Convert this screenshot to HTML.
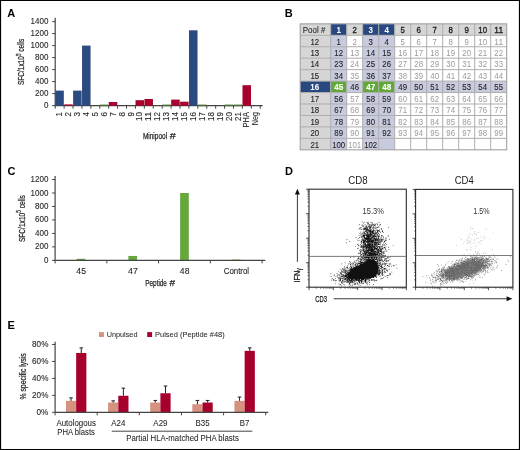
<!DOCTYPE html>
<html><head><meta charset="utf-8"><style>
html,body{margin:0;padding:0;background:#fff;}
svg{display:block;font-family:"Liberation Sans", sans-serif;will-change:transform;}
</style></head><body>
<svg width="520" height="450" viewBox="0 0 520 450">
<rect x="0" y="0" width="520" height="450" fill="#fff"/>
<text x="7.30" y="16.60" font-size="11" text-anchor="start" fill="#000" font-weight="bold" >A</text>
<line x1="55.20" y1="17.80" x2="55.20" y2="106.20" stroke="#444" stroke-width="1.2"/>
<line x1="52.20" y1="105.60" x2="55.20" y2="105.60" stroke="#444" stroke-width="1"/>
<text x="48.40" y="108.10" font-size="8.8" text-anchor="end" fill="#231f20" textLength="4.45" lengthAdjust="spacingAndGlyphs" stroke="#231f20" stroke-width="0.1" >0</text>
<line x1="52.20" y1="93.60" x2="55.20" y2="93.60" stroke="#444" stroke-width="1"/>
<text x="48.40" y="96.10" font-size="8.8" text-anchor="end" fill="#231f20" textLength="13.35" lengthAdjust="spacingAndGlyphs" stroke="#231f20" stroke-width="0.1" >200</text>
<line x1="52.20" y1="81.60" x2="55.20" y2="81.60" stroke="#444" stroke-width="1"/>
<text x="48.40" y="84.10" font-size="8.8" text-anchor="end" fill="#231f20" textLength="13.35" lengthAdjust="spacingAndGlyphs" stroke="#231f20" stroke-width="0.1" >400</text>
<line x1="52.20" y1="69.60" x2="55.20" y2="69.60" stroke="#444" stroke-width="1"/>
<text x="48.40" y="72.10" font-size="8.8" text-anchor="end" fill="#231f20" textLength="13.35" lengthAdjust="spacingAndGlyphs" stroke="#231f20" stroke-width="0.1" >600</text>
<line x1="52.20" y1="57.60" x2="55.20" y2="57.60" stroke="#444" stroke-width="1"/>
<text x="48.40" y="60.10" font-size="8.8" text-anchor="end" fill="#231f20" textLength="13.35" lengthAdjust="spacingAndGlyphs" stroke="#231f20" stroke-width="0.1" >800</text>
<line x1="52.20" y1="45.60" x2="55.20" y2="45.60" stroke="#444" stroke-width="1"/>
<text x="48.40" y="48.10" font-size="8.8" text-anchor="end" fill="#231f20" textLength="17.80" lengthAdjust="spacingAndGlyphs" stroke="#231f20" stroke-width="0.1" >1000</text>
<line x1="52.20" y1="33.60" x2="55.20" y2="33.60" stroke="#444" stroke-width="1"/>
<text x="48.40" y="36.10" font-size="8.8" text-anchor="end" fill="#231f20" textLength="17.80" lengthAdjust="spacingAndGlyphs" stroke="#231f20" stroke-width="0.1" >1200</text>
<line x1="52.20" y1="21.60" x2="55.20" y2="21.60" stroke="#444" stroke-width="1"/>
<text x="48.40" y="24.10" font-size="8.8" text-anchor="end" fill="#231f20" textLength="17.80" lengthAdjust="spacingAndGlyphs" stroke="#231f20" stroke-width="0.1" >1400</text>
<line x1="55.20" y1="105.60" x2="262.70" y2="105.60" stroke="#444" stroke-width="1.2"/>
<rect x="55.30" y="90.60" width="8.51" height="15.10" fill="#2b4a80" />
<rect x="64.21" y="104.40" width="8.51" height="1.30" fill="#a8002c" />
<rect x="73.13" y="90.60" width="8.51" height="15.10" fill="#2b4a80" />
<rect x="82.04" y="45.60" width="8.51" height="60.10" fill="#2b4a80" />
<rect x="99.87" y="104.60" width="8.51" height="1.60" fill="#4d6e38" />
<rect x="108.78" y="102.00" width="8.51" height="3.70" fill="#a8002c" />
<rect x="135.53" y="100.20" width="8.51" height="5.50" fill="#a8002c" />
<rect x="144.44" y="99.00" width="8.51" height="6.70" fill="#a8002c" />
<rect x="162.27" y="104.60" width="8.51" height="1.60" fill="#4d6e38" />
<rect x="171.18" y="99.60" width="8.51" height="6.10" fill="#a8002c" />
<rect x="180.10" y="101.70" width="8.51" height="4.00" fill="#a8002c" />
<rect x="189.01" y="30.30" width="8.51" height="75.40" fill="#2b4a80" />
<rect x="197.92" y="104.60" width="8.51" height="1.60" fill="#4d6e38" />
<rect x="224.67" y="104.60" width="8.51" height="1.60" fill="#4d6e38" />
<rect x="233.58" y="104.60" width="8.51" height="1.60" fill="#4d6e38" />
<rect x="242.49" y="85.20" width="8.51" height="20.50" fill="#a8002c" />
<line x1="55.20" y1="105.60" x2="55.20" y2="108.70" stroke="#444" stroke-width="1"/>
<line x1="64.11" y1="105.60" x2="64.11" y2="108.70" stroke="#444" stroke-width="1"/>
<line x1="73.03" y1="105.60" x2="73.03" y2="108.70" stroke="#444" stroke-width="1"/>
<line x1="81.94" y1="105.60" x2="81.94" y2="108.70" stroke="#444" stroke-width="1"/>
<line x1="90.86" y1="105.60" x2="90.86" y2="108.70" stroke="#444" stroke-width="1"/>
<line x1="99.77" y1="105.60" x2="99.77" y2="108.70" stroke="#444" stroke-width="1"/>
<line x1="108.68" y1="105.60" x2="108.68" y2="108.70" stroke="#444" stroke-width="1"/>
<line x1="117.60" y1="105.60" x2="117.60" y2="108.70" stroke="#444" stroke-width="1"/>
<line x1="126.51" y1="105.60" x2="126.51" y2="108.70" stroke="#444" stroke-width="1"/>
<line x1="135.43" y1="105.60" x2="135.43" y2="108.70" stroke="#444" stroke-width="1"/>
<line x1="144.34" y1="105.60" x2="144.34" y2="108.70" stroke="#444" stroke-width="1"/>
<line x1="153.25" y1="105.60" x2="153.25" y2="108.70" stroke="#444" stroke-width="1"/>
<line x1="162.17" y1="105.60" x2="162.17" y2="108.70" stroke="#444" stroke-width="1"/>
<line x1="171.08" y1="105.60" x2="171.08" y2="108.70" stroke="#444" stroke-width="1"/>
<line x1="180.00" y1="105.60" x2="180.00" y2="108.70" stroke="#444" stroke-width="1"/>
<line x1="188.91" y1="105.60" x2="188.91" y2="108.70" stroke="#444" stroke-width="1"/>
<line x1="197.82" y1="105.60" x2="197.82" y2="108.70" stroke="#444" stroke-width="1"/>
<line x1="206.74" y1="105.60" x2="206.74" y2="108.70" stroke="#444" stroke-width="1"/>
<line x1="215.65" y1="105.60" x2="215.65" y2="108.70" stroke="#444" stroke-width="1"/>
<line x1="224.57" y1="105.60" x2="224.57" y2="108.70" stroke="#444" stroke-width="1"/>
<line x1="233.48" y1="105.60" x2="233.48" y2="108.70" stroke="#444" stroke-width="1"/>
<line x1="242.39" y1="105.60" x2="242.39" y2="108.70" stroke="#444" stroke-width="1"/>
<line x1="251.31" y1="105.60" x2="251.31" y2="108.70" stroke="#444" stroke-width="1"/>
<line x1="260.22" y1="105.60" x2="260.22" y2="108.70" stroke="#444" stroke-width="1"/>
<text x="62.26" y="112.00" font-size="8.6" text-anchor="end" fill="#231f20" textLength="4.45" lengthAdjust="spacingAndGlyphs" transform="rotate(-90 62.26 112.00)" stroke="#231f20" stroke-width="0.1" >1</text>
<text x="71.17" y="112.00" font-size="8.6" text-anchor="end" fill="#231f20" textLength="4.45" lengthAdjust="spacingAndGlyphs" transform="rotate(-90 71.17 112.00)" stroke="#231f20" stroke-width="0.1" >2</text>
<text x="80.08" y="112.00" font-size="8.6" text-anchor="end" fill="#231f20" textLength="4.45" lengthAdjust="spacingAndGlyphs" transform="rotate(-90 80.08 112.00)" stroke="#231f20" stroke-width="0.1" >3</text>
<text x="89.00" y="112.00" font-size="8.6" text-anchor="end" fill="#231f20" textLength="4.45" lengthAdjust="spacingAndGlyphs" transform="rotate(-90 89.00 112.00)" stroke="#231f20" stroke-width="0.1" >4</text>
<text x="97.91" y="112.00" font-size="8.6" text-anchor="end" fill="#231f20" textLength="4.45" lengthAdjust="spacingAndGlyphs" transform="rotate(-90 97.91 112.00)" stroke="#231f20" stroke-width="0.1" >5</text>
<text x="106.83" y="112.00" font-size="8.6" text-anchor="end" fill="#231f20" textLength="4.45" lengthAdjust="spacingAndGlyphs" transform="rotate(-90 106.83 112.00)" stroke="#231f20" stroke-width="0.1" >6</text>
<text x="115.74" y="112.00" font-size="8.6" text-anchor="end" fill="#231f20" textLength="4.45" lengthAdjust="spacingAndGlyphs" transform="rotate(-90 115.74 112.00)" stroke="#231f20" stroke-width="0.1" >7</text>
<text x="124.66" y="112.00" font-size="8.6" text-anchor="end" fill="#231f20" textLength="4.45" lengthAdjust="spacingAndGlyphs" transform="rotate(-90 124.66 112.00)" stroke="#231f20" stroke-width="0.1" >8</text>
<text x="133.57" y="112.00" font-size="8.6" text-anchor="end" fill="#231f20" textLength="4.45" lengthAdjust="spacingAndGlyphs" transform="rotate(-90 133.57 112.00)" stroke="#231f20" stroke-width="0.1" >9</text>
<text x="142.48" y="112.00" font-size="8.6" text-anchor="end" fill="#231f20" textLength="8.90" lengthAdjust="spacingAndGlyphs" transform="rotate(-90 142.48 112.00)" stroke="#231f20" stroke-width="0.1" >10</text>
<text x="151.40" y="112.00" font-size="8.6" text-anchor="end" fill="#231f20" textLength="8.90" lengthAdjust="spacingAndGlyphs" transform="rotate(-90 151.40 112.00)" stroke="#231f20" stroke-width="0.1" >11</text>
<text x="160.31" y="112.00" font-size="8.6" text-anchor="end" fill="#231f20" textLength="8.90" lengthAdjust="spacingAndGlyphs" transform="rotate(-90 160.31 112.00)" stroke="#231f20" stroke-width="0.1" >12</text>
<text x="169.22" y="112.00" font-size="8.6" text-anchor="end" fill="#231f20" textLength="8.90" lengthAdjust="spacingAndGlyphs" transform="rotate(-90 169.22 112.00)" stroke="#231f20" stroke-width="0.1" >13</text>
<text x="178.14" y="112.00" font-size="8.6" text-anchor="end" fill="#231f20" textLength="8.90" lengthAdjust="spacingAndGlyphs" transform="rotate(-90 178.14 112.00)" stroke="#231f20" stroke-width="0.1" >14</text>
<text x="187.05" y="112.00" font-size="8.6" text-anchor="end" fill="#231f20" textLength="8.90" lengthAdjust="spacingAndGlyphs" transform="rotate(-90 187.05 112.00)" stroke="#231f20" stroke-width="0.1" >15</text>
<text x="195.97" y="112.00" font-size="8.6" text-anchor="end" fill="#231f20" textLength="8.90" lengthAdjust="spacingAndGlyphs" transform="rotate(-90 195.97 112.00)" stroke="#231f20" stroke-width="0.1" >16</text>
<text x="204.88" y="112.00" font-size="8.6" text-anchor="end" fill="#231f20" textLength="8.90" lengthAdjust="spacingAndGlyphs" transform="rotate(-90 204.88 112.00)" stroke="#231f20" stroke-width="0.1" >17</text>
<text x="213.79" y="112.00" font-size="8.6" text-anchor="end" fill="#231f20" textLength="8.90" lengthAdjust="spacingAndGlyphs" transform="rotate(-90 213.79 112.00)" stroke="#231f20" stroke-width="0.1" >18</text>
<text x="222.71" y="112.00" font-size="8.6" text-anchor="end" fill="#231f20" textLength="8.90" lengthAdjust="spacingAndGlyphs" transform="rotate(-90 222.71 112.00)" stroke="#231f20" stroke-width="0.1" >19</text>
<text x="231.62" y="112.00" font-size="8.6" text-anchor="end" fill="#231f20" textLength="8.90" lengthAdjust="spacingAndGlyphs" transform="rotate(-90 231.62 112.00)" stroke="#231f20" stroke-width="0.1" >20</text>
<text x="240.54" y="112.00" font-size="8.6" text-anchor="end" fill="#231f20" textLength="8.90" lengthAdjust="spacingAndGlyphs" transform="rotate(-90 240.54 112.00)" stroke="#231f20" stroke-width="0.1" >21</text>
<text x="249.45" y="112.00" font-size="8.6" text-anchor="end" fill="#231f20" textLength="15.40" lengthAdjust="spacingAndGlyphs" transform="rotate(-90 249.45 112.00)" stroke="#231f20" stroke-width="0.1" >PHA</text>
<text x="258.37" y="112.00" font-size="8.6" text-anchor="end" fill="#231f20" textLength="13.20" lengthAdjust="spacingAndGlyphs" transform="rotate(-90 258.37 112.00)" stroke="#231f20" stroke-width="0.1" >Neg</text>
<text x="142.90" y="139.40" font-size="9" text-anchor="start" fill="#231f20" textLength="24.20" lengthAdjust="spacingAndGlyphs" stroke="#231f20" stroke-width="0.25" >Minipool</text>
<text x="169.70" y="139.40" font-size="9.4" text-anchor="start" fill="#231f20" textLength="6.00" lengthAdjust="spacingAndGlyphs" stroke="#231f20" stroke-width="0.25" >#</text>
<text x="24.0" y="61.9" font-size="9.4" text-anchor="middle" fill="#231f20" stroke="#231f20" stroke-width="0.25" textLength="46.4" lengthAdjust="spacingAndGlyphs" transform="rotate(-90 24.0 61.9)">SFC/1x10<tspan font-size="6.6" dy="-3.4">5</tspan><tspan dy="3.4"> cells</tspan></text>
<text x="284.80" y="16.60" font-size="11" text-anchor="start" fill="#000" font-weight="bold" >B</text>
<rect x="300.20" y="23.85" width="30.50" height="11.45" fill="#d6d6d6" />
<rect x="330.70" y="23.85" width="16.00" height="11.45" fill="#284880" />
<rect x="346.70" y="23.85" width="16.00" height="11.45" fill="#d6d6d6" />
<rect x="362.70" y="23.85" width="16.00" height="11.45" fill="#284880" />
<rect x="378.70" y="23.85" width="16.00" height="11.45" fill="#284880" />
<rect x="394.70" y="23.85" width="16.00" height="11.45" fill="#d6d6d6" />
<rect x="410.70" y="23.85" width="16.00" height="11.45" fill="#d6d6d6" />
<rect x="426.70" y="23.85" width="16.00" height="11.45" fill="#d6d6d6" />
<rect x="442.70" y="23.85" width="16.00" height="11.45" fill="#d6d6d6" />
<rect x="458.70" y="23.85" width="16.00" height="11.45" fill="#d6d6d6" />
<rect x="474.70" y="23.85" width="16.00" height="11.45" fill="#d6d6d6" />
<rect x="490.70" y="23.85" width="16.00" height="11.45" fill="#d6d6d6" />
<rect x="300.20" y="35.30" width="30.50" height="11.45" fill="#d6d6d6" />
<rect x="330.70" y="35.30" width="16.00" height="11.45" fill="#c8cadf" />
<rect x="346.70" y="35.30" width="16.00" height="11.45" fill="#ffffff" />
<rect x="362.70" y="35.30" width="16.00" height="11.45" fill="#c8cadf" />
<rect x="378.70" y="35.30" width="16.00" height="11.45" fill="#c8cadf" />
<rect x="394.70" y="35.30" width="16.00" height="11.45" fill="#ffffff" />
<rect x="410.70" y="35.30" width="16.00" height="11.45" fill="#ffffff" />
<rect x="426.70" y="35.30" width="16.00" height="11.45" fill="#ffffff" />
<rect x="442.70" y="35.30" width="16.00" height="11.45" fill="#ffffff" />
<rect x="458.70" y="35.30" width="16.00" height="11.45" fill="#ffffff" />
<rect x="474.70" y="35.30" width="16.00" height="11.45" fill="#ffffff" />
<rect x="490.70" y="35.30" width="16.00" height="11.45" fill="#ffffff" />
<rect x="300.20" y="46.75" width="30.50" height="11.45" fill="#d6d6d6" />
<rect x="330.70" y="46.75" width="16.00" height="11.45" fill="#c8cadf" />
<rect x="346.70" y="46.75" width="16.00" height="11.45" fill="#ffffff" />
<rect x="362.70" y="46.75" width="16.00" height="11.45" fill="#c8cadf" />
<rect x="378.70" y="46.75" width="16.00" height="11.45" fill="#c8cadf" />
<rect x="394.70" y="46.75" width="16.00" height="11.45" fill="#ffffff" />
<rect x="410.70" y="46.75" width="16.00" height="11.45" fill="#ffffff" />
<rect x="426.70" y="46.75" width="16.00" height="11.45" fill="#ffffff" />
<rect x="442.70" y="46.75" width="16.00" height="11.45" fill="#ffffff" />
<rect x="458.70" y="46.75" width="16.00" height="11.45" fill="#ffffff" />
<rect x="474.70" y="46.75" width="16.00" height="11.45" fill="#ffffff" />
<rect x="490.70" y="46.75" width="16.00" height="11.45" fill="#ffffff" />
<rect x="300.20" y="58.20" width="30.50" height="11.45" fill="#d6d6d6" />
<rect x="330.70" y="58.20" width="16.00" height="11.45" fill="#c8cadf" />
<rect x="346.70" y="58.20" width="16.00" height="11.45" fill="#ffffff" />
<rect x="362.70" y="58.20" width="16.00" height="11.45" fill="#c8cadf" />
<rect x="378.70" y="58.20" width="16.00" height="11.45" fill="#c8cadf" />
<rect x="394.70" y="58.20" width="16.00" height="11.45" fill="#ffffff" />
<rect x="410.70" y="58.20" width="16.00" height="11.45" fill="#ffffff" />
<rect x="426.70" y="58.20" width="16.00" height="11.45" fill="#ffffff" />
<rect x="442.70" y="58.20" width="16.00" height="11.45" fill="#ffffff" />
<rect x="458.70" y="58.20" width="16.00" height="11.45" fill="#ffffff" />
<rect x="474.70" y="58.20" width="16.00" height="11.45" fill="#ffffff" />
<rect x="490.70" y="58.20" width="16.00" height="11.45" fill="#ffffff" />
<rect x="300.20" y="69.65" width="30.50" height="11.45" fill="#d6d6d6" />
<rect x="330.70" y="69.65" width="16.00" height="11.45" fill="#c8cadf" />
<rect x="346.70" y="69.65" width="16.00" height="11.45" fill="#ffffff" />
<rect x="362.70" y="69.65" width="16.00" height="11.45" fill="#c8cadf" />
<rect x="378.70" y="69.65" width="16.00" height="11.45" fill="#c8cadf" />
<rect x="394.70" y="69.65" width="16.00" height="11.45" fill="#ffffff" />
<rect x="410.70" y="69.65" width="16.00" height="11.45" fill="#ffffff" />
<rect x="426.70" y="69.65" width="16.00" height="11.45" fill="#ffffff" />
<rect x="442.70" y="69.65" width="16.00" height="11.45" fill="#ffffff" />
<rect x="458.70" y="69.65" width="16.00" height="11.45" fill="#ffffff" />
<rect x="474.70" y="69.65" width="16.00" height="11.45" fill="#ffffff" />
<rect x="490.70" y="69.65" width="16.00" height="11.45" fill="#ffffff" />
<rect x="300.20" y="81.10" width="30.50" height="11.45" fill="#284880" />
<rect x="330.70" y="81.10" width="16.00" height="11.45" fill="#62a839" />
<rect x="346.70" y="81.10" width="16.00" height="11.45" fill="#c8cadf" />
<rect x="362.70" y="81.10" width="16.00" height="11.45" fill="#62a839" />
<rect x="378.70" y="81.10" width="16.00" height="11.45" fill="#62a839" />
<rect x="394.70" y="81.10" width="16.00" height="11.45" fill="#c8cadf" />
<rect x="410.70" y="81.10" width="16.00" height="11.45" fill="#c8cadf" />
<rect x="426.70" y="81.10" width="16.00" height="11.45" fill="#c8cadf" />
<rect x="442.70" y="81.10" width="16.00" height="11.45" fill="#c8cadf" />
<rect x="458.70" y="81.10" width="16.00" height="11.45" fill="#c8cadf" />
<rect x="474.70" y="81.10" width="16.00" height="11.45" fill="#c8cadf" />
<rect x="490.70" y="81.10" width="16.00" height="11.45" fill="#c8cadf" />
<rect x="300.20" y="92.55" width="30.50" height="11.45" fill="#d6d6d6" />
<rect x="330.70" y="92.55" width="16.00" height="11.45" fill="#c8cadf" />
<rect x="346.70" y="92.55" width="16.00" height="11.45" fill="#ffffff" />
<rect x="362.70" y="92.55" width="16.00" height="11.45" fill="#c8cadf" />
<rect x="378.70" y="92.55" width="16.00" height="11.45" fill="#c8cadf" />
<rect x="394.70" y="92.55" width="16.00" height="11.45" fill="#ffffff" />
<rect x="410.70" y="92.55" width="16.00" height="11.45" fill="#ffffff" />
<rect x="426.70" y="92.55" width="16.00" height="11.45" fill="#ffffff" />
<rect x="442.70" y="92.55" width="16.00" height="11.45" fill="#ffffff" />
<rect x="458.70" y="92.55" width="16.00" height="11.45" fill="#ffffff" />
<rect x="474.70" y="92.55" width="16.00" height="11.45" fill="#ffffff" />
<rect x="490.70" y="92.55" width="16.00" height="11.45" fill="#ffffff" />
<rect x="300.20" y="104.00" width="30.50" height="11.45" fill="#d6d6d6" />
<rect x="330.70" y="104.00" width="16.00" height="11.45" fill="#c8cadf" />
<rect x="346.70" y="104.00" width="16.00" height="11.45" fill="#ffffff" />
<rect x="362.70" y="104.00" width="16.00" height="11.45" fill="#c8cadf" />
<rect x="378.70" y="104.00" width="16.00" height="11.45" fill="#c8cadf" />
<rect x="394.70" y="104.00" width="16.00" height="11.45" fill="#ffffff" />
<rect x="410.70" y="104.00" width="16.00" height="11.45" fill="#ffffff" />
<rect x="426.70" y="104.00" width="16.00" height="11.45" fill="#ffffff" />
<rect x="442.70" y="104.00" width="16.00" height="11.45" fill="#ffffff" />
<rect x="458.70" y="104.00" width="16.00" height="11.45" fill="#ffffff" />
<rect x="474.70" y="104.00" width="16.00" height="11.45" fill="#ffffff" />
<rect x="490.70" y="104.00" width="16.00" height="11.45" fill="#ffffff" />
<rect x="300.20" y="115.45" width="30.50" height="11.45" fill="#d6d6d6" />
<rect x="330.70" y="115.45" width="16.00" height="11.45" fill="#c8cadf" />
<rect x="346.70" y="115.45" width="16.00" height="11.45" fill="#ffffff" />
<rect x="362.70" y="115.45" width="16.00" height="11.45" fill="#c8cadf" />
<rect x="378.70" y="115.45" width="16.00" height="11.45" fill="#c8cadf" />
<rect x="394.70" y="115.45" width="16.00" height="11.45" fill="#ffffff" />
<rect x="410.70" y="115.45" width="16.00" height="11.45" fill="#ffffff" />
<rect x="426.70" y="115.45" width="16.00" height="11.45" fill="#ffffff" />
<rect x="442.70" y="115.45" width="16.00" height="11.45" fill="#ffffff" />
<rect x="458.70" y="115.45" width="16.00" height="11.45" fill="#ffffff" />
<rect x="474.70" y="115.45" width="16.00" height="11.45" fill="#ffffff" />
<rect x="490.70" y="115.45" width="16.00" height="11.45" fill="#ffffff" />
<rect x="300.20" y="126.90" width="30.50" height="11.45" fill="#d6d6d6" />
<rect x="330.70" y="126.90" width="16.00" height="11.45" fill="#c8cadf" />
<rect x="346.70" y="126.90" width="16.00" height="11.45" fill="#ffffff" />
<rect x="362.70" y="126.90" width="16.00" height="11.45" fill="#c8cadf" />
<rect x="378.70" y="126.90" width="16.00" height="11.45" fill="#c8cadf" />
<rect x="394.70" y="126.90" width="16.00" height="11.45" fill="#ffffff" />
<rect x="410.70" y="126.90" width="16.00" height="11.45" fill="#ffffff" />
<rect x="426.70" y="126.90" width="16.00" height="11.45" fill="#ffffff" />
<rect x="442.70" y="126.90" width="16.00" height="11.45" fill="#ffffff" />
<rect x="458.70" y="126.90" width="16.00" height="11.45" fill="#ffffff" />
<rect x="474.70" y="126.90" width="16.00" height="11.45" fill="#ffffff" />
<rect x="490.70" y="126.90" width="16.00" height="11.45" fill="#ffffff" />
<rect x="300.20" y="138.35" width="30.50" height="11.45" fill="#d6d6d6" />
<rect x="330.70" y="138.35" width="16.00" height="11.45" fill="#c8cadf" />
<rect x="346.70" y="138.35" width="16.00" height="11.45" fill="#ffffff" />
<rect x="362.70" y="138.35" width="16.00" height="11.45" fill="#c8cadf" />
<rect x="378.70" y="138.35" width="16.00" height="11.45" fill="#c8cadf" />
<rect x="394.70" y="138.35" width="16.00" height="11.45" fill="#ffffff" />
<rect x="410.70" y="138.35" width="16.00" height="11.45" fill="#ffffff" />
<rect x="426.70" y="138.35" width="16.00" height="11.45" fill="#ffffff" />
<rect x="442.70" y="138.35" width="16.00" height="11.45" fill="#ffffff" />
<rect x="458.70" y="138.35" width="16.00" height="11.45" fill="#ffffff" />
<rect x="474.70" y="138.35" width="16.00" height="11.45" fill="#ffffff" />
<rect x="490.70" y="138.35" width="16.00" height="11.45" fill="#ffffff" />
<line x1="300.20" y1="35.30" x2="506.70" y2="35.30" stroke="#adadad" stroke-width="1"/>
<line x1="300.20" y1="46.75" x2="506.70" y2="46.75" stroke="#adadad" stroke-width="1"/>
<line x1="300.20" y1="58.20" x2="506.70" y2="58.20" stroke="#adadad" stroke-width="1"/>
<line x1="300.20" y1="69.65" x2="506.70" y2="69.65" stroke="#adadad" stroke-width="1"/>
<line x1="300.20" y1="81.10" x2="506.70" y2="81.10" stroke="#adadad" stroke-width="1"/>
<line x1="300.20" y1="92.55" x2="506.70" y2="92.55" stroke="#adadad" stroke-width="1"/>
<line x1="300.20" y1="104.00" x2="506.70" y2="104.00" stroke="#adadad" stroke-width="1"/>
<line x1="300.20" y1="115.45" x2="506.70" y2="115.45" stroke="#adadad" stroke-width="1"/>
<line x1="300.20" y1="126.90" x2="506.70" y2="126.90" stroke="#adadad" stroke-width="1"/>
<line x1="300.20" y1="138.35" x2="506.70" y2="138.35" stroke="#adadad" stroke-width="1"/>
<line x1="330.70" y1="23.85" x2="330.70" y2="149.80" stroke="#adadad" stroke-width="1"/>
<line x1="346.70" y1="23.85" x2="346.70" y2="149.80" stroke="#adadad" stroke-width="1"/>
<line x1="362.70" y1="23.85" x2="362.70" y2="149.80" stroke="#adadad" stroke-width="1"/>
<line x1="378.70" y1="23.85" x2="378.70" y2="149.80" stroke="#adadad" stroke-width="1"/>
<line x1="394.70" y1="23.85" x2="394.70" y2="149.80" stroke="#adadad" stroke-width="1"/>
<line x1="410.70" y1="23.85" x2="410.70" y2="149.80" stroke="#adadad" stroke-width="1"/>
<line x1="426.70" y1="23.85" x2="426.70" y2="149.80" stroke="#adadad" stroke-width="1"/>
<line x1="442.70" y1="23.85" x2="442.70" y2="149.80" stroke="#adadad" stroke-width="1"/>
<line x1="458.70" y1="23.85" x2="458.70" y2="149.80" stroke="#adadad" stroke-width="1"/>
<line x1="474.70" y1="23.85" x2="474.70" y2="149.80" stroke="#adadad" stroke-width="1"/>
<line x1="490.70" y1="23.85" x2="490.70" y2="149.80" stroke="#adadad" stroke-width="1"/>
<rect x="300.20" y="23.85" width="206.50" height="125.95" fill="none" stroke="#a2a2a2" stroke-width="1.1"/>
<text x="302.80" y="32.90" font-size="9.0" text-anchor="start" fill="#333" textLength="22.50" lengthAdjust="spacingAndGlyphs" stroke="#333" stroke-width="0.15" >Pool #</text>
<text x="338.70" y="33.12" font-size="9.0" text-anchor="middle" fill="#fff" font-weight="bold" textLength="4.50" lengthAdjust="spacingAndGlyphs" >1</text>
<text x="354.70" y="33.12" font-size="9.0" text-anchor="middle" fill="#1e1e1e" textLength="4.35" lengthAdjust="spacingAndGlyphs" stroke="#1e1e1e" stroke-width="0.35" >2</text>
<text x="370.70" y="33.12" font-size="9.0" text-anchor="middle" fill="#fff" font-weight="bold" textLength="4.50" lengthAdjust="spacingAndGlyphs" >3</text>
<text x="386.70" y="33.12" font-size="9.0" text-anchor="middle" fill="#fff" font-weight="bold" textLength="4.50" lengthAdjust="spacingAndGlyphs" >4</text>
<text x="402.70" y="33.12" font-size="9.0" text-anchor="middle" fill="#1e1e1e" textLength="4.35" lengthAdjust="spacingAndGlyphs" stroke="#1e1e1e" stroke-width="0.35" >5</text>
<text x="418.70" y="33.12" font-size="9.0" text-anchor="middle" fill="#1e1e1e" textLength="4.35" lengthAdjust="spacingAndGlyphs" stroke="#1e1e1e" stroke-width="0.35" >6</text>
<text x="434.70" y="33.12" font-size="9.0" text-anchor="middle" fill="#1e1e1e" textLength="4.35" lengthAdjust="spacingAndGlyphs" stroke="#1e1e1e" stroke-width="0.35" >7</text>
<text x="450.70" y="33.12" font-size="9.0" text-anchor="middle" fill="#1e1e1e" textLength="4.35" lengthAdjust="spacingAndGlyphs" stroke="#1e1e1e" stroke-width="0.35" >8</text>
<text x="466.70" y="33.12" font-size="9.0" text-anchor="middle" fill="#1e1e1e" textLength="4.35" lengthAdjust="spacingAndGlyphs" stroke="#1e1e1e" stroke-width="0.35" >9</text>
<text x="482.70" y="33.12" font-size="9.0" text-anchor="middle" fill="#1e1e1e" textLength="8.70" lengthAdjust="spacingAndGlyphs" stroke="#1e1e1e" stroke-width="0.35" >10</text>
<text x="498.70" y="33.12" font-size="9.0" text-anchor="middle" fill="#1e1e1e" textLength="8.70" lengthAdjust="spacingAndGlyphs" stroke="#1e1e1e" stroke-width="0.35" >11</text>
<text x="314.85" y="44.57" font-size="9.0" text-anchor="middle" fill="#1e1e1e" textLength="8.70" lengthAdjust="spacingAndGlyphs" stroke="#1e1e1e" stroke-width="0.12" >12</text>
<text x="338.70" y="44.57" font-size="9.0" text-anchor="middle" fill="#1e1e1e" textLength="4.35" lengthAdjust="spacingAndGlyphs" stroke="#1e1e1e" stroke-width="0.1" >1</text>
<text x="354.70" y="44.57" font-size="9.0" text-anchor="middle" fill="#9a9a9a" textLength="4.35" lengthAdjust="spacingAndGlyphs" >2</text>
<text x="370.70" y="44.57" font-size="9.0" text-anchor="middle" fill="#1e1e1e" textLength="4.35" lengthAdjust="spacingAndGlyphs" stroke="#1e1e1e" stroke-width="0.1" >3</text>
<text x="386.70" y="44.57" font-size="9.0" text-anchor="middle" fill="#1e1e1e" textLength="4.35" lengthAdjust="spacingAndGlyphs" stroke="#1e1e1e" stroke-width="0.1" >4</text>
<text x="402.70" y="44.57" font-size="9.0" text-anchor="middle" fill="#9a9a9a" textLength="4.35" lengthAdjust="spacingAndGlyphs" >5</text>
<text x="418.70" y="44.57" font-size="9.0" text-anchor="middle" fill="#9a9a9a" textLength="4.35" lengthAdjust="spacingAndGlyphs" >6</text>
<text x="434.70" y="44.57" font-size="9.0" text-anchor="middle" fill="#9a9a9a" textLength="4.35" lengthAdjust="spacingAndGlyphs" >7</text>
<text x="450.70" y="44.57" font-size="9.0" text-anchor="middle" fill="#9a9a9a" textLength="4.35" lengthAdjust="spacingAndGlyphs" >8</text>
<text x="466.70" y="44.57" font-size="9.0" text-anchor="middle" fill="#9a9a9a" textLength="4.35" lengthAdjust="spacingAndGlyphs" >9</text>
<text x="482.70" y="44.57" font-size="9.0" text-anchor="middle" fill="#9a9a9a" textLength="8.70" lengthAdjust="spacingAndGlyphs" >10</text>
<text x="498.70" y="44.57" font-size="9.0" text-anchor="middle" fill="#9a9a9a" textLength="8.70" lengthAdjust="spacingAndGlyphs" >11</text>
<text x="314.85" y="56.02" font-size="9.0" text-anchor="middle" fill="#1e1e1e" textLength="8.70" lengthAdjust="spacingAndGlyphs" stroke="#1e1e1e" stroke-width="0.12" >13</text>
<text x="338.70" y="56.02" font-size="9.0" text-anchor="middle" fill="#1e1e1e" textLength="8.70" lengthAdjust="spacingAndGlyphs" stroke="#1e1e1e" stroke-width="0.1" >12</text>
<text x="354.70" y="56.02" font-size="9.0" text-anchor="middle" fill="#9a9a9a" textLength="8.70" lengthAdjust="spacingAndGlyphs" >13</text>
<text x="370.70" y="56.02" font-size="9.0" text-anchor="middle" fill="#1e1e1e" textLength="8.70" lengthAdjust="spacingAndGlyphs" stroke="#1e1e1e" stroke-width="0.1" >14</text>
<text x="386.70" y="56.02" font-size="9.0" text-anchor="middle" fill="#1e1e1e" textLength="8.70" lengthAdjust="spacingAndGlyphs" stroke="#1e1e1e" stroke-width="0.1" >15</text>
<text x="402.70" y="56.02" font-size="9.0" text-anchor="middle" fill="#9a9a9a" textLength="8.70" lengthAdjust="spacingAndGlyphs" >16</text>
<text x="418.70" y="56.02" font-size="9.0" text-anchor="middle" fill="#9a9a9a" textLength="8.70" lengthAdjust="spacingAndGlyphs" >17</text>
<text x="434.70" y="56.02" font-size="9.0" text-anchor="middle" fill="#9a9a9a" textLength="8.70" lengthAdjust="spacingAndGlyphs" >18</text>
<text x="450.70" y="56.02" font-size="9.0" text-anchor="middle" fill="#9a9a9a" textLength="8.70" lengthAdjust="spacingAndGlyphs" >19</text>
<text x="466.70" y="56.02" font-size="9.0" text-anchor="middle" fill="#9a9a9a" textLength="8.70" lengthAdjust="spacingAndGlyphs" >20</text>
<text x="482.70" y="56.02" font-size="9.0" text-anchor="middle" fill="#9a9a9a" textLength="8.70" lengthAdjust="spacingAndGlyphs" >21</text>
<text x="498.70" y="56.02" font-size="9.0" text-anchor="middle" fill="#9a9a9a" textLength="8.70" lengthAdjust="spacingAndGlyphs" >22</text>
<text x="314.85" y="67.47" font-size="9.0" text-anchor="middle" fill="#1e1e1e" textLength="8.70" lengthAdjust="spacingAndGlyphs" stroke="#1e1e1e" stroke-width="0.12" >14</text>
<text x="338.70" y="67.47" font-size="9.0" text-anchor="middle" fill="#1e1e1e" textLength="8.70" lengthAdjust="spacingAndGlyphs" stroke="#1e1e1e" stroke-width="0.1" >23</text>
<text x="354.70" y="67.47" font-size="9.0" text-anchor="middle" fill="#9a9a9a" textLength="8.70" lengthAdjust="spacingAndGlyphs" >24</text>
<text x="370.70" y="67.47" font-size="9.0" text-anchor="middle" fill="#1e1e1e" textLength="8.70" lengthAdjust="spacingAndGlyphs" stroke="#1e1e1e" stroke-width="0.1" >25</text>
<text x="386.70" y="67.47" font-size="9.0" text-anchor="middle" fill="#1e1e1e" textLength="8.70" lengthAdjust="spacingAndGlyphs" stroke="#1e1e1e" stroke-width="0.1" >26</text>
<text x="402.70" y="67.47" font-size="9.0" text-anchor="middle" fill="#9a9a9a" textLength="8.70" lengthAdjust="spacingAndGlyphs" >27</text>
<text x="418.70" y="67.47" font-size="9.0" text-anchor="middle" fill="#9a9a9a" textLength="8.70" lengthAdjust="spacingAndGlyphs" >28</text>
<text x="434.70" y="67.47" font-size="9.0" text-anchor="middle" fill="#9a9a9a" textLength="8.70" lengthAdjust="spacingAndGlyphs" >29</text>
<text x="450.70" y="67.47" font-size="9.0" text-anchor="middle" fill="#9a9a9a" textLength="8.70" lengthAdjust="spacingAndGlyphs" >30</text>
<text x="466.70" y="67.47" font-size="9.0" text-anchor="middle" fill="#9a9a9a" textLength="8.70" lengthAdjust="spacingAndGlyphs" >31</text>
<text x="482.70" y="67.47" font-size="9.0" text-anchor="middle" fill="#9a9a9a" textLength="8.70" lengthAdjust="spacingAndGlyphs" >32</text>
<text x="498.70" y="67.47" font-size="9.0" text-anchor="middle" fill="#9a9a9a" textLength="8.70" lengthAdjust="spacingAndGlyphs" >33</text>
<text x="314.85" y="78.92" font-size="9.0" text-anchor="middle" fill="#1e1e1e" textLength="8.70" lengthAdjust="spacingAndGlyphs" stroke="#1e1e1e" stroke-width="0.12" >15</text>
<text x="338.70" y="78.92" font-size="9.0" text-anchor="middle" fill="#1e1e1e" textLength="8.70" lengthAdjust="spacingAndGlyphs" stroke="#1e1e1e" stroke-width="0.1" >34</text>
<text x="354.70" y="78.92" font-size="9.0" text-anchor="middle" fill="#9a9a9a" textLength="8.70" lengthAdjust="spacingAndGlyphs" >35</text>
<text x="370.70" y="78.92" font-size="9.0" text-anchor="middle" fill="#1e1e1e" textLength="8.70" lengthAdjust="spacingAndGlyphs" stroke="#1e1e1e" stroke-width="0.1" >36</text>
<text x="386.70" y="78.92" font-size="9.0" text-anchor="middle" fill="#1e1e1e" textLength="8.70" lengthAdjust="spacingAndGlyphs" stroke="#1e1e1e" stroke-width="0.1" >37</text>
<text x="402.70" y="78.92" font-size="9.0" text-anchor="middle" fill="#9a9a9a" textLength="8.70" lengthAdjust="spacingAndGlyphs" >38</text>
<text x="418.70" y="78.92" font-size="9.0" text-anchor="middle" fill="#9a9a9a" textLength="8.70" lengthAdjust="spacingAndGlyphs" >39</text>
<text x="434.70" y="78.92" font-size="9.0" text-anchor="middle" fill="#9a9a9a" textLength="8.70" lengthAdjust="spacingAndGlyphs" >40</text>
<text x="450.70" y="78.92" font-size="9.0" text-anchor="middle" fill="#9a9a9a" textLength="8.70" lengthAdjust="spacingAndGlyphs" >41</text>
<text x="466.70" y="78.92" font-size="9.0" text-anchor="middle" fill="#9a9a9a" textLength="8.70" lengthAdjust="spacingAndGlyphs" >42</text>
<text x="482.70" y="78.92" font-size="9.0" text-anchor="middle" fill="#9a9a9a" textLength="8.70" lengthAdjust="spacingAndGlyphs" >43</text>
<text x="498.70" y="78.92" font-size="9.0" text-anchor="middle" fill="#9a9a9a" textLength="8.70" lengthAdjust="spacingAndGlyphs" >44</text>
<text x="314.85" y="90.37" font-size="9.0" text-anchor="middle" fill="#fff" font-weight="bold" textLength="9.00" lengthAdjust="spacingAndGlyphs" >16</text>
<text x="338.70" y="90.37" font-size="9.0" text-anchor="middle" fill="#fff" font-weight="bold" textLength="9.00" lengthAdjust="spacingAndGlyphs" stroke="#fff" stroke-width="0.15" >45</text>
<text x="354.70" y="90.37" font-size="9.0" text-anchor="middle" fill="#1e1e1e" textLength="8.70" lengthAdjust="spacingAndGlyphs" stroke="#1e1e1e" stroke-width="0.1" >46</text>
<text x="370.70" y="90.37" font-size="9.0" text-anchor="middle" fill="#fff" font-weight="bold" textLength="9.00" lengthAdjust="spacingAndGlyphs" stroke="#fff" stroke-width="0.15" >47</text>
<text x="386.70" y="90.37" font-size="9.0" text-anchor="middle" fill="#fff" font-weight="bold" textLength="9.00" lengthAdjust="spacingAndGlyphs" stroke="#fff" stroke-width="0.15" >48</text>
<text x="402.70" y="90.37" font-size="9.0" text-anchor="middle" fill="#1e1e1e" textLength="8.70" lengthAdjust="spacingAndGlyphs" stroke="#1e1e1e" stroke-width="0.1" >49</text>
<text x="418.70" y="90.37" font-size="9.0" text-anchor="middle" fill="#1e1e1e" textLength="8.70" lengthAdjust="spacingAndGlyphs" stroke="#1e1e1e" stroke-width="0.1" >50</text>
<text x="434.70" y="90.37" font-size="9.0" text-anchor="middle" fill="#1e1e1e" textLength="8.70" lengthAdjust="spacingAndGlyphs" stroke="#1e1e1e" stroke-width="0.1" >51</text>
<text x="450.70" y="90.37" font-size="9.0" text-anchor="middle" fill="#1e1e1e" textLength="8.70" lengthAdjust="spacingAndGlyphs" stroke="#1e1e1e" stroke-width="0.1" >52</text>
<text x="466.70" y="90.37" font-size="9.0" text-anchor="middle" fill="#1e1e1e" textLength="8.70" lengthAdjust="spacingAndGlyphs" stroke="#1e1e1e" stroke-width="0.1" >53</text>
<text x="482.70" y="90.37" font-size="9.0" text-anchor="middle" fill="#1e1e1e" textLength="8.70" lengthAdjust="spacingAndGlyphs" stroke="#1e1e1e" stroke-width="0.1" >54</text>
<text x="498.70" y="90.37" font-size="9.0" text-anchor="middle" fill="#1e1e1e" textLength="8.70" lengthAdjust="spacingAndGlyphs" stroke="#1e1e1e" stroke-width="0.1" >55</text>
<text x="314.85" y="101.82" font-size="9.0" text-anchor="middle" fill="#1e1e1e" textLength="8.70" lengthAdjust="spacingAndGlyphs" stroke="#1e1e1e" stroke-width="0.12" >17</text>
<text x="338.70" y="101.82" font-size="9.0" text-anchor="middle" fill="#1e1e1e" textLength="8.70" lengthAdjust="spacingAndGlyphs" stroke="#1e1e1e" stroke-width="0.1" >56</text>
<text x="354.70" y="101.82" font-size="9.0" text-anchor="middle" fill="#9a9a9a" textLength="8.70" lengthAdjust="spacingAndGlyphs" >57</text>
<text x="370.70" y="101.82" font-size="9.0" text-anchor="middle" fill="#1e1e1e" textLength="8.70" lengthAdjust="spacingAndGlyphs" stroke="#1e1e1e" stroke-width="0.1" >58</text>
<text x="386.70" y="101.82" font-size="9.0" text-anchor="middle" fill="#1e1e1e" textLength="8.70" lengthAdjust="spacingAndGlyphs" stroke="#1e1e1e" stroke-width="0.1" >59</text>
<text x="402.70" y="101.82" font-size="9.0" text-anchor="middle" fill="#9a9a9a" textLength="8.70" lengthAdjust="spacingAndGlyphs" >60</text>
<text x="418.70" y="101.82" font-size="9.0" text-anchor="middle" fill="#9a9a9a" textLength="8.70" lengthAdjust="spacingAndGlyphs" >61</text>
<text x="434.70" y="101.82" font-size="9.0" text-anchor="middle" fill="#9a9a9a" textLength="8.70" lengthAdjust="spacingAndGlyphs" >62</text>
<text x="450.70" y="101.82" font-size="9.0" text-anchor="middle" fill="#9a9a9a" textLength="8.70" lengthAdjust="spacingAndGlyphs" >63</text>
<text x="466.70" y="101.82" font-size="9.0" text-anchor="middle" fill="#9a9a9a" textLength="8.70" lengthAdjust="spacingAndGlyphs" >64</text>
<text x="482.70" y="101.82" font-size="9.0" text-anchor="middle" fill="#9a9a9a" textLength="8.70" lengthAdjust="spacingAndGlyphs" >65</text>
<text x="498.70" y="101.82" font-size="9.0" text-anchor="middle" fill="#9a9a9a" textLength="8.70" lengthAdjust="spacingAndGlyphs" >66</text>
<text x="314.85" y="113.27" font-size="9.0" text-anchor="middle" fill="#1e1e1e" textLength="8.70" lengthAdjust="spacingAndGlyphs" stroke="#1e1e1e" stroke-width="0.12" >18</text>
<text x="338.70" y="113.27" font-size="9.0" text-anchor="middle" fill="#1e1e1e" textLength="8.70" lengthAdjust="spacingAndGlyphs" stroke="#1e1e1e" stroke-width="0.1" >67</text>
<text x="354.70" y="113.27" font-size="9.0" text-anchor="middle" fill="#9a9a9a" textLength="8.70" lengthAdjust="spacingAndGlyphs" >68</text>
<text x="370.70" y="113.27" font-size="9.0" text-anchor="middle" fill="#1e1e1e" textLength="8.70" lengthAdjust="spacingAndGlyphs" stroke="#1e1e1e" stroke-width="0.1" >69</text>
<text x="386.70" y="113.27" font-size="9.0" text-anchor="middle" fill="#1e1e1e" textLength="8.70" lengthAdjust="spacingAndGlyphs" stroke="#1e1e1e" stroke-width="0.1" >70</text>
<text x="402.70" y="113.27" font-size="9.0" text-anchor="middle" fill="#9a9a9a" textLength="8.70" lengthAdjust="spacingAndGlyphs" >71</text>
<text x="418.70" y="113.27" font-size="9.0" text-anchor="middle" fill="#9a9a9a" textLength="8.70" lengthAdjust="spacingAndGlyphs" >72</text>
<text x="434.70" y="113.27" font-size="9.0" text-anchor="middle" fill="#9a9a9a" textLength="8.70" lengthAdjust="spacingAndGlyphs" >73</text>
<text x="450.70" y="113.27" font-size="9.0" text-anchor="middle" fill="#9a9a9a" textLength="8.70" lengthAdjust="spacingAndGlyphs" >74</text>
<text x="466.70" y="113.27" font-size="9.0" text-anchor="middle" fill="#9a9a9a" textLength="8.70" lengthAdjust="spacingAndGlyphs" >75</text>
<text x="482.70" y="113.27" font-size="9.0" text-anchor="middle" fill="#9a9a9a" textLength="8.70" lengthAdjust="spacingAndGlyphs" >76</text>
<text x="498.70" y="113.27" font-size="9.0" text-anchor="middle" fill="#9a9a9a" textLength="8.70" lengthAdjust="spacingAndGlyphs" >77</text>
<text x="314.85" y="124.72" font-size="9.0" text-anchor="middle" fill="#1e1e1e" textLength="8.70" lengthAdjust="spacingAndGlyphs" stroke="#1e1e1e" stroke-width="0.12" >19</text>
<text x="338.70" y="124.72" font-size="9.0" text-anchor="middle" fill="#1e1e1e" textLength="8.70" lengthAdjust="spacingAndGlyphs" stroke="#1e1e1e" stroke-width="0.1" >78</text>
<text x="354.70" y="124.72" font-size="9.0" text-anchor="middle" fill="#9a9a9a" textLength="8.70" lengthAdjust="spacingAndGlyphs" >79</text>
<text x="370.70" y="124.72" font-size="9.0" text-anchor="middle" fill="#1e1e1e" textLength="8.70" lengthAdjust="spacingAndGlyphs" stroke="#1e1e1e" stroke-width="0.1" >80</text>
<text x="386.70" y="124.72" font-size="9.0" text-anchor="middle" fill="#1e1e1e" textLength="8.70" lengthAdjust="spacingAndGlyphs" stroke="#1e1e1e" stroke-width="0.1" >81</text>
<text x="402.70" y="124.72" font-size="9.0" text-anchor="middle" fill="#9a9a9a" textLength="8.70" lengthAdjust="spacingAndGlyphs" >82</text>
<text x="418.70" y="124.72" font-size="9.0" text-anchor="middle" fill="#9a9a9a" textLength="8.70" lengthAdjust="spacingAndGlyphs" >83</text>
<text x="434.70" y="124.72" font-size="9.0" text-anchor="middle" fill="#9a9a9a" textLength="8.70" lengthAdjust="spacingAndGlyphs" >84</text>
<text x="450.70" y="124.72" font-size="9.0" text-anchor="middle" fill="#9a9a9a" textLength="8.70" lengthAdjust="spacingAndGlyphs" >85</text>
<text x="466.70" y="124.72" font-size="9.0" text-anchor="middle" fill="#9a9a9a" textLength="8.70" lengthAdjust="spacingAndGlyphs" >86</text>
<text x="482.70" y="124.72" font-size="9.0" text-anchor="middle" fill="#9a9a9a" textLength="8.70" lengthAdjust="spacingAndGlyphs" >87</text>
<text x="498.70" y="124.72" font-size="9.0" text-anchor="middle" fill="#9a9a9a" textLength="8.70" lengthAdjust="spacingAndGlyphs" >88</text>
<text x="314.85" y="136.18" font-size="9.0" text-anchor="middle" fill="#1e1e1e" textLength="8.70" lengthAdjust="spacingAndGlyphs" stroke="#1e1e1e" stroke-width="0.12" >20</text>
<text x="338.70" y="136.18" font-size="9.0" text-anchor="middle" fill="#1e1e1e" textLength="8.70" lengthAdjust="spacingAndGlyphs" stroke="#1e1e1e" stroke-width="0.1" >89</text>
<text x="354.70" y="136.18" font-size="9.0" text-anchor="middle" fill="#9a9a9a" textLength="8.70" lengthAdjust="spacingAndGlyphs" >90</text>
<text x="370.70" y="136.18" font-size="9.0" text-anchor="middle" fill="#1e1e1e" textLength="8.70" lengthAdjust="spacingAndGlyphs" stroke="#1e1e1e" stroke-width="0.1" >91</text>
<text x="386.70" y="136.18" font-size="9.0" text-anchor="middle" fill="#1e1e1e" textLength="8.70" lengthAdjust="spacingAndGlyphs" stroke="#1e1e1e" stroke-width="0.1" >92</text>
<text x="402.70" y="136.18" font-size="9.0" text-anchor="middle" fill="#9a9a9a" textLength="8.70" lengthAdjust="spacingAndGlyphs" >93</text>
<text x="418.70" y="136.18" font-size="9.0" text-anchor="middle" fill="#9a9a9a" textLength="8.70" lengthAdjust="spacingAndGlyphs" >94</text>
<text x="434.70" y="136.18" font-size="9.0" text-anchor="middle" fill="#9a9a9a" textLength="8.70" lengthAdjust="spacingAndGlyphs" >95</text>
<text x="450.70" y="136.18" font-size="9.0" text-anchor="middle" fill="#9a9a9a" textLength="8.70" lengthAdjust="spacingAndGlyphs" >96</text>
<text x="466.70" y="136.18" font-size="9.0" text-anchor="middle" fill="#9a9a9a" textLength="8.70" lengthAdjust="spacingAndGlyphs" >97</text>
<text x="482.70" y="136.18" font-size="9.0" text-anchor="middle" fill="#9a9a9a" textLength="8.70" lengthAdjust="spacingAndGlyphs" >98</text>
<text x="498.70" y="136.18" font-size="9.0" text-anchor="middle" fill="#9a9a9a" textLength="8.70" lengthAdjust="spacingAndGlyphs" >99</text>
<text x="314.85" y="147.62" font-size="9.0" text-anchor="middle" fill="#1e1e1e" textLength="8.70" lengthAdjust="spacingAndGlyphs" stroke="#1e1e1e" stroke-width="0.12" >21</text>
<text x="338.70" y="147.62" font-size="9.0" text-anchor="middle" fill="#1e1e1e" textLength="13.05" lengthAdjust="spacingAndGlyphs" stroke="#1e1e1e" stroke-width="0.1" >100</text>
<text x="354.70" y="147.62" font-size="9.0" text-anchor="middle" fill="#9a9a9a" textLength="13.05" lengthAdjust="spacingAndGlyphs" >101</text>
<text x="370.70" y="147.62" font-size="9.0" text-anchor="middle" fill="#1e1e1e" textLength="13.05" lengthAdjust="spacingAndGlyphs" stroke="#1e1e1e" stroke-width="0.1" >102</text>
<text x="7.40" y="175.00" font-size="11" text-anchor="start" fill="#000" font-weight="bold" >C</text>
<line x1="55.10" y1="176.00" x2="55.10" y2="261.00" stroke="#444" stroke-width="1.2"/>
<line x1="52.10" y1="260.40" x2="55.10" y2="260.40" stroke="#444" stroke-width="1"/>
<text x="48.40" y="262.90" font-size="8.8" text-anchor="end" fill="#231f20" textLength="4.45" lengthAdjust="spacingAndGlyphs" stroke="#231f20" stroke-width="0.1" >0</text>
<line x1="52.10" y1="246.92" x2="55.10" y2="246.92" stroke="#444" stroke-width="1"/>
<text x="48.40" y="249.42" font-size="8.8" text-anchor="end" fill="#231f20" textLength="13.35" lengthAdjust="spacingAndGlyphs" stroke="#231f20" stroke-width="0.1" >200</text>
<line x1="52.10" y1="233.44" x2="55.10" y2="233.44" stroke="#444" stroke-width="1"/>
<text x="48.40" y="235.94" font-size="8.8" text-anchor="end" fill="#231f20" textLength="13.35" lengthAdjust="spacingAndGlyphs" stroke="#231f20" stroke-width="0.1" >400</text>
<line x1="52.10" y1="219.96" x2="55.10" y2="219.96" stroke="#444" stroke-width="1"/>
<text x="48.40" y="222.46" font-size="8.8" text-anchor="end" fill="#231f20" textLength="13.35" lengthAdjust="spacingAndGlyphs" stroke="#231f20" stroke-width="0.1" >600</text>
<line x1="52.10" y1="206.48" x2="55.10" y2="206.48" stroke="#444" stroke-width="1"/>
<text x="48.40" y="208.98" font-size="8.8" text-anchor="end" fill="#231f20" textLength="13.35" lengthAdjust="spacingAndGlyphs" stroke="#231f20" stroke-width="0.1" >800</text>
<line x1="52.10" y1="193.00" x2="55.10" y2="193.00" stroke="#444" stroke-width="1"/>
<text x="48.40" y="195.50" font-size="8.8" text-anchor="end" fill="#231f20" textLength="17.80" lengthAdjust="spacingAndGlyphs" stroke="#231f20" stroke-width="0.1" >1000</text>
<line x1="52.10" y1="179.52" x2="55.10" y2="179.52" stroke="#444" stroke-width="1"/>
<text x="48.40" y="182.02" font-size="8.8" text-anchor="end" fill="#231f20" textLength="17.80" lengthAdjust="spacingAndGlyphs" stroke="#231f20" stroke-width="0.1" >1200</text>
<rect x="76.62" y="258.78" width="8.70" height="1.62" fill="#66a83c" />
<text x="81.17" y="273.80" font-size="8.4" text-anchor="middle" fill="#231f20" textLength="9.60" lengthAdjust="spacingAndGlyphs" stroke="#231f20" stroke-width="0.1" >45</text>
<rect x="128.38" y="255.95" width="8.70" height="4.45" fill="#66a83c" />
<text x="132.92" y="273.80" font-size="8.4" text-anchor="middle" fill="#231f20" textLength="9.60" lengthAdjust="spacingAndGlyphs" stroke="#231f20" stroke-width="0.1" >47</text>
<rect x="180.12" y="193.00" width="8.70" height="67.40" fill="#66a83c" />
<text x="184.67" y="273.80" font-size="8.4" text-anchor="middle" fill="#231f20" textLength="9.60" lengthAdjust="spacingAndGlyphs" stroke="#231f20" stroke-width="0.1" >48</text>
<rect x="231.88" y="259.59" width="8.70" height="0.81" fill="#66a83c" />
<text x="236.42" y="273.80" font-size="8.4" text-anchor="middle" fill="#231f20" textLength="25.30" lengthAdjust="spacingAndGlyphs" stroke="#231f20" stroke-width="0.1" >Control</text>
<line x1="55.10" y1="260.40" x2="265.30" y2="260.40" stroke="#444" stroke-width="1.2"/>
<line x1="55.10" y1="260.40" x2="55.10" y2="263.40" stroke="#444" stroke-width="1"/>
<line x1="106.85" y1="260.40" x2="106.85" y2="263.40" stroke="#444" stroke-width="1"/>
<line x1="158.60" y1="260.40" x2="158.60" y2="263.40" stroke="#444" stroke-width="1"/>
<line x1="210.35" y1="260.40" x2="210.35" y2="263.40" stroke="#444" stroke-width="1"/>
<line x1="262.10" y1="260.40" x2="262.10" y2="263.40" stroke="#444" stroke-width="1"/>
<text x="145.30" y="286.30" font-size="9" text-anchor="start" fill="#231f20" textLength="21.60" lengthAdjust="spacingAndGlyphs" stroke="#231f20" stroke-width="0.25" >Peptide</text>
<text x="169.60" y="286.30" font-size="9.4" text-anchor="start" fill="#231f20" textLength="5.60" lengthAdjust="spacingAndGlyphs" stroke="#231f20" stroke-width="0.25" >#</text>
<text x="24.6" y="218.6" font-size="9.4" text-anchor="middle" fill="#231f20" stroke="#231f20" stroke-width="0.25" textLength="47" lengthAdjust="spacingAndGlyphs" transform="rotate(-90 24.6 218.6)">SFC/1x10<tspan font-size="6.6" dy="-3.4">5</tspan><tspan dy="3.4"> cells</tspan></text>
<text x="284.90" y="174.60" font-size="11" text-anchor="start" fill="#000" font-weight="bold" >D</text>
<path d="M344.5 276.5 C346 270.5 352 266.5 358 264.5 C363 262.5 366 258 371.5 257.5 C377 257.5 381 261.5 381 267.5 C381 273.5 378.5 278.5 372 279.8 C364 281 353 281 348.5 280.2 C345.5 279.5 344 278.5 344.5 276.5 Z" fill="#141414" transform="translate(364.5 270) scale(0.84) translate(-364.5 -270)"/>
<path d="M352.4 275.4h0.7v0.7h-0.7zM373.2 266.4h0.7v0.7h-0.7zM350.9 273.4h0.7v0.7h-0.7zM369.8 275.4h0.7v0.7h-0.7zM350.8 267.2h0.7v0.7h-0.7zM371.4 271.9h0.7v0.7h-0.7zM380.0 272.6h0.7v0.7h-0.7zM362.7 269.9h0.7v0.7h-0.7zM388.8 264.2h0.7v0.7h-0.7zM355.1 267.1h0.7v0.7h-0.7zM365.1 271.5h0.7v0.7h-0.7zM360.6 271.4h0.7v0.7h-0.7zM367.4 273.8h0.7v0.7h-0.7zM374.9 269.7h0.7v0.7h-0.7zM347.2 278.2h0.7v0.7h-0.7zM349.9 273.1h0.7v0.7h-0.7zM349.6 274.1h0.7v0.7h-0.7zM356.6 273.7h0.7v0.7h-0.7zM396.2 263.9h0.7v0.7h-0.7zM370.9 262.8h0.7v0.7h-0.7zM361.9 274.8h0.7v0.7h-0.7zM363.5 273.0h0.7v0.7h-0.7zM364.0 265.9h0.7v0.7h-0.7zM368.7 265.9h0.7v0.7h-0.7zM381.8 264.6h0.7v0.7h-0.7zM370.7 269.6h0.7v0.7h-0.7zM372.7 266.1h0.7v0.7h-0.7zM373.6 268.3h0.7v0.7h-0.7zM377.0 271.4h0.7v0.7h-0.7zM364.6 266.9h0.7v0.7h-0.7zM372.0 271.7h0.7v0.7h-0.7zM379.7 265.7h0.7v0.7h-0.7zM370.0 272.3h0.7v0.7h-0.7zM367.0 271.4h0.7v0.7h-0.7zM365.2 267.7h0.7v0.7h-0.7zM353.7 271.2h0.7v0.7h-0.7zM371.4 277.2h0.7v0.7h-0.7zM374.7 274.1h0.7v0.7h-0.7zM372.3 272.8h0.7v0.7h-0.7zM366.6 274.4h0.7v0.7h-0.7zM381.0 265.7h0.7v0.7h-0.7zM359.3 282.0h0.7v0.7h-0.7zM367.4 275.2h0.7v0.7h-0.7zM371.4 263.6h0.7v0.7h-0.7zM389.6 274.6h0.7v0.7h-0.7zM366.5 274.3h0.7v0.7h-0.7zM364.3 266.4h0.7v0.7h-0.7zM363.3 273.1h0.7v0.7h-0.7zM375.7 272.1h0.7v0.7h-0.7zM366.0 277.5h0.7v0.7h-0.7zM357.4 276.5h0.7v0.7h-0.7zM374.6 267.3h0.7v0.7h-0.7zM345.5 270.3h0.7v0.7h-0.7zM366.9 273.1h0.7v0.7h-0.7zM378.1 262.9h0.7v0.7h-0.7zM364.7 274.2h0.7v0.7h-0.7zM360.0 259.7h0.7v0.7h-0.7zM374.3 280.6h0.7v0.7h-0.7zM372.9 264.4h0.7v0.7h-0.7zM360.2 272.9h0.7v0.7h-0.7zM389.0 268.8h0.7v0.7h-0.7zM366.7 278.4h0.7v0.7h-0.7zM365.1 280.3h0.7v0.7h-0.7zM356.8 270.1h0.7v0.7h-0.7zM372.5 276.5h0.7v0.7h-0.7zM370.7 271.1h0.7v0.7h-0.7zM345.4 271.3h0.7v0.7h-0.7zM357.5 269.7h0.7v0.7h-0.7zM369.4 268.1h0.7v0.7h-0.7zM371.8 269.8h0.7v0.7h-0.7zM360.9 272.3h0.7v0.7h-0.7zM369.1 274.3h0.7v0.7h-0.7zM359.1 270.9h0.7v0.7h-0.7zM352.3 281.7h0.7v0.7h-0.7zM378.0 267.1h0.7v0.7h-0.7zM358.0 266.0h0.7v0.7h-0.7zM365.9 271.7h0.7v0.7h-0.7zM385.6 267.7h0.7v0.7h-0.7zM353.8 260.7h0.7v0.7h-0.7zM378.0 269.0h0.7v0.7h-0.7zM348.4 275.2h0.7v0.7h-0.7zM375.5 271.5h0.7v0.7h-0.7zM360.1 260.9h0.7v0.7h-0.7zM361.1 263.7h0.7v0.7h-0.7zM367.6 259.3h0.7v0.7h-0.7zM356.4 278.9h0.7v0.7h-0.7zM378.9 261.8h0.7v0.7h-0.7zM349.9 278.5h0.7v0.7h-0.7zM371.3 264.4h0.7v0.7h-0.7zM356.5 269.0h0.7v0.7h-0.7zM351.7 270.1h0.7v0.7h-0.7zM377.0 271.8h0.7v0.7h-0.7zM384.0 266.3h0.7v0.7h-0.7zM361.7 266.5h0.7v0.7h-0.7zM361.4 264.8h0.7v0.7h-0.7zM347.3 278.1h0.7v0.7h-0.7zM379.0 272.1h0.7v0.7h-0.7zM377.3 269.5h0.7v0.7h-0.7zM357.1 272.9h0.7v0.7h-0.7zM359.2 266.3h0.7v0.7h-0.7zM345.9 267.3h0.7v0.7h-0.7zM364.1 271.7h0.7v0.7h-0.7zM360.8 279.0h0.7v0.7h-0.7zM366.4 273.5h0.7v0.7h-0.7zM375.1 264.5h0.7v0.7h-0.7zM345.5 278.8h0.7v0.7h-0.7zM358.6 278.8h0.7v0.7h-0.7zM368.3 275.2h0.7v0.7h-0.7zM369.3 259.2h0.7v0.7h-0.7zM370.3 266.2h0.7v0.7h-0.7zM356.2 270.4h0.7v0.7h-0.7zM372.4 273.7h0.7v0.7h-0.7zM372.2 260.8h0.7v0.7h-0.7zM355.8 260.6h0.7v0.7h-0.7zM363.6 274.1h0.7v0.7h-0.7zM356.8 273.8h0.7v0.7h-0.7zM367.3 275.4h0.7v0.7h-0.7zM355.1 268.7h0.7v0.7h-0.7zM358.4 281.2h0.7v0.7h-0.7zM374.5 268.1h0.7v0.7h-0.7zM366.3 271.1h0.7v0.7h-0.7zM365.8 269.6h0.7v0.7h-0.7zM359.4 265.5h0.7v0.7h-0.7zM359.4 280.4h0.7v0.7h-0.7zM369.3 270.2h0.7v0.7h-0.7zM362.0 271.8h0.7v0.7h-0.7zM366.8 267.1h0.7v0.7h-0.7zM366.2 271.8h0.7v0.7h-0.7zM355.9 268.7h0.7v0.7h-0.7zM353.1 267.9h0.7v0.7h-0.7zM370.3 257.6h0.7v0.7h-0.7zM360.8 268.6h0.7v0.7h-0.7zM358.0 272.8h0.7v0.7h-0.7zM375.1 269.0h0.7v0.7h-0.7zM362.0 268.3h0.7v0.7h-0.7zM363.7 275.7h0.7v0.7h-0.7zM359.0 266.2h0.7v0.7h-0.7zM350.5 268.2h0.7v0.7h-0.7zM351.5 279.3h0.7v0.7h-0.7zM367.2 269.1h0.7v0.7h-0.7zM377.6 264.7h0.7v0.7h-0.7zM372.2 273.4h0.7v0.7h-0.7zM347.3 266.6h0.7v0.7h-0.7zM355.9 277.4h0.7v0.7h-0.7zM375.4 262.3h0.7v0.7h-0.7zM373.9 266.9h0.7v0.7h-0.7zM359.6 269.1h0.7v0.7h-0.7zM358.9 262.8h0.7v0.7h-0.7zM352.9 267.0h0.7v0.7h-0.7zM371.0 280.2h0.7v0.7h-0.7zM390.4 263.7h0.7v0.7h-0.7zM346.7 272.6h0.7v0.7h-0.7zM356.9 282.7h0.7v0.7h-0.7zM368.8 266.2h0.7v0.7h-0.7zM373.7 271.7h0.7v0.7h-0.7zM347.5 271.8h0.7v0.7h-0.7zM361.7 271.6h0.7v0.7h-0.7zM364.9 269.1h0.7v0.7h-0.7zM365.2 267.7h0.7v0.7h-0.7zM356.8 280.3h0.7v0.7h-0.7zM368.0 272.4h0.7v0.7h-0.7zM348.2 273.5h0.7v0.7h-0.7zM370.7 263.0h0.7v0.7h-0.7zM374.3 266.8h0.7v0.7h-0.7zM367.8 269.5h0.7v0.7h-0.7zM367.4 276.4h0.7v0.7h-0.7zM361.7 279.5h0.7v0.7h-0.7zM355.4 268.1h0.7v0.7h-0.7zM369.8 264.3h0.7v0.7h-0.7zM361.3 276.2h0.7v0.7h-0.7zM374.0 259.8h0.7v0.7h-0.7zM370.9 279.2h0.7v0.7h-0.7zM375.4 267.3h0.7v0.7h-0.7zM357.8 270.8h0.7v0.7h-0.7zM352.4 272.1h0.7v0.7h-0.7zM362.0 270.7h0.7v0.7h-0.7zM375.3 267.4h0.7v0.7h-0.7zM350.8 279.2h0.7v0.7h-0.7zM353.0 271.0h0.7v0.7h-0.7zM362.3 269.6h0.7v0.7h-0.7zM353.9 271.9h0.7v0.7h-0.7zM384.7 263.5h0.7v0.7h-0.7zM363.8 276.8h0.7v0.7h-0.7zM372.1 273.2h0.7v0.7h-0.7zM370.4 259.6h0.7v0.7h-0.7zM355.7 273.4h0.7v0.7h-0.7zM370.2 276.3h0.7v0.7h-0.7zM368.3 268.9h0.7v0.7h-0.7zM364.2 269.9h0.7v0.7h-0.7zM367.1 273.8h0.7v0.7h-0.7zM359.8 267.7h0.7v0.7h-0.7zM356.8 278.1h0.7v0.7h-0.7zM377.6 273.2h0.7v0.7h-0.7zM373.2 273.3h0.7v0.7h-0.7zM364.7 274.3h0.7v0.7h-0.7zM353.5 272.2h0.7v0.7h-0.7zM357.6 276.1h0.7v0.7h-0.7zM358.2 271.7h0.7v0.7h-0.7zM369.3 276.8h0.7v0.7h-0.7zM355.3 268.1h0.7v0.7h-0.7zM370.8 263.9h0.7v0.7h-0.7zM367.8 267.3h0.7v0.7h-0.7zM361.1 262.3h0.7v0.7h-0.7zM370.5 267.1h0.7v0.7h-0.7zM357.4 283.0h0.7v0.7h-0.7zM367.6 268.4h0.7v0.7h-0.7zM366.7 278.6h0.7v0.7h-0.7zM364.2 273.3h0.7v0.7h-0.7zM368.1 265.5h0.7v0.7h-0.7zM364.7 268.3h0.7v0.7h-0.7zM352.7 277.9h0.7v0.7h-0.7zM370.6 270.0h0.7v0.7h-0.7zM353.0 263.1h0.7v0.7h-0.7zM368.6 269.5h0.7v0.7h-0.7zM347.5 274.2h0.7v0.7h-0.7zM349.1 274.0h0.7v0.7h-0.7zM365.8 272.4h0.7v0.7h-0.7zM366.3 271.4h0.7v0.7h-0.7zM352.5 271.5h0.7v0.7h-0.7zM358.8 270.9h0.7v0.7h-0.7zM367.3 273.5h0.7v0.7h-0.7zM377.3 255.0h0.7v0.7h-0.7zM367.7 269.2h0.7v0.7h-0.7zM387.2 270.8h0.7v0.7h-0.7zM348.2 276.4h0.7v0.7h-0.7zM359.9 276.9h0.7v0.7h-0.7zM353.6 272.7h0.7v0.7h-0.7zM362.6 270.8h0.7v0.7h-0.7zM356.4 263.2h0.7v0.7h-0.7zM369.5 274.9h0.7v0.7h-0.7zM362.3 266.2h0.7v0.7h-0.7zM366.6 273.3h0.7v0.7h-0.7zM362.3 271.3h0.7v0.7h-0.7zM376.6 262.6h0.7v0.7h-0.7zM356.6 262.8h0.7v0.7h-0.7zM356.4 268.8h0.7v0.7h-0.7zM353.9 269.6h0.7v0.7h-0.7zM381.4 266.3h0.7v0.7h-0.7zM365.2 282.0h0.7v0.7h-0.7zM361.6 262.6h0.7v0.7h-0.7zM367.0 265.6h0.7v0.7h-0.7zM378.7 261.5h0.7v0.7h-0.7zM356.7 264.4h0.7v0.7h-0.7zM363.9 265.8h0.7v0.7h-0.7zM363.0 269.3h0.7v0.7h-0.7zM359.0 276.9h0.7v0.7h-0.7zM373.2 269.4h0.7v0.7h-0.7zM354.1 267.6h0.7v0.7h-0.7zM369.1 282.1h0.7v0.7h-0.7zM358.7 268.1h0.7v0.7h-0.7zM356.0 267.1h0.7v0.7h-0.7zM354.3 272.0h0.7v0.7h-0.7zM378.0 268.0h0.7v0.7h-0.7zM357.3 264.2h0.7v0.7h-0.7zM366.1 270.4h0.7v0.7h-0.7zM350.9 268.2h0.7v0.7h-0.7zM364.6 276.0h0.7v0.7h-0.7zM370.3 270.7h0.7v0.7h-0.7zM361.2 273.2h0.7v0.7h-0.7zM366.1 281.7h0.7v0.7h-0.7zM352.5 271.6h0.7v0.7h-0.7zM376.1 267.1h0.7v0.7h-0.7zM377.9 267.8h0.7v0.7h-0.7zM365.0 268.9h0.7v0.7h-0.7zM349.5 269.1h0.7v0.7h-0.7zM386.3 269.6h0.7v0.7h-0.7zM370.9 274.4h0.7v0.7h-0.7zM370.6 274.8h0.7v0.7h-0.7zM361.2 270.5h0.7v0.7h-0.7zM373.3 267.2h0.7v0.7h-0.7zM350.7 272.7h0.7v0.7h-0.7zM359.3 275.1h0.7v0.7h-0.7zM355.9 267.3h0.7v0.7h-0.7zM362.4 279.3h0.7v0.7h-0.7zM363.7 271.9h0.7v0.7h-0.7zM364.4 272.4h0.7v0.7h-0.7zM374.5 275.9h0.7v0.7h-0.7zM349.3 281.1h0.7v0.7h-0.7zM363.6 269.4h0.7v0.7h-0.7zM387.3 265.2h0.7v0.7h-0.7zM384.0 271.7h0.7v0.7h-0.7zM354.4 275.5h0.7v0.7h-0.7zM371.1 268.9h0.7v0.7h-0.7zM340.9 274.2h0.7v0.7h-0.7zM361.0 266.0h0.7v0.7h-0.7zM381.6 266.0h0.7v0.7h-0.7zM359.8 270.4h0.7v0.7h-0.7zM355.5 268.8h0.7v0.7h-0.7zM365.2 272.3h0.7v0.7h-0.7zM358.9 271.6h0.7v0.7h-0.7zM350.9 276.4h0.7v0.7h-0.7zM356.9 273.6h0.7v0.7h-0.7zM354.6 270.4h0.7v0.7h-0.7zM364.8 264.6h0.7v0.7h-0.7zM388.1 265.7h0.7v0.7h-0.7zM362.5 267.6h0.7v0.7h-0.7zM381.0 274.5h0.7v0.7h-0.7zM365.5 263.7h0.7v0.7h-0.7zM359.7 275.1h0.7v0.7h-0.7zM357.8 266.3h0.7v0.7h-0.7zM351.6 269.7h0.7v0.7h-0.7zM363.5 267.8h0.7v0.7h-0.7zM367.1 284.6h0.7v0.7h-0.7zM380.3 262.2h0.7v0.7h-0.7zM367.4 270.7h0.7v0.7h-0.7zM363.7 276.4h0.7v0.7h-0.7zM360.4 270.1h0.7v0.7h-0.7zM360.2 271.3h0.7v0.7h-0.7zM377.4 272.1h0.7v0.7h-0.7zM350.4 271.6h0.7v0.7h-0.7zM357.0 276.6h0.7v0.7h-0.7zM367.1 274.9h0.7v0.7h-0.7zM361.4 261.8h0.7v0.7h-0.7zM368.6 271.2h0.7v0.7h-0.7zM367.6 263.6h0.7v0.7h-0.7zM364.1 267.5h0.7v0.7h-0.7zM357.6 274.2h0.7v0.7h-0.7zM366.5 265.9h0.7v0.7h-0.7zM344.7 262.5h0.7v0.7h-0.7zM359.5 277.7h0.7v0.7h-0.7zM361.1 260.1h0.7v0.7h-0.7zM356.0 274.9h0.7v0.7h-0.7zM381.6 273.2h0.7v0.7h-0.7zM367.8 271.2h0.7v0.7h-0.7zM353.2 271.0h0.7v0.7h-0.7zM359.9 267.9h0.7v0.7h-0.7zM364.2 268.9h0.7v0.7h-0.7zM368.8 277.3h0.7v0.7h-0.7zM371.7 271.5h0.7v0.7h-0.7zM360.1 264.1h0.7v0.7h-0.7zM363.4 273.9h0.7v0.7h-0.7zM355.4 279.2h0.7v0.7h-0.7zM361.1 273.5h0.7v0.7h-0.7zM359.5 265.5h0.7v0.7h-0.7zM383.0 261.0h0.7v0.7h-0.7zM372.4 266.4h0.7v0.7h-0.7zM365.9 266.5h0.7v0.7h-0.7zM360.9 276.4h0.7v0.7h-0.7zM382.2 262.8h0.7v0.7h-0.7zM365.1 275.6h0.7v0.7h-0.7zM358.6 275.8h0.7v0.7h-0.7zM357.0 275.6h0.7v0.7h-0.7zM369.5 276.0h0.7v0.7h-0.7zM366.3 264.4h0.7v0.7h-0.7zM369.4 264.2h0.7v0.7h-0.7zM372.9 276.8h0.7v0.7h-0.7zM369.3 267.1h0.7v0.7h-0.7zM375.8 269.3h0.7v0.7h-0.7zM351.5 271.9h0.7v0.7h-0.7zM377.6 266.6h0.7v0.7h-0.7zM364.8 269.1h0.7v0.7h-0.7zM347.0 272.0h0.7v0.7h-0.7zM367.7 271.3h0.7v0.7h-0.7zM360.1 260.9h0.7v0.7h-0.7zM376.7 272.0h0.7v0.7h-0.7zM375.4 275.2h0.7v0.7h-0.7zM359.0 269.0h0.7v0.7h-0.7zM368.8 278.5h0.7v0.7h-0.7zM347.3 273.4h0.7v0.7h-0.7zM357.6 275.2h0.7v0.7h-0.7zM378.0 266.5h0.7v0.7h-0.7zM351.9 273.8h0.7v0.7h-0.7zM359.6 264.0h0.7v0.7h-0.7zM372.1 266.6h0.7v0.7h-0.7zM369.3 263.1h0.7v0.7h-0.7zM373.2 261.7h0.7v0.7h-0.7zM372.4 260.0h0.7v0.7h-0.7zM377.1 266.3h0.7v0.7h-0.7zM348.5 273.1h0.7v0.7h-0.7zM366.3 265.5h0.7v0.7h-0.7zM359.5 273.3h0.7v0.7h-0.7zM359.2 256.4h0.7v0.7h-0.7zM360.2 274.0h0.7v0.7h-0.7zM368.0 275.3h0.7v0.7h-0.7zM359.9 284.9h0.7v0.7h-0.7zM372.2 270.9h0.7v0.7h-0.7zM375.6 273.4h0.7v0.7h-0.7zM364.4 267.8h0.7v0.7h-0.7zM374.5 270.9h0.7v0.7h-0.7zM344.3 269.5h0.7v0.7h-0.7zM368.7 270.6h0.7v0.7h-0.7zM367.4 273.6h0.7v0.7h-0.7zM367.1 278.4h0.7v0.7h-0.7zM357.8 270.3h0.7v0.7h-0.7zM367.9 274.0h0.7v0.7h-0.7zM373.2 276.6h0.7v0.7h-0.7zM360.5 277.7h0.7v0.7h-0.7zM367.5 264.9h0.7v0.7h-0.7zM364.8 281.5h0.7v0.7h-0.7zM371.2 267.1h0.7v0.7h-0.7zM339.8 272.4h0.7v0.7h-0.7zM357.2 272.8h0.7v0.7h-0.7zM387.4 269.8h0.7v0.7h-0.7zM366.1 265.8h0.7v0.7h-0.7zM352.2 272.5h0.7v0.7h-0.7zM359.4 268.8h0.7v0.7h-0.7zM375.1 269.0h0.7v0.7h-0.7zM353.3 279.9h0.7v0.7h-0.7zM359.6 265.1h0.7v0.7h-0.7zM367.7 272.7h0.7v0.7h-0.7zM361.4 275.1h0.7v0.7h-0.7zM371.1 265.0h0.7v0.7h-0.7zM341.4 263.6h0.7v0.7h-0.7zM364.0 277.3h0.7v0.7h-0.7zM375.3 275.7h0.7v0.7h-0.7zM382.2 267.2h0.7v0.7h-0.7zM372.7 261.3h0.7v0.7h-0.7zM371.1 271.5h0.7v0.7h-0.7zM362.6 269.0h0.7v0.7h-0.7zM353.2 274.0h0.7v0.7h-0.7zM376.1 266.5h0.7v0.7h-0.7zM368.5 266.6h0.7v0.7h-0.7zM365.4 265.5h0.7v0.7h-0.7zM367.5 269.1h0.7v0.7h-0.7zM366.5 267.4h0.7v0.7h-0.7zM352.2 271.8h0.7v0.7h-0.7zM375.8 276.6h0.7v0.7h-0.7zM361.7 275.6h0.7v0.7h-0.7zM371.8 271.3h0.7v0.7h-0.7zM349.2 275.8h0.7v0.7h-0.7zM355.7 278.8h0.7v0.7h-0.7zM372.4 272.4h0.7v0.7h-0.7zM339.8 279.3h0.7v0.7h-0.7zM369.5 263.3h0.7v0.7h-0.7zM373.6 269.4h0.7v0.7h-0.7zM361.5 267.9h0.7v0.7h-0.7zM353.6 271.0h0.7v0.7h-0.7zM394.4 265.6h0.7v0.7h-0.7zM365.4 267.4h0.7v0.7h-0.7zM357.4 269.6h0.7v0.7h-0.7zM356.2 277.1h0.7v0.7h-0.7zM362.3 275.8h0.7v0.7h-0.7zM353.7 277.9h0.7v0.7h-0.7zM364.4 274.3h0.7v0.7h-0.7zM362.1 266.9h0.7v0.7h-0.7zM375.4 266.4h0.7v0.7h-0.7zM361.6 267.0h0.7v0.7h-0.7zM365.6 268.7h0.7v0.7h-0.7zM367.1 272.1h0.7v0.7h-0.7zM355.8 265.5h0.7v0.7h-0.7zM369.2 274.6h0.7v0.7h-0.7zM369.6 264.0h0.7v0.7h-0.7zM370.3 271.6h0.7v0.7h-0.7zM367.2 272.5h0.7v0.7h-0.7zM361.1 272.7h0.7v0.7h-0.7zM372.5 266.6h0.7v0.7h-0.7zM349.8 273.5h0.7v0.7h-0.7zM364.0 261.6h0.7v0.7h-0.7zM358.0 275.3h0.7v0.7h-0.7zM362.6 271.8h0.7v0.7h-0.7zM352.6 278.1h0.7v0.7h-0.7zM381.0 266.4h0.7v0.7h-0.7zM355.6 266.9h0.7v0.7h-0.7zM372.8 269.7h0.7v0.7h-0.7zM357.5 278.6h0.7v0.7h-0.7zM372.1 272.4h0.7v0.7h-0.7zM346.7 274.2h0.7v0.7h-0.7zM368.8 263.7h0.7v0.7h-0.7zM374.6 276.1h0.7v0.7h-0.7zM373.4 265.3h0.7v0.7h-0.7zM358.1 277.1h0.7v0.7h-0.7zM375.0 274.9h0.7v0.7h-0.7zM375.6 268.0h0.7v0.7h-0.7zM358.1 262.8h0.7v0.7h-0.7zM374.0 280.5h0.7v0.7h-0.7zM359.0 269.6h0.7v0.7h-0.7zM370.7 271.5h0.7v0.7h-0.7zM349.9 270.4h0.7v0.7h-0.7zM355.4 283.2h0.7v0.7h-0.7zM357.9 276.7h0.7v0.7h-0.7zM384.7 276.3h0.7v0.7h-0.7zM379.6 276.0h0.7v0.7h-0.7zM351.6 271.9h0.7v0.7h-0.7zM356.6 271.1h0.7v0.7h-0.7zM387.9 257.3h0.7v0.7h-0.7zM368.2 263.8h0.7v0.7h-0.7zM378.4 274.6h0.7v0.7h-0.7zM361.1 282.2h0.7v0.7h-0.7zM366.1 277.2h0.7v0.7h-0.7zM366.5 267.6h0.7v0.7h-0.7zM360.2 271.2h0.7v0.7h-0.7zM370.2 270.3h0.7v0.7h-0.7zM386.9 265.1h0.7v0.7h-0.7zM358.7 268.5h0.7v0.7h-0.7zM354.9 265.6h0.7v0.7h-0.7zM355.3 277.5h0.7v0.7h-0.7zM364.4 270.0h0.7v0.7h-0.7zM368.5 275.5h0.7v0.7h-0.7zM370.8 273.5h0.7v0.7h-0.7zM358.3 270.9h0.7v0.7h-0.7zM356.3 272.1h0.7v0.7h-0.7zM355.6 270.9h0.7v0.7h-0.7zM362.1 270.3h0.7v0.7h-0.7zM360.9 269.1h0.7v0.7h-0.7zM376.5 266.6h0.7v0.7h-0.7zM354.3 274.0h0.7v0.7h-0.7zM352.2 268.0h0.7v0.7h-0.7zM363.1 262.7h0.7v0.7h-0.7zM332.8 279.1h0.7v0.7h-0.7zM372.4 260.7h0.7v0.7h-0.7zM355.8 275.7h0.7v0.7h-0.7zM343.7 270.9h0.7v0.7h-0.7zM352.0 272.5h0.7v0.7h-0.7zM345.6 279.5h0.7v0.7h-0.7zM362.9 272.8h0.7v0.7h-0.7zM358.6 261.3h0.7v0.7h-0.7zM361.1 264.8h0.7v0.7h-0.7zM363.2 266.8h0.7v0.7h-0.7zM360.7 270.6h0.7v0.7h-0.7zM372.4 273.1h0.7v0.7h-0.7zM354.2 273.0h0.7v0.7h-0.7zM378.8 270.4h0.7v0.7h-0.7zM356.7 271.9h0.7v0.7h-0.7zM361.6 276.3h0.7v0.7h-0.7zM364.7 272.8h0.7v0.7h-0.7zM384.2 259.7h0.7v0.7h-0.7zM352.3 264.6h0.7v0.7h-0.7zM349.3 278.5h0.7v0.7h-0.7zM368.6 278.4h0.7v0.7h-0.7zM343.8 270.8h0.7v0.7h-0.7zM379.2 273.0h0.7v0.7h-0.7zM373.6 273.4h0.7v0.7h-0.7zM364.3 270.9h0.7v0.7h-0.7zM365.2 275.1h0.7v0.7h-0.7zM362.7 272.9h0.7v0.7h-0.7zM377.0 262.5h0.7v0.7h-0.7zM357.3 275.3h0.7v0.7h-0.7zM361.3 270.8h0.7v0.7h-0.7zM385.0 268.7h0.7v0.7h-0.7zM361.1 277.2h0.7v0.7h-0.7zM387.5 260.3h0.7v0.7h-0.7zM357.6 273.0h0.7v0.7h-0.7zM360.0 282.9h0.7v0.7h-0.7zM368.7 268.0h0.7v0.7h-0.7zM368.0 266.1h0.7v0.7h-0.7zM358.2 272.8h0.7v0.7h-0.7zM385.0 255.0h0.7v0.7h-0.7zM369.5 276.7h0.7v0.7h-0.7zM373.2 278.9h0.7v0.7h-0.7zM368.6 270.8h0.7v0.7h-0.7zM361.8 267.1h0.7v0.7h-0.7zM378.8 261.8h0.7v0.7h-0.7zM362.2 268.7h0.7v0.7h-0.7zM354.0 261.8h0.7v0.7h-0.7zM360.4 272.5h0.7v0.7h-0.7zM366.3 274.8h0.7v0.7h-0.7zM361.7 268.2h0.7v0.7h-0.7zM367.7 273.6h0.7v0.7h-0.7zM353.6 265.4h0.7v0.7h-0.7zM355.1 278.3h0.7v0.7h-0.7zM372.8 264.6h0.7v0.7h-0.7zM366.0 274.9h0.7v0.7h-0.7zM376.3 265.0h0.7v0.7h-0.7zM363.1 278.4h0.7v0.7h-0.7zM389.2 273.5h0.7v0.7h-0.7zM353.3 275.6h0.7v0.7h-0.7zM361.0 271.3h0.7v0.7h-0.7zM357.0 270.0h0.7v0.7h-0.7zM365.8 279.8h0.7v0.7h-0.7zM371.3 271.6h0.7v0.7h-0.7zM363.5 267.3h0.7v0.7h-0.7zM363.0 277.5h0.7v0.7h-0.7zM374.2 278.9h0.7v0.7h-0.7zM366.5 270.4h0.7v0.7h-0.7zM348.6 276.3h0.7v0.7h-0.7zM348.7 282.0h0.7v0.7h-0.7zM357.8 272.3h0.7v0.7h-0.7zM350.3 271.4h0.7v0.7h-0.7zM356.1 278.5h0.7v0.7h-0.7zM365.2 264.7h0.7v0.7h-0.7zM345.0 274.7h0.7v0.7h-0.7zM358.1 266.6h0.7v0.7h-0.7zM369.6 268.9h0.7v0.7h-0.7zM364.5 267.9h0.7v0.7h-0.7zM357.9 269.9h0.7v0.7h-0.7zM349.0 277.4h0.7v0.7h-0.7zM366.2 261.7h0.7v0.7h-0.7zM366.2 276.4h0.7v0.7h-0.7zM367.7 276.8h0.7v0.7h-0.7zM361.4 271.6h0.7v0.7h-0.7zM350.3 269.3h0.7v0.7h-0.7zM345.2 270.4h0.7v0.7h-0.7zM366.9 273.0h0.7v0.7h-0.7zM375.5 269.2h0.7v0.7h-0.7zM354.8 275.2h0.7v0.7h-0.7zM364.4 280.0h0.7v0.7h-0.7zM384.2 271.6h0.7v0.7h-0.7zM352.3 270.8h0.7v0.7h-0.7zM365.1 267.1h0.7v0.7h-0.7zM369.8 273.3h0.7v0.7h-0.7zM372.4 270.4h0.7v0.7h-0.7zM354.5 268.7h0.7v0.7h-0.7zM364.2 277.7h0.7v0.7h-0.7zM380.4 272.5h0.7v0.7h-0.7zM368.3 273.6h0.7v0.7h-0.7zM373.4 275.6h0.7v0.7h-0.7zM370.8 261.7h0.7v0.7h-0.7zM373.7 270.9h0.7v0.7h-0.7zM360.0 274.5h0.7v0.7h-0.7zM366.8 270.1h0.7v0.7h-0.7zM347.6 275.1h0.7v0.7h-0.7zM369.4 269.6h0.7v0.7h-0.7zM348.9 276.5h0.7v0.7h-0.7zM371.2 270.4h0.7v0.7h-0.7zM367.8 268.4h0.7v0.7h-0.7zM358.1 274.9h0.7v0.7h-0.7zM360.7 272.6h0.7v0.7h-0.7zM396.6 267.7h0.7v0.7h-0.7zM363.6 262.8h0.7v0.7h-0.7zM365.7 274.5h0.7v0.7h-0.7zM356.9 271.3h0.7v0.7h-0.7zM342.5 278.4h0.7v0.7h-0.7zM358.9 275.6h0.7v0.7h-0.7zM377.2 267.4h0.7v0.7h-0.7zM373.9 270.2h0.7v0.7h-0.7zM361.7 270.1h0.7v0.7h-0.7zM357.0 279.0h0.7v0.7h-0.7zM371.6 264.3h0.7v0.7h-0.7zM371.5 265.7h0.7v0.7h-0.7zM350.5 280.0h0.7v0.7h-0.7zM352.7 279.5h0.7v0.7h-0.7zM366.9 275.0h0.7v0.7h-0.7zM370.2 275.6h0.7v0.7h-0.7zM368.0 273.1h0.7v0.7h-0.7zM367.6 275.8h0.7v0.7h-0.7zM361.2 276.8h0.7v0.7h-0.7zM378.7 267.6h0.7v0.7h-0.7zM367.8 267.6h0.7v0.7h-0.7zM361.5 272.9h0.7v0.7h-0.7zM359.7 267.4h0.7v0.7h-0.7zM363.9 272.0h0.7v0.7h-0.7zM367.9 273.8h0.7v0.7h-0.7zM348.1 281.6h0.7v0.7h-0.7zM361.5 267.6h0.7v0.7h-0.7zM360.8 273.9h0.7v0.7h-0.7zM372.1 267.4h0.7v0.7h-0.7zM363.9 262.9h0.7v0.7h-0.7zM365.5 270.1h0.7v0.7h-0.7zM360.7 276.2h0.7v0.7h-0.7zM382.6 272.3h0.7v0.7h-0.7zM357.9 280.1h0.7v0.7h-0.7zM360.7 271.5h0.7v0.7h-0.7zM358.8 274.4h0.7v0.7h-0.7zM369.6 270.6h0.7v0.7h-0.7zM361.8 270.7h0.7v0.7h-0.7zM361.1 276.6h0.7v0.7h-0.7zM358.8 271.4h0.7v0.7h-0.7zM361.2 267.8h0.7v0.7h-0.7zM360.3 264.3h0.7v0.7h-0.7zM368.5 272.8h0.7v0.7h-0.7zM362.7 279.2h0.7v0.7h-0.7zM356.6 275.4h0.7v0.7h-0.7zM368.1 267.4h0.7v0.7h-0.7zM362.6 275.8h0.7v0.7h-0.7zM364.9 272.2h0.7v0.7h-0.7zM377.9 269.2h0.7v0.7h-0.7zM347.0 270.9h0.7v0.7h-0.7zM372.0 268.6h0.7v0.7h-0.7zM351.4 263.6h0.7v0.7h-0.7zM368.7 277.6h0.7v0.7h-0.7zM349.6 263.0h0.7v0.7h-0.7zM368.3 267.3h0.7v0.7h-0.7zM360.8 270.0h0.7v0.7h-0.7zM355.7 275.0h0.7v0.7h-0.7zM373.3 270.9h0.7v0.7h-0.7zM359.7 277.2h0.7v0.7h-0.7zM363.5 274.1h0.7v0.7h-0.7zM355.6 276.1h0.7v0.7h-0.7zM372.6 275.7h0.7v0.7h-0.7zM364.7 273.1h0.7v0.7h-0.7zM359.3 276.5h0.7v0.7h-0.7zM372.7 274.6h0.7v0.7h-0.7zM359.0 265.9h0.7v0.7h-0.7zM363.1 270.1h0.7v0.7h-0.7zM357.4 275.5h0.7v0.7h-0.7zM373.6 271.0h0.7v0.7h-0.7zM375.2 270.6h0.7v0.7h-0.7zM354.0 270.2h0.7v0.7h-0.7zM361.3 275.1h0.7v0.7h-0.7zM373.1 269.8h0.7v0.7h-0.7zM373.0 264.9h0.7v0.7h-0.7zM364.5 278.5h0.7v0.7h-0.7zM369.4 275.1h0.7v0.7h-0.7zM344.1 266.8h0.7v0.7h-0.7zM356.7 277.6h0.7v0.7h-0.7zM379.1 264.7h0.7v0.7h-0.7zM353.5 268.1h0.7v0.7h-0.7zM356.0 275.5h0.7v0.7h-0.7zM362.9 280.7h0.7v0.7h-0.7zM370.3 266.2h0.7v0.7h-0.7zM366.1 269.8h0.7v0.7h-0.7zM372.6 273.8h0.7v0.7h-0.7zM361.6 276.0h0.7v0.7h-0.7zM369.4 269.4h0.7v0.7h-0.7zM367.2 273.8h0.7v0.7h-0.7zM360.3 268.4h0.7v0.7h-0.7zM376.3 268.4h0.7v0.7h-0.7zM358.8 274.4h0.7v0.7h-0.7zM349.9 274.3h0.7v0.7h-0.7zM350.5 271.7h0.7v0.7h-0.7zM346.2 271.2h0.7v0.7h-0.7zM372.5 268.3h0.7v0.7h-0.7zM354.1 281.8h0.7v0.7h-0.7zM359.5 279.4h0.7v0.7h-0.7zM357.5 265.1h0.7v0.7h-0.7zM381.3 265.2h0.7v0.7h-0.7zM372.6 275.2h0.7v0.7h-0.7zM351.5 274.0h0.7v0.7h-0.7zM359.1 275.1h0.7v0.7h-0.7zM362.6 265.0h0.7v0.7h-0.7zM365.4 274.6h0.7v0.7h-0.7zM361.8 274.3h0.7v0.7h-0.7zM358.9 271.9h0.7v0.7h-0.7zM367.6 271.0h0.7v0.7h-0.7zM377.2 273.0h0.7v0.7h-0.7zM372.9 272.8h0.7v0.7h-0.7zM364.4 265.1h0.7v0.7h-0.7zM376.0 277.2h0.7v0.7h-0.7zM366.0 269.3h0.7v0.7h-0.7zM365.0 276.9h0.7v0.7h-0.7zM365.8 265.7h0.7v0.7h-0.7zM361.6 267.7h0.7v0.7h-0.7zM361.2 267.1h0.7v0.7h-0.7zM357.2 279.9h0.7v0.7h-0.7zM372.5 261.2h0.7v0.7h-0.7zM354.2 270.9h0.7v0.7h-0.7zM358.9 265.2h0.7v0.7h-0.7zM370.9 261.5h0.7v0.7h-0.7zM371.4 272.9h0.7v0.7h-0.7zM359.9 268.6h0.7v0.7h-0.7zM364.8 271.6h0.7v0.7h-0.7zM342.7 269.3h0.7v0.7h-0.7zM369.0 269.4h0.7v0.7h-0.7zM359.1 267.1h0.7v0.7h-0.7zM356.6 268.8h0.7v0.7h-0.7zM389.5 259.3h0.7v0.7h-0.7zM379.2 270.2h0.7v0.7h-0.7zM366.3 271.5h0.7v0.7h-0.7zM362.1 279.5h0.7v0.7h-0.7zM368.9 269.8h0.7v0.7h-0.7zM363.1 272.2h0.7v0.7h-0.7zM352.8 271.8h0.7v0.7h-0.7zM358.7 275.3h0.7v0.7h-0.7zM367.9 260.9h0.7v0.7h-0.7zM363.0 276.2h0.7v0.7h-0.7zM350.5 268.0h0.7v0.7h-0.7zM373.5 268.4h0.7v0.7h-0.7zM358.5 266.1h0.7v0.7h-0.7zM365.2 268.0h0.7v0.7h-0.7zM366.6 272.6h0.7v0.7h-0.7zM370.5 268.0h0.7v0.7h-0.7zM359.1 272.2h0.7v0.7h-0.7zM363.3 272.0h0.7v0.7h-0.7zM358.8 271.0h0.7v0.7h-0.7zM357.9 269.4h0.7v0.7h-0.7zM366.8 276.2h0.7v0.7h-0.7zM359.6 274.9h0.7v0.7h-0.7zM367.5 270.8h0.7v0.7h-0.7zM370.0 267.0h0.7v0.7h-0.7zM369.8 271.3h0.7v0.7h-0.7zM331.1 279.8h0.7v0.7h-0.7zM371.8 279.2h0.7v0.7h-0.7zM354.0 273.6h0.7v0.7h-0.7zM366.5 265.7h0.7v0.7h-0.7zM376.0 270.7h0.7v0.7h-0.7zM355.2 266.9h0.7v0.7h-0.7zM362.5 283.2h0.7v0.7h-0.7zM382.2 254.8h0.7v0.7h-0.7zM347.3 277.9h0.7v0.7h-0.7zM362.4 268.2h0.7v0.7h-0.7zM370.0 270.3h0.7v0.7h-0.7zM367.1 271.7h0.7v0.7h-0.7zM355.0 279.5h0.7v0.7h-0.7zM360.8 277.4h0.7v0.7h-0.7zM370.8 269.8h0.7v0.7h-0.7zM365.4 270.5h0.7v0.7h-0.7zM346.1 273.2h0.7v0.7h-0.7zM366.6 262.4h0.7v0.7h-0.7zM350.9 279.2h0.7v0.7h-0.7zM370.3 262.0h0.7v0.7h-0.7zM368.5 269.8h0.7v0.7h-0.7zM373.1 267.5h0.7v0.7h-0.7zM361.2 267.9h0.7v0.7h-0.7zM365.7 270.0h0.7v0.7h-0.7zM357.4 270.7h0.7v0.7h-0.7zM357.5 275.6h0.7v0.7h-0.7zM352.6 265.7h0.7v0.7h-0.7zM355.9 278.2h0.7v0.7h-0.7zM359.9 275.2h0.7v0.7h-0.7zM370.6 267.1h0.7v0.7h-0.7zM371.9 271.9h0.7v0.7h-0.7zM362.9 267.7h0.7v0.7h-0.7zM362.2 265.0h0.7v0.7h-0.7zM360.8 268.8h0.7v0.7h-0.7zM368.6 271.8h0.7v0.7h-0.7zM358.8 276.5h0.7v0.7h-0.7zM375.6 268.9h0.7v0.7h-0.7zM357.4 275.0h0.7v0.7h-0.7zM339.9 273.2h0.7v0.7h-0.7zM371.7 279.5h0.7v0.7h-0.7zM358.5 279.9h0.7v0.7h-0.7zM388.4 275.3h0.7v0.7h-0.7zM342.4 281.2h0.7v0.7h-0.7zM366.9 275.5h0.7v0.7h-0.7zM361.7 268.4h0.7v0.7h-0.7zM363.4 278.7h0.7v0.7h-0.7zM371.9 267.9h0.7v0.7h-0.7zM368.6 274.4h0.7v0.7h-0.7zM369.5 269.6h0.7v0.7h-0.7zM356.9 268.8h0.7v0.7h-0.7zM359.3 269.2h0.7v0.7h-0.7zM347.3 267.4h0.7v0.7h-0.7zM371.4 263.8h0.7v0.7h-0.7zM351.3 273.5h0.7v0.7h-0.7zM379.4 274.1h0.7v0.7h-0.7zM359.0 266.8h0.7v0.7h-0.7zM357.9 267.7h0.7v0.7h-0.7zM359.2 274.5h0.7v0.7h-0.7zM352.9 269.4h0.7v0.7h-0.7zM361.5 271.4h0.7v0.7h-0.7zM355.8 268.8h0.7v0.7h-0.7zM352.3 269.7h0.7v0.7h-0.7zM368.9 268.7h0.7v0.7h-0.7zM334.5 280.4h0.7v0.7h-0.7zM362.5 266.9h0.7v0.7h-0.7zM358.4 256.8h0.7v0.7h-0.7zM349.1 280.1h0.7v0.7h-0.7zM387.0 277.2h0.7v0.7h-0.7zM356.9 272.7h0.7v0.7h-0.7zM370.3 263.4h0.7v0.7h-0.7zM380.3 263.9h0.7v0.7h-0.7zM366.3 264.7h0.7v0.7h-0.7zM367.6 270.2h0.7v0.7h-0.7zM373.4 263.1h0.7v0.7h-0.7zM365.8 279.9h0.7v0.7h-0.7zM352.7 275.2h0.7v0.7h-0.7zM367.8 267.7h0.7v0.7h-0.7zM362.9 278.5h0.7v0.7h-0.7zM375.7 271.4h0.7v0.7h-0.7zM365.5 264.9h0.7v0.7h-0.7zM366.8 279.6h0.7v0.7h-0.7zM372.9 262.2h0.7v0.7h-0.7zM343.1 272.1h0.7v0.7h-0.7zM365.1 268.0h0.7v0.7h-0.7zM361.4 273.3h0.7v0.7h-0.7zM373.0 270.2h0.7v0.7h-0.7zM374.8 261.4h0.7v0.7h-0.7zM369.0 272.1h0.7v0.7h-0.7zM350.7 280.2h0.7v0.7h-0.7zM346.9 267.3h0.7v0.7h-0.7zM391.5 271.8h0.7v0.7h-0.7zM369.1 276.8h0.7v0.7h-0.7zM374.1 263.1h0.7v0.7h-0.7zM370.2 276.9h0.7v0.7h-0.7zM362.5 271.7h0.7v0.7h-0.7zM360.2 275.6h0.7v0.7h-0.7zM358.0 269.3h0.7v0.7h-0.7zM351.0 269.0h0.7v0.7h-0.7zM366.7 272.9h0.7v0.7h-0.7zM359.1 266.7h0.7v0.7h-0.7zM367.7 272.1h0.7v0.7h-0.7zM376.0 265.9h0.7v0.7h-0.7zM360.5 274.4h0.7v0.7h-0.7zM378.9 267.6h0.7v0.7h-0.7zM362.2 266.6h0.7v0.7h-0.7zM361.3 276.4h0.7v0.7h-0.7zM373.5 274.7h0.7v0.7h-0.7zM348.7 278.6h0.7v0.7h-0.7zM355.5 275.9h0.7v0.7h-0.7zM340.6 275.5h0.7v0.7h-0.7zM356.7 279.1h0.7v0.7h-0.7zM366.6 277.2h0.7v0.7h-0.7zM361.7 281.6h0.7v0.7h-0.7zM361.6 281.3h0.7v0.7h-0.7zM358.2 267.2h0.7v0.7h-0.7zM372.4 267.2h0.7v0.7h-0.7zM362.0 264.5h0.7v0.7h-0.7zM360.7 272.3h0.7v0.7h-0.7zM357.5 274.4h0.7v0.7h-0.7zM342.3 280.2h0.7v0.7h-0.7zM361.5 279.1h0.7v0.7h-0.7zM359.9 268.5h0.7v0.7h-0.7zM359.9 273.3h0.7v0.7h-0.7zM369.4 267.5h0.7v0.7h-0.7zM356.6 274.8h0.7v0.7h-0.7zM370.3 260.7h0.7v0.7h-0.7zM352.9 269.9h0.7v0.7h-0.7zM382.2 273.5h0.7v0.7h-0.7zM372.4 271.8h0.7v0.7h-0.7zM354.1 278.9h0.7v0.7h-0.7zM358.8 268.0h0.7v0.7h-0.7zM381.6 259.8h0.7v0.7h-0.7zM377.9 269.1h0.7v0.7h-0.7zM355.1 273.8h0.7v0.7h-0.7zM355.9 273.7h0.7v0.7h-0.7zM356.4 266.5h0.7v0.7h-0.7zM389.8 262.9h0.7v0.7h-0.7zM373.7 268.7h0.7v0.7h-0.7zM369.4 263.3h0.7v0.7h-0.7zM350.3 257.0h0.7v0.7h-0.7zM374.4 271.1h0.7v0.7h-0.7zM353.3 277.6h0.7v0.7h-0.7zM373.0 284.3h0.7v0.7h-0.7zM367.3 275.0h0.7v0.7h-0.7zM370.9 273.5h0.7v0.7h-0.7zM363.4 269.0h0.7v0.7h-0.7zM372.4 275.6h0.7v0.7h-0.7zM351.3 267.8h0.7v0.7h-0.7zM365.5 280.0h0.7v0.7h-0.7zM360.2 263.0h0.7v0.7h-0.7zM372.8 273.0h0.7v0.7h-0.7zM383.5 267.9h0.7v0.7h-0.7zM382.8 263.3h0.7v0.7h-0.7zM373.1 269.8h0.7v0.7h-0.7zM351.9 272.2h0.7v0.7h-0.7zM378.4 273.7h0.7v0.7h-0.7zM361.5 277.3h0.7v0.7h-0.7zM373.9 273.6h0.7v0.7h-0.7zM367.2 271.9h0.7v0.7h-0.7zM355.8 272.4h0.7v0.7h-0.7zM364.5 267.1h0.7v0.7h-0.7zM361.4 272.4h0.7v0.7h-0.7zM367.3 275.8h0.7v0.7h-0.7zM353.5 271.2h0.7v0.7h-0.7zM366.3 268.6h0.7v0.7h-0.7zM366.9 268.0h0.7v0.7h-0.7zM375.5 267.4h0.7v0.7h-0.7zM353.6 277.1h0.7v0.7h-0.7zM378.5 258.0h0.7v0.7h-0.7zM362.9 271.6h0.7v0.7h-0.7zM375.9 276.2h0.7v0.7h-0.7zM360.9 263.6h0.7v0.7h-0.7zM371.7 274.6h0.7v0.7h-0.7zM368.7 270.4h0.7v0.7h-0.7zM358.6 284.8h0.7v0.7h-0.7zM350.6 266.1h0.7v0.7h-0.7zM374.0 270.4h0.7v0.7h-0.7zM371.1 271.4h0.7v0.7h-0.7zM382.2 274.5h0.7v0.7h-0.7zM359.7 277.1h0.7v0.7h-0.7zM350.6 265.1h0.7v0.7h-0.7zM375.5 266.4h0.7v0.7h-0.7zM342.8 275.4h0.7v0.7h-0.7zM358.0 274.9h0.7v0.7h-0.7zM362.7 267.3h0.7v0.7h-0.7zM357.8 276.3h0.7v0.7h-0.7zM355.0 273.6h0.7v0.7h-0.7zM354.8 275.3h0.7v0.7h-0.7zM382.3 270.1h0.7v0.7h-0.7zM375.6 270.9h0.7v0.7h-0.7zM354.2 271.6h0.7v0.7h-0.7zM365.2 273.0h0.7v0.7h-0.7zM358.8 275.3h0.7v0.7h-0.7zM357.0 272.9h0.7v0.7h-0.7zM362.8 265.4h0.7v0.7h-0.7zM374.0 269.2h0.7v0.7h-0.7zM365.1 270.6h0.7v0.7h-0.7zM341.8 268.5h0.7v0.7h-0.7zM356.3 277.8h0.7v0.7h-0.7zM359.0 275.2h0.7v0.7h-0.7zM353.0 269.0h0.7v0.7h-0.7zM360.6 277.2h0.7v0.7h-0.7zM347.5 273.6h0.7v0.7h-0.7zM368.2 270.8h0.7v0.7h-0.7zM364.7 274.9h0.7v0.7h-0.7zM365.9 265.4h0.7v0.7h-0.7zM369.5 265.8h0.7v0.7h-0.7zM362.2 278.9h0.7v0.7h-0.7zM389.7 273.1h0.7v0.7h-0.7zM367.5 266.3h0.7v0.7h-0.7zM358.3 280.8h0.7v0.7h-0.7zM365.9 263.5h0.7v0.7h-0.7zM380.2 270.6h0.7v0.7h-0.7zM377.5 270.3h0.7v0.7h-0.7zM342.0 271.9h0.7v0.7h-0.7zM362.5 270.5h0.7v0.7h-0.7zM378.3 264.5h0.7v0.7h-0.7zM363.0 270.9h0.7v0.7h-0.7zM362.1 266.1h0.7v0.7h-0.7zM349.3 260.9h0.7v0.7h-0.7zM367.1 269.3h0.7v0.7h-0.7zM365.0 265.4h0.7v0.7h-0.7zM363.1 266.2h0.7v0.7h-0.7zM354.4 274.8h0.7v0.7h-0.7zM371.0 272.6h0.7v0.7h-0.7zM363.2 269.2h0.7v0.7h-0.7zM379.1 274.2h0.7v0.7h-0.7zM356.7 267.0h0.7v0.7h-0.7zM368.1 271.8h0.7v0.7h-0.7zM357.5 284.2h0.7v0.7h-0.7zM342.6 271.3h0.7v0.7h-0.7zM367.5 275.4h0.7v0.7h-0.7zM345.3 272.8h0.7v0.7h-0.7zM379.7 274.9h0.7v0.7h-0.7zM361.6 271.7h0.7v0.7h-0.7zM355.8 274.8h0.7v0.7h-0.7zM351.6 263.2h0.7v0.7h-0.7zM349.1 274.5h0.7v0.7h-0.7zM352.2 279.2h0.7v0.7h-0.7zM377.8 273.2h0.7v0.7h-0.7zM371.7 275.2h0.7v0.7h-0.7zM367.6 274.7h0.7v0.7h-0.7zM369.5 273.9h0.7v0.7h-0.7zM353.4 269.9h0.7v0.7h-0.7zM355.1 277.2h0.7v0.7h-0.7zM368.2 266.1h0.7v0.7h-0.7zM353.7 270.2h0.7v0.7h-0.7zM372.5 268.6h0.7v0.7h-0.7zM361.0 268.1h0.7v0.7h-0.7zM364.6 279.1h0.7v0.7h-0.7zM356.9 270.7h0.7v0.7h-0.7zM381.6 271.0h0.7v0.7h-0.7zM354.0 278.8h0.7v0.7h-0.7zM352.2 276.4h0.7v0.7h-0.7zM338.1 271.4h0.7v0.7h-0.7zM372.5 266.2h0.7v0.7h-0.7zM357.0 272.8h0.7v0.7h-0.7zM363.6 268.7h0.7v0.7h-0.7zM359.3 281.3h0.7v0.7h-0.7zM379.1 269.5h0.7v0.7h-0.7zM352.2 270.8h0.7v0.7h-0.7zM361.7 274.0h0.7v0.7h-0.7zM379.3 265.1h0.7v0.7h-0.7zM365.1 268.6h0.7v0.7h-0.7zM364.7 267.3h0.7v0.7h-0.7zM369.0 275.9h0.7v0.7h-0.7zM359.8 270.2h0.7v0.7h-0.7zM363.8 264.3h0.7v0.7h-0.7zM380.5 260.6h0.7v0.7h-0.7zM359.6 267.4h0.7v0.7h-0.7zM378.3 265.5h0.7v0.7h-0.7zM361.1 281.4h0.7v0.7h-0.7zM362.1 267.4h0.7v0.7h-0.7zM364.2 272.0h0.7v0.7h-0.7zM356.5 271.7h0.7v0.7h-0.7zM362.8 275.0h0.7v0.7h-0.7zM372.5 273.5h0.7v0.7h-0.7zM363.7 275.2h0.7v0.7h-0.7zM363.2 277.2h0.7v0.7h-0.7zM367.6 268.1h0.7v0.7h-0.7zM374.6 261.0h0.7v0.7h-0.7zM353.7 269.1h0.7v0.7h-0.7zM361.5 265.2h0.7v0.7h-0.7zM350.3 264.2h0.7v0.7h-0.7zM364.4 267.0h0.7v0.7h-0.7zM386.5 270.2h0.7v0.7h-0.7zM354.2 279.9h0.7v0.7h-0.7zM366.3 276.1h0.7v0.7h-0.7zM354.4 279.1h0.7v0.7h-0.7zM374.5 266.7h0.7v0.7h-0.7zM355.3 270.9h0.7v0.7h-0.7zM369.2 282.3h0.7v0.7h-0.7zM383.5 274.6h0.7v0.7h-0.7zM361.6 269.9h0.7v0.7h-0.7zM367.4 268.9h0.7v0.7h-0.7zM359.3 271.0h0.7v0.7h-0.7zM372.3 268.9h0.7v0.7h-0.7zM366.2 269.2h0.7v0.7h-0.7zM361.8 269.8h0.7v0.7h-0.7zM376.8 269.5h0.7v0.7h-0.7zM378.6 267.1h0.7v0.7h-0.7zM373.1 262.0h0.7v0.7h-0.7zM360.1 271.6h0.7v0.7h-0.7zM357.7 271.8h0.7v0.7h-0.7zM354.8 272.2h0.7v0.7h-0.7zM357.5 272.4h0.7v0.7h-0.7zM360.1 266.7h0.7v0.7h-0.7zM360.1 272.0h0.7v0.7h-0.7zM351.7 274.2h0.7v0.7h-0.7zM376.1 267.3h0.7v0.7h-0.7zM370.1 272.9h0.7v0.7h-0.7zM357.6 279.2h0.7v0.7h-0.7zM387.7 260.7h0.7v0.7h-0.7zM384.5 263.0h0.7v0.7h-0.7zM376.5 259.1h0.7v0.7h-0.7zM375.4 269.3h0.7v0.7h-0.7zM350.6 269.7h0.7v0.7h-0.7zM352.8 268.8h0.7v0.7h-0.7zM367.6 269.3h0.7v0.7h-0.7zM339.1 274.7h0.7v0.7h-0.7zM368.8 270.5h0.7v0.7h-0.7zM378.8 258.5h0.7v0.7h-0.7zM366.5 270.7h0.7v0.7h-0.7zM369.8 262.9h0.7v0.7h-0.7zM351.0 272.9h0.7v0.7h-0.7zM362.9 262.0h0.7v0.7h-0.7zM367.7 270.2h0.7v0.7h-0.7zM368.6 256.6h0.7v0.7h-0.7zM368.1 265.6h0.7v0.7h-0.7zM360.2 275.9h0.7v0.7h-0.7zM380.9 268.2h0.7v0.7h-0.7zM364.4 277.7h0.7v0.7h-0.7zM355.1 272.1h0.7v0.7h-0.7zM358.1 267.2h0.7v0.7h-0.7zM368.1 280.6h0.7v0.7h-0.7zM367.0 273.0h0.7v0.7h-0.7zM364.9 276.6h0.7v0.7h-0.7zM364.9 266.3h0.7v0.7h-0.7zM366.6 277.9h0.7v0.7h-0.7zM364.5 277.1h0.7v0.7h-0.7zM365.5 281.1h0.7v0.7h-0.7zM367.5 273.7h0.7v0.7h-0.7zM362.1 275.7h0.7v0.7h-0.7zM360.3 264.2h0.7v0.7h-0.7zM365.8 264.4h0.7v0.7h-0.7zM379.5 271.8h0.7v0.7h-0.7zM365.0 274.4h0.7v0.7h-0.7zM340.2 284.0h0.7v0.7h-0.7zM358.4 275.7h0.7v0.7h-0.7zM387.6 257.7h0.7v0.7h-0.7zM360.4 273.6h0.7v0.7h-0.7zM366.4 261.8h0.7v0.7h-0.7zM356.5 280.3h0.7v0.7h-0.7zM358.7 275.0h0.7v0.7h-0.7zM349.7 269.4h0.7v0.7h-0.7zM346.4 276.2h0.7v0.7h-0.7zM375.6 269.1h0.7v0.7h-0.7zM361.6 272.8h0.7v0.7h-0.7zM368.4 268.6h0.7v0.7h-0.7zM371.6 279.5h0.7v0.7h-0.7zM385.4 263.6h0.7v0.7h-0.7zM353.7 283.1h0.7v0.7h-0.7zM375.0 275.0h0.7v0.7h-0.7zM369.8 268.6h0.7v0.7h-0.7zM374.9 274.5h0.7v0.7h-0.7zM374.5 263.2h0.7v0.7h-0.7zM373.9 267.1h0.7v0.7h-0.7zM360.9 273.5h0.7v0.7h-0.7zM363.1 283.2h0.7v0.7h-0.7zM369.9 271.2h0.7v0.7h-0.7zM362.5 272.7h0.7v0.7h-0.7zM362.4 274.4h0.7v0.7h-0.7zM373.5 273.3h0.7v0.7h-0.7zM351.4 272.0h0.7v0.7h-0.7zM363.7 264.8h0.7v0.7h-0.7zM367.7 269.5h0.7v0.7h-0.7zM365.1 272.8h0.7v0.7h-0.7zM359.6 280.0h0.7v0.7h-0.7zM373.7 266.2h0.7v0.7h-0.7zM369.5 273.7h0.7v0.7h-0.7zM356.2 270.9h0.7v0.7h-0.7zM368.3 256.9h0.7v0.7h-0.7zM351.5 275.4h0.7v0.7h-0.7zM369.2 265.2h0.7v0.7h-0.7zM374.9 280.1h0.7v0.7h-0.7zM366.1 270.4h0.7v0.7h-0.7zM363.7 265.9h0.7v0.7h-0.7zM369.7 270.8h0.7v0.7h-0.7zM372.9 276.5h0.7v0.7h-0.7zM364.7 271.8h0.7v0.7h-0.7zM369.1 278.9h0.7v0.7h-0.7zM349.8 274.1h0.7v0.7h-0.7zM358.1 273.0h0.7v0.7h-0.7zM372.4 269.6h0.7v0.7h-0.7zM371.6 270.4h0.7v0.7h-0.7zM356.4 269.3h0.7v0.7h-0.7zM350.8 275.0h0.7v0.7h-0.7zM361.1 276.0h0.7v0.7h-0.7zM372.7 264.7h0.7v0.7h-0.7zM354.1 276.3h0.7v0.7h-0.7zM355.7 273.9h0.7v0.7h-0.7zM369.7 267.9h0.7v0.7h-0.7zM380.8 263.5h0.7v0.7h-0.7zM367.9 268.1h0.7v0.7h-0.7zM335.6 276.2h0.7v0.7h-0.7zM363.2 274.2h0.7v0.7h-0.7zM362.1 267.7h0.7v0.7h-0.7zM358.7 270.6h0.7v0.7h-0.7zM371.3 268.1h0.7v0.7h-0.7zM377.1 272.7h0.7v0.7h-0.7zM357.9 277.7h0.7v0.7h-0.7zM341.9 275.9h0.7v0.7h-0.7zM354.4 272.6h0.7v0.7h-0.7zM375.5 268.6h0.7v0.7h-0.7zM363.8 277.7h0.7v0.7h-0.7zM355.8 268.6h0.7v0.7h-0.7zM374.3 272.0h0.7v0.7h-0.7zM350.3 274.8h0.7v0.7h-0.7zM371.6 268.6h0.7v0.7h-0.7zM360.3 272.5h0.7v0.7h-0.7zM365.5 267.1h0.7v0.7h-0.7zM370.7 261.5h0.7v0.7h-0.7zM365.6 281.7h0.7v0.7h-0.7zM353.7 273.1h0.7v0.7h-0.7zM340.9 271.7h0.7v0.7h-0.7zM352.9 273.7h0.7v0.7h-0.7zM361.2 281.1h0.7v0.7h-0.7zM355.0 272.8h0.7v0.7h-0.7zM366.9 273.7h0.7v0.7h-0.7zM371.3 261.5h0.7v0.7h-0.7zM385.3 264.9h0.7v0.7h-0.7zM355.4 264.4h0.7v0.7h-0.7zM357.9 263.3h0.7v0.7h-0.7zM365.3 267.7h0.7v0.7h-0.7zM366.5 266.5h0.7v0.7h-0.7zM367.1 281.8h0.7v0.7h-0.7zM375.8 269.4h0.7v0.7h-0.7zM356.0 280.3h0.7v0.7h-0.7zM346.0 267.6h0.7v0.7h-0.7zM376.2 265.4h0.7v0.7h-0.7zM377.9 271.0h0.7v0.7h-0.7zM387.3 275.2h0.7v0.7h-0.7zM369.2 266.7h0.7v0.7h-0.7zM371.4 276.7h0.7v0.7h-0.7zM362.4 256.5h0.7v0.7h-0.7zM360.0 270.0h0.7v0.7h-0.7zM363.1 269.4h0.7v0.7h-0.7zM374.0 262.4h0.7v0.7h-0.7zM366.3 260.4h0.7v0.7h-0.7zM341.7 270.6h0.7v0.7h-0.7zM355.8 268.2h0.7v0.7h-0.7zM357.8 275.5h0.7v0.7h-0.7zM369.8 270.2h0.7v0.7h-0.7zM365.3 267.2h0.7v0.7h-0.7zM352.9 266.1h0.7v0.7h-0.7zM358.8 266.3h0.7v0.7h-0.7zM361.6 275.2h0.7v0.7h-0.7zM370.8 276.4h0.7v0.7h-0.7zM352.6 262.2h0.7v0.7h-0.7zM355.2 283.1h0.7v0.7h-0.7zM370.4 267.4h0.7v0.7h-0.7zM376.6 266.2h0.7v0.7h-0.7zM380.0 265.5h0.7v0.7h-0.7zM360.8 275.3h0.7v0.7h-0.7zM352.6 272.6h0.7v0.7h-0.7zM383.5 269.1h0.7v0.7h-0.7zM352.9 272.1h0.7v0.7h-0.7zM363.0 267.3h0.7v0.7h-0.7zM369.3 276.3h0.7v0.7h-0.7zM365.4 275.2h0.7v0.7h-0.7zM367.0 271.1h0.7v0.7h-0.7zM357.6 277.3h0.7v0.7h-0.7zM376.8 266.0h0.7v0.7h-0.7zM356.0 275.4h0.7v0.7h-0.7zM366.2 276.3h0.7v0.7h-0.7zM368.7 269.3h0.7v0.7h-0.7zM351.1 276.9h0.7v0.7h-0.7zM363.7 264.6h0.7v0.7h-0.7zM347.5 265.2h0.7v0.7h-0.7zM369.6 267.6h0.7v0.7h-0.7zM330.5 273.6h0.7v0.7h-0.7zM357.6 271.8h0.7v0.7h-0.7zM364.0 269.3h0.7v0.7h-0.7zM372.3 274.5h0.7v0.7h-0.7zM363.4 279.2h0.7v0.7h-0.7zM361.9 267.0h0.7v0.7h-0.7zM364.0 263.7h0.7v0.7h-0.7zM359.9 266.4h0.7v0.7h-0.7zM360.0 272.9h0.7v0.7h-0.7zM340.4 278.0h0.7v0.7h-0.7zM366.3 269.4h0.7v0.7h-0.7zM371.3 271.2h0.7v0.7h-0.7zM359.4 266.8h0.7v0.7h-0.7zM371.9 273.2h0.7v0.7h-0.7zM348.8 270.5h0.7v0.7h-0.7zM353.2 277.5h0.7v0.7h-0.7zM357.0 266.1h0.7v0.7h-0.7zM379.2 270.1h0.7v0.7h-0.7zM366.5 271.7h0.7v0.7h-0.7zM362.3 271.5h0.7v0.7h-0.7zM373.2 271.3h0.7v0.7h-0.7zM359.6 272.4h0.7v0.7h-0.7zM381.7 264.4h0.7v0.7h-0.7zM351.1 274.3h0.7v0.7h-0.7zM370.7 272.6h0.7v0.7h-0.7zM369.6 279.9h0.7v0.7h-0.7zM353.9 272.9h0.7v0.7h-0.7zM348.9 280.6h0.7v0.7h-0.7zM365.0 279.8h0.7v0.7h-0.7zM360.1 266.4h0.7v0.7h-0.7zM357.9 276.4h0.7v0.7h-0.7zM356.1 274.0h0.7v0.7h-0.7zM356.1 269.0h0.7v0.7h-0.7zM360.1 280.1h0.7v0.7h-0.7zM353.7 274.8h0.7v0.7h-0.7zM371.0 265.6h0.7v0.7h-0.7zM350.7 281.5h0.7v0.7h-0.7zM380.7 266.1h0.7v0.7h-0.7zM353.0 277.8h0.7v0.7h-0.7zM362.7 267.0h0.7v0.7h-0.7zM357.6 260.0h0.7v0.7h-0.7zM354.6 266.7h0.7v0.7h-0.7zM351.5 276.6h0.7v0.7h-0.7zM368.3 278.8h0.7v0.7h-0.7zM336.8 273.3h0.7v0.7h-0.7zM357.0 279.3h0.7v0.7h-0.7zM374.2 269.4h0.7v0.7h-0.7zM364.0 267.1h0.7v0.7h-0.7zM358.3 269.8h0.7v0.7h-0.7zM341.0 285.6h0.7v0.7h-0.7zM373.3 279.7h0.7v0.7h-0.7zM376.5 270.8h0.7v0.7h-0.7zM370.3 260.9h0.7v0.7h-0.7zM354.7 277.3h0.7v0.7h-0.7zM358.4 263.8h0.7v0.7h-0.7zM362.4 264.6h0.7v0.7h-0.7zM365.5 278.7h0.7v0.7h-0.7zM352.1 271.1h0.7v0.7h-0.7zM369.2 269.7h0.7v0.7h-0.7zM364.8 266.4h0.7v0.7h-0.7zM358.0 259.9h0.7v0.7h-0.7zM363.4 277.7h0.7v0.7h-0.7zM352.5 272.4h0.7v0.7h-0.7zM372.1 275.5h0.7v0.7h-0.7zM374.4 264.1h0.7v0.7h-0.7zM361.5 280.5h0.7v0.7h-0.7zM359.5 273.3h0.7v0.7h-0.7zM354.7 269.5h0.7v0.7h-0.7zM333.9 274.5h0.7v0.7h-0.7zM341.0 270.5h0.7v0.7h-0.7zM355.5 279.7h0.7v0.7h-0.7zM371.8 271.3h0.7v0.7h-0.7zM357.2 265.1h0.7v0.7h-0.7zM367.6 265.8h0.7v0.7h-0.7zM363.6 275.8h0.7v0.7h-0.7zM361.8 271.2h0.7v0.7h-0.7zM355.0 278.2h0.7v0.7h-0.7zM369.7 273.3h0.7v0.7h-0.7zM378.1 259.5h0.7v0.7h-0.7zM364.7 274.1h0.7v0.7h-0.7zM367.4 271.7h0.7v0.7h-0.7zM366.7 262.4h0.7v0.7h-0.7zM364.2 276.9h0.7v0.7h-0.7zM363.0 270.1h0.7v0.7h-0.7zM370.3 260.5h0.7v0.7h-0.7zM369.2 277.6h0.7v0.7h-0.7zM360.3 267.4h0.7v0.7h-0.7zM368.5 267.6h0.7v0.7h-0.7zM355.8 273.5h0.7v0.7h-0.7zM348.0 277.7h0.7v0.7h-0.7zM351.3 270.7h0.7v0.7h-0.7zM370.9 269.2h0.7v0.7h-0.7zM367.7 277.2h0.7v0.7h-0.7zM381.0 278.1h0.7v0.7h-0.7zM359.2 276.6h0.7v0.7h-0.7zM348.2 278.4h0.7v0.7h-0.7zM375.9 264.6h0.7v0.7h-0.7zM369.2 274.1h0.7v0.7h-0.7zM361.5 268.1h0.7v0.7h-0.7zM377.3 261.2h0.7v0.7h-0.7zM366.3 275.3h0.7v0.7h-0.7zM367.7 278.3h0.7v0.7h-0.7zM378.9 270.1h0.7v0.7h-0.7zM382.1 270.9h0.7v0.7h-0.7zM351.2 271.9h0.7v0.7h-0.7zM366.6 271.3h0.7v0.7h-0.7zM349.3 285.9h0.7v0.7h-0.7zM347.0 268.6h0.7v0.7h-0.7zM368.4 271.0h0.7v0.7h-0.7zM379.2 268.8h0.7v0.7h-0.7zM368.2 273.8h0.7v0.7h-0.7zM355.1 266.1h0.7v0.7h-0.7zM360.2 277.0h0.7v0.7h-0.7zM362.2 277.7h0.7v0.7h-0.7zM359.1 275.8h0.7v0.7h-0.7zM364.9 275.1h0.7v0.7h-0.7zM364.1 271.9h0.7v0.7h-0.7zM360.4 278.1h0.7v0.7h-0.7zM363.9 273.5h0.7v0.7h-0.7zM369.3 265.1h0.7v0.7h-0.7zM355.5 272.5h0.7v0.7h-0.7zM375.3 263.0h0.7v0.7h-0.7zM352.6 268.2h0.7v0.7h-0.7zM358.8 266.5h0.7v0.7h-0.7zM356.2 275.3h0.7v0.7h-0.7zM353.0 273.2h0.7v0.7h-0.7zM351.9 272.4h0.7v0.7h-0.7zM366.8 259.9h0.7v0.7h-0.7zM364.6 272.0h0.7v0.7h-0.7zM363.5 272.3h0.7v0.7h-0.7zM366.5 263.6h0.7v0.7h-0.7zM363.2 274.4h0.7v0.7h-0.7zM375.2 261.5h0.7v0.7h-0.7zM356.5 265.4h0.7v0.7h-0.7zM362.5 265.7h0.7v0.7h-0.7zM354.9 276.8h0.7v0.7h-0.7zM383.9 256.0h0.7v0.7h-0.7zM379.1 262.9h0.7v0.7h-0.7zM370.9 271.3h0.7v0.7h-0.7zM375.8 267.3h0.7v0.7h-0.7zM355.5 272.4h0.7v0.7h-0.7zM370.7 264.9h0.7v0.7h-0.7zM367.8 270.1h0.7v0.7h-0.7zM365.6 270.6h0.7v0.7h-0.7zM370.6 273.7h0.7v0.7h-0.7zM360.6 269.8h0.7v0.7h-0.7zM341.7 271.1h0.7v0.7h-0.7zM349.5 277.5h0.7v0.7h-0.7zM352.4 269.8h0.7v0.7h-0.7zM370.1 274.8h0.7v0.7h-0.7zM375.0 264.2h0.7v0.7h-0.7zM367.3 275.7h0.7v0.7h-0.7zM355.2 271.6h0.7v0.7h-0.7zM351.1 270.4h0.7v0.7h-0.7zM370.9 269.9h0.7v0.7h-0.7zM359.6 269.0h0.7v0.7h-0.7zM379.6 271.5h0.7v0.7h-0.7zM353.9 284.3h0.7v0.7h-0.7zM359.6 271.1h0.7v0.7h-0.7zM358.4 269.2h0.7v0.7h-0.7zM368.6 262.5h0.7v0.7h-0.7zM363.8 269.3h0.7v0.7h-0.7zM381.5 269.2h0.7v0.7h-0.7zM368.7 272.7h0.7v0.7h-0.7zM369.9 270.3h0.7v0.7h-0.7zM340.1 278.2h0.7v0.7h-0.7zM361.4 275.1h0.7v0.7h-0.7zM366.4 267.6h0.7v0.7h-0.7zM354.0 267.8h0.7v0.7h-0.7zM366.6 269.9h0.7v0.7h-0.7zM354.7 271.0h0.7v0.7h-0.7zM366.6 267.0h0.7v0.7h-0.7zM362.0 268.2h0.7v0.7h-0.7zM338.4 276.9h0.7v0.7h-0.7zM365.3 274.8h0.7v0.7h-0.7zM376.0 264.7h0.7v0.7h-0.7zM370.0 271.0h0.7v0.7h-0.7zM365.5 274.9h0.7v0.7h-0.7zM371.2 262.9h0.7v0.7h-0.7zM378.2 267.0h0.7v0.7h-0.7zM356.6 269.0h0.7v0.7h-0.7zM360.5 265.9h0.7v0.7h-0.7zM375.1 270.8h0.7v0.7h-0.7zM355.9 276.9h0.7v0.7h-0.7zM366.3 270.9h0.7v0.7h-0.7zM373.3 268.5h0.7v0.7h-0.7zM361.8 274.0h0.7v0.7h-0.7zM344.6 268.9h0.7v0.7h-0.7zM370.0 275.2h0.7v0.7h-0.7zM347.3 274.6h0.7v0.7h-0.7zM357.1 271.0h0.7v0.7h-0.7zM371.4 277.1h0.7v0.7h-0.7zM382.2 271.9h0.7v0.7h-0.7zM370.3 270.3h0.7v0.7h-0.7zM345.9 276.8h0.7v0.7h-0.7zM351.0 268.0h0.7v0.7h-0.7zM363.4 263.0h0.7v0.7h-0.7zM381.9 270.2h0.7v0.7h-0.7zM368.0 272.6h0.7v0.7h-0.7zM366.3 270.8h0.7v0.7h-0.7zM370.1 266.2h0.7v0.7h-0.7zM366.8 271.2h0.7v0.7h-0.7zM370.4 263.9h0.7v0.7h-0.7zM366.2 269.8h0.7v0.7h-0.7zM370.7 272.3h0.7v0.7h-0.7zM366.2 272.9h0.7v0.7h-0.7zM369.7 276.8h0.7v0.7h-0.7zM367.5 273.0h0.7v0.7h-0.7zM354.5 271.9h0.7v0.7h-0.7zM372.6 274.5h0.7v0.7h-0.7zM354.3 272.8h0.7v0.7h-0.7zM361.3 271.8h0.7v0.7h-0.7zM358.7 269.9h0.7v0.7h-0.7zM363.4 271.7h0.7v0.7h-0.7zM373.0 264.7h0.7v0.7h-0.7zM355.3 276.9h0.7v0.7h-0.7zM368.6 269.0h0.7v0.7h-0.7zM353.7 278.6h0.7v0.7h-0.7zM354.5 278.8h0.7v0.7h-0.7zM366.2 269.7h0.7v0.7h-0.7zM363.1 275.3h0.7v0.7h-0.7zM362.2 262.4h0.7v0.7h-0.7zM354.8 261.9h0.7v0.7h-0.7zM368.8 274.7h0.7v0.7h-0.7zM372.6 262.2h0.7v0.7h-0.7zM386.6 275.5h0.7v0.7h-0.7zM360.7 261.5h0.7v0.7h-0.7zM356.4 277.9h0.7v0.7h-0.7zM383.6 264.0h0.7v0.7h-0.7zM344.8 270.1h0.7v0.7h-0.7zM382.7 267.0h0.7v0.7h-0.7zM347.9 263.6h0.7v0.7h-0.7zM371.0 273.6h0.7v0.7h-0.7zM359.0 271.0h0.7v0.7h-0.7zM364.3 269.1h0.7v0.7h-0.7zM357.9 269.3h0.7v0.7h-0.7zM359.4 278.3h0.7v0.7h-0.7zM368.9 275.2h0.7v0.7h-0.7zM379.6 255.9h0.7v0.7h-0.7zM364.3 275.8h0.7v0.7h-0.7zM361.2 268.5h0.7v0.7h-0.7zM367.2 267.5h0.7v0.7h-0.7zM355.3 271.2h0.7v0.7h-0.7zM364.4 270.9h0.7v0.7h-0.7zM372.7 269.2h0.7v0.7h-0.7zM361.4 270.1h0.7v0.7h-0.7zM361.8 267.8h0.7v0.7h-0.7zM348.6 275.2h0.7v0.7h-0.7zM376.3 259.0h0.7v0.7h-0.7zM356.9 274.6h0.7v0.7h-0.7zM357.8 275.0h0.7v0.7h-0.7zM362.3 265.7h0.7v0.7h-0.7zM361.2 268.9h0.7v0.7h-0.7zM366.6 257.4h0.7v0.7h-0.7zM369.3 276.6h0.7v0.7h-0.7zM365.6 271.8h0.7v0.7h-0.7zM359.0 273.7h0.7v0.7h-0.7zM361.1 265.0h0.7v0.7h-0.7zM349.9 262.1h0.7v0.7h-0.7zM368.3 270.9h0.7v0.7h-0.7zM374.8 270.0h0.7v0.7h-0.7zM369.3 263.0h0.7v0.7h-0.7zM345.0 272.1h0.7v0.7h-0.7zM361.0 273.4h0.7v0.7h-0.7zM362.4 270.4h0.7v0.7h-0.7zM364.6 272.1h0.7v0.7h-0.7zM366.2 272.1h0.7v0.7h-0.7zM358.9 271.6h0.7v0.7h-0.7zM348.3 268.6h0.7v0.7h-0.7zM361.7 273.6h0.7v0.7h-0.7zM355.0 265.6h0.7v0.7h-0.7zM372.4 264.9h0.7v0.7h-0.7zM346.0 269.8h0.7v0.7h-0.7zM349.7 261.6h0.7v0.7h-0.7zM361.9 280.0h0.7v0.7h-0.7zM355.8 268.5h0.7v0.7h-0.7zM375.2 269.0h0.7v0.7h-0.7zM364.3 277.8h0.7v0.7h-0.7zM352.3 273.1h0.7v0.7h-0.7zM369.0 270.9h0.7v0.7h-0.7zM351.4 268.9h0.7v0.7h-0.7zM381.2 266.8h0.7v0.7h-0.7zM362.4 276.8h0.7v0.7h-0.7zM346.3 274.4h0.7v0.7h-0.7zM348.1 281.5h0.7v0.7h-0.7zM354.3 273.6h0.7v0.7h-0.7zM355.0 273.5h0.7v0.7h-0.7zM367.0 270.4h0.7v0.7h-0.7zM361.0 272.9h0.7v0.7h-0.7zM361.0 269.0h0.7v0.7h-0.7zM371.0 273.8h0.7v0.7h-0.7zM349.6 268.9h0.7v0.7h-0.7zM356.6 274.0h0.7v0.7h-0.7zM351.8 281.5h0.7v0.7h-0.7zM364.5 271.6h0.7v0.7h-0.7zM371.7 265.5h0.7v0.7h-0.7zM368.0 272.2h0.7v0.7h-0.7zM375.5 263.2h0.7v0.7h-0.7zM378.1 271.0h0.7v0.7h-0.7zM367.5 275.7h0.7v0.7h-0.7zM361.3 270.6h0.7v0.7h-0.7zM371.8 267.5h0.7v0.7h-0.7zM375.9 275.5h0.7v0.7h-0.7zM366.3 271.4h0.7v0.7h-0.7zM356.7 267.9h0.7v0.7h-0.7zM377.0 263.0h0.7v0.7h-0.7zM365.1 272.3h0.7v0.7h-0.7zM354.5 269.5h0.7v0.7h-0.7zM359.3 282.8h0.7v0.7h-0.7zM369.1 277.0h0.7v0.7h-0.7zM384.9 271.7h0.7v0.7h-0.7zM376.4 266.1h0.7v0.7h-0.7zM358.8 279.5h0.7v0.7h-0.7zM377.3 263.0h0.7v0.7h-0.7zM375.5 270.1h0.7v0.7h-0.7zM372.9 274.1h0.7v0.7h-0.7zM382.0 264.0h0.7v0.7h-0.7zM365.4 277.2h0.7v0.7h-0.7zM362.1 274.2h0.7v0.7h-0.7zM361.6 262.9h0.7v0.7h-0.7zM359.6 276.5h0.7v0.7h-0.7zM357.2 264.7h0.7v0.7h-0.7zM359.3 272.6h0.7v0.7h-0.7zM369.3 271.6h0.7v0.7h-0.7zM368.2 264.8h0.7v0.7h-0.7zM357.5 268.5h0.7v0.7h-0.7zM360.3 274.1h0.7v0.7h-0.7zM376.9 267.1h0.7v0.7h-0.7zM375.7 274.3h0.7v0.7h-0.7zM352.2 269.4h0.7v0.7h-0.7zM364.3 264.0h0.7v0.7h-0.7zM380.5 258.0h0.7v0.7h-0.7zM353.0 277.4h0.7v0.7h-0.7zM357.7 276.1h0.7v0.7h-0.7zM355.7 278.3h0.7v0.7h-0.7zM359.3 275.8h0.7v0.7h-0.7zM372.5 261.7h0.7v0.7h-0.7zM353.8 264.4h0.7v0.7h-0.7zM354.4 277.9h0.7v0.7h-0.7zM364.8 275.3h0.7v0.7h-0.7zM379.2 273.2h0.7v0.7h-0.7zM370.9 267.5h0.7v0.7h-0.7zM360.8 273.4h0.7v0.7h-0.7zM373.9 274.6h0.7v0.7h-0.7zM366.9 269.0h0.7v0.7h-0.7zM365.3 279.3h0.7v0.7h-0.7zM369.1 280.3h0.7v0.7h-0.7zM358.3 276.8h0.7v0.7h-0.7zM367.2 274.4h0.7v0.7h-0.7zM357.4 274.3h0.7v0.7h-0.7zM363.4 269.9h0.7v0.7h-0.7zM351.2 266.7h0.7v0.7h-0.7zM361.7 274.5h0.7v0.7h-0.7zM367.1 271.7h0.7v0.7h-0.7zM366.1 263.8h0.7v0.7h-0.7zM374.8 269.2h0.7v0.7h-0.7zM356.5 270.0h0.7v0.7h-0.7zM374.2 270.0h0.7v0.7h-0.7zM350.3 284.8h0.7v0.7h-0.7zM351.7 282.5h0.7v0.7h-0.7zM371.6 264.5h0.7v0.7h-0.7zM377.8 274.7h0.7v0.7h-0.7zM375.2 272.1h0.7v0.7h-0.7zM367.8 271.5h0.7v0.7h-0.7zM359.5 273.5h0.7v0.7h-0.7zM376.8 267.9h0.7v0.7h-0.7zM382.0 259.5h0.7v0.7h-0.7zM363.2 263.8h0.7v0.7h-0.7zM347.6 276.0h0.7v0.7h-0.7zM360.7 269.1h0.7v0.7h-0.7zM353.9 272.2h0.7v0.7h-0.7zM348.5 273.5h0.7v0.7h-0.7zM358.0 266.1h0.7v0.7h-0.7zM366.5 261.2h0.7v0.7h-0.7zM368.9 271.5h0.7v0.7h-0.7zM369.7 270.7h0.7v0.7h-0.7zM371.9 268.2h0.7v0.7h-0.7zM354.3 275.2h0.7v0.7h-0.7zM356.4 271.0h0.7v0.7h-0.7zM364.7 266.3h0.7v0.7h-0.7zM372.4 261.6h0.7v0.7h-0.7zM376.3 268.4h0.7v0.7h-0.7zM382.1 273.0h0.7v0.7h-0.7zM371.3 271.1h0.7v0.7h-0.7zM364.2 264.2h0.7v0.7h-0.7zM358.0 267.7h0.7v0.7h-0.7zM357.4 272.0h0.7v0.7h-0.7zM356.9 273.4h0.7v0.7h-0.7zM361.5 269.4h0.7v0.7h-0.7zM368.7 272.6h0.7v0.7h-0.7zM351.1 272.4h0.7v0.7h-0.7zM392.9 265.1h0.7v0.7h-0.7zM368.0 265.9h0.7v0.7h-0.7zM375.5 276.6h0.7v0.7h-0.7zM370.0 269.3h0.7v0.7h-0.7zM362.8 261.8h0.7v0.7h-0.7zM369.9 268.4h0.7v0.7h-0.7zM368.7 272.1h0.7v0.7h-0.7zM368.7 280.9h0.7v0.7h-0.7zM372.7 266.0h0.7v0.7h-0.7zM371.0 272.9h0.7v0.7h-0.7zM366.3 277.9h0.7v0.7h-0.7zM359.1 263.4h0.7v0.7h-0.7zM354.5 275.2h0.7v0.7h-0.7zM355.0 273.9h0.7v0.7h-0.7zM350.2 276.1h0.7v0.7h-0.7zM361.0 267.2h0.7v0.7h-0.7zM358.8 270.9h0.7v0.7h-0.7zM373.6 270.4h0.7v0.7h-0.7zM362.6 272.3h0.7v0.7h-0.7zM373.6 271.5h0.7v0.7h-0.7zM380.7 264.0h0.7v0.7h-0.7zM372.6 270.0h0.7v0.7h-0.7zM358.9 275.3h0.7v0.7h-0.7zM373.6 274.1h0.7v0.7h-0.7zM368.2 265.9h0.7v0.7h-0.7zM366.5 272.6h0.7v0.7h-0.7zM380.7 268.3h0.7v0.7h-0.7zM367.5 278.4h0.7v0.7h-0.7zM364.6 268.8h0.7v0.7h-0.7zM368.0 274.3h0.7v0.7h-0.7zM364.2 262.7h0.7v0.7h-0.7zM361.6 276.8h0.7v0.7h-0.7zM358.1 276.8h0.7v0.7h-0.7zM365.3 266.9h0.7v0.7h-0.7zM370.0 259.1h0.7v0.7h-0.7zM342.5 267.9h0.7v0.7h-0.7zM369.3 268.7h0.7v0.7h-0.7zM370.5 269.4h0.7v0.7h-0.7zM365.2 268.3h0.7v0.7h-0.7zM361.6 276.7h0.7v0.7h-0.7zM370.5 263.1h0.7v0.7h-0.7zM372.1 279.7h0.7v0.7h-0.7zM370.8 265.0h0.7v0.7h-0.7zM371.9 270.6h0.7v0.7h-0.7zM362.4 276.5h0.7v0.7h-0.7zM375.8 266.1h0.7v0.7h-0.7zM365.2 269.0h0.7v0.7h-0.7zM366.1 278.8h0.7v0.7h-0.7zM360.8 274.8h0.7v0.7h-0.7zM367.0 271.0h0.7v0.7h-0.7zM354.2 276.4h0.7v0.7h-0.7zM354.6 276.9h0.7v0.7h-0.7zM363.7 272.0h0.7v0.7h-0.7zM359.1 267.9h0.7v0.7h-0.7zM354.5 273.3h0.7v0.7h-0.7zM363.9 272.7h0.7v0.7h-0.7zM362.5 275.4h0.7v0.7h-0.7zM366.0 271.4h0.7v0.7h-0.7zM362.1 271.5h0.7v0.7h-0.7zM370.0 266.4h0.7v0.7h-0.7zM353.2 275.4h0.7v0.7h-0.7zM368.5 270.4h0.7v0.7h-0.7zM365.5 264.3h0.7v0.7h-0.7zM355.1 273.1h0.7v0.7h-0.7zM362.9 265.2h0.7v0.7h-0.7zM367.0 261.0h0.7v0.7h-0.7zM375.3 263.5h0.7v0.7h-0.7zM358.0 267.2h0.7v0.7h-0.7zM351.1 272.3h0.7v0.7h-0.7zM345.8 273.4h0.7v0.7h-0.7zM365.7 269.3h0.7v0.7h-0.7zM362.7 264.2h0.7v0.7h-0.7zM345.3 268.5h0.7v0.7h-0.7zM374.9 270.5h0.7v0.7h-0.7zM348.9 283.0h0.7v0.7h-0.7zM371.6 275.0h0.7v0.7h-0.7zM375.5 275.3h0.7v0.7h-0.7zM348.2 274.9h0.7v0.7h-0.7zM358.9 282.0h0.7v0.7h-0.7zM371.0 269.7h0.7v0.7h-0.7zM359.8 261.5h0.7v0.7h-0.7zM364.5 266.8h0.7v0.7h-0.7zM378.2 271.9h0.7v0.7h-0.7zM363.2 269.4h0.7v0.7h-0.7zM374.5 266.3h0.7v0.7h-0.7zM375.2 269.8h0.7v0.7h-0.7zM362.0 273.5h0.7v0.7h-0.7zM379.6 259.8h0.7v0.7h-0.7zM372.3 273.1h0.7v0.7h-0.7zM363.4 278.7h0.7v0.7h-0.7zM371.4 272.4h0.7v0.7h-0.7zM355.3 275.9h0.7v0.7h-0.7zM352.5 276.2h0.7v0.7h-0.7zM384.2 262.4h0.7v0.7h-0.7zM378.3 262.7h0.7v0.7h-0.7zM365.8 274.4h0.7v0.7h-0.7zM350.8 275.6h0.7v0.7h-0.7zM356.3 269.7h0.7v0.7h-0.7zM372.4 269.0h0.7v0.7h-0.7zM368.3 270.4h0.7v0.7h-0.7zM369.6 277.8h0.7v0.7h-0.7zM365.3 269.5h0.7v0.7h-0.7zM365.4 274.5h0.7v0.7h-0.7zM366.6 259.8h0.7v0.7h-0.7zM364.1 273.3h0.7v0.7h-0.7zM388.9 262.9h0.7v0.7h-0.7zM360.5 266.1h0.7v0.7h-0.7zM361.9 262.7h0.7v0.7h-0.7zM356.2 272.4h0.7v0.7h-0.7zM349.5 272.9h0.7v0.7h-0.7zM359.0 278.6h0.7v0.7h-0.7zM381.9 278.0h0.7v0.7h-0.7zM366.4 274.0h0.7v0.7h-0.7zM386.6 263.1h0.7v0.7h-0.7zM379.8 263.2h0.7v0.7h-0.7zM373.0 261.4h0.7v0.7h-0.7zM360.3 271.0h0.7v0.7h-0.7zM359.9 262.2h0.7v0.7h-0.7zM365.3 269.4h0.7v0.7h-0.7zM379.3 270.9h0.7v0.7h-0.7zM343.5 276.2h0.7v0.7h-0.7zM374.6 268.4h0.7v0.7h-0.7zM356.1 265.9h0.7v0.7h-0.7zM359.8 267.3h0.7v0.7h-0.7zM361.4 270.1h0.7v0.7h-0.7zM375.7 263.7h0.7v0.7h-0.7zM366.4 265.1h0.7v0.7h-0.7zM368.1 275.5h0.7v0.7h-0.7zM357.6 266.5h0.7v0.7h-0.7zM364.7 271.1h0.7v0.7h-0.7zM358.6 274.4h0.7v0.7h-0.7zM365.7 274.2h0.7v0.7h-0.7zM351.8 277.6h0.7v0.7h-0.7zM375.7 264.5h0.7v0.7h-0.7zM383.8 268.1h0.7v0.7h-0.7zM350.6 268.6h0.7v0.7h-0.7zM356.5 269.5h0.7v0.7h-0.7zM362.3 273.0h0.7v0.7h-0.7zM362.0 270.0h0.7v0.7h-0.7zM352.9 263.2h0.7v0.7h-0.7zM356.2 266.6h0.7v0.7h-0.7zM370.4 257.5h0.7v0.7h-0.7zM372.5 254.9h0.7v0.7h-0.7zM362.4 271.6h0.7v0.7h-0.7zM352.5 268.6h0.7v0.7h-0.7zM371.7 264.0h0.7v0.7h-0.7zM363.5 271.5h0.7v0.7h-0.7zM369.4 263.6h0.7v0.7h-0.7zM376.9 267.6h0.7v0.7h-0.7zM372.7 262.1h0.7v0.7h-0.7zM374.8 268.4h0.7v0.7h-0.7zM371.2 266.4h0.7v0.7h-0.7zM372.7 269.5h0.7v0.7h-0.7zM358.3 274.7h0.7v0.7h-0.7zM362.0 269.3h0.7v0.7h-0.7zM361.6 276.3h0.7v0.7h-0.7zM374.4 273.7h0.7v0.7h-0.7zM349.3 278.4h0.7v0.7h-0.7zM352.1 285.4h0.7v0.7h-0.7zM369.2 275.8h0.7v0.7h-0.7zM364.4 271.8h0.7v0.7h-0.7zM359.5 282.3h0.7v0.7h-0.7zM362.2 277.1h0.7v0.7h-0.7zM356.3 272.0h0.7v0.7h-0.7zM360.4 271.4h0.7v0.7h-0.7zM360.0 275.2h0.7v0.7h-0.7zM369.1 261.9h0.7v0.7h-0.7zM358.7 265.6h0.7v0.7h-0.7zM373.5 262.7h0.7v0.7h-0.7zM369.0 270.8h0.7v0.7h-0.7zM361.8 261.7h0.7v0.7h-0.7zM380.7 266.8h0.7v0.7h-0.7zM372.1 274.8h0.7v0.7h-0.7zM353.5 268.3h0.7v0.7h-0.7zM383.1 277.0h0.7v0.7h-0.7zM356.2 272.4h0.7v0.7h-0.7zM373.5 268.4h0.7v0.7h-0.7zM377.8 271.3h0.7v0.7h-0.7zM364.3 274.5h0.7v0.7h-0.7zM361.0 278.2h0.7v0.7h-0.7zM359.2 278.9h0.7v0.7h-0.7zM387.0 257.3h0.7v0.7h-0.7zM379.4 260.3h0.7v0.7h-0.7zM365.6 280.2h0.7v0.7h-0.7zM375.6 272.1h0.7v0.7h-0.7zM368.2 271.2h0.7v0.7h-0.7zM368.7 269.2h0.7v0.7h-0.7zM360.3 265.7h0.7v0.7h-0.7zM381.4 267.4h0.7v0.7h-0.7zM383.8 270.8h0.7v0.7h-0.7zM367.7 264.8h0.7v0.7h-0.7zM361.9 271.9h0.7v0.7h-0.7zM362.9 269.9h0.7v0.7h-0.7zM341.6 273.9h0.7v0.7h-0.7zM361.4 269.3h0.7v0.7h-0.7zM359.7 264.1h0.7v0.7h-0.7zM357.5 280.1h0.7v0.7h-0.7zM354.6 270.5h0.7v0.7h-0.7zM356.1 272.0h0.7v0.7h-0.7zM361.4 282.0h0.7v0.7h-0.7zM355.6 279.9h0.7v0.7h-0.7zM360.2 274.3h0.7v0.7h-0.7zM389.2 265.8h0.7v0.7h-0.7zM361.3 257.1h0.7v0.7h-0.7zM360.8 270.7h0.7v0.7h-0.7zM365.9 272.0h0.7v0.7h-0.7zM352.7 268.8h0.7v0.7h-0.7zM371.6 268.2h0.7v0.7h-0.7zM365.5 274.3h0.7v0.7h-0.7zM365.6 271.6h0.7v0.7h-0.7zM353.8 273.4h0.7v0.7h-0.7zM349.6 283.3h0.7v0.7h-0.7zM358.6 281.0h0.7v0.7h-0.7zM359.4 271.5h0.7v0.7h-0.7zM377.4 269.4h0.7v0.7h-0.7zM366.0 269.4h0.7v0.7h-0.7zM361.2 268.1h0.7v0.7h-0.7zM355.1 264.0h0.7v0.7h-0.7zM362.2 267.6h0.7v0.7h-0.7zM380.5 278.6h0.7v0.7h-0.7zM381.9 261.3h0.7v0.7h-0.7zM360.8 271.2h0.7v0.7h-0.7zM351.1 282.0h0.7v0.7h-0.7zM371.8 271.1h0.7v0.7h-0.7zM384.0 269.5h0.7v0.7h-0.7zM361.9 273.1h0.7v0.7h-0.7zM360.5 274.5h0.7v0.7h-0.7zM352.2 276.4h0.7v0.7h-0.7zM361.2 269.7h0.7v0.7h-0.7zM360.7 271.3h0.7v0.7h-0.7zM348.1 277.7h0.7v0.7h-0.7zM364.5 280.4h0.7v0.7h-0.7zM365.4 275.8h0.7v0.7h-0.7zM364.1 270.6h0.7v0.7h-0.7zM352.1 271.4h0.7v0.7h-0.7zM356.3 260.5h0.7v0.7h-0.7zM360.9 268.2h0.7v0.7h-0.7zM368.7 275.6h0.7v0.7h-0.7zM362.9 277.6h0.7v0.7h-0.7zM377.6 272.3h0.7v0.7h-0.7zM361.5 272.4h0.7v0.7h-0.7zM382.3 275.3h0.7v0.7h-0.7zM374.0 260.3h0.7v0.7h-0.7zM344.2 284.6h0.7v0.7h-0.7zM373.0 276.3h0.7v0.7h-0.7zM370.0 268.5h0.7v0.7h-0.7zM369.1 270.0h0.7v0.7h-0.7zM380.2 272.2h0.7v0.7h-0.7zM354.5 269.4h0.7v0.7h-0.7zM375.5 273.4h0.7v0.7h-0.7zM367.8 272.3h0.7v0.7h-0.7zM351.5 269.6h0.7v0.7h-0.7zM367.9 261.1h0.7v0.7h-0.7zM370.1 273.0h0.7v0.7h-0.7zM372.0 274.0h0.7v0.7h-0.7zM383.7 268.6h0.7v0.7h-0.7zM354.9 264.5h0.7v0.7h-0.7zM342.7 276.4h0.7v0.7h-0.7zM371.7 261.1h0.7v0.7h-0.7zM365.7 267.3h0.7v0.7h-0.7zM362.4 272.8h0.7v0.7h-0.7zM363.8 265.3h0.7v0.7h-0.7zM372.0 268.9h0.7v0.7h-0.7zM347.1 278.9h0.7v0.7h-0.7zM379.8 266.0h0.7v0.7h-0.7zM378.8 260.0h0.7v0.7h-0.7zM363.6 278.1h0.7v0.7h-0.7zM378.1 271.0h0.7v0.7h-0.7zM374.7 266.9h0.7v0.7h-0.7zM372.8 274.4h0.7v0.7h-0.7zM374.4 271.1h0.7v0.7h-0.7zM373.4 271.6h0.7v0.7h-0.7zM369.1 262.3h0.7v0.7h-0.7zM369.6 265.3h0.7v0.7h-0.7zM361.1 272.2h0.7v0.7h-0.7zM365.8 264.2h0.7v0.7h-0.7zM359.7 273.5h0.7v0.7h-0.7zM360.7 272.2h0.7v0.7h-0.7zM367.2 271.7h0.7v0.7h-0.7zM359.5 273.2h0.7v0.7h-0.7zM369.0 263.7h0.7v0.7h-0.7zM371.3 264.6h0.7v0.7h-0.7zM368.9 273.4h0.7v0.7h-0.7zM369.8 264.0h0.7v0.7h-0.7zM354.4 267.3h0.7v0.7h-0.7zM370.4 270.6h0.7v0.7h-0.7zM347.7 278.6h0.7v0.7h-0.7zM375.8 266.1h0.7v0.7h-0.7zM364.1 272.5h0.7v0.7h-0.7zM354.3 271.2h0.7v0.7h-0.7zM369.7 268.3h0.7v0.7h-0.7zM364.7 271.7h0.7v0.7h-0.7zM381.8 268.9h0.7v0.7h-0.7zM367.5 268.1h0.7v0.7h-0.7zM376.9 268.9h0.7v0.7h-0.7zM365.7 277.7h0.7v0.7h-0.7zM376.9 263.8h0.7v0.7h-0.7zM362.9 278.1h0.7v0.7h-0.7zM361.6 279.9h0.7v0.7h-0.7zM365.1 281.1h0.7v0.7h-0.7zM353.0 263.6h0.7v0.7h-0.7zM352.4 283.9h0.7v0.7h-0.7zM357.0 270.5h0.7v0.7h-0.7zM358.2 268.7h0.7v0.7h-0.7zM366.3 271.5h0.7v0.7h-0.7zM357.9 269.9h0.7v0.7h-0.7zM378.8 273.1h0.7v0.7h-0.7zM375.7 275.2h0.7v0.7h-0.7zM363.6 275.9h0.7v0.7h-0.7zM379.9 263.7h0.7v0.7h-0.7zM375.4 256.2h0.7v0.7h-0.7zM344.3 267.9h0.7v0.7h-0.7zM353.8 268.5h0.7v0.7h-0.7zM360.6 276.2h0.7v0.7h-0.7zM357.0 270.9h0.7v0.7h-0.7zM350.1 266.0h0.7v0.7h-0.7zM362.0 267.8h0.7v0.7h-0.7zM373.4 269.9h0.7v0.7h-0.7zM347.5 278.5h0.7v0.7h-0.7zM352.3 271.7h0.7v0.7h-0.7zM353.4 269.3h0.7v0.7h-0.7zM357.4 266.5h0.7v0.7h-0.7zM357.0 271.3h0.7v0.7h-0.7zM372.3 273.1h0.7v0.7h-0.7zM380.3 259.4h0.7v0.7h-0.7zM361.9 277.9h0.7v0.7h-0.7zM353.2 272.7h0.7v0.7h-0.7zM373.2 277.2h0.7v0.7h-0.7zM370.4 271.5h0.7v0.7h-0.7zM363.5 274.5h0.7v0.7h-0.7zM365.8 272.6h0.7v0.7h-0.7zM358.0 271.8h0.7v0.7h-0.7zM354.6 267.6h0.7v0.7h-0.7zM355.2 268.7h0.7v0.7h-0.7zM357.2 269.7h0.7v0.7h-0.7zM349.8 275.8h0.7v0.7h-0.7zM369.1 278.0h0.7v0.7h-0.7zM339.8 269.1h0.7v0.7h-0.7zM353.9 268.8h0.7v0.7h-0.7zM364.1 266.8h0.7v0.7h-0.7zM357.5 276.3h0.7v0.7h-0.7zM360.8 263.6h0.7v0.7h-0.7zM376.0 280.1h0.7v0.7h-0.7zM375.2 267.9h0.7v0.7h-0.7zM377.6 267.9h0.7v0.7h-0.7zM361.2 273.0h0.7v0.7h-0.7zM377.2 268.9h0.7v0.7h-0.7zM359.9 264.9h0.7v0.7h-0.7zM365.1 265.4h0.7v0.7h-0.7zM361.9 264.5h0.7v0.7h-0.7zM354.8 268.1h0.7v0.7h-0.7zM356.6 266.9h0.7v0.7h-0.7zM377.2 272.3h0.7v0.7h-0.7zM360.0 266.7h0.7v0.7h-0.7zM374.8 267.6h0.7v0.7h-0.7zM370.9 274.8h0.7v0.7h-0.7zM360.8 274.1h0.7v0.7h-0.7zM368.3 268.0h0.7v0.7h-0.7zM362.0 268.4h0.7v0.7h-0.7zM330.7 276.2h0.7v0.7h-0.7zM381.5 272.6h0.7v0.7h-0.7zM391.0 265.8h0.7v0.7h-0.7zM372.3 266.2h0.7v0.7h-0.7zM356.1 268.4h0.7v0.7h-0.7zM369.6 273.9h0.7v0.7h-0.7zM346.3 278.5h0.7v0.7h-0.7zM374.0 273.0h0.7v0.7h-0.7zM352.0 274.7h0.7v0.7h-0.7zM366.1 263.9h0.7v0.7h-0.7zM355.5 284.2h0.7v0.7h-0.7zM357.2 270.1h0.7v0.7h-0.7zM344.6 272.1h0.7v0.7h-0.7zM378.0 270.2h0.7v0.7h-0.7zM356.0 273.0h0.7v0.7h-0.7zM368.5 273.2h0.7v0.7h-0.7zM355.0 275.0h0.7v0.7h-0.7zM357.3 270.0h0.7v0.7h-0.7zM355.1 268.9h0.7v0.7h-0.7zM367.2 261.5h0.7v0.7h-0.7zM369.0 283.9h0.7v0.7h-0.7zM355.3 271.5h0.7v0.7h-0.7zM365.2 278.8h0.7v0.7h-0.7zM350.9 276.8h0.7v0.7h-0.7zM365.3 280.8h0.7v0.7h-0.7zM364.3 281.2h0.7v0.7h-0.7zM355.2 274.8h0.7v0.7h-0.7zM352.9 270.4h0.7v0.7h-0.7zM351.6 271.7h0.7v0.7h-0.7zM378.8 265.2h0.7v0.7h-0.7zM390.0 273.8h0.7v0.7h-0.7zM367.2 270.5h0.7v0.7h-0.7zM366.5 266.7h0.7v0.7h-0.7zM370.1 270.3h0.7v0.7h-0.7zM345.2 275.3h0.7v0.7h-0.7zM369.9 270.1h0.7v0.7h-0.7zM367.3 270.4h0.7v0.7h-0.7zM360.6 277.2h0.7v0.7h-0.7zM377.6 266.7h0.7v0.7h-0.7zM370.9 264.1h0.7v0.7h-0.7zM375.5 264.5h0.7v0.7h-0.7zM365.6 275.6h0.7v0.7h-0.7zM359.4 272.3h0.7v0.7h-0.7zM373.4 266.3h0.7v0.7h-0.7zM368.7 275.7h0.7v0.7h-0.7zM365.9 266.8h0.7v0.7h-0.7zM360.1 270.7h0.7v0.7h-0.7zM365.0 274.1h0.7v0.7h-0.7zM349.0 273.9h0.7v0.7h-0.7zM367.7 277.9h0.7v0.7h-0.7zM349.1 269.8h0.7v0.7h-0.7zM372.8 269.0h0.7v0.7h-0.7zM374.8 268.6h0.7v0.7h-0.7zM357.9 272.1h0.7v0.7h-0.7zM376.9 272.0h0.7v0.7h-0.7zM366.2 271.3h0.7v0.7h-0.7zM375.2 271.8h0.7v0.7h-0.7zM367.3 274.1h0.7v0.7h-0.7zM364.0 265.5h0.7v0.7h-0.7zM374.1 275.0h0.7v0.7h-0.7zM377.6 267.9h0.7v0.7h-0.7zM353.0 275.5h0.7v0.7h-0.7zM356.6 263.2h0.7v0.7h-0.7zM364.9 267.0h0.7v0.7h-0.7zM364.4 268.6h0.7v0.7h-0.7zM373.0 273.5h0.7v0.7h-0.7zM370.2 275.7h0.7v0.7h-0.7zM361.5 283.5h0.7v0.7h-0.7zM348.3 278.2h0.7v0.7h-0.7zM373.7 267.0h0.7v0.7h-0.7zM364.1 265.1h0.7v0.7h-0.7zM360.3 273.4h0.7v0.7h-0.7zM350.0 264.3h0.7v0.7h-0.7zM359.9 267.7h0.7v0.7h-0.7zM354.8 272.2h0.7v0.7h-0.7zM352.1 279.1h0.7v0.7h-0.7zM375.3 268.9h0.7v0.7h-0.7zM358.5 272.0h0.7v0.7h-0.7zM362.4 267.5h0.7v0.7h-0.7zM358.4 274.4h0.7v0.7h-0.7zM354.9 269.8h0.7v0.7h-0.7zM358.8 267.2h0.7v0.7h-0.7zM365.3 264.4h0.7v0.7h-0.7zM373.7 272.6h0.7v0.7h-0.7zM364.7 275.1h0.7v0.7h-0.7zM374.2 267.0h0.7v0.7h-0.7zM363.0 268.2h0.7v0.7h-0.7zM360.3 269.9h0.7v0.7h-0.7zM365.4 273.3h0.7v0.7h-0.7zM385.4 268.2h0.7v0.7h-0.7zM372.9 268.0h0.7v0.7h-0.7zM380.0 268.3h0.7v0.7h-0.7zM362.2 270.1h0.7v0.7h-0.7zM364.0 269.1h0.7v0.7h-0.7zM367.6 279.1h0.7v0.7h-0.7zM364.0 267.3h0.7v0.7h-0.7zM346.4 274.3h0.7v0.7h-0.7zM353.7 269.4h0.7v0.7h-0.7zM365.8 272.4h0.7v0.7h-0.7zM369.7 275.6h0.7v0.7h-0.7zM354.4 269.8h0.7v0.7h-0.7zM354.7 268.0h0.7v0.7h-0.7zM357.0 268.3h0.7v0.7h-0.7zM369.5 264.6h0.7v0.7h-0.7zM382.8 256.8h0.7v0.7h-0.7zM370.3 261.9h0.7v0.7h-0.7zM358.2 266.2h0.7v0.7h-0.7zM364.6 273.3h0.7v0.7h-0.7zM359.4 268.7h0.7v0.7h-0.7zM353.8 269.0h0.7v0.7h-0.7zM355.2 269.5h0.7v0.7h-0.7zM365.4 275.0h0.7v0.7h-0.7zM355.3 262.8h0.7v0.7h-0.7zM361.3 275.6h0.7v0.7h-0.7zM354.5 274.8h0.7v0.7h-0.7zM351.6 267.3h0.7v0.7h-0.7zM364.1 261.7h0.7v0.7h-0.7zM357.2 258.9h0.7v0.7h-0.7zM354.3 274.8h0.7v0.7h-0.7zM358.3 268.6h0.7v0.7h-0.7zM367.9 265.5h0.7v0.7h-0.7zM352.5 271.3h0.7v0.7h-0.7zM363.2 271.7h0.7v0.7h-0.7zM363.2 276.9h0.7v0.7h-0.7zM368.9 269.1h0.7v0.7h-0.7zM383.9 258.9h0.7v0.7h-0.7zM365.2 266.7h0.7v0.7h-0.7zM384.3 268.0h0.7v0.7h-0.7zM371.8 271.1h0.7v0.7h-0.7zM377.0 265.4h0.7v0.7h-0.7zM370.5 261.0h0.7v0.7h-0.7zM370.2 275.1h0.7v0.7h-0.7zM372.5 272.0h0.7v0.7h-0.7zM346.0 275.1h0.7v0.7h-0.7zM362.0 278.8h0.7v0.7h-0.7zM369.4 272.9h0.7v0.7h-0.7zM376.5 270.8h0.7v0.7h-0.7zM349.9 269.8h0.7v0.7h-0.7zM345.1 280.8h0.7v0.7h-0.7zM360.5 265.2h0.7v0.7h-0.7zM367.8 267.9h0.7v0.7h-0.7zM362.0 277.7h0.7v0.7h-0.7zM342.7 268.1h0.7v0.7h-0.7zM362.4 269.9h0.7v0.7h-0.7zM373.9 266.9h0.7v0.7h-0.7zM370.3 278.0h0.7v0.7h-0.7zM349.2 266.9h0.7v0.7h-0.7zM356.6 271.3h0.7v0.7h-0.7zM353.4 274.3h0.7v0.7h-0.7zM357.4 277.8h0.7v0.7h-0.7zM369.1 273.1h0.7v0.7h-0.7zM365.9 271.4h0.7v0.7h-0.7zM347.9 273.1h0.7v0.7h-0.7zM348.0 280.7h0.7v0.7h-0.7zM351.9 268.9h0.7v0.7h-0.7zM361.4 282.2h0.7v0.7h-0.7zM354.7 281.0h0.7v0.7h-0.7zM367.5 282.9h0.7v0.7h-0.7zM360.9 268.7h0.7v0.7h-0.7zM362.7 268.3h0.7v0.7h-0.7zM357.5 275.7h0.7v0.7h-0.7zM360.1 276.0h0.7v0.7h-0.7zM370.2 274.1h0.7v0.7h-0.7zM379.5 272.7h0.7v0.7h-0.7zM355.9 279.1h0.7v0.7h-0.7zM341.4 281.9h0.7v0.7h-0.7zM374.0 263.4h0.7v0.7h-0.7zM373.8 259.4h0.7v0.7h-0.7zM372.7 266.9h0.7v0.7h-0.7zM360.7 270.6h0.7v0.7h-0.7zM359.0 275.5h0.7v0.7h-0.7zM363.1 270.8h0.7v0.7h-0.7zM363.7 269.1h0.7v0.7h-0.7zM354.6 275.7h0.7v0.7h-0.7zM370.3 263.6h0.7v0.7h-0.7zM373.9 275.0h0.7v0.7h-0.7zM366.7 277.5h0.7v0.7h-0.7zM344.4 281.8h0.7v0.7h-0.7zM356.9 273.8h0.7v0.7h-0.7zM357.4 284.4h0.7v0.7h-0.7zM360.4 274.9h0.7v0.7h-0.7zM349.4 272.4h0.7v0.7h-0.7zM367.6 269.5h0.7v0.7h-0.7zM358.0 279.5h0.7v0.7h-0.7zM349.1 274.4h0.7v0.7h-0.7zM361.6 269.5h0.7v0.7h-0.7zM370.0 270.7h0.7v0.7h-0.7zM362.6 274.4h0.7v0.7h-0.7zM363.4 273.6h0.7v0.7h-0.7zM376.0 269.5h0.7v0.7h-0.7zM363.7 268.1h0.7v0.7h-0.7zM378.0 272.6h0.7v0.7h-0.7zM369.0 271.3h0.7v0.7h-0.7zM355.9 273.0h0.7v0.7h-0.7zM365.3 264.8h0.7v0.7h-0.7zM354.5 272.3h0.7v0.7h-0.7zM382.2 268.8h0.7v0.7h-0.7zM351.2 279.9h0.7v0.7h-0.7zM372.9 272.5h0.7v0.7h-0.7zM358.4 271.5h0.7v0.7h-0.7zM385.5 271.8h0.7v0.7h-0.7zM348.3 272.1h0.7v0.7h-0.7zM354.3 269.6h0.7v0.7h-0.7zM371.9 275.8h0.7v0.7h-0.7zM350.7 276.5h0.7v0.7h-0.7zM372.1 270.4h0.7v0.7h-0.7zM377.7 273.7h0.7v0.7h-0.7zM356.1 273.2h0.7v0.7h-0.7zM365.1 264.7h0.7v0.7h-0.7zM362.5 276.2h0.7v0.7h-0.7zM367.5 270.3h0.7v0.7h-0.7zM388.9 268.7h0.7v0.7h-0.7zM372.0 264.9h0.7v0.7h-0.7zM374.9 266.4h0.7v0.7h-0.7zM361.6 269.3h0.7v0.7h-0.7zM352.2 276.3h0.7v0.7h-0.7zM352.9 277.4h0.7v0.7h-0.7zM357.4 278.6h0.7v0.7h-0.7zM368.1 275.8h0.7v0.7h-0.7zM353.8 275.9h0.7v0.7h-0.7zM371.1 270.8h0.7v0.7h-0.7zM362.1 268.4h0.7v0.7h-0.7zM333.3 280.0h0.7v0.7h-0.7zM350.6 268.5h0.7v0.7h-0.7zM364.6 257.5h0.7v0.7h-0.7zM357.2 275.8h0.7v0.7h-0.7zM363.8 269.9h0.7v0.7h-0.7zM356.5 273.4h0.7v0.7h-0.7zM348.5 271.4h0.7v0.7h-0.7zM370.5 265.0h0.7v0.7h-0.7zM362.2 269.4h0.7v0.7h-0.7zM349.9 264.1h0.7v0.7h-0.7zM354.7 269.0h0.7v0.7h-0.7zM353.9 272.8h0.7v0.7h-0.7zM367.4 273.3h0.7v0.7h-0.7zM366.1 264.6h0.7v0.7h-0.7zM377.5 269.8h0.7v0.7h-0.7zM369.6 263.3h0.7v0.7h-0.7zM376.5 279.7h0.7v0.7h-0.7zM370.0 275.3h0.7v0.7h-0.7zM358.5 272.9h0.7v0.7h-0.7zM364.0 274.3h0.7v0.7h-0.7zM365.7 271.9h0.7v0.7h-0.7zM353.9 267.1h0.7v0.7h-0.7zM366.3 283.1h0.7v0.7h-0.7zM355.0 275.5h0.7v0.7h-0.7zM376.0 265.2h0.7v0.7h-0.7zM348.5 276.1h0.7v0.7h-0.7zM362.6 266.9h0.7v0.7h-0.7zM379.1 271.3h0.7v0.7h-0.7zM362.4 264.4h0.7v0.7h-0.7zM377.1 273.9h0.7v0.7h-0.7zM373.6 277.1h0.7v0.7h-0.7zM352.9 268.3h0.7v0.7h-0.7zM372.8 271.4h0.7v0.7h-0.7zM363.0 268.7h0.7v0.7h-0.7zM374.1 270.1h0.7v0.7h-0.7zM371.1 263.7h0.7v0.7h-0.7zM364.9 272.9h0.7v0.7h-0.7zM372.1 260.9h0.7v0.7h-0.7zM361.3 268.3h0.7v0.7h-0.7zM363.9 270.3h0.7v0.7h-0.7zM368.8 273.9h0.7v0.7h-0.7zM366.5 270.1h0.7v0.7h-0.7zM373.9 275.9h0.7v0.7h-0.7zM363.8 267.0h0.7v0.7h-0.7zM382.0 271.8h0.7v0.7h-0.7zM384.6 264.5h0.7v0.7h-0.7zM360.1 271.0h0.7v0.7h-0.7zM361.6 264.1h0.7v0.7h-0.7zM370.6 262.1h0.7v0.7h-0.7zM337.1 276.5h0.7v0.7h-0.7zM353.9 274.5h0.7v0.7h-0.7zM351.4 266.8h0.7v0.7h-0.7zM342.9 269.1h0.7v0.7h-0.7zM363.4 281.9h0.7v0.7h-0.7zM369.8 266.5h0.7v0.7h-0.7zM377.3 269.4h0.7v0.7h-0.7zM344.1 266.4h0.7v0.7h-0.7zM348.7 271.3h0.7v0.7h-0.7zM363.7 268.0h0.7v0.7h-0.7zM357.8 267.6h0.7v0.7h-0.7zM366.5 274.5h0.7v0.7h-0.7zM354.9 279.3h0.7v0.7h-0.7zM355.6 271.3h0.7v0.7h-0.7zM380.8 270.5h0.7v0.7h-0.7zM362.5 261.6h0.7v0.7h-0.7zM364.4 269.1h0.7v0.7h-0.7zM363.0 276.8h0.7v0.7h-0.7zM360.5 280.8h0.7v0.7h-0.7zM364.6 271.7h0.7v0.7h-0.7zM361.1 272.1h0.7v0.7h-0.7zM377.4 269.4h0.7v0.7h-0.7zM353.5 269.3h0.7v0.7h-0.7zM375.9 271.3h0.7v0.7h-0.7zM355.6 272.2h0.7v0.7h-0.7zM365.6 273.6h0.7v0.7h-0.7zM354.8 273.5h0.7v0.7h-0.7zM350.6 269.9h0.7v0.7h-0.7zM363.2 278.1h0.7v0.7h-0.7zM364.9 279.3h0.7v0.7h-0.7zM369.1 276.5h0.7v0.7h-0.7zM360.6 262.6h0.7v0.7h-0.7zM337.0 276.9h0.7v0.7h-0.7zM360.5 275.6h0.7v0.7h-0.7zM347.2 279.1h0.7v0.7h-0.7zM347.7 276.1h0.7v0.7h-0.7zM351.3 278.1h0.7v0.7h-0.7zM346.3 274.9h0.7v0.7h-0.7zM359.3 273.6h0.7v0.7h-0.7zM344.6 276.9h0.7v0.7h-0.7zM349.2 278.0h0.7v0.7h-0.7zM359.6 280.1h0.7v0.7h-0.7zM349.8 277.4h0.7v0.7h-0.7zM355.8 276.1h0.7v0.7h-0.7zM350.7 273.7h0.7v0.7h-0.7zM352.4 276.5h0.7v0.7h-0.7zM341.6 278.5h0.7v0.7h-0.7zM363.3 276.9h0.7v0.7h-0.7zM345.6 281.2h0.7v0.7h-0.7zM352.2 277.4h0.7v0.7h-0.7zM359.3 278.9h0.7v0.7h-0.7zM362.2 273.5h0.7v0.7h-0.7zM347.4 277.0h0.7v0.7h-0.7zM350.9 273.4h0.7v0.7h-0.7zM351.4 272.7h0.7v0.7h-0.7zM346.6 276.6h0.7v0.7h-0.7zM351.6 277.8h0.7v0.7h-0.7zM345.6 278.4h0.7v0.7h-0.7zM351.8 276.6h0.7v0.7h-0.7zM350.0 275.5h0.7v0.7h-0.7zM361.1 280.1h0.7v0.7h-0.7zM351.9 280.8h0.7v0.7h-0.7zM344.7 275.9h0.7v0.7h-0.7zM348.2 278.5h0.7v0.7h-0.7zM347.8 274.5h0.7v0.7h-0.7zM340.8 274.5h0.7v0.7h-0.7zM355.7 278.0h0.7v0.7h-0.7zM342.1 283.3h0.7v0.7h-0.7zM347.0 275.9h0.7v0.7h-0.7zM349.0 277.2h0.7v0.7h-0.7zM347.7 277.1h0.7v0.7h-0.7zM354.8 279.3h0.7v0.7h-0.7zM345.9 276.9h0.7v0.7h-0.7zM345.4 276.1h0.7v0.7h-0.7zM349.3 276.1h0.7v0.7h-0.7zM353.3 274.0h0.7v0.7h-0.7zM352.5 279.0h0.7v0.7h-0.7zM348.1 276.2h0.7v0.7h-0.7zM353.5 275.6h0.7v0.7h-0.7zM348.1 277.8h0.7v0.7h-0.7zM335.5 280.4h0.7v0.7h-0.7zM351.6 278.6h0.7v0.7h-0.7zM341.7 276.5h0.7v0.7h-0.7zM352.8 278.4h0.7v0.7h-0.7zM346.4 276.0h0.7v0.7h-0.7zM359.1 277.0h0.7v0.7h-0.7zM357.0 272.4h0.7v0.7h-0.7zM352.4 275.1h0.7v0.7h-0.7zM347.4 281.0h0.7v0.7h-0.7zM343.5 274.8h0.7v0.7h-0.7zM345.8 276.6h0.7v0.7h-0.7zM350.3 278.2h0.7v0.7h-0.7zM357.5 277.7h0.7v0.7h-0.7zM360.7 279.2h0.7v0.7h-0.7zM353.2 276.3h0.7v0.7h-0.7zM358.1 275.4h0.7v0.7h-0.7zM355.9 276.6h0.7v0.7h-0.7zM346.9 279.3h0.7v0.7h-0.7zM354.2 277.6h0.7v0.7h-0.7zM356.5 276.8h0.7v0.7h-0.7zM345.7 277.6h0.7v0.7h-0.7zM360.8 273.2h0.7v0.7h-0.7zM339.2 278.0h0.7v0.7h-0.7zM344.3 281.5h0.7v0.7h-0.7zM350.7 274.2h0.7v0.7h-0.7zM349.4 274.3h0.7v0.7h-0.7zM353.1 279.5h0.7v0.7h-0.7zM357.5 279.5h0.7v0.7h-0.7zM350.2 280.5h0.7v0.7h-0.7zM352.6 273.0h0.7v0.7h-0.7zM357.9 273.7h0.7v0.7h-0.7zM346.1 272.7h0.7v0.7h-0.7zM344.6 271.2h0.7v0.7h-0.7zM342.5 275.2h0.7v0.7h-0.7zM342.9 276.5h0.7v0.7h-0.7zM354.6 275.7h0.7v0.7h-0.7zM352.9 280.1h0.7v0.7h-0.7zM346.8 281.7h0.7v0.7h-0.7zM349.7 276.9h0.7v0.7h-0.7zM352.5 280.8h0.7v0.7h-0.7zM343.1 280.4h0.7v0.7h-0.7zM347.2 277.5h0.7v0.7h-0.7zM343.4 270.0h0.7v0.7h-0.7zM357.1 278.6h0.7v0.7h-0.7zM343.5 274.9h0.7v0.7h-0.7zM342.9 277.5h0.7v0.7h-0.7zM362.1 275.5h0.7v0.7h-0.7zM340.2 280.1h0.7v0.7h-0.7zM344.2 272.8h0.7v0.7h-0.7zM352.3 276.8h0.7v0.7h-0.7zM351.2 279.0h0.7v0.7h-0.7zM355.1 270.3h0.7v0.7h-0.7zM351.3 280.3h0.7v0.7h-0.7zM357.1 273.3h0.7v0.7h-0.7zM338.9 274.7h0.7v0.7h-0.7zM352.3 276.2h0.7v0.7h-0.7zM354.8 276.0h0.7v0.7h-0.7zM342.2 274.4h0.7v0.7h-0.7zM348.8 279.6h0.7v0.7h-0.7zM358.5 273.3h0.7v0.7h-0.7zM352.6 276.6h0.7v0.7h-0.7zM342.8 274.1h0.7v0.7h-0.7zM359.1 274.9h0.7v0.7h-0.7zM349.6 278.4h0.7v0.7h-0.7zM352.3 278.9h0.7v0.7h-0.7zM345.1 276.3h0.7v0.7h-0.7zM351.6 277.9h0.7v0.7h-0.7zM345.2 272.3h0.7v0.7h-0.7zM355.3 279.1h0.7v0.7h-0.7zM355.6 276.2h0.7v0.7h-0.7zM339.2 276.8h0.7v0.7h-0.7zM362.1 276.8h0.7v0.7h-0.7zM351.1 272.0h0.7v0.7h-0.7zM346.4 280.2h0.7v0.7h-0.7zM351.9 276.4h0.7v0.7h-0.7zM357.6 278.5h0.7v0.7h-0.7zM353.2 276.2h0.7v0.7h-0.7zM352.8 279.9h0.7v0.7h-0.7zM351.5 273.1h0.7v0.7h-0.7zM348.9 276.3h0.7v0.7h-0.7zM352.8 280.6h0.7v0.7h-0.7zM349.5 275.7h0.7v0.7h-0.7zM354.5 278.0h0.7v0.7h-0.7zM345.5 278.8h0.7v0.7h-0.7zM351.2 277.9h0.7v0.7h-0.7zM340.4 271.9h0.7v0.7h-0.7zM340.6 272.8h0.7v0.7h-0.7zM356.0 279.5h0.7v0.7h-0.7zM342.7 282.0h0.7v0.7h-0.7zM343.1 275.2h0.7v0.7h-0.7zM362.5 272.1h0.7v0.7h-0.7zM354.4 279.1h0.7v0.7h-0.7zM356.8 278.4h0.7v0.7h-0.7zM351.9 281.4h0.7v0.7h-0.7zM349.6 277.3h0.7v0.7h-0.7zM352.3 275.8h0.7v0.7h-0.7zM349.5 280.7h0.7v0.7h-0.7zM359.8 278.0h0.7v0.7h-0.7zM349.2 275.6h0.7v0.7h-0.7zM347.6 276.1h0.7v0.7h-0.7zM347.4 277.0h0.7v0.7h-0.7zM349.0 280.3h0.7v0.7h-0.7zM341.5 276.5h0.7v0.7h-0.7zM354.7 275.4h0.7v0.7h-0.7zM347.7 278.9h0.7v0.7h-0.7zM349.3 274.2h0.7v0.7h-0.7zM351.1 278.8h0.7v0.7h-0.7zM340.3 280.6h0.7v0.7h-0.7zM340.0 280.0h0.7v0.7h-0.7zM342.3 278.4h0.7v0.7h-0.7zM350.1 280.1h0.7v0.7h-0.7zM349.5 275.8h0.7v0.7h-0.7zM345.7 278.0h0.7v0.7h-0.7zM348.9 279.7h0.7v0.7h-0.7zM352.8 280.5h0.7v0.7h-0.7zM354.3 277.2h0.7v0.7h-0.7zM349.8 278.9h0.7v0.7h-0.7zM354.3 272.7h0.7v0.7h-0.7zM352.3 275.8h0.7v0.7h-0.7zM352.2 279.2h0.7v0.7h-0.7zM338.7 277.7h0.7v0.7h-0.7zM355.6 271.4h0.7v0.7h-0.7zM351.4 277.0h0.7v0.7h-0.7zM347.0 280.0h0.7v0.7h-0.7zM355.6 276.6h0.7v0.7h-0.7zM358.8 280.6h0.7v0.7h-0.7zM351.5 279.4h0.7v0.7h-0.7zM355.7 281.7h0.7v0.7h-0.7zM355.1 278.7h0.7v0.7h-0.7zM351.0 279.1h0.7v0.7h-0.7zM359.4 276.0h0.7v0.7h-0.7zM349.3 274.3h0.7v0.7h-0.7zM365.2 274.6h0.7v0.7h-0.7zM347.0 275.6h0.7v0.7h-0.7zM357.2 277.5h0.7v0.7h-0.7zM338.2 278.5h0.7v0.7h-0.7zM361.0 276.0h0.7v0.7h-0.7zM351.6 285.6h0.7v0.7h-0.7zM348.7 276.6h0.7v0.7h-0.7zM354.6 283.9h0.7v0.7h-0.7zM352.4 272.0h0.7v0.7h-0.7zM349.3 276.5h0.7v0.7h-0.7zM354.6 275.6h0.7v0.7h-0.7zM350.7 273.2h0.7v0.7h-0.7zM342.7 277.9h0.7v0.7h-0.7zM359.7 273.4h0.7v0.7h-0.7zM341.1 281.4h0.7v0.7h-0.7zM352.7 279.2h0.7v0.7h-0.7zM349.3 277.9h0.7v0.7h-0.7zM349.7 277.1h0.7v0.7h-0.7zM360.7 275.0h0.7v0.7h-0.7zM347.9 277.3h0.7v0.7h-0.7zM349.6 282.2h0.7v0.7h-0.7zM349.4 278.3h0.7v0.7h-0.7zM343.1 279.4h0.7v0.7h-0.7zM354.3 278.7h0.7v0.7h-0.7zM340.6 276.1h0.7v0.7h-0.7zM335.1 283.4h0.7v0.7h-0.7zM350.1 282.0h0.7v0.7h-0.7zM361.9 279.2h0.7v0.7h-0.7zM346.4 276.8h0.7v0.7h-0.7zM354.4 270.9h0.7v0.7h-0.7zM358.9 280.8h0.7v0.7h-0.7zM355.4 275.8h0.7v0.7h-0.7zM352.0 272.2h0.7v0.7h-0.7zM344.5 276.3h0.7v0.7h-0.7zM346.2 282.4h0.7v0.7h-0.7zM352.3 269.7h0.7v0.7h-0.7zM357.2 278.0h0.7v0.7h-0.7zM348.7 275.1h0.7v0.7h-0.7zM362.6 276.7h0.7v0.7h-0.7zM351.4 272.2h0.7v0.7h-0.7zM347.1 280.1h0.7v0.7h-0.7zM350.9 275.7h0.7v0.7h-0.7zM348.0 272.5h0.7v0.7h-0.7zM335.8 280.0h0.7v0.7h-0.7zM341.2 273.2h0.7v0.7h-0.7zM352.4 279.7h0.7v0.7h-0.7zM348.5 280.5h0.7v0.7h-0.7zM349.7 267.7h0.7v0.7h-0.7zM359.6 273.0h0.7v0.7h-0.7zM359.5 275.4h0.7v0.7h-0.7zM349.7 275.7h0.7v0.7h-0.7zM344.4 279.4h0.7v0.7h-0.7zM360.5 280.1h0.7v0.7h-0.7zM347.0 278.9h0.7v0.7h-0.7zM356.6 278.3h0.7v0.7h-0.7zM343.0 283.9h0.7v0.7h-0.7zM345.6 275.0h0.7v0.7h-0.7zM351.1 277.7h0.7v0.7h-0.7zM346.6 273.5h0.7v0.7h-0.7zM342.9 277.7h0.7v0.7h-0.7zM339.3 281.4h0.7v0.7h-0.7zM354.1 277.4h0.7v0.7h-0.7zM351.2 274.4h0.7v0.7h-0.7zM347.1 280.0h0.7v0.7h-0.7zM347.5 282.1h0.7v0.7h-0.7zM356.5 278.6h0.7v0.7h-0.7zM348.5 274.4h0.7v0.7h-0.7zM349.0 274.3h0.7v0.7h-0.7zM347.9 276.2h0.7v0.7h-0.7zM347.2 280.8h0.7v0.7h-0.7zM344.7 275.3h0.7v0.7h-0.7zM357.3 277.2h0.7v0.7h-0.7zM353.0 274.9h0.7v0.7h-0.7zM352.5 280.8h0.7v0.7h-0.7zM350.4 278.4h0.7v0.7h-0.7zM357.6 278.2h0.7v0.7h-0.7zM357.3 272.9h0.7v0.7h-0.7zM339.4 274.6h0.7v0.7h-0.7zM352.6 274.8h0.7v0.7h-0.7zM338.6 283.5h0.7v0.7h-0.7zM357.9 274.8h0.7v0.7h-0.7zM346.1 275.3h0.7v0.7h-0.7zM354.6 278.0h0.7v0.7h-0.7zM351.4 281.1h0.7v0.7h-0.7zM345.0 273.9h0.7v0.7h-0.7zM350.2 276.9h0.7v0.7h-0.7zM350.9 278.3h0.7v0.7h-0.7zM341.4 282.6h0.7v0.7h-0.7zM339.6 279.0h0.7v0.7h-0.7zM352.5 279.4h0.7v0.7h-0.7zM351.3 274.5h0.7v0.7h-0.7zM348.7 273.1h0.7v0.7h-0.7zM349.1 276.5h0.7v0.7h-0.7zM339.6 284.6h0.7v0.7h-0.7zM346.7 279.0h0.7v0.7h-0.7zM358.0 276.3h0.7v0.7h-0.7zM347.4 274.0h0.7v0.7h-0.7zM345.6 275.3h0.7v0.7h-0.7zM349.4 279.5h0.7v0.7h-0.7zM351.7 281.4h0.7v0.7h-0.7zM352.6 277.6h0.7v0.7h-0.7zM331.9 278.2h0.7v0.7h-0.7zM351.4 272.5h0.7v0.7h-0.7zM349.6 275.0h0.7v0.7h-0.7zM348.9 277.1h0.7v0.7h-0.7zM348.5 277.0h0.7v0.7h-0.7zM352.4 277.8h0.7v0.7h-0.7zM346.4 280.1h0.7v0.7h-0.7zM350.6 278.1h0.7v0.7h-0.7zM361.0 281.1h0.7v0.7h-0.7zM363.1 275.2h0.7v0.7h-0.7zM352.8 278.3h0.7v0.7h-0.7zM350.7 276.6h0.7v0.7h-0.7zM355.4 280.0h0.7v0.7h-0.7zM363.1 274.3h0.7v0.7h-0.7zM352.7 274.6h0.7v0.7h-0.7zM347.9 270.1h0.7v0.7h-0.7zM362.4 271.2h0.7v0.7h-0.7zM350.3 271.7h0.7v0.7h-0.7zM347.9 274.2h0.7v0.7h-0.7zM337.4 275.0h0.7v0.7h-0.7zM348.8 276.8h0.7v0.7h-0.7zM338.7 280.0h0.7v0.7h-0.7zM348.0 273.8h0.7v0.7h-0.7zM359.0 274.2h0.7v0.7h-0.7zM351.9 281.5h0.7v0.7h-0.7zM350.5 276.7h0.7v0.7h-0.7zM355.8 275.3h0.7v0.7h-0.7zM350.5 276.6h0.7v0.7h-0.7zM348.0 279.5h0.7v0.7h-0.7zM352.1 281.1h0.7v0.7h-0.7zM352.1 272.6h0.7v0.7h-0.7zM352.4 276.0h0.7v0.7h-0.7zM348.9 280.1h0.7v0.7h-0.7zM352.2 272.1h0.7v0.7h-0.7zM362.1 275.6h0.7v0.7h-0.7zM340.3 276.9h0.7v0.7h-0.7zM352.7 273.4h0.7v0.7h-0.7zM344.5 272.2h0.7v0.7h-0.7zM351.6 275.3h0.7v0.7h-0.7zM359.3 277.1h0.7v0.7h-0.7zM351.4 275.1h0.7v0.7h-0.7zM355.6 272.4h0.7v0.7h-0.7zM351.9 278.3h0.7v0.7h-0.7zM345.1 273.9h0.7v0.7h-0.7zM357.5 281.9h0.7v0.7h-0.7zM352.9 282.3h0.7v0.7h-0.7zM352.8 276.2h0.7v0.7h-0.7zM347.4 273.6h0.7v0.7h-0.7zM355.4 274.9h0.7v0.7h-0.7zM346.4 278.5h0.7v0.7h-0.7zM352.8 274.6h0.7v0.7h-0.7zM351.3 276.5h0.7v0.7h-0.7zM350.9 276.5h0.7v0.7h-0.7zM346.9 270.0h0.7v0.7h-0.7zM346.8 280.9h0.7v0.7h-0.7zM348.2 277.7h0.7v0.7h-0.7zM353.4 273.7h0.7v0.7h-0.7zM350.4 276.2h0.7v0.7h-0.7zM352.4 278.6h0.7v0.7h-0.7zM350.5 276.4h0.7v0.7h-0.7zM355.8 276.9h0.7v0.7h-0.7zM341.6 281.5h0.7v0.7h-0.7zM352.6 275.0h0.7v0.7h-0.7zM349.5 274.2h0.7v0.7h-0.7zM350.5 272.6h0.7v0.7h-0.7zM356.2 277.9h0.7v0.7h-0.7zM344.3 279.0h0.7v0.7h-0.7zM341.3 276.2h0.7v0.7h-0.7zM344.3 279.6h0.7v0.7h-0.7zM353.9 272.6h0.7v0.7h-0.7zM351.3 278.4h0.7v0.7h-0.7zM348.7 284.5h0.7v0.7h-0.7zM341.0 281.8h0.7v0.7h-0.7zM358.9 275.2h0.7v0.7h-0.7zM343.6 281.2h0.7v0.7h-0.7zM335.2 278.2h0.7v0.7h-0.7zM341.5 277.7h0.7v0.7h-0.7zM346.3 273.4h0.7v0.7h-0.7zM353.7 280.2h0.7v0.7h-0.7zM342.0 279.7h0.7v0.7h-0.7zM350.4 274.9h0.7v0.7h-0.7zM347.0 279.0h0.7v0.7h-0.7zM356.7 275.6h0.7v0.7h-0.7zM335.5 280.7h0.7v0.7h-0.7zM351.9 271.0h0.7v0.7h-0.7zM346.9 277.2h0.7v0.7h-0.7zM348.3 278.1h0.7v0.7h-0.7zM344.9 279.4h0.7v0.7h-0.7zM333.7 279.5h0.7v0.7h-0.7zM346.4 276.9h0.7v0.7h-0.7zM354.3 280.7h0.7v0.7h-0.7zM343.9 277.2h0.7v0.7h-0.7zM343.9 277.7h0.7v0.7h-0.7zM346.2 273.7h0.7v0.7h-0.7zM356.8 277.5h0.7v0.7h-0.7zM350.3 281.0h0.7v0.7h-0.7zM340.3 279.0h0.7v0.7h-0.7zM359.5 275.1h0.7v0.7h-0.7zM344.5 275.1h0.7v0.7h-0.7zM357.6 279.5h0.7v0.7h-0.7zM352.2 279.6h0.7v0.7h-0.7zM345.8 276.2h0.7v0.7h-0.7zM354.7 273.7h0.7v0.7h-0.7zM351.2 276.8h0.7v0.7h-0.7zM344.9 278.0h0.7v0.7h-0.7zM342.1 275.7h0.7v0.7h-0.7zM337.7 274.2h0.7v0.7h-0.7zM344.7 278.5h0.7v0.7h-0.7zM349.7 273.2h0.7v0.7h-0.7zM349.0 283.8h0.7v0.7h-0.7zM350.5 278.1h0.7v0.7h-0.7zM337.1 276.6h0.7v0.7h-0.7zM356.3 272.1h0.7v0.7h-0.7zM344.3 275.2h0.7v0.7h-0.7zM349.2 278.8h0.7v0.7h-0.7zM339.6 279.9h0.7v0.7h-0.7zM333.8 275.6h0.7v0.7h-0.7zM352.0 273.2h0.7v0.7h-0.7zM344.6 275.8h0.7v0.7h-0.7zM377.4 230.6h0.7v0.7h-0.7zM374.2 257.5h0.7v0.7h-0.7zM367.4 232.4h0.7v0.7h-0.7zM369.3 230.6h0.7v0.7h-0.7zM367.4 230.0h0.7v0.7h-0.7zM361.8 225.1h0.7v0.7h-0.7zM373.9 233.5h0.7v0.7h-0.7zM363.5 249.3h0.7v0.7h-0.7zM368.4 236.5h0.7v0.7h-0.7zM365.5 239.6h0.7v0.7h-0.7zM367.7 235.6h0.7v0.7h-0.7zM368.4 246.5h0.7v0.7h-0.7zM368.3 251.4h0.7v0.7h-0.7zM374.2 230.2h0.7v0.7h-0.7zM364.4 227.9h0.7v0.7h-0.7zM365.4 246.0h0.7v0.7h-0.7zM367.5 235.0h0.7v0.7h-0.7zM370.8 237.8h0.7v0.7h-0.7zM372.6 236.8h0.7v0.7h-0.7zM374.2 249.1h0.7v0.7h-0.7zM367.7 244.6h0.7v0.7h-0.7zM364.7 233.0h0.7v0.7h-0.7zM363.7 237.5h0.7v0.7h-0.7zM363.1 229.6h0.7v0.7h-0.7zM368.1 226.2h0.7v0.7h-0.7zM372.1 231.0h0.7v0.7h-0.7zM367.9 236.6h0.7v0.7h-0.7zM374.3 244.9h0.7v0.7h-0.7zM368.0 234.0h0.7v0.7h-0.7zM373.5 238.1h0.7v0.7h-0.7zM363.9 240.6h0.7v0.7h-0.7zM372.3 239.1h0.7v0.7h-0.7zM369.4 252.8h0.7v0.7h-0.7zM366.5 246.3h0.7v0.7h-0.7zM377.1 254.8h0.7v0.7h-0.7zM363.4 244.2h0.7v0.7h-0.7zM369.8 261.1h0.7v0.7h-0.7zM375.6 248.6h0.7v0.7h-0.7zM375.1 244.4h0.7v0.7h-0.7zM363.9 259.7h0.7v0.7h-0.7zM360.6 246.4h0.7v0.7h-0.7zM373.1 241.2h0.7v0.7h-0.7zM374.3 239.3h0.7v0.7h-0.7zM373.3 241.7h0.7v0.7h-0.7zM365.5 248.4h0.7v0.7h-0.7zM366.4 245.2h0.7v0.7h-0.7zM363.9 241.6h0.7v0.7h-0.7zM372.0 249.9h0.7v0.7h-0.7zM363.7 234.5h0.7v0.7h-0.7zM369.2 230.1h0.7v0.7h-0.7zM372.3 261.0h0.7v0.7h-0.7zM372.6 245.2h0.7v0.7h-0.7zM365.0 244.6h0.7v0.7h-0.7zM371.9 257.3h0.7v0.7h-0.7zM367.5 250.7h0.7v0.7h-0.7zM367.5 237.0h0.7v0.7h-0.7zM367.1 242.0h0.7v0.7h-0.7zM361.7 236.2h0.7v0.7h-0.7zM376.7 223.1h0.7v0.7h-0.7zM373.7 246.5h0.7v0.7h-0.7zM367.1 232.5h0.7v0.7h-0.7zM375.0 236.4h0.7v0.7h-0.7zM370.8 237.5h0.7v0.7h-0.7zM363.6 248.9h0.7v0.7h-0.7zM372.6 231.0h0.7v0.7h-0.7zM374.8 228.2h0.7v0.7h-0.7zM362.8 247.3h0.7v0.7h-0.7zM367.1 239.5h0.7v0.7h-0.7zM377.3 229.7h0.7v0.7h-0.7zM372.4 235.9h0.7v0.7h-0.7zM369.7 237.5h0.7v0.7h-0.7zM365.3 240.0h0.7v0.7h-0.7zM364.6 239.7h0.7v0.7h-0.7zM364.4 237.0h0.7v0.7h-0.7zM369.9 226.8h0.7v0.7h-0.7zM368.9 245.9h0.7v0.7h-0.7zM369.8 248.0h0.7v0.7h-0.7zM364.2 244.9h0.7v0.7h-0.7zM369.2 247.5h0.7v0.7h-0.7zM368.9 239.9h0.7v0.7h-0.7zM368.6 238.1h0.7v0.7h-0.7zM364.0 233.3h0.7v0.7h-0.7zM358.2 258.5h0.7v0.7h-0.7zM369.1 241.6h0.7v0.7h-0.7zM372.4 244.2h0.7v0.7h-0.7zM368.9 225.3h0.7v0.7h-0.7zM363.2 254.8h0.7v0.7h-0.7zM371.4 245.5h0.7v0.7h-0.7zM363.9 235.2h0.7v0.7h-0.7zM370.6 232.5h0.7v0.7h-0.7zM375.3 232.6h0.7v0.7h-0.7zM367.1 229.1h0.7v0.7h-0.7zM371.0 251.3h0.7v0.7h-0.7zM370.3 239.5h0.7v0.7h-0.7zM367.4 246.8h0.7v0.7h-0.7zM369.2 255.5h0.7v0.7h-0.7zM367.9 236.1h0.7v0.7h-0.7zM366.6 222.3h0.7v0.7h-0.7zM370.4 240.7h0.7v0.7h-0.7zM361.2 228.9h0.7v0.7h-0.7zM363.9 236.7h0.7v0.7h-0.7zM364.1 246.4h0.7v0.7h-0.7zM375.2 233.6h0.7v0.7h-0.7zM369.4 229.9h0.7v0.7h-0.7zM375.9 229.7h0.7v0.7h-0.7zM365.3 239.6h0.7v0.7h-0.7zM365.2 263.8h0.7v0.7h-0.7zM368.3 237.3h0.7v0.7h-0.7zM364.3 238.8h0.7v0.7h-0.7zM366.2 235.7h0.7v0.7h-0.7zM374.2 234.2h0.7v0.7h-0.7zM371.3 233.9h0.7v0.7h-0.7zM374.3 232.7h0.7v0.7h-0.7zM364.4 237.3h0.7v0.7h-0.7zM375.5 235.9h0.7v0.7h-0.7zM364.9 238.2h0.7v0.7h-0.7zM365.7 241.9h0.7v0.7h-0.7zM365.8 242.4h0.7v0.7h-0.7zM373.7 244.0h0.7v0.7h-0.7zM376.8 242.3h0.7v0.7h-0.7zM378.5 251.0h0.7v0.7h-0.7zM367.9 246.5h0.7v0.7h-0.7zM365.5 237.7h0.7v0.7h-0.7zM368.8 232.4h0.7v0.7h-0.7zM370.8 238.8h0.7v0.7h-0.7zM379.2 246.5h0.7v0.7h-0.7zM368.0 233.5h0.7v0.7h-0.7zM366.6 233.3h0.7v0.7h-0.7zM365.5 239.6h0.7v0.7h-0.7zM362.5 236.8h0.7v0.7h-0.7zM371.7 234.3h0.7v0.7h-0.7zM363.6 235.0h0.7v0.7h-0.7zM373.5 232.7h0.7v0.7h-0.7zM377.0 224.6h0.7v0.7h-0.7zM365.2 245.0h0.7v0.7h-0.7zM376.0 237.7h0.7v0.7h-0.7zM361.0 237.0h0.7v0.7h-0.7zM364.7 233.4h0.7v0.7h-0.7zM367.4 234.1h0.7v0.7h-0.7zM369.0 240.8h0.7v0.7h-0.7zM367.8 223.5h0.7v0.7h-0.7zM369.6 235.7h0.7v0.7h-0.7zM364.6 258.3h0.7v0.7h-0.7zM377.5 251.5h0.7v0.7h-0.7zM370.3 235.1h0.7v0.7h-0.7zM371.5 254.1h0.7v0.7h-0.7zM368.8 238.2h0.7v0.7h-0.7zM366.3 238.9h0.7v0.7h-0.7zM373.4 231.3h0.7v0.7h-0.7zM374.5 240.8h0.7v0.7h-0.7zM380.4 241.3h0.7v0.7h-0.7zM375.5 230.7h0.7v0.7h-0.7zM381.3 240.3h0.7v0.7h-0.7zM368.9 253.0h0.7v0.7h-0.7zM370.0 228.5h0.7v0.7h-0.7zM372.3 244.5h0.7v0.7h-0.7zM369.2 235.4h0.7v0.7h-0.7zM361.2 254.6h0.7v0.7h-0.7zM367.1 242.8h0.7v0.7h-0.7zM366.8 233.2h0.7v0.7h-0.7zM370.7 231.7h0.7v0.7h-0.7zM373.9 225.2h0.7v0.7h-0.7zM372.2 250.2h0.7v0.7h-0.7zM367.1 241.5h0.7v0.7h-0.7zM373.4 235.7h0.7v0.7h-0.7zM368.2 238.0h0.7v0.7h-0.7zM382.9 232.3h0.7v0.7h-0.7zM368.4 235.6h0.7v0.7h-0.7zM366.6 231.4h0.7v0.7h-0.7zM366.0 241.1h0.7v0.7h-0.7zM375.1 254.2h0.7v0.7h-0.7zM362.9 230.9h0.7v0.7h-0.7zM369.2 230.9h0.7v0.7h-0.7zM365.5 237.6h0.7v0.7h-0.7zM366.5 232.1h0.7v0.7h-0.7zM370.4 232.7h0.7v0.7h-0.7zM368.0 242.5h0.7v0.7h-0.7zM372.9 241.5h0.7v0.7h-0.7zM374.7 241.0h0.7v0.7h-0.7zM362.0 252.8h0.7v0.7h-0.7zM383.5 246.9h0.7v0.7h-0.7zM377.3 249.5h0.7v0.7h-0.7zM367.1 245.3h0.7v0.7h-0.7zM365.9 234.6h0.7v0.7h-0.7zM372.1 240.5h0.7v0.7h-0.7zM366.1 227.0h0.7v0.7h-0.7zM373.3 239.7h0.7v0.7h-0.7zM370.1 231.8h0.7v0.7h-0.7zM365.5 239.3h0.7v0.7h-0.7zM360.1 250.5h0.7v0.7h-0.7zM369.4 249.5h0.7v0.7h-0.7zM374.1 234.6h0.7v0.7h-0.7zM371.9 229.7h0.7v0.7h-0.7zM364.8 251.6h0.7v0.7h-0.7zM366.7 232.8h0.7v0.7h-0.7zM371.7 239.9h0.7v0.7h-0.7zM374.2 228.4h0.7v0.7h-0.7zM368.1 230.1h0.7v0.7h-0.7zM369.5 237.3h0.7v0.7h-0.7zM364.7 224.2h0.7v0.7h-0.7zM362.6 248.1h0.7v0.7h-0.7zM367.5 230.0h0.7v0.7h-0.7zM370.2 229.7h0.7v0.7h-0.7zM373.9 247.5h0.7v0.7h-0.7zM369.6 234.6h0.7v0.7h-0.7zM360.3 244.1h0.7v0.7h-0.7zM379.4 241.5h0.7v0.7h-0.7zM366.7 246.9h0.7v0.7h-0.7zM367.4 228.9h0.7v0.7h-0.7zM368.8 245.1h0.7v0.7h-0.7zM360.3 249.0h0.7v0.7h-0.7zM377.4 239.5h0.7v0.7h-0.7zM367.0 227.1h0.7v0.7h-0.7zM372.0 237.3h0.7v0.7h-0.7zM375.4 253.7h0.7v0.7h-0.7zM375.5 241.4h0.7v0.7h-0.7zM360.3 251.5h0.7v0.7h-0.7zM367.0 235.5h0.7v0.7h-0.7zM374.7 244.0h0.7v0.7h-0.7zM364.2 236.8h0.7v0.7h-0.7zM367.9 238.4h0.7v0.7h-0.7zM363.5 253.1h0.7v0.7h-0.7zM368.7 245.6h0.7v0.7h-0.7zM374.6 259.2h0.7v0.7h-0.7zM373.0 233.3h0.7v0.7h-0.7zM367.2 247.6h0.7v0.7h-0.7zM377.6 226.7h0.7v0.7h-0.7zM378.9 234.8h0.7v0.7h-0.7zM368.4 235.9h0.7v0.7h-0.7zM372.3 238.1h0.7v0.7h-0.7zM369.2 231.6h0.7v0.7h-0.7zM376.6 243.0h0.7v0.7h-0.7zM369.2 258.8h0.7v0.7h-0.7zM372.6 252.1h0.7v0.7h-0.7zM368.1 241.1h0.7v0.7h-0.7zM368.6 247.6h0.7v0.7h-0.7zM370.8 224.7h0.7v0.7h-0.7zM372.3 237.9h0.7v0.7h-0.7zM370.7 248.4h0.7v0.7h-0.7zM368.0 245.5h0.7v0.7h-0.7zM369.5 239.1h0.7v0.7h-0.7zM366.9 238.9h0.7v0.7h-0.7zM367.9 246.9h0.7v0.7h-0.7zM358.0 245.0h0.7v0.7h-0.7zM369.0 230.5h0.7v0.7h-0.7zM373.3 239.6h0.7v0.7h-0.7zM372.2 251.8h0.7v0.7h-0.7zM370.5 225.7h0.7v0.7h-0.7zM361.5 239.4h0.7v0.7h-0.7zM363.5 259.0h0.7v0.7h-0.7zM369.0 223.9h0.7v0.7h-0.7zM358.7 235.0h0.7v0.7h-0.7zM357.4 244.2h0.7v0.7h-0.7zM358.0 247.7h0.7v0.7h-0.7zM367.0 249.9h0.7v0.7h-0.7zM363.6 235.8h0.7v0.7h-0.7zM374.9 225.5h0.7v0.7h-0.7zM372.8 252.8h0.7v0.7h-0.7zM364.5 238.5h0.7v0.7h-0.7zM377.7 253.1h0.7v0.7h-0.7zM377.5 239.0h0.7v0.7h-0.7zM367.6 238.4h0.7v0.7h-0.7zM367.6 247.3h0.7v0.7h-0.7zM373.6 244.5h0.7v0.7h-0.7zM366.1 246.9h0.7v0.7h-0.7zM371.9 242.0h0.7v0.7h-0.7zM375.6 236.6h0.7v0.7h-0.7zM370.1 249.8h0.7v0.7h-0.7zM365.7 247.9h0.7v0.7h-0.7zM373.1 253.3h0.7v0.7h-0.7zM375.9 234.8h0.7v0.7h-0.7zM378.4 235.8h0.7v0.7h-0.7zM363.6 237.5h0.7v0.7h-0.7zM367.8 232.0h0.7v0.7h-0.7zM374.4 244.6h0.7v0.7h-0.7zM372.6 227.7h0.7v0.7h-0.7zM378.6 244.2h0.7v0.7h-0.7zM375.3 243.2h0.7v0.7h-0.7zM371.4 246.8h0.7v0.7h-0.7zM370.3 252.3h0.7v0.7h-0.7zM367.0 221.9h0.7v0.7h-0.7zM367.7 239.9h0.7v0.7h-0.7zM371.5 240.9h0.7v0.7h-0.7zM371.7 244.0h0.7v0.7h-0.7zM368.7 244.9h0.7v0.7h-0.7zM372.3 233.1h0.7v0.7h-0.7zM360.8 242.0h0.7v0.7h-0.7zM372.0 249.6h0.7v0.7h-0.7zM375.1 242.7h0.7v0.7h-0.7zM375.3 234.9h0.7v0.7h-0.7zM367.2 252.1h0.7v0.7h-0.7zM363.6 239.9h0.7v0.7h-0.7zM364.3 229.3h0.7v0.7h-0.7zM380.1 224.3h0.7v0.7h-0.7zM378.4 236.1h0.7v0.7h-0.7zM365.8 225.3h0.7v0.7h-0.7zM370.6 245.6h0.7v0.7h-0.7zM372.4 232.0h0.7v0.7h-0.7zM377.7 241.9h0.7v0.7h-0.7zM372.2 245.4h0.7v0.7h-0.7zM372.4 237.2h0.7v0.7h-0.7zM371.3 233.7h0.7v0.7h-0.7zM370.8 231.5h0.7v0.7h-0.7zM362.5 234.8h0.7v0.7h-0.7zM368.8 234.0h0.7v0.7h-0.7zM368.1 235.2h0.7v0.7h-0.7zM369.8 255.6h0.7v0.7h-0.7zM372.5 247.6h0.7v0.7h-0.7zM374.5 247.8h0.7v0.7h-0.7zM371.6 247.6h0.7v0.7h-0.7zM374.9 238.7h0.7v0.7h-0.7zM368.2 240.0h0.7v0.7h-0.7zM369.3 244.2h0.7v0.7h-0.7zM367.4 236.4h0.7v0.7h-0.7zM370.7 244.5h0.7v0.7h-0.7zM369.1 226.9h0.7v0.7h-0.7zM368.4 247.6h0.7v0.7h-0.7zM368.5 251.2h0.7v0.7h-0.7zM367.1 238.0h0.7v0.7h-0.7zM373.5 250.4h0.7v0.7h-0.7zM368.1 253.1h0.7v0.7h-0.7zM370.5 243.7h0.7v0.7h-0.7zM378.4 247.5h0.7v0.7h-0.7zM368.5 239.6h0.7v0.7h-0.7zM365.1 250.0h0.7v0.7h-0.7zM371.3 256.7h0.7v0.7h-0.7zM375.6 240.3h0.7v0.7h-0.7zM366.6 237.4h0.7v0.7h-0.7zM375.8 239.1h0.7v0.7h-0.7zM375.2 251.1h0.7v0.7h-0.7zM376.9 242.4h0.7v0.7h-0.7zM373.1 228.9h0.7v0.7h-0.7zM371.3 240.5h0.7v0.7h-0.7zM374.2 224.7h0.7v0.7h-0.7zM368.1 260.5h0.7v0.7h-0.7zM370.4 236.1h0.7v0.7h-0.7zM370.1 239.0h0.7v0.7h-0.7zM368.0 245.5h0.7v0.7h-0.7zM371.0 250.3h0.7v0.7h-0.7zM381.9 246.6h0.7v0.7h-0.7zM371.4 253.2h0.7v0.7h-0.7zM362.8 256.1h0.7v0.7h-0.7zM364.1 236.1h0.7v0.7h-0.7zM369.9 228.5h0.7v0.7h-0.7zM366.6 241.7h0.7v0.7h-0.7zM371.7 227.9h0.7v0.7h-0.7zM355.0 246.1h0.7v0.7h-0.7zM361.5 243.3h0.7v0.7h-0.7zM371.9 247.3h0.7v0.7h-0.7zM366.9 234.9h0.7v0.7h-0.7zM384.8 239.4h0.7v0.7h-0.7zM364.6 228.7h0.7v0.7h-0.7zM368.4 255.3h0.7v0.7h-0.7zM373.0 232.3h0.7v0.7h-0.7zM362.8 234.8h0.7v0.7h-0.7zM369.5 242.8h0.7v0.7h-0.7zM372.0 250.0h0.7v0.7h-0.7zM363.1 226.6h0.7v0.7h-0.7zM369.2 245.4h0.7v0.7h-0.7zM366.9 242.6h0.7v0.7h-0.7zM369.2 250.4h0.7v0.7h-0.7zM368.6 236.1h0.7v0.7h-0.7zM372.1 249.0h0.7v0.7h-0.7zM366.4 239.3h0.7v0.7h-0.7zM366.1 230.2h0.7v0.7h-0.7zM381.6 234.9h0.7v0.7h-0.7zM368.0 237.2h0.7v0.7h-0.7zM365.6 239.0h0.7v0.7h-0.7zM369.1 243.5h0.7v0.7h-0.7zM366.9 227.7h0.7v0.7h-0.7zM368.9 246.4h0.7v0.7h-0.7zM375.8 239.5h0.7v0.7h-0.7zM368.3 233.6h0.7v0.7h-0.7zM376.9 234.9h0.7v0.7h-0.7zM367.1 239.8h0.7v0.7h-0.7zM368.5 240.8h0.7v0.7h-0.7zM371.7 255.2h0.7v0.7h-0.7zM372.1 243.9h0.7v0.7h-0.7zM362.4 259.8h0.7v0.7h-0.7zM372.2 248.0h0.7v0.7h-0.7zM368.0 239.4h0.7v0.7h-0.7zM367.7 238.7h0.7v0.7h-0.7zM367.6 247.2h0.7v0.7h-0.7zM374.9 239.8h0.7v0.7h-0.7zM368.1 247.7h0.7v0.7h-0.7zM368.6 245.1h0.7v0.7h-0.7zM366.4 252.6h0.7v0.7h-0.7zM367.3 245.2h0.7v0.7h-0.7zM378.0 243.8h0.7v0.7h-0.7zM368.3 246.8h0.7v0.7h-0.7zM367.7 238.9h0.7v0.7h-0.7zM373.9 226.9h0.7v0.7h-0.7zM373.6 240.8h0.7v0.7h-0.7zM372.4 231.2h0.7v0.7h-0.7zM375.9 263.3h0.7v0.7h-0.7zM370.2 245.5h0.7v0.7h-0.7zM369.2 238.3h0.7v0.7h-0.7zM372.9 240.8h0.7v0.7h-0.7zM375.1 248.9h0.7v0.7h-0.7zM368.9 238.0h0.7v0.7h-0.7zM373.1 235.5h0.7v0.7h-0.7zM363.3 251.3h0.7v0.7h-0.7zM362.7 236.6h0.7v0.7h-0.7zM376.0 244.5h0.7v0.7h-0.7zM375.0 253.5h0.7v0.7h-0.7zM370.6 227.1h0.7v0.7h-0.7zM373.3 227.5h0.7v0.7h-0.7zM369.0 241.1h0.7v0.7h-0.7zM371.3 240.0h0.7v0.7h-0.7zM376.0 243.2h0.7v0.7h-0.7zM374.9 239.5h0.7v0.7h-0.7zM369.7 241.7h0.7v0.7h-0.7zM372.0 247.2h0.7v0.7h-0.7zM367.2 245.8h0.7v0.7h-0.7zM372.8 239.2h0.7v0.7h-0.7zM368.5 234.9h0.7v0.7h-0.7zM363.8 242.5h0.7v0.7h-0.7zM366.0 254.5h0.7v0.7h-0.7zM371.2 255.9h0.7v0.7h-0.7zM370.2 227.4h0.7v0.7h-0.7zM371.8 242.1h0.7v0.7h-0.7zM370.0 253.3h0.7v0.7h-0.7zM370.0 221.9h0.7v0.7h-0.7zM371.7 244.6h0.7v0.7h-0.7zM376.6 245.3h0.7v0.7h-0.7zM364.6 250.8h0.7v0.7h-0.7zM373.1 251.0h0.7v0.7h-0.7zM368.7 249.6h0.7v0.7h-0.7zM359.2 228.1h0.7v0.7h-0.7zM372.6 254.7h0.7v0.7h-0.7zM372.5 241.7h0.7v0.7h-0.7zM368.8 236.5h0.7v0.7h-0.7zM375.2 224.1h0.7v0.7h-0.7zM371.0 253.8h0.7v0.7h-0.7zM364.7 240.2h0.7v0.7h-0.7zM372.3 235.1h0.7v0.7h-0.7zM373.6 235.6h0.7v0.7h-0.7zM361.6 249.4h0.7v0.7h-0.7zM369.6 234.3h0.7v0.7h-0.7zM364.3 246.7h0.7v0.7h-0.7zM365.1 228.1h0.7v0.7h-0.7zM365.7 245.6h0.7v0.7h-0.7zM372.6 251.3h0.7v0.7h-0.7zM365.3 253.9h0.7v0.7h-0.7zM377.6 244.2h0.7v0.7h-0.7zM374.9 255.3h0.7v0.7h-0.7zM371.6 232.4h0.7v0.7h-0.7zM372.3 243.6h0.7v0.7h-0.7zM373.1 264.1h0.7v0.7h-0.7zM369.9 238.1h0.7v0.7h-0.7zM375.9 240.6h0.7v0.7h-0.7zM363.4 243.2h0.7v0.7h-0.7zM374.7 225.6h0.7v0.7h-0.7zM378.2 257.7h0.7v0.7h-0.7zM364.1 242.6h0.7v0.7h-0.7zM371.7 245.4h0.7v0.7h-0.7zM371.1 246.7h0.7v0.7h-0.7zM365.8 238.1h0.7v0.7h-0.7zM369.2 244.3h0.7v0.7h-0.7zM379.5 248.3h0.7v0.7h-0.7zM364.4 243.7h0.7v0.7h-0.7zM379.3 258.9h0.7v0.7h-0.7zM378.2 241.3h0.7v0.7h-0.7zM373.5 242.0h0.7v0.7h-0.7zM364.0 240.9h0.7v0.7h-0.7zM367.7 228.8h0.7v0.7h-0.7zM368.9 236.8h0.7v0.7h-0.7zM368.4 246.9h0.7v0.7h-0.7zM364.3 241.1h0.7v0.7h-0.7zM371.5 243.0h0.7v0.7h-0.7zM371.1 241.1h0.7v0.7h-0.7zM361.7 221.5h0.7v0.7h-0.7zM366.7 236.7h0.7v0.7h-0.7zM365.0 233.3h0.7v0.7h-0.7zM367.6 255.9h0.7v0.7h-0.7zM369.2 247.7h0.7v0.7h-0.7zM373.1 241.9h0.7v0.7h-0.7zM374.5 235.2h0.7v0.7h-0.7zM368.7 229.6h0.7v0.7h-0.7zM369.0 248.4h0.7v0.7h-0.7zM365.2 239.6h0.7v0.7h-0.7zM368.4 239.8h0.7v0.7h-0.7zM367.6 242.9h0.7v0.7h-0.7zM363.4 241.5h0.7v0.7h-0.7zM378.1 230.3h0.7v0.7h-0.7zM373.8 233.9h0.7v0.7h-0.7zM366.8 256.8h0.7v0.7h-0.7zM373.1 246.0h0.7v0.7h-0.7zM378.0 246.2h0.7v0.7h-0.7zM373.2 255.8h0.7v0.7h-0.7zM367.5 229.3h0.7v0.7h-0.7zM361.0 245.7h0.7v0.7h-0.7zM357.6 243.7h0.7v0.7h-0.7zM373.8 236.1h0.7v0.7h-0.7zM364.4 237.7h0.7v0.7h-0.7zM377.5 229.7h0.7v0.7h-0.7zM365.6 245.0h0.7v0.7h-0.7zM366.5 252.1h0.7v0.7h-0.7zM366.0 229.2h0.7v0.7h-0.7zM362.1 238.2h0.7v0.7h-0.7zM375.2 240.4h0.7v0.7h-0.7zM366.7 226.4h0.7v0.7h-0.7zM370.9 234.1h0.7v0.7h-0.7zM381.3 229.4h0.7v0.7h-0.7zM362.8 228.5h0.7v0.7h-0.7zM370.6 245.5h0.7v0.7h-0.7zM370.8 250.9h0.7v0.7h-0.7zM373.1 234.8h0.7v0.7h-0.7zM378.1 233.1h0.7v0.7h-0.7zM370.7 240.6h0.7v0.7h-0.7zM375.4 239.9h0.7v0.7h-0.7zM371.3 222.4h0.7v0.7h-0.7zM369.2 241.5h0.7v0.7h-0.7zM377.2 224.5h0.7v0.7h-0.7zM363.6 247.8h0.7v0.7h-0.7zM381.3 241.5h0.7v0.7h-0.7zM358.9 224.0h0.7v0.7h-0.7zM367.7 232.1h0.7v0.7h-0.7zM372.1 249.8h0.7v0.7h-0.7zM373.6 231.6h0.7v0.7h-0.7zM366.1 238.5h0.7v0.7h-0.7zM371.7 245.3h0.7v0.7h-0.7zM367.6 249.6h0.7v0.7h-0.7zM373.2 237.4h0.7v0.7h-0.7zM370.6 254.7h0.7v0.7h-0.7zM372.9 237.5h0.7v0.7h-0.7zM367.9 248.9h0.7v0.7h-0.7zM371.5 241.5h0.7v0.7h-0.7zM365.9 237.8h0.7v0.7h-0.7zM370.4 256.2h0.7v0.7h-0.7zM363.1 241.3h0.7v0.7h-0.7zM364.9 227.7h0.7v0.7h-0.7zM381.2 228.6h0.7v0.7h-0.7zM375.8 249.6h0.7v0.7h-0.7zM372.0 240.7h0.7v0.7h-0.7zM369.4 244.7h0.7v0.7h-0.7zM371.6 245.4h0.7v0.7h-0.7zM372.9 225.4h0.7v0.7h-0.7zM363.2 239.9h0.7v0.7h-0.7zM369.4 228.0h0.7v0.7h-0.7zM374.4 244.7h0.7v0.7h-0.7zM371.2 249.7h0.7v0.7h-0.7zM372.8 239.2h0.7v0.7h-0.7zM366.6 250.7h0.7v0.7h-0.7zM367.2 233.5h0.7v0.7h-0.7zM364.9 246.5h0.7v0.7h-0.7zM370.9 238.8h0.7v0.7h-0.7zM374.4 232.7h0.7v0.7h-0.7zM373.8 235.5h0.7v0.7h-0.7zM368.9 238.4h0.7v0.7h-0.7zM370.7 252.8h0.7v0.7h-0.7zM366.6 249.5h0.7v0.7h-0.7zM375.9 238.8h0.7v0.7h-0.7zM366.4 229.9h0.7v0.7h-0.7zM369.3 266.3h0.7v0.7h-0.7zM368.7 241.4h0.7v0.7h-0.7zM364.9 244.2h0.7v0.7h-0.7zM370.9 249.2h0.7v0.7h-0.7zM380.2 249.4h0.7v0.7h-0.7zM365.4 239.0h0.7v0.7h-0.7zM363.1 236.4h0.7v0.7h-0.7zM362.5 250.5h0.7v0.7h-0.7zM358.6 245.6h0.7v0.7h-0.7zM370.3 226.2h0.7v0.7h-0.7zM373.6 252.0h0.7v0.7h-0.7zM378.6 237.9h0.7v0.7h-0.7zM373.4 242.0h0.7v0.7h-0.7zM376.9 240.2h0.7v0.7h-0.7zM375.3 231.0h0.7v0.7h-0.7zM366.3 230.4h0.7v0.7h-0.7zM368.7 228.8h0.7v0.7h-0.7zM370.4 235.0h0.7v0.7h-0.7zM362.6 242.3h0.7v0.7h-0.7zM375.3 244.8h0.7v0.7h-0.7zM371.3 238.0h0.7v0.7h-0.7zM368.7 225.7h0.7v0.7h-0.7zM379.5 225.0h0.7v0.7h-0.7zM365.1 230.8h0.7v0.7h-0.7zM364.2 241.5h0.7v0.7h-0.7zM365.9 235.1h0.7v0.7h-0.7zM371.4 229.2h0.7v0.7h-0.7zM364.0 244.3h0.7v0.7h-0.7zM367.1 223.4h0.7v0.7h-0.7zM372.6 227.0h0.7v0.7h-0.7zM369.5 240.2h0.7v0.7h-0.7zM371.0 242.6h0.7v0.7h-0.7zM367.5 239.8h0.7v0.7h-0.7zM361.2 242.5h0.7v0.7h-0.7zM360.0 246.7h0.7v0.7h-0.7zM365.8 248.0h0.7v0.7h-0.7zM369.3 244.7h0.7v0.7h-0.7zM367.2 237.8h0.7v0.7h-0.7zM372.0 246.0h0.7v0.7h-0.7zM370.3 246.5h0.7v0.7h-0.7zM376.0 237.7h0.7v0.7h-0.7zM367.5 234.3h0.7v0.7h-0.7zM380.0 237.8h0.7v0.7h-0.7zM382.6 240.4h0.7v0.7h-0.7zM367.3 234.7h0.7v0.7h-0.7zM365.3 241.2h0.7v0.7h-0.7zM370.3 231.0h0.7v0.7h-0.7zM378.5 249.7h0.7v0.7h-0.7zM368.0 244.9h0.7v0.7h-0.7zM368.7 235.5h0.7v0.7h-0.7zM365.2 234.0h0.7v0.7h-0.7zM378.5 255.5h0.7v0.7h-0.7zM368.9 237.1h0.7v0.7h-0.7zM375.3 232.4h0.7v0.7h-0.7zM373.3 226.1h0.7v0.7h-0.7zM371.6 246.9h0.7v0.7h-0.7zM373.8 254.5h0.7v0.7h-0.7zM375.7 236.2h0.7v0.7h-0.7zM364.2 238.7h0.7v0.7h-0.7zM366.7 265.8h0.7v0.7h-0.7zM371.8 244.1h0.7v0.7h-0.7zM370.2 238.3h0.7v0.7h-0.7zM371.5 250.5h0.7v0.7h-0.7zM369.9 248.8h0.7v0.7h-0.7zM376.8 242.1h0.7v0.7h-0.7zM373.2 243.4h0.7v0.7h-0.7zM375.7 248.3h0.7v0.7h-0.7zM370.8 251.2h0.7v0.7h-0.7zM375.8 242.4h0.7v0.7h-0.7zM363.5 256.4h0.7v0.7h-0.7zM371.0 247.1h0.7v0.7h-0.7zM370.7 237.7h0.7v0.7h-0.7zM363.7 240.6h0.7v0.7h-0.7zM368.7 245.3h0.7v0.7h-0.7zM368.3 240.0h0.7v0.7h-0.7zM373.6 240.4h0.7v0.7h-0.7zM366.7 244.8h0.7v0.7h-0.7zM368.2 231.0h0.7v0.7h-0.7zM364.3 232.4h0.7v0.7h-0.7zM362.4 234.8h0.7v0.7h-0.7zM367.6 238.8h0.7v0.7h-0.7zM372.6 230.5h0.7v0.7h-0.7zM377.5 243.6h0.7v0.7h-0.7zM357.4 239.8h0.7v0.7h-0.7zM364.6 245.1h0.7v0.7h-0.7zM378.6 227.4h0.7v0.7h-0.7zM370.2 230.3h0.7v0.7h-0.7zM362.1 246.1h0.7v0.7h-0.7zM373.9 234.0h0.7v0.7h-0.7zM367.6 229.0h0.7v0.7h-0.7zM366.2 238.0h0.7v0.7h-0.7zM368.7 246.8h0.7v0.7h-0.7zM370.6 239.8h0.7v0.7h-0.7zM370.2 246.0h0.7v0.7h-0.7zM372.5 227.7h0.7v0.7h-0.7zM368.6 244.0h0.7v0.7h-0.7zM365.6 226.8h0.7v0.7h-0.7zM364.5 228.9h0.7v0.7h-0.7zM368.5 238.7h0.7v0.7h-0.7zM372.3 222.5h0.7v0.7h-0.7zM371.9 247.7h0.7v0.7h-0.7zM383.1 237.5h0.7v0.7h-0.7zM373.4 224.2h0.7v0.7h-0.7zM375.1 255.3h0.7v0.7h-0.7zM371.0 234.6h0.7v0.7h-0.7zM377.3 231.3h0.7v0.7h-0.7zM378.7 230.3h0.7v0.7h-0.7zM372.0 243.0h0.7v0.7h-0.7zM370.6 234.8h0.7v0.7h-0.7zM364.4 253.0h0.7v0.7h-0.7zM371.9 232.0h0.7v0.7h-0.7zM362.9 247.2h0.7v0.7h-0.7zM376.5 239.7h0.7v0.7h-0.7zM367.4 245.5h0.7v0.7h-0.7zM372.1 251.4h0.7v0.7h-0.7zM368.8 233.7h0.7v0.7h-0.7zM369.2 227.8h0.7v0.7h-0.7zM364.0 235.2h0.7v0.7h-0.7zM368.8 240.8h0.7v0.7h-0.7zM362.3 236.9h0.7v0.7h-0.7zM379.7 224.3h0.7v0.7h-0.7zM367.7 235.7h0.7v0.7h-0.7zM372.8 232.8h0.7v0.7h-0.7zM381.2 235.1h0.7v0.7h-0.7zM370.9 241.6h0.7v0.7h-0.7zM376.6 244.1h0.7v0.7h-0.7zM362.5 240.6h0.7v0.7h-0.7zM366.5 250.8h0.7v0.7h-0.7zM372.3 243.4h0.7v0.7h-0.7zM369.1 233.5h0.7v0.7h-0.7zM375.0 248.5h0.7v0.7h-0.7zM381.1 237.8h0.7v0.7h-0.7zM375.3 230.4h0.7v0.7h-0.7zM372.4 240.3h0.7v0.7h-0.7zM364.1 234.5h0.7v0.7h-0.7zM370.1 238.1h0.7v0.7h-0.7zM368.1 237.5h0.7v0.7h-0.7zM369.6 236.1h0.7v0.7h-0.7zM360.9 241.3h0.7v0.7h-0.7zM378.4 238.5h0.7v0.7h-0.7zM370.3 232.6h0.7v0.7h-0.7zM365.5 231.4h0.7v0.7h-0.7zM362.8 240.4h0.7v0.7h-0.7zM364.9 243.0h0.7v0.7h-0.7zM370.1 227.1h0.7v0.7h-0.7zM380.8 236.8h0.7v0.7h-0.7zM370.3 235.9h0.7v0.7h-0.7zM363.6 239.8h0.7v0.7h-0.7zM369.7 241.2h0.7v0.7h-0.7zM378.8 222.1h0.7v0.7h-0.7zM365.9 250.4h0.7v0.7h-0.7zM365.8 245.8h0.7v0.7h-0.7zM364.5 229.5h0.7v0.7h-0.7zM373.4 235.0h0.7v0.7h-0.7zM364.0 240.4h0.7v0.7h-0.7zM375.5 239.0h0.7v0.7h-0.7zM380.9 228.3h0.7v0.7h-0.7zM378.0 242.8h0.7v0.7h-0.7zM374.0 246.8h0.7v0.7h-0.7zM368.1 237.3h0.7v0.7h-0.7zM362.7 233.5h0.7v0.7h-0.7zM365.9 249.1h0.7v0.7h-0.7zM367.2 243.1h0.7v0.7h-0.7zM369.1 261.4h0.7v0.7h-0.7zM365.4 231.5h0.7v0.7h-0.7zM372.7 223.9h0.7v0.7h-0.7zM369.7 230.9h0.7v0.7h-0.7zM365.2 238.0h0.7v0.7h-0.7zM380.0 248.1h0.7v0.7h-0.7zM373.7 244.2h0.7v0.7h-0.7zM372.1 233.8h0.7v0.7h-0.7zM370.4 239.0h0.7v0.7h-0.7zM372.7 247.9h0.7v0.7h-0.7zM363.7 228.0h0.7v0.7h-0.7zM376.9 229.9h0.7v0.7h-0.7zM375.6 265.6h0.7v0.7h-0.7zM374.9 242.9h0.7v0.7h-0.7zM368.9 241.6h0.7v0.7h-0.7zM374.1 267.4h0.7v0.7h-0.7zM374.0 238.5h0.7v0.7h-0.7zM377.7 240.0h0.7v0.7h-0.7zM376.1 242.5h0.7v0.7h-0.7zM370.6 247.0h0.7v0.7h-0.7zM368.8 234.0h0.7v0.7h-0.7zM369.2 240.8h0.7v0.7h-0.7zM367.7 246.9h0.7v0.7h-0.7zM371.2 242.7h0.7v0.7h-0.7zM367.8 242.1h0.7v0.7h-0.7zM373.1 237.3h0.7v0.7h-0.7zM368.3 242.4h0.7v0.7h-0.7zM370.7 234.6h0.7v0.7h-0.7zM373.8 244.0h0.7v0.7h-0.7zM379.0 229.5h0.7v0.7h-0.7zM363.1 242.5h0.7v0.7h-0.7zM379.2 248.6h0.7v0.7h-0.7zM369.6 233.2h0.7v0.7h-0.7zM371.1 235.5h0.7v0.7h-0.7zM365.4 240.8h0.7v0.7h-0.7zM366.0 237.2h0.7v0.7h-0.7zM365.8 238.1h0.7v0.7h-0.7zM371.9 240.4h0.7v0.7h-0.7zM370.8 230.5h0.7v0.7h-0.7zM362.2 239.0h0.7v0.7h-0.7zM369.4 245.8h0.7v0.7h-0.7zM362.5 248.2h0.7v0.7h-0.7zM368.9 230.1h0.7v0.7h-0.7zM366.5 235.7h0.7v0.7h-0.7zM376.3 235.9h0.7v0.7h-0.7zM371.1 231.8h0.7v0.7h-0.7zM362.6 233.3h0.7v0.7h-0.7zM361.2 236.9h0.7v0.7h-0.7zM368.3 255.6h0.7v0.7h-0.7zM367.0 249.9h0.7v0.7h-0.7zM372.7 247.2h0.7v0.7h-0.7zM370.4 238.5h0.7v0.7h-0.7zM371.9 250.4h0.7v0.7h-0.7zM365.3 228.5h0.7v0.7h-0.7zM366.4 226.8h0.7v0.7h-0.7zM367.2 236.9h0.7v0.7h-0.7zM365.6 238.0h0.7v0.7h-0.7zM375.4 240.4h0.7v0.7h-0.7zM375.0 238.4h0.7v0.7h-0.7zM369.9 227.5h0.7v0.7h-0.7zM375.6 242.6h0.7v0.7h-0.7zM376.8 239.0h0.7v0.7h-0.7zM366.3 258.7h0.7v0.7h-0.7zM363.9 221.7h0.7v0.7h-0.7zM373.3 230.3h0.7v0.7h-0.7zM363.5 242.2h0.7v0.7h-0.7zM365.4 256.0h0.7v0.7h-0.7zM380.0 259.5h0.7v0.7h-0.7zM366.6 248.2h0.7v0.7h-0.7zM366.2 235.1h0.7v0.7h-0.7zM368.2 238.1h0.7v0.7h-0.7zM371.1 236.9h0.7v0.7h-0.7zM376.4 227.3h0.7v0.7h-0.7zM371.4 225.4h0.7v0.7h-0.7zM372.0 250.7h0.7v0.7h-0.7zM377.2 245.6h0.7v0.7h-0.7zM370.3 234.0h0.7v0.7h-0.7zM367.5 241.4h0.7v0.7h-0.7zM365.7 227.9h0.7v0.7h-0.7zM375.9 244.6h0.7v0.7h-0.7zM371.8 236.1h0.7v0.7h-0.7zM372.8 236.1h0.7v0.7h-0.7zM371.6 240.4h0.7v0.7h-0.7zM369.6 234.1h0.7v0.7h-0.7zM372.9 232.6h0.7v0.7h-0.7zM377.5 248.2h0.7v0.7h-0.7zM368.3 244.2h0.7v0.7h-0.7zM373.7 240.2h0.7v0.7h-0.7zM363.8 242.5h0.7v0.7h-0.7zM367.7 238.2h0.7v0.7h-0.7zM379.9 240.3h0.7v0.7h-0.7zM362.4 246.6h0.7v0.7h-0.7zM374.8 232.6h0.7v0.7h-0.7zM369.3 233.7h0.7v0.7h-0.7zM370.9 250.5h0.7v0.7h-0.7zM382.8 237.9h0.7v0.7h-0.7zM370.3 252.7h0.7v0.7h-0.7zM368.3 248.2h0.7v0.7h-0.7zM366.3 269.0h0.7v0.7h-0.7zM365.3 246.7h0.7v0.7h-0.7zM377.8 249.0h0.7v0.7h-0.7zM377.6 248.7h0.7v0.7h-0.7zM369.7 246.6h0.7v0.7h-0.7zM374.0 242.2h0.7v0.7h-0.7zM374.1 237.7h0.7v0.7h-0.7zM365.4 252.9h0.7v0.7h-0.7zM370.6 255.0h0.7v0.7h-0.7zM379.1 236.3h0.7v0.7h-0.7zM377.9 243.9h0.7v0.7h-0.7zM371.7 224.5h0.7v0.7h-0.7zM367.4 238.0h0.7v0.7h-0.7zM366.6 229.4h0.7v0.7h-0.7zM361.0 241.4h0.7v0.7h-0.7zM371.5 248.0h0.7v0.7h-0.7zM362.3 225.9h0.7v0.7h-0.7zM379.9 238.9h0.7v0.7h-0.7zM369.1 249.4h0.7v0.7h-0.7zM364.0 238.4h0.7v0.7h-0.7zM373.7 244.1h0.7v0.7h-0.7zM373.9 236.3h0.7v0.7h-0.7zM377.1 227.0h0.7v0.7h-0.7zM358.4 238.2h0.7v0.7h-0.7zM370.2 239.8h0.7v0.7h-0.7zM359.1 228.0h0.7v0.7h-0.7zM367.7 247.9h0.7v0.7h-0.7zM375.5 255.2h0.7v0.7h-0.7zM363.3 235.3h0.7v0.7h-0.7zM360.7 229.0h0.7v0.7h-0.7zM363.2 238.8h0.7v0.7h-0.7zM365.2 242.7h0.7v0.7h-0.7zM376.6 237.5h0.7v0.7h-0.7zM367.3 240.1h0.7v0.7h-0.7zM368.5 237.9h0.7v0.7h-0.7zM366.1 241.1h0.7v0.7h-0.7zM366.7 244.0h0.7v0.7h-0.7zM370.4 249.5h0.7v0.7h-0.7zM372.3 244.7h0.7v0.7h-0.7zM369.1 235.9h0.7v0.7h-0.7zM372.4 232.4h0.7v0.7h-0.7zM371.5 255.1h0.7v0.7h-0.7zM366.1 246.0h0.7v0.7h-0.7zM372.6 240.0h0.7v0.7h-0.7zM374.9 236.0h0.7v0.7h-0.7zM363.4 244.8h0.7v0.7h-0.7zM371.9 242.8h0.7v0.7h-0.7zM374.1 230.3h0.7v0.7h-0.7zM365.3 256.3h0.7v0.7h-0.7zM368.1 249.5h0.7v0.7h-0.7zM371.6 222.8h0.7v0.7h-0.7zM366.8 265.1h0.7v0.7h-0.7zM370.5 246.9h0.7v0.7h-0.7zM363.1 239.0h0.7v0.7h-0.7zM364.1 237.5h0.7v0.7h-0.7zM370.2 233.3h0.7v0.7h-0.7zM362.6 245.4h0.7v0.7h-0.7zM372.5 235.6h0.7v0.7h-0.7zM366.0 248.0h0.7v0.7h-0.7zM368.8 250.7h0.7v0.7h-0.7zM372.9 237.6h0.7v0.7h-0.7zM374.6 223.5h0.7v0.7h-0.7zM364.9 240.6h0.7v0.7h-0.7zM374.2 247.7h0.7v0.7h-0.7zM372.2 232.7h0.7v0.7h-0.7zM369.2 256.9h0.7v0.7h-0.7zM373.0 249.7h0.7v0.7h-0.7zM370.1 229.3h0.7v0.7h-0.7zM367.7 251.7h0.7v0.7h-0.7zM365.7 251.5h0.7v0.7h-0.7zM372.0 224.5h0.7v0.7h-0.7zM369.9 235.4h0.7v0.7h-0.7zM368.6 253.3h0.7v0.7h-0.7zM362.6 225.6h0.7v0.7h-0.7zM367.9 241.2h0.7v0.7h-0.7zM370.9 241.3h0.7v0.7h-0.7zM365.2 238.1h0.7v0.7h-0.7zM380.1 244.6h0.7v0.7h-0.7zM373.7 243.3h0.7v0.7h-0.7zM370.7 226.5h0.7v0.7h-0.7zM372.0 262.6h0.7v0.7h-0.7zM360.7 245.4h0.7v0.7h-0.7zM363.1 246.1h0.7v0.7h-0.7zM371.2 239.1h0.7v0.7h-0.7zM363.4 235.0h0.7v0.7h-0.7zM376.1 237.5h0.7v0.7h-0.7zM369.3 244.9h0.7v0.7h-0.7zM366.7 238.2h0.7v0.7h-0.7zM362.0 258.3h0.7v0.7h-0.7zM370.9 245.6h0.7v0.7h-0.7zM366.6 230.7h0.7v0.7h-0.7zM373.2 235.6h0.7v0.7h-0.7zM369.8 230.7h0.7v0.7h-0.7zM380.7 239.3h0.7v0.7h-0.7zM371.2 248.1h0.7v0.7h-0.7zM363.9 241.6h0.7v0.7h-0.7zM363.1 232.5h0.7v0.7h-0.7zM373.8 250.5h0.7v0.7h-0.7zM371.8 231.7h0.7v0.7h-0.7zM369.0 246.8h0.7v0.7h-0.7zM367.5 237.1h0.7v0.7h-0.7zM370.5 247.4h0.7v0.7h-0.7zM366.4 226.3h0.7v0.7h-0.7zM366.8 238.6h0.7v0.7h-0.7zM368.4 242.5h0.7v0.7h-0.7zM375.1 239.8h0.7v0.7h-0.7zM371.5 234.2h0.7v0.7h-0.7zM369.0 244.9h0.7v0.7h-0.7zM363.7 248.9h0.7v0.7h-0.7zM365.3 237.5h0.7v0.7h-0.7zM372.3 245.2h0.7v0.7h-0.7zM369.9 234.4h0.7v0.7h-0.7zM379.0 239.1h0.7v0.7h-0.7zM369.7 240.6h0.7v0.7h-0.7zM370.2 237.6h0.7v0.7h-0.7zM366.6 230.7h0.7v0.7h-0.7zM363.9 246.2h0.7v0.7h-0.7zM377.8 241.6h0.7v0.7h-0.7zM370.2 237.9h0.7v0.7h-0.7zM367.6 256.9h0.7v0.7h-0.7zM370.4 244.7h0.7v0.7h-0.7zM372.8 239.6h0.7v0.7h-0.7zM370.0 241.0h0.7v0.7h-0.7zM372.8 245.4h0.7v0.7h-0.7zM377.6 236.3h0.7v0.7h-0.7zM371.6 248.2h0.7v0.7h-0.7zM366.7 238.4h0.7v0.7h-0.7zM372.5 242.1h0.7v0.7h-0.7zM369.1 242.4h0.7v0.7h-0.7zM382.8 236.1h0.7v0.7h-0.7zM364.2 241.7h0.7v0.7h-0.7zM360.6 234.3h0.7v0.7h-0.7zM360.0 250.8h0.7v0.7h-0.7zM373.4 238.1h0.7v0.7h-0.7zM358.5 229.4h0.7v0.7h-0.7zM364.3 266.3h0.7v0.7h-0.7zM362.0 239.9h0.7v0.7h-0.7zM373.6 245.1h0.7v0.7h-0.7zM367.6 234.9h0.7v0.7h-0.7zM374.4 238.3h0.7v0.7h-0.7zM361.6 233.6h0.7v0.7h-0.7zM366.5 252.9h0.7v0.7h-0.7zM368.6 224.5h0.7v0.7h-0.7zM367.6 247.5h0.7v0.7h-0.7zM364.8 235.1h0.7v0.7h-0.7zM363.1 242.0h0.7v0.7h-0.7zM369.6 235.0h0.7v0.7h-0.7zM370.1 244.5h0.7v0.7h-0.7zM366.1 239.3h0.7v0.7h-0.7zM372.6 237.4h0.7v0.7h-0.7zM361.4 245.0h0.7v0.7h-0.7zM369.1 243.6h0.7v0.7h-0.7zM370.4 254.0h0.7v0.7h-0.7zM362.5 257.6h0.7v0.7h-0.7zM371.9 246.3h0.7v0.7h-0.7zM365.0 240.3h0.7v0.7h-0.7zM368.8 244.0h0.7v0.7h-0.7zM361.2 239.5h0.7v0.7h-0.7zM359.7 259.0h0.7v0.7h-0.7zM366.1 234.1h0.7v0.7h-0.7zM366.8 245.4h0.7v0.7h-0.7zM374.2 245.7h0.7v0.7h-0.7zM360.8 236.6h0.7v0.7h-0.7zM370.6 241.0h0.7v0.7h-0.7zM373.5 235.3h0.7v0.7h-0.7zM367.9 221.8h0.7v0.7h-0.7zM368.9 245.5h0.7v0.7h-0.7zM370.3 232.5h0.7v0.7h-0.7zM369.3 240.0h0.7v0.7h-0.7zM364.8 235.2h0.7v0.7h-0.7zM370.3 245.7h0.7v0.7h-0.7zM379.1 231.4h0.7v0.7h-0.7zM367.9 247.3h0.7v0.7h-0.7zM367.1 247.0h0.7v0.7h-0.7zM360.1 255.3h0.7v0.7h-0.7zM374.2 240.9h0.7v0.7h-0.7zM362.9 236.3h0.7v0.7h-0.7zM365.5 252.5h0.7v0.7h-0.7zM366.9 242.2h0.7v0.7h-0.7zM372.4 236.7h0.7v0.7h-0.7zM373.6 253.2h0.7v0.7h-0.7zM370.3 231.8h0.7v0.7h-0.7zM371.9 237.5h0.7v0.7h-0.7zM355.7 237.1h0.7v0.7h-0.7zM359.4 237.1h0.7v0.7h-0.7zM363.6 247.5h0.7v0.7h-0.7zM361.7 241.3h0.7v0.7h-0.7zM368.7 225.7h0.7v0.7h-0.7zM369.7 233.8h0.7v0.7h-0.7zM364.4 226.9h0.7v0.7h-0.7zM369.4 234.4h0.7v0.7h-0.7zM368.7 239.5h0.7v0.7h-0.7zM376.6 237.6h0.7v0.7h-0.7zM369.7 252.2h0.7v0.7h-0.7zM367.0 250.6h0.7v0.7h-0.7zM371.8 222.7h0.7v0.7h-0.7zM376.8 238.5h0.7v0.7h-0.7zM363.7 237.4h0.7v0.7h-0.7zM370.3 241.9h0.7v0.7h-0.7zM379.9 224.4h0.7v0.7h-0.7zM371.0 234.9h0.7v0.7h-0.7zM367.2 235.8h0.7v0.7h-0.7zM365.6 254.3h0.7v0.7h-0.7zM370.2 239.4h0.7v0.7h-0.7zM370.9 226.1h0.7v0.7h-0.7zM368.6 235.2h0.7v0.7h-0.7zM364.6 252.0h0.7v0.7h-0.7zM370.4 245.3h0.7v0.7h-0.7zM366.5 240.7h0.7v0.7h-0.7zM369.3 245.2h0.7v0.7h-0.7zM370.0 244.1h0.7v0.7h-0.7zM365.6 244.3h0.7v0.7h-0.7zM371.5 244.3h0.7v0.7h-0.7zM367.9 242.0h0.7v0.7h-0.7zM369.1 242.6h0.7v0.7h-0.7zM369.3 235.4h0.7v0.7h-0.7zM366.8 240.9h0.7v0.7h-0.7zM368.9 236.3h0.7v0.7h-0.7zM370.5 245.1h0.7v0.7h-0.7zM371.1 237.5h0.7v0.7h-0.7zM370.2 224.6h0.7v0.7h-0.7zM372.1 231.8h0.7v0.7h-0.7zM365.5 244.1h0.7v0.7h-0.7zM366.2 231.5h0.7v0.7h-0.7zM368.0 230.7h0.7v0.7h-0.7zM373.2 229.8h0.7v0.7h-0.7zM368.8 249.3h0.7v0.7h-0.7zM370.7 259.9h0.7v0.7h-0.7zM374.3 242.7h0.7v0.7h-0.7zM363.3 245.3h0.7v0.7h-0.7zM375.4 248.1h0.7v0.7h-0.7zM372.2 245.4h0.7v0.7h-0.7zM368.7 243.3h0.7v0.7h-0.7zM371.3 240.0h0.7v0.7h-0.7zM375.7 232.2h0.7v0.7h-0.7zM375.6 234.8h0.7v0.7h-0.7zM364.3 237.1h0.7v0.7h-0.7zM365.2 237.5h0.7v0.7h-0.7zM372.5 250.7h0.7v0.7h-0.7zM375.2 233.3h0.7v0.7h-0.7zM371.3 251.0h0.7v0.7h-0.7zM374.7 255.2h0.7v0.7h-0.7zM369.7 231.3h0.7v0.7h-0.7zM364.8 256.9h0.7v0.7h-0.7zM367.6 241.4h0.7v0.7h-0.7zM366.9 231.8h0.7v0.7h-0.7zM376.8 251.9h0.7v0.7h-0.7zM370.3 245.7h0.7v0.7h-0.7zM365.8 238.8h0.7v0.7h-0.7zM366.8 248.5h0.7v0.7h-0.7zM375.5 234.9h0.7v0.7h-0.7zM360.9 247.0h0.7v0.7h-0.7zM379.5 231.1h0.7v0.7h-0.7zM378.4 242.6h0.7v0.7h-0.7zM370.8 226.0h0.7v0.7h-0.7zM368.5 226.9h0.7v0.7h-0.7zM372.6 260.1h0.7v0.7h-0.7zM370.5 233.6h0.7v0.7h-0.7zM366.3 238.8h0.7v0.7h-0.7zM370.1 252.6h0.7v0.7h-0.7zM369.9 240.9h0.7v0.7h-0.7zM364.4 231.6h0.7v0.7h-0.7zM370.5 238.8h0.7v0.7h-0.7zM368.6 244.2h0.7v0.7h-0.7zM377.3 231.7h0.7v0.7h-0.7zM372.7 248.3h0.7v0.7h-0.7zM366.9 228.4h0.7v0.7h-0.7zM363.3 241.2h0.7v0.7h-0.7zM369.9 243.1h0.7v0.7h-0.7zM372.8 249.0h0.7v0.7h-0.7zM375.9 254.6h0.7v0.7h-0.7zM369.3 241.4h0.7v0.7h-0.7zM365.0 229.4h0.7v0.7h-0.7zM369.3 230.2h0.7v0.7h-0.7zM376.0 233.2h0.7v0.7h-0.7zM377.6 233.5h0.7v0.7h-0.7zM368.7 249.5h0.7v0.7h-0.7zM371.4 252.3h0.7v0.7h-0.7zM365.3 246.5h0.7v0.7h-0.7zM367.4 244.2h0.7v0.7h-0.7zM362.7 232.3h0.7v0.7h-0.7zM368.0 243.8h0.7v0.7h-0.7zM364.3 231.7h0.7v0.7h-0.7zM360.5 234.9h0.7v0.7h-0.7zM377.4 234.5h0.7v0.7h-0.7zM359.9 227.6h0.7v0.7h-0.7zM363.9 235.8h0.7v0.7h-0.7zM370.7 247.6h0.7v0.7h-0.7zM366.9 245.3h0.7v0.7h-0.7zM369.0 245.7h0.7v0.7h-0.7zM374.6 247.0h0.7v0.7h-0.7zM361.2 246.4h0.7v0.7h-0.7zM371.5 237.7h0.7v0.7h-0.7zM363.3 222.8h0.7v0.7h-0.7zM371.9 242.4h0.7v0.7h-0.7zM372.6 240.7h0.7v0.7h-0.7zM379.2 233.9h0.7v0.7h-0.7zM369.8 240.7h0.7v0.7h-0.7zM377.3 251.2h0.7v0.7h-0.7zM366.6 250.5h0.7v0.7h-0.7zM366.2 247.3h0.7v0.7h-0.7zM361.7 223.9h0.7v0.7h-0.7zM374.3 243.7h0.7v0.7h-0.7zM367.5 224.6h0.7v0.7h-0.7zM366.7 234.8h0.7v0.7h-0.7zM373.1 241.1h0.7v0.7h-0.7zM359.6 233.0h0.7v0.7h-0.7zM363.8 233.6h0.7v0.7h-0.7zM363.3 250.0h0.7v0.7h-0.7zM375.1 238.1h0.7v0.7h-0.7zM365.7 231.3h0.7v0.7h-0.7zM369.2 259.6h0.7v0.7h-0.7zM374.2 244.3h0.7v0.7h-0.7zM375.3 234.6h0.7v0.7h-0.7zM366.9 243.9h0.7v0.7h-0.7zM363.7 250.7h0.7v0.7h-0.7zM366.6 228.6h0.7v0.7h-0.7zM374.1 237.3h0.7v0.7h-0.7zM368.0 252.3h0.7v0.7h-0.7zM376.6 234.0h0.7v0.7h-0.7zM375.4 226.8h0.7v0.7h-0.7zM376.6 241.8h0.7v0.7h-0.7zM369.7 253.6h0.7v0.7h-0.7zM371.6 224.2h0.7v0.7h-0.7zM371.3 248.1h0.7v0.7h-0.7zM374.6 254.1h0.7v0.7h-0.7zM367.7 228.9h0.7v0.7h-0.7zM361.7 235.6h0.7v0.7h-0.7zM366.5 241.6h0.7v0.7h-0.7zM377.8 235.6h0.7v0.7h-0.7zM363.1 240.3h0.7v0.7h-0.7zM370.5 246.3h0.7v0.7h-0.7zM376.5 244.4h0.7v0.7h-0.7zM371.0 233.5h0.7v0.7h-0.7zM371.3 249.0h0.7v0.7h-0.7zM367.7 254.8h0.7v0.7h-0.7zM369.6 247.0h0.7v0.7h-0.7zM361.3 250.0h0.7v0.7h-0.7zM368.9 235.6h0.7v0.7h-0.7zM370.5 242.3h0.7v0.7h-0.7zM365.9 228.6h0.7v0.7h-0.7zM371.5 246.3h0.7v0.7h-0.7zM370.4 237.7h0.7v0.7h-0.7zM368.4 223.2h0.7v0.7h-0.7zM367.0 233.5h0.7v0.7h-0.7zM363.0 235.5h0.7v0.7h-0.7zM360.2 227.7h0.7v0.7h-0.7zM376.8 237.8h0.7v0.7h-0.7zM366.9 240.3h0.7v0.7h-0.7zM364.3 240.7h0.7v0.7h-0.7zM367.0 230.6h0.7v0.7h-0.7zM369.7 246.0h0.7v0.7h-0.7zM369.5 228.3h0.7v0.7h-0.7zM369.9 234.2h0.7v0.7h-0.7zM367.2 241.5h0.7v0.7h-0.7zM371.7 247.4h0.7v0.7h-0.7zM367.6 262.0h0.7v0.7h-0.7zM374.2 246.6h0.7v0.7h-0.7zM378.2 250.3h0.7v0.7h-0.7zM377.3 250.7h0.7v0.7h-0.7zM367.6 247.8h0.7v0.7h-0.7zM375.2 247.3h0.7v0.7h-0.7zM376.2 245.9h0.7v0.7h-0.7zM365.6 238.5h0.7v0.7h-0.7zM364.9 228.6h0.7v0.7h-0.7zM379.6 247.9h0.7v0.7h-0.7zM375.8 228.6h0.7v0.7h-0.7zM373.6 236.2h0.7v0.7h-0.7zM373.2 246.9h0.7v0.7h-0.7zM376.0 233.3h0.7v0.7h-0.7zM376.0 249.5h0.7v0.7h-0.7zM371.5 230.7h0.7v0.7h-0.7zM363.5 225.4h0.7v0.7h-0.7zM361.7 247.3h0.7v0.7h-0.7zM361.6 233.3h0.7v0.7h-0.7zM371.1 235.8h0.7v0.7h-0.7zM372.0 251.1h0.7v0.7h-0.7zM367.1 246.2h0.7v0.7h-0.7zM374.9 240.0h0.7v0.7h-0.7zM374.6 239.9h0.7v0.7h-0.7zM370.5 248.5h0.7v0.7h-0.7zM368.6 238.8h0.7v0.7h-0.7zM372.4 249.6h0.7v0.7h-0.7zM364.4 250.4h0.7v0.7h-0.7zM370.7 242.4h0.7v0.7h-0.7zM376.6 232.1h0.7v0.7h-0.7zM365.3 230.4h0.7v0.7h-0.7zM370.5 244.8h0.7v0.7h-0.7zM362.4 244.6h0.7v0.7h-0.7zM363.8 242.5h0.7v0.7h-0.7zM380.2 250.5h0.7v0.7h-0.7zM369.8 248.9h0.7v0.7h-0.7zM365.8 247.3h0.7v0.7h-0.7zM372.6 231.2h0.7v0.7h-0.7zM372.1 244.3h0.7v0.7h-0.7zM369.3 240.6h0.7v0.7h-0.7zM379.3 247.4h0.7v0.7h-0.7zM374.2 225.4h0.7v0.7h-0.7zM368.0 247.9h0.7v0.7h-0.7zM371.0 238.9h0.7v0.7h-0.7zM365.2 243.5h0.7v0.7h-0.7zM369.2 226.3h0.7v0.7h-0.7zM382.5 239.1h0.7v0.7h-0.7zM360.8 227.5h0.7v0.7h-0.7zM366.7 236.5h0.7v0.7h-0.7zM365.6 239.6h0.7v0.7h-0.7zM377.1 231.3h0.7v0.7h-0.7zM375.3 247.8h0.7v0.7h-0.7zM364.2 227.8h0.7v0.7h-0.7zM373.5 249.5h0.7v0.7h-0.7zM373.6 246.0h0.7v0.7h-0.7zM366.5 246.5h0.7v0.7h-0.7zM364.5 245.9h0.7v0.7h-0.7zM374.2 247.1h0.7v0.7h-0.7zM376.4 246.4h0.7v0.7h-0.7zM375.1 242.3h0.7v0.7h-0.7zM378.2 240.4h0.7v0.7h-0.7zM377.2 234.8h0.7v0.7h-0.7zM364.1 242.8h0.7v0.7h-0.7zM369.6 236.4h0.7v0.7h-0.7zM366.0 248.1h0.7v0.7h-0.7zM372.1 248.8h0.7v0.7h-0.7zM367.9 244.0h0.7v0.7h-0.7zM365.0 234.9h0.7v0.7h-0.7zM373.9 247.9h0.7v0.7h-0.7zM370.5 251.5h0.7v0.7h-0.7zM366.2 253.0h0.7v0.7h-0.7zM369.2 239.6h0.7v0.7h-0.7zM365.2 253.0h0.7v0.7h-0.7zM365.0 253.2h0.7v0.7h-0.7zM376.9 224.3h0.7v0.7h-0.7zM369.6 230.5h0.7v0.7h-0.7zM367.4 240.5h0.7v0.7h-0.7zM368.4 246.7h0.7v0.7h-0.7zM372.1 224.9h0.7v0.7h-0.7zM363.7 228.8h0.7v0.7h-0.7zM363.0 245.5h0.7v0.7h-0.7zM369.0 241.2h0.7v0.7h-0.7zM359.4 237.4h0.7v0.7h-0.7zM358.7 240.3h0.7v0.7h-0.7zM366.6 244.5h0.7v0.7h-0.7zM372.4 248.0h0.7v0.7h-0.7zM368.6 244.0h0.7v0.7h-0.7zM364.7 260.6h0.7v0.7h-0.7zM370.5 230.8h0.7v0.7h-0.7zM370.1 250.5h0.7v0.7h-0.7zM366.0 250.8h0.7v0.7h-0.7zM368.2 252.3h0.7v0.7h-0.7zM369.9 232.7h0.7v0.7h-0.7zM370.7 251.5h0.7v0.7h-0.7zM360.2 231.8h0.7v0.7h-0.7zM371.6 230.8h0.7v0.7h-0.7zM360.7 240.6h0.7v0.7h-0.7zM367.2 237.9h0.7v0.7h-0.7zM367.7 243.0h0.7v0.7h-0.7zM365.3 226.3h0.7v0.7h-0.7zM368.4 237.7h0.7v0.7h-0.7zM368.7 240.9h0.7v0.7h-0.7zM366.1 226.3h0.7v0.7h-0.7zM371.9 253.6h0.7v0.7h-0.7zM372.2 241.5h0.7v0.7h-0.7zM374.4 253.6h0.7v0.7h-0.7zM363.4 246.5h0.7v0.7h-0.7zM371.6 250.1h0.7v0.7h-0.7zM366.0 257.0h0.7v0.7h-0.7zM376.4 261.5h0.7v0.7h-0.7zM361.7 254.0h0.7v0.7h-0.7zM367.0 255.4h0.7v0.7h-0.7zM370.9 257.3h0.7v0.7h-0.7zM369.8 249.8h0.7v0.7h-0.7zM359.7 263.1h0.7v0.7h-0.7zM367.6 258.2h0.7v0.7h-0.7zM371.8 258.6h0.7v0.7h-0.7zM371.1 260.4h0.7v0.7h-0.7zM365.6 257.5h0.7v0.7h-0.7zM373.6 251.4h0.7v0.7h-0.7zM365.8 251.6h0.7v0.7h-0.7zM378.0 253.0h0.7v0.7h-0.7zM375.7 253.2h0.7v0.7h-0.7zM372.3 257.9h0.7v0.7h-0.7zM372.1 253.0h0.7v0.7h-0.7zM368.3 263.5h0.7v0.7h-0.7zM378.9 257.7h0.7v0.7h-0.7zM367.9 257.0h0.7v0.7h-0.7zM381.3 252.0h0.7v0.7h-0.7zM371.7 257.3h0.7v0.7h-0.7zM369.0 254.4h0.7v0.7h-0.7zM375.6 253.7h0.7v0.7h-0.7zM370.3 256.4h0.7v0.7h-0.7zM364.0 255.4h0.7v0.7h-0.7zM377.0 260.0h0.7v0.7h-0.7zM360.8 254.3h0.7v0.7h-0.7zM380.7 250.6h0.7v0.7h-0.7zM366.3 256.6h0.7v0.7h-0.7zM367.3 251.5h0.7v0.7h-0.7zM367.0 255.9h0.7v0.7h-0.7zM372.5 256.7h0.7v0.7h-0.7zM362.9 247.6h0.7v0.7h-0.7zM375.3 254.6h0.7v0.7h-0.7zM371.7 256.8h0.7v0.7h-0.7zM379.1 260.1h0.7v0.7h-0.7zM368.0 258.6h0.7v0.7h-0.7zM373.9 261.6h0.7v0.7h-0.7zM375.9 265.4h0.7v0.7h-0.7zM383.4 256.5h0.7v0.7h-0.7zM366.0 257.6h0.7v0.7h-0.7zM366.9 255.0h0.7v0.7h-0.7zM376.8 252.3h0.7v0.7h-0.7zM360.3 252.5h0.7v0.7h-0.7zM365.4 247.7h0.7v0.7h-0.7zM374.4 257.6h0.7v0.7h-0.7zM372.5 260.2h0.7v0.7h-0.7zM370.1 264.6h0.7v0.7h-0.7zM372.4 259.3h0.7v0.7h-0.7zM367.0 257.2h0.7v0.7h-0.7zM369.4 249.9h0.7v0.7h-0.7zM372.5 251.0h0.7v0.7h-0.7zM376.4 247.7h0.7v0.7h-0.7zM360.4 261.1h0.7v0.7h-0.7zM374.5 253.6h0.7v0.7h-0.7zM360.4 252.1h0.7v0.7h-0.7zM372.5 264.0h0.7v0.7h-0.7zM367.7 262.9h0.7v0.7h-0.7zM361.5 262.5h0.7v0.7h-0.7zM374.8 251.9h0.7v0.7h-0.7zM378.6 255.5h0.7v0.7h-0.7zM366.8 253.5h0.7v0.7h-0.7zM375.9 252.6h0.7v0.7h-0.7zM367.1 254.4h0.7v0.7h-0.7zM370.2 249.5h0.7v0.7h-0.7zM378.9 263.5h0.7v0.7h-0.7zM370.5 257.4h0.7v0.7h-0.7zM370.0 250.4h0.7v0.7h-0.7zM373.0 250.5h0.7v0.7h-0.7zM362.7 252.6h0.7v0.7h-0.7zM373.3 253.1h0.7v0.7h-0.7zM375.8 258.3h0.7v0.7h-0.7zM376.6 261.6h0.7v0.7h-0.7zM368.2 258.6h0.7v0.7h-0.7zM374.8 256.8h0.7v0.7h-0.7zM368.2 257.7h0.7v0.7h-0.7zM372.1 258.6h0.7v0.7h-0.7zM370.5 252.7h0.7v0.7h-0.7zM363.0 254.8h0.7v0.7h-0.7zM381.1 256.1h0.7v0.7h-0.7zM371.2 251.6h0.7v0.7h-0.7zM373.0 255.6h0.7v0.7h-0.7zM372.1 254.1h0.7v0.7h-0.7zM365.3 251.3h0.7v0.7h-0.7zM367.7 250.9h0.7v0.7h-0.7zM365.1 256.5h0.7v0.7h-0.7zM371.1 252.9h0.7v0.7h-0.7zM370.2 260.2h0.7v0.7h-0.7zM364.5 258.1h0.7v0.7h-0.7zM359.7 262.4h0.7v0.7h-0.7zM373.8 264.9h0.7v0.7h-0.7zM381.0 255.9h0.7v0.7h-0.7zM374.6 257.2h0.7v0.7h-0.7zM360.3 259.5h0.7v0.7h-0.7zM375.4 259.0h0.7v0.7h-0.7zM372.6 250.0h0.7v0.7h-0.7zM367.4 238.3h0.7v0.7h-0.7zM372.4 251.8h0.7v0.7h-0.7zM367.8 260.1h0.7v0.7h-0.7zM371.0 242.4h0.7v0.7h-0.7zM376.5 248.6h0.7v0.7h-0.7zM364.3 250.5h0.7v0.7h-0.7zM377.8 249.2h0.7v0.7h-0.7zM372.9 257.8h0.7v0.7h-0.7zM359.2 261.4h0.7v0.7h-0.7zM367.0 262.6h0.7v0.7h-0.7zM368.6 261.8h0.7v0.7h-0.7zM382.5 245.2h0.7v0.7h-0.7zM364.3 252.4h0.7v0.7h-0.7zM376.3 262.6h0.7v0.7h-0.7zM371.7 257.3h0.7v0.7h-0.7zM375.3 250.8h0.7v0.7h-0.7zM367.5 255.7h0.7v0.7h-0.7zM378.4 251.8h0.7v0.7h-0.7zM374.6 251.6h0.7v0.7h-0.7zM364.5 255.6h0.7v0.7h-0.7zM371.9 255.5h0.7v0.7h-0.7zM366.7 252.6h0.7v0.7h-0.7zM376.1 248.6h0.7v0.7h-0.7zM367.5 249.9h0.7v0.7h-0.7zM371.4 260.9h0.7v0.7h-0.7zM368.9 252.0h0.7v0.7h-0.7zM369.0 255.4h0.7v0.7h-0.7zM368.3 250.8h0.7v0.7h-0.7zM372.7 261.9h0.7v0.7h-0.7zM372.2 252.0h0.7v0.7h-0.7zM378.3 255.3h0.7v0.7h-0.7zM373.2 254.4h0.7v0.7h-0.7zM373.4 249.2h0.7v0.7h-0.7zM370.8 254.3h0.7v0.7h-0.7zM369.7 255.8h0.7v0.7h-0.7zM386.5 250.7h0.7v0.7h-0.7zM369.3 249.1h0.7v0.7h-0.7zM371.4 252.6h0.7v0.7h-0.7zM376.4 254.6h0.7v0.7h-0.7zM370.2 255.3h0.7v0.7h-0.7zM382.0 260.0h0.7v0.7h-0.7zM373.2 260.0h0.7v0.7h-0.7zM369.6 247.8h0.7v0.7h-0.7zM363.1 257.5h0.7v0.7h-0.7zM372.9 252.4h0.7v0.7h-0.7zM365.6 258.9h0.7v0.7h-0.7zM368.5 249.5h0.7v0.7h-0.7zM375.0 255.7h0.7v0.7h-0.7zM364.1 262.0h0.7v0.7h-0.7zM367.7 252.6h0.7v0.7h-0.7zM366.8 253.5h0.7v0.7h-0.7zM379.3 253.6h0.7v0.7h-0.7zM375.0 251.9h0.7v0.7h-0.7zM377.6 260.8h0.7v0.7h-0.7zM375.5 263.0h0.7v0.7h-0.7zM372.2 246.1h0.7v0.7h-0.7zM363.9 252.2h0.7v0.7h-0.7zM375.4 255.7h0.7v0.7h-0.7zM372.4 256.1h0.7v0.7h-0.7zM369.1 254.7h0.7v0.7h-0.7zM367.8 255.1h0.7v0.7h-0.7zM374.7 262.5h0.7v0.7h-0.7zM378.8 254.5h0.7v0.7h-0.7zM368.4 253.1h0.7v0.7h-0.7zM360.7 259.3h0.7v0.7h-0.7zM375.8 256.9h0.7v0.7h-0.7zM371.2 258.2h0.7v0.7h-0.7zM376.2 260.9h0.7v0.7h-0.7zM362.5 266.1h0.7v0.7h-0.7zM367.2 261.4h0.7v0.7h-0.7zM364.8 260.8h0.7v0.7h-0.7zM385.7 259.8h0.7v0.7h-0.7zM371.1 262.4h0.7v0.7h-0.7zM370.5 255.8h0.7v0.7h-0.7zM368.2 254.4h0.7v0.7h-0.7zM371.8 251.9h0.7v0.7h-0.7zM377.5 256.7h0.7v0.7h-0.7zM364.2 251.7h0.7v0.7h-0.7zM370.6 253.6h0.7v0.7h-0.7zM379.3 250.4h0.7v0.7h-0.7zM371.0 254.5h0.7v0.7h-0.7zM370.1 257.9h0.7v0.7h-0.7zM374.2 252.6h0.7v0.7h-0.7zM368.0 256.9h0.7v0.7h-0.7zM370.7 252.7h0.7v0.7h-0.7zM362.0 256.6h0.7v0.7h-0.7zM368.5 257.5h0.7v0.7h-0.7zM367.4 254.8h0.7v0.7h-0.7zM369.6 246.8h0.7v0.7h-0.7zM371.2 256.4h0.7v0.7h-0.7zM370.4 255.5h0.7v0.7h-0.7zM378.9 245.9h0.7v0.7h-0.7zM365.4 252.0h0.7v0.7h-0.7zM366.6 252.7h0.7v0.7h-0.7zM363.6 253.4h0.7v0.7h-0.7zM373.7 251.9h0.7v0.7h-0.7zM374.6 258.9h0.7v0.7h-0.7zM375.5 256.2h0.7v0.7h-0.7zM360.2 254.4h0.7v0.7h-0.7zM357.2 248.0h0.7v0.7h-0.7zM374.5 242.3h0.7v0.7h-0.7zM374.6 252.3h0.7v0.7h-0.7zM374.6 261.3h0.7v0.7h-0.7zM370.6 250.4h0.7v0.7h-0.7zM374.4 249.2h0.7v0.7h-0.7zM371.1 254.7h0.7v0.7h-0.7zM377.0 247.2h0.7v0.7h-0.7zM372.1 263.6h0.7v0.7h-0.7zM370.1 263.7h0.7v0.7h-0.7zM376.2 247.7h0.7v0.7h-0.7zM374.0 256.7h0.7v0.7h-0.7zM367.1 254.0h0.7v0.7h-0.7zM360.8 262.8h0.7v0.7h-0.7zM373.8 253.6h0.7v0.7h-0.7zM375.7 261.8h0.7v0.7h-0.7zM370.3 254.7h0.7v0.7h-0.7zM374.4 254.3h0.7v0.7h-0.7zM380.8 259.8h0.7v0.7h-0.7zM372.2 253.2h0.7v0.7h-0.7zM359.3 250.0h0.7v0.7h-0.7zM383.0 254.7h0.7v0.7h-0.7zM377.9 246.0h0.7v0.7h-0.7zM364.0 259.2h0.7v0.7h-0.7zM377.3 248.4h0.7v0.7h-0.7zM362.4 250.1h0.7v0.7h-0.7zM371.6 244.8h0.7v0.7h-0.7zM380.3 249.9h0.7v0.7h-0.7zM373.0 258.8h0.7v0.7h-0.7zM370.5 255.0h0.7v0.7h-0.7zM368.7 263.9h0.7v0.7h-0.7zM377.3 254.2h0.7v0.7h-0.7zM368.3 254.8h0.7v0.7h-0.7zM358.6 252.6h0.7v0.7h-0.7zM368.1 261.1h0.7v0.7h-0.7zM373.5 250.5h0.7v0.7h-0.7zM363.1 257.9h0.7v0.7h-0.7zM373.2 258.7h0.7v0.7h-0.7zM371.2 256.6h0.7v0.7h-0.7zM371.4 263.5h0.7v0.7h-0.7zM371.0 250.4h0.7v0.7h-0.7zM376.0 258.6h0.7v0.7h-0.7zM369.3 261.2h0.7v0.7h-0.7zM374.2 251.7h0.7v0.7h-0.7zM366.2 262.5h0.7v0.7h-0.7zM376.3 249.6h0.7v0.7h-0.7zM364.6 263.8h0.7v0.7h-0.7zM386.1 260.2h0.7v0.7h-0.7zM370.7 253.4h0.7v0.7h-0.7zM375.8 262.0h0.7v0.7h-0.7zM373.3 254.2h0.7v0.7h-0.7zM363.0 249.0h0.7v0.7h-0.7zM364.7 246.1h0.7v0.7h-0.7zM373.5 253.1h0.7v0.7h-0.7zM381.0 259.8h0.7v0.7h-0.7zM371.3 264.2h0.7v0.7h-0.7zM376.2 253.8h0.7v0.7h-0.7zM371.4 251.9h0.7v0.7h-0.7zM368.2 254.8h0.7v0.7h-0.7zM368.9 253.2h0.7v0.7h-0.7zM369.9 255.4h0.7v0.7h-0.7zM378.5 254.1h0.7v0.7h-0.7zM368.9 257.7h0.7v0.7h-0.7zM372.3 249.9h0.7v0.7h-0.7zM369.5 254.5h0.7v0.7h-0.7zM366.9 258.8h0.7v0.7h-0.7zM373.0 252.4h0.7v0.7h-0.7zM377.5 256.7h0.7v0.7h-0.7zM371.3 256.2h0.7v0.7h-0.7zM375.9 258.2h0.7v0.7h-0.7zM367.1 256.6h0.7v0.7h-0.7zM370.5 253.6h0.7v0.7h-0.7zM369.3 260.1h0.7v0.7h-0.7zM371.5 266.7h0.7v0.7h-0.7zM367.8 259.2h0.7v0.7h-0.7zM377.3 253.3h0.7v0.7h-0.7zM371.6 260.1h0.7v0.7h-0.7zM381.4 254.5h0.7v0.7h-0.7zM370.2 256.6h0.7v0.7h-0.7zM375.1 253.3h0.7v0.7h-0.7zM376.0 257.3h0.7v0.7h-0.7zM371.4 250.7h0.7v0.7h-0.7zM375.2 245.0h0.7v0.7h-0.7zM365.7 246.8h0.7v0.7h-0.7zM369.0 254.0h0.7v0.7h-0.7zM369.1 251.9h0.7v0.7h-0.7zM375.2 246.0h0.7v0.7h-0.7zM362.6 256.5h0.7v0.7h-0.7zM377.9 256.8h0.7v0.7h-0.7zM364.4 246.5h0.7v0.7h-0.7zM374.3 256.3h0.7v0.7h-0.7zM371.5 248.8h0.7v0.7h-0.7zM357.1 258.7h0.7v0.7h-0.7zM381.0 258.9h0.7v0.7h-0.7zM374.1 257.2h0.7v0.7h-0.7zM370.0 253.8h0.7v0.7h-0.7zM371.5 251.2h0.7v0.7h-0.7zM373.1 249.2h0.7v0.7h-0.7zM370.6 263.0h0.7v0.7h-0.7zM379.5 251.1h0.7v0.7h-0.7zM375.9 257.7h0.7v0.7h-0.7zM376.5 257.0h0.7v0.7h-0.7zM369.6 260.4h0.7v0.7h-0.7zM377.1 249.5h0.7v0.7h-0.7zM371.5 253.5h0.7v0.7h-0.7zM365.3 255.4h0.7v0.7h-0.7zM369.2 245.7h0.7v0.7h-0.7zM381.9 255.4h0.7v0.7h-0.7zM370.3 256.0h0.7v0.7h-0.7zM366.0 251.2h0.7v0.7h-0.7zM380.6 253.0h0.7v0.7h-0.7zM361.6 256.5h0.7v0.7h-0.7zM376.1 251.6h0.7v0.7h-0.7zM367.7 261.0h0.7v0.7h-0.7zM376.1 249.3h0.7v0.7h-0.7zM368.6 253.2h0.7v0.7h-0.7zM370.0 249.0h0.7v0.7h-0.7zM370.0 250.1h0.7v0.7h-0.7zM375.1 255.8h0.7v0.7h-0.7zM368.3 253.6h0.7v0.7h-0.7zM368.4 259.1h0.7v0.7h-0.7zM373.8 257.9h0.7v0.7h-0.7zM359.5 258.1h0.7v0.7h-0.7zM370.5 253.0h0.7v0.7h-0.7zM363.2 260.2h0.7v0.7h-0.7zM379.6 255.0h0.7v0.7h-0.7zM370.2 251.6h0.7v0.7h-0.7zM375.7 255.3h0.7v0.7h-0.7zM367.2 260.9h0.7v0.7h-0.7zM373.9 256.3h0.7v0.7h-0.7zM370.7 253.7h0.7v0.7h-0.7zM366.6 252.6h0.7v0.7h-0.7zM368.1 259.0h0.7v0.7h-0.7zM365.7 261.7h0.7v0.7h-0.7zM377.2 252.0h0.7v0.7h-0.7zM366.8 247.0h0.7v0.7h-0.7zM375.8 258.2h0.7v0.7h-0.7zM380.1 256.3h0.7v0.7h-0.7zM373.3 253.5h0.7v0.7h-0.7zM364.2 257.9h0.7v0.7h-0.7zM369.2 254.7h0.7v0.7h-0.7zM366.8 257.2h0.7v0.7h-0.7zM361.7 249.3h0.7v0.7h-0.7zM377.0 257.7h0.7v0.7h-0.7zM365.7 256.1h0.7v0.7h-0.7zM373.1 259.6h0.7v0.7h-0.7zM377.1 259.6h0.7v0.7h-0.7zM367.9 263.8h0.7v0.7h-0.7zM371.2 258.1h0.7v0.7h-0.7zM374.4 261.7h0.7v0.7h-0.7zM377.0 247.4h0.7v0.7h-0.7zM363.2 254.4h0.7v0.7h-0.7zM366.8 259.4h0.7v0.7h-0.7zM379.5 260.9h0.7v0.7h-0.7zM365.4 257.3h0.7v0.7h-0.7zM376.3 258.3h0.7v0.7h-0.7zM376.3 267.2h0.7v0.7h-0.7zM375.6 256.9h0.7v0.7h-0.7zM374.3 256.4h0.7v0.7h-0.7zM368.9 255.0h0.7v0.7h-0.7zM366.0 250.5h0.7v0.7h-0.7zM371.5 250.9h0.7v0.7h-0.7zM367.7 251.9h0.7v0.7h-0.7zM364.8 242.7h0.7v0.7h-0.7zM374.6 261.1h0.7v0.7h-0.7zM372.2 251.8h0.7v0.7h-0.7zM377.3 256.7h0.7v0.7h-0.7zM363.5 254.6h0.7v0.7h-0.7zM371.3 251.0h0.7v0.7h-0.7zM374.0 248.3h0.7v0.7h-0.7zM371.1 258.3h0.7v0.7h-0.7zM360.6 257.6h0.7v0.7h-0.7zM375.8 251.1h0.7v0.7h-0.7zM364.7 254.1h0.7v0.7h-0.7zM371.0 254.0h0.7v0.7h-0.7zM369.3 249.8h0.7v0.7h-0.7zM361.0 251.6h0.7v0.7h-0.7zM376.1 258.4h0.7v0.7h-0.7zM374.9 254.0h0.7v0.7h-0.7zM367.7 252.6h0.7v0.7h-0.7zM371.9 248.6h0.7v0.7h-0.7zM372.9 256.9h0.7v0.7h-0.7zM367.6 259.0h0.7v0.7h-0.7zM374.9 244.7h0.7v0.7h-0.7zM368.7 254.4h0.7v0.7h-0.7zM358.2 257.8h0.7v0.7h-0.7zM376.2 257.3h0.7v0.7h-0.7zM370.2 261.5h0.7v0.7h-0.7zM371.4 256.3h0.7v0.7h-0.7zM373.6 260.1h0.7v0.7h-0.7zM361.7 259.1h0.7v0.7h-0.7zM372.9 261.3h0.7v0.7h-0.7zM372.1 254.5h0.7v0.7h-0.7zM367.3 255.2h0.7v0.7h-0.7zM367.8 257.3h0.7v0.7h-0.7zM371.2 251.5h0.7v0.7h-0.7zM374.7 254.7h0.7v0.7h-0.7zM368.8 261.2h0.7v0.7h-0.7zM373.4 256.9h0.7v0.7h-0.7zM366.9 260.7h0.7v0.7h-0.7zM374.2 249.6h0.7v0.7h-0.7zM369.4 260.6h0.7v0.7h-0.7zM376.2 254.5h0.7v0.7h-0.7zM372.2 255.8h0.7v0.7h-0.7zM358.2 258.2h0.7v0.7h-0.7zM378.9 252.5h0.7v0.7h-0.7zM371.6 259.4h0.7v0.7h-0.7zM372.4 259.7h0.7v0.7h-0.7zM371.2 253.9h0.7v0.7h-0.7zM367.2 254.6h0.7v0.7h-0.7zM363.9 249.6h0.7v0.7h-0.7zM371.5 250.9h0.7v0.7h-0.7zM371.7 254.5h0.7v0.7h-0.7zM370.1 257.4h0.7v0.7h-0.7zM368.4 250.3h0.7v0.7h-0.7zM369.5 254.1h0.7v0.7h-0.7zM378.3 259.5h0.7v0.7h-0.7zM363.6 246.9h0.7v0.7h-0.7zM364.2 257.5h0.7v0.7h-0.7zM360.9 259.0h0.7v0.7h-0.7zM369.2 260.0h0.7v0.7h-0.7zM372.2 250.8h0.7v0.7h-0.7zM368.7 255.8h0.7v0.7h-0.7zM377.3 253.7h0.7v0.7h-0.7zM367.8 255.5h0.7v0.7h-0.7zM366.7 257.3h0.7v0.7h-0.7zM373.0 258.9h0.7v0.7h-0.7zM366.2 260.1h0.7v0.7h-0.7zM386.5 261.3h0.7v0.7h-0.7zM371.4 254.5h0.7v0.7h-0.7zM362.4 257.1h0.7v0.7h-0.7zM382.2 257.4h0.7v0.7h-0.7zM373.0 254.7h0.7v0.7h-0.7zM364.6 265.6h0.7v0.7h-0.7zM369.1 262.2h0.7v0.7h-0.7zM371.2 254.6h0.7v0.7h-0.7zM366.1 255.5h0.7v0.7h-0.7zM372.0 253.4h0.7v0.7h-0.7zM370.4 254.1h0.7v0.7h-0.7zM366.1 251.8h0.7v0.7h-0.7zM385.5 249.2h0.7v0.7h-0.7zM374.8 248.7h0.7v0.7h-0.7zM365.7 259.2h0.7v0.7h-0.7zM363.0 258.4h0.7v0.7h-0.7zM379.0 254.0h0.7v0.7h-0.7zM375.2 259.6h0.7v0.7h-0.7zM359.5 253.1h0.7v0.7h-0.7zM368.6 259.1h0.7v0.7h-0.7zM368.4 249.2h0.7v0.7h-0.7zM363.5 255.2h0.7v0.7h-0.7zM371.3 256.9h0.7v0.7h-0.7zM364.8 257.2h0.7v0.7h-0.7zM370.3 250.5h0.7v0.7h-0.7zM363.9 264.8h0.7v0.7h-0.7zM374.2 253.3h0.7v0.7h-0.7zM374.1 251.8h0.7v0.7h-0.7zM380.3 257.6h0.7v0.7h-0.7zM358.4 253.3h0.7v0.7h-0.7zM369.5 255.5h0.7v0.7h-0.7zM364.4 259.4h0.7v0.7h-0.7zM371.8 261.6h0.7v0.7h-0.7zM372.1 261.6h0.7v0.7h-0.7zM379.6 255.5h0.7v0.7h-0.7zM372.5 259.3h0.7v0.7h-0.7zM373.5 254.6h0.7v0.7h-0.7zM383.9 260.4h0.7v0.7h-0.7zM373.7 249.6h0.7v0.7h-0.7zM365.0 254.2h0.7v0.7h-0.7zM364.7 248.5h0.7v0.7h-0.7zM374.4 258.2h0.7v0.7h-0.7zM367.8 254.9h0.7v0.7h-0.7zM377.1 259.1h0.7v0.7h-0.7zM381.0 254.2h0.7v0.7h-0.7zM369.0 258.7h0.7v0.7h-0.7zM381.2 254.4h0.7v0.7h-0.7zM369.2 254.0h0.7v0.7h-0.7zM377.2 260.5h0.7v0.7h-0.7zM365.5 259.9h0.7v0.7h-0.7zM375.3 260.9h0.7v0.7h-0.7zM368.4 254.8h0.7v0.7h-0.7zM373.9 257.5h0.7v0.7h-0.7zM365.6 258.5h0.7v0.7h-0.7zM374.4 254.0h0.7v0.7h-0.7zM373.3 260.2h0.7v0.7h-0.7zM371.1 255.5h0.7v0.7h-0.7zM365.3 254.8h0.7v0.7h-0.7zM367.2 250.6h0.7v0.7h-0.7zM376.3 257.2h0.7v0.7h-0.7zM372.8 256.0h0.7v0.7h-0.7zM378.5 247.4h0.7v0.7h-0.7zM379.6 253.0h0.7v0.7h-0.7zM366.1 251.5h0.7v0.7h-0.7zM366.2 254.4h0.7v0.7h-0.7zM375.3 251.4h0.7v0.7h-0.7zM375.5 252.8h0.7v0.7h-0.7zM371.0 261.4h0.7v0.7h-0.7zM369.2 250.0h0.7v0.7h-0.7zM371.4 256.9h0.7v0.7h-0.7zM369.0 253.2h0.7v0.7h-0.7zM374.5 250.9h0.7v0.7h-0.7zM370.3 251.5h0.7v0.7h-0.7zM374.4 253.2h0.7v0.7h-0.7zM373.0 254.9h0.7v0.7h-0.7zM370.6 251.2h0.7v0.7h-0.7zM377.9 252.7h0.7v0.7h-0.7zM370.3 249.4h0.7v0.7h-0.7zM371.5 251.3h0.7v0.7h-0.7zM365.1 259.6h0.7v0.7h-0.7zM375.2 256.4h0.7v0.7h-0.7zM372.1 257.6h0.7v0.7h-0.7zM371.0 256.0h0.7v0.7h-0.7zM365.6 253.4h0.7v0.7h-0.7zM370.1 243.6h0.7v0.7h-0.7zM364.4 251.2h0.7v0.7h-0.7zM382.1 248.0h0.7v0.7h-0.7zM360.7 258.2h0.7v0.7h-0.7zM365.5 257.2h0.7v0.7h-0.7zM370.8 262.4h0.7v0.7h-0.7zM370.9 258.9h0.7v0.7h-0.7zM370.1 255.3h0.7v0.7h-0.7zM371.1 254.8h0.7v0.7h-0.7zM378.8 262.1h0.7v0.7h-0.7zM371.2 254.1h0.7v0.7h-0.7zM372.1 259.6h0.7v0.7h-0.7zM375.0 255.4h0.7v0.7h-0.7zM362.3 265.5h0.7v0.7h-0.7zM379.1 257.2h0.7v0.7h-0.7zM372.8 261.1h0.7v0.7h-0.7zM380.2 255.6h0.7v0.7h-0.7zM372.7 254.3h0.7v0.7h-0.7zM381.7 253.5h0.7v0.7h-0.7zM368.7 259.8h0.7v0.7h-0.7zM374.5 255.1h0.7v0.7h-0.7zM375.7 256.4h0.7v0.7h-0.7zM371.0 256.7h0.7v0.7h-0.7zM374.2 256.1h0.7v0.7h-0.7zM373.8 255.9h0.7v0.7h-0.7zM374.0 251.0h0.7v0.7h-0.7zM380.4 259.7h0.7v0.7h-0.7zM372.8 257.8h0.7v0.7h-0.7zM381.1 257.3h0.7v0.7h-0.7zM364.1 256.9h0.7v0.7h-0.7zM360.3 254.4h0.7v0.7h-0.7zM379.1 250.3h0.7v0.7h-0.7zM362.7 253.6h0.7v0.7h-0.7zM373.3 263.8h0.7v0.7h-0.7zM369.8 254.9h0.7v0.7h-0.7zM364.6 264.6h0.7v0.7h-0.7zM370.3 257.2h0.7v0.7h-0.7zM376.8 254.6h0.7v0.7h-0.7zM366.3 253.1h0.7v0.7h-0.7zM370.7 259.0h0.7v0.7h-0.7zM376.8 252.9h0.7v0.7h-0.7zM369.2 249.0h0.7v0.7h-0.7zM371.3 264.8h0.7v0.7h-0.7zM373.6 253.8h0.7v0.7h-0.7zM379.4 257.2h0.7v0.7h-0.7zM377.5 262.3h0.7v0.7h-0.7zM364.4 255.4h0.7v0.7h-0.7zM369.9 260.7h0.7v0.7h-0.7zM370.6 255.8h0.7v0.7h-0.7zM360.1 253.0h0.7v0.7h-0.7zM367.9 250.6h0.7v0.7h-0.7zM372.0 253.9h0.7v0.7h-0.7zM372.2 259.2h0.7v0.7h-0.7zM373.4 255.3h0.7v0.7h-0.7zM372.9 250.2h0.7v0.7h-0.7zM369.0 252.6h0.7v0.7h-0.7zM381.5 249.5h0.7v0.7h-0.7zM369.1 257.5h0.7v0.7h-0.7zM368.5 258.0h0.7v0.7h-0.7zM364.8 259.6h0.7v0.7h-0.7zM372.2 245.4h0.7v0.7h-0.7zM363.3 249.5h0.7v0.7h-0.7zM369.7 253.5h0.7v0.7h-0.7zM372.9 257.9h0.7v0.7h-0.7zM374.3 257.2h0.7v0.7h-0.7zM366.6 248.5h0.7v0.7h-0.7zM364.4 256.8h0.7v0.7h-0.7zM365.7 249.7h0.7v0.7h-0.7zM366.3 256.8h0.7v0.7h-0.7zM363.8 254.2h0.7v0.7h-0.7zM375.0 258.8h0.7v0.7h-0.7zM361.7 254.9h0.7v0.7h-0.7zM367.9 266.1h0.7v0.7h-0.7zM369.7 248.8h0.7v0.7h-0.7zM367.6 255.0h0.7v0.7h-0.7zM368.4 258.3h0.7v0.7h-0.7zM368.9 255.3h0.7v0.7h-0.7zM389.7 257.0h0.7v0.7h-0.7zM375.6 255.2h0.7v0.7h-0.7zM357.7 262.6h0.7v0.7h-0.7zM368.5 258.1h0.7v0.7h-0.7zM363.3 255.6h0.7v0.7h-0.7zM377.0 250.2h0.7v0.7h-0.7zM381.5 259.5h0.7v0.7h-0.7zM373.2 253.8h0.7v0.7h-0.7zM376.2 246.0h0.7v0.7h-0.7zM377.9 246.2h0.7v0.7h-0.7zM368.2 261.0h0.7v0.7h-0.7zM372.8 246.6h0.7v0.7h-0.7zM374.4 236.7h0.7v0.7h-0.7zM378.9 240.5h0.7v0.7h-0.7zM384.9 244.9h0.7v0.7h-0.7zM388.0 260.1h0.7v0.7h-0.7zM376.1 259.6h0.7v0.7h-0.7zM386.3 237.7h0.7v0.7h-0.7zM379.7 240.6h0.7v0.7h-0.7zM377.0 247.6h0.7v0.7h-0.7zM382.2 240.7h0.7v0.7h-0.7zM374.6 253.8h0.7v0.7h-0.7zM386.3 258.3h0.7v0.7h-0.7zM375.3 243.5h0.7v0.7h-0.7zM379.7 241.9h0.7v0.7h-0.7zM385.3 240.0h0.7v0.7h-0.7zM379.8 251.3h0.7v0.7h-0.7zM381.3 250.3h0.7v0.7h-0.7zM380.4 252.7h0.7v0.7h-0.7zM382.3 248.6h0.7v0.7h-0.7zM383.2 251.8h0.7v0.7h-0.7zM383.8 252.4h0.7v0.7h-0.7zM382.8 251.3h0.7v0.7h-0.7zM377.6 243.7h0.7v0.7h-0.7zM379.8 242.0h0.7v0.7h-0.7zM379.1 242.0h0.7v0.7h-0.7zM378.2 251.0h0.7v0.7h-0.7zM393.0 265.3h0.7v0.7h-0.7zM381.0 248.7h0.7v0.7h-0.7zM380.0 246.0h0.7v0.7h-0.7zM383.3 251.9h0.7v0.7h-0.7zM382.1 256.3h0.7v0.7h-0.7zM379.2 254.6h0.7v0.7h-0.7zM381.7 239.3h0.7v0.7h-0.7zM386.0 239.8h0.7v0.7h-0.7zM384.2 241.6h0.7v0.7h-0.7zM378.3 258.1h0.7v0.7h-0.7zM382.6 248.0h0.7v0.7h-0.7zM377.9 232.7h0.7v0.7h-0.7zM379.1 246.5h0.7v0.7h-0.7zM384.6 247.9h0.7v0.7h-0.7zM385.0 243.2h0.7v0.7h-0.7zM384.6 255.5h0.7v0.7h-0.7zM380.0 255.4h0.7v0.7h-0.7zM387.7 235.8h0.7v0.7h-0.7zM375.8 242.0h0.7v0.7h-0.7zM378.8 239.5h0.7v0.7h-0.7zM381.6 235.8h0.7v0.7h-0.7zM388.2 247.2h0.7v0.7h-0.7zM381.8 246.4h0.7v0.7h-0.7zM378.8 249.1h0.7v0.7h-0.7zM380.5 251.3h0.7v0.7h-0.7zM384.0 240.7h0.7v0.7h-0.7zM374.0 242.1h0.7v0.7h-0.7zM382.0 230.0h0.7v0.7h-0.7zM382.8 248.9h0.7v0.7h-0.7zM375.8 249.9h0.7v0.7h-0.7zM384.7 247.2h0.7v0.7h-0.7zM382.9 253.1h0.7v0.7h-0.7zM385.7 258.6h0.7v0.7h-0.7zM378.1 246.1h0.7v0.7h-0.7zM381.2 239.2h0.7v0.7h-0.7zM381.5 251.3h0.7v0.7h-0.7zM382.3 231.3h0.7v0.7h-0.7zM378.5 225.9h0.7v0.7h-0.7zM381.4 247.8h0.7v0.7h-0.7zM384.2 255.9h0.7v0.7h-0.7zM377.3 247.1h0.7v0.7h-0.7zM381.7 254.9h0.7v0.7h-0.7zM385.6 246.4h0.7v0.7h-0.7zM375.2 255.0h0.7v0.7h-0.7zM380.2 232.0h0.7v0.7h-0.7zM381.7 240.4h0.7v0.7h-0.7zM381.2 258.6h0.7v0.7h-0.7zM380.8 240.9h0.7v0.7h-0.7zM382.7 245.5h0.7v0.7h-0.7zM381.4 256.8h0.7v0.7h-0.7zM381.9 252.3h0.7v0.7h-0.7zM380.8 249.1h0.7v0.7h-0.7zM376.9 241.2h0.7v0.7h-0.7zM385.1 259.6h0.7v0.7h-0.7zM376.7 254.0h0.7v0.7h-0.7zM384.5 241.0h0.7v0.7h-0.7zM383.8 253.1h0.7v0.7h-0.7zM385.8 263.5h0.7v0.7h-0.7zM381.1 251.4h0.7v0.7h-0.7zM377.6 250.5h0.7v0.7h-0.7zM381.2 246.1h0.7v0.7h-0.7zM381.6 255.7h0.7v0.7h-0.7zM384.7 254.8h0.7v0.7h-0.7zM388.1 235.5h0.7v0.7h-0.7zM380.5 247.3h0.7v0.7h-0.7zM379.5 244.1h0.7v0.7h-0.7zM375.6 245.2h0.7v0.7h-0.7zM385.9 244.2h0.7v0.7h-0.7zM381.0 251.8h0.7v0.7h-0.7zM381.1 239.6h0.7v0.7h-0.7zM379.1 258.4h0.7v0.7h-0.7zM378.4 237.2h0.7v0.7h-0.7zM388.6 249.3h0.7v0.7h-0.7zM376.7 232.6h0.7v0.7h-0.7zM378.1 236.5h0.7v0.7h-0.7zM380.5 256.2h0.7v0.7h-0.7zM384.2 244.8h0.7v0.7h-0.7zM383.6 244.3h0.7v0.7h-0.7zM371.0 254.2h0.7v0.7h-0.7zM377.9 239.6h0.7v0.7h-0.7zM385.0 248.5h0.7v0.7h-0.7zM384.5 256.5h0.7v0.7h-0.7zM384.1 247.0h0.7v0.7h-0.7zM389.2 239.2h0.7v0.7h-0.7zM384.9 264.6h0.7v0.7h-0.7zM380.4 242.7h0.7v0.7h-0.7zM384.4 257.7h0.7v0.7h-0.7zM383.3 242.5h0.7v0.7h-0.7zM381.7 235.2h0.7v0.7h-0.7zM385.4 258.1h0.7v0.7h-0.7zM380.4 253.3h0.7v0.7h-0.7zM380.0 248.6h0.7v0.7h-0.7zM381.8 246.3h0.7v0.7h-0.7zM392.7 245.4h0.7v0.7h-0.7zM385.2 240.3h0.7v0.7h-0.7zM382.2 247.8h0.7v0.7h-0.7zM377.9 255.4h0.7v0.7h-0.7zM384.2 259.7h0.7v0.7h-0.7zM382.8 239.1h0.7v0.7h-0.7zM384.4 250.8h0.7v0.7h-0.7zM388.4 227.3h0.7v0.7h-0.7zM380.5 249.0h0.7v0.7h-0.7zM385.3 237.7h0.7v0.7h-0.7zM385.6 250.7h0.7v0.7h-0.7zM373.0 268.8h0.7v0.7h-0.7zM372.7 239.0h0.7v0.7h-0.7zM377.8 252.1h0.7v0.7h-0.7zM379.3 247.3h0.7v0.7h-0.7zM378.1 252.4h0.7v0.7h-0.7zM384.4 263.4h0.7v0.7h-0.7zM375.3 241.6h0.7v0.7h-0.7zM378.7 244.1h0.7v0.7h-0.7zM380.5 253.7h0.7v0.7h-0.7zM378.6 242.4h0.7v0.7h-0.7zM386.1 260.2h0.7v0.7h-0.7zM388.5 265.9h0.7v0.7h-0.7zM378.2 259.9h0.7v0.7h-0.7zM384.0 247.4h0.7v0.7h-0.7zM383.6 242.4h0.7v0.7h-0.7zM376.7 245.8h0.7v0.7h-0.7zM375.1 244.5h0.7v0.7h-0.7zM381.4 239.3h0.7v0.7h-0.7zM378.2 230.7h0.7v0.7h-0.7zM376.5 247.4h0.7v0.7h-0.7zM378.5 249.3h0.7v0.7h-0.7zM378.6 243.6h0.7v0.7h-0.7zM374.6 262.9h0.7v0.7h-0.7zM380.1 255.9h0.7v0.7h-0.7zM378.0 237.7h0.7v0.7h-0.7zM382.2 244.2h0.7v0.7h-0.7zM380.8 253.6h0.7v0.7h-0.7zM383.5 255.0h0.7v0.7h-0.7zM381.9 231.1h0.7v0.7h-0.7zM383.0 261.4h0.7v0.7h-0.7zM382.7 257.2h0.7v0.7h-0.7zM346.6 239.0h0.7v0.7h-0.7zM382.3 267.4h0.7v0.7h-0.7zM365.7 277.3h0.7v0.7h-0.7zM345.8 242.5h0.7v0.7h-0.7zM375.1 232.6h0.7v0.7h-0.7zM363.3 250.2h0.7v0.7h-0.7zM349.2 241.3h0.7v0.7h-0.7zM353.6 257.1h0.7v0.7h-0.7zM357.6 258.6h0.7v0.7h-0.7zM357.1 267.5h0.7v0.7h-0.7zM385.6 261.3h0.7v0.7h-0.7zM383.4 252.4h0.7v0.7h-0.7z" fill="#111" fill-opacity="1"/>
<ellipse cx="463.8" cy="269.4" rx="20" ry="5.6" transform="rotate(-15.5 463.8 269.4)" fill="#7c7c7c"/>
<path d="M485.2 267.6h0.7v0.7h-0.7zM465.6 270.3h0.7v0.7h-0.7zM463.2 267.8h0.7v0.7h-0.7zM452.0 272.4h0.7v0.7h-0.7zM475.7 267.4h0.7v0.7h-0.7zM477.8 269.4h0.7v0.7h-0.7zM469.3 264.5h0.7v0.7h-0.7zM453.1 271.0h0.7v0.7h-0.7zM438.4 270.6h0.7v0.7h-0.7zM466.4 273.8h0.7v0.7h-0.7zM488.6 263.3h0.7v0.7h-0.7zM475.1 267.7h0.7v0.7h-0.7zM455.4 275.3h0.7v0.7h-0.7zM464.4 271.7h0.7v0.7h-0.7zM443.4 273.9h0.7v0.7h-0.7zM474.8 265.6h0.7v0.7h-0.7zM465.0 272.4h0.7v0.7h-0.7zM481.8 269.7h0.7v0.7h-0.7zM465.3 267.0h0.7v0.7h-0.7zM474.2 264.1h0.7v0.7h-0.7zM450.0 270.2h0.7v0.7h-0.7zM463.1 267.0h0.7v0.7h-0.7zM456.2 275.3h0.7v0.7h-0.7zM450.5 268.6h0.7v0.7h-0.7zM465.6 271.4h0.7v0.7h-0.7zM457.6 267.5h0.7v0.7h-0.7zM490.8 260.4h0.7v0.7h-0.7zM493.2 258.6h0.7v0.7h-0.7zM477.5 261.1h0.7v0.7h-0.7zM483.1 266.3h0.7v0.7h-0.7zM466.9 266.5h0.7v0.7h-0.7zM483.5 269.2h0.7v0.7h-0.7zM465.7 269.9h0.7v0.7h-0.7zM458.2 273.8h0.7v0.7h-0.7zM462.1 272.2h0.7v0.7h-0.7zM443.8 276.9h0.7v0.7h-0.7zM476.4 266.9h0.7v0.7h-0.7zM481.8 261.8h0.7v0.7h-0.7zM478.2 266.3h0.7v0.7h-0.7zM466.5 270.7h0.7v0.7h-0.7zM478.5 259.0h0.7v0.7h-0.7zM465.8 268.8h0.7v0.7h-0.7zM473.9 267.0h0.7v0.7h-0.7zM460.4 271.6h0.7v0.7h-0.7zM473.9 264.4h0.7v0.7h-0.7zM467.1 268.4h0.7v0.7h-0.7zM458.8 271.2h0.7v0.7h-0.7zM486.7 261.6h0.7v0.7h-0.7zM472.1 269.5h0.7v0.7h-0.7zM478.2 264.5h0.7v0.7h-0.7zM452.3 275.7h0.7v0.7h-0.7zM443.1 276.5h0.7v0.7h-0.7zM476.7 268.5h0.7v0.7h-0.7zM466.0 268.3h0.7v0.7h-0.7zM460.5 274.0h0.7v0.7h-0.7zM445.6 270.2h0.7v0.7h-0.7zM459.2 270.3h0.7v0.7h-0.7zM470.4 266.9h0.7v0.7h-0.7zM465.2 267.3h0.7v0.7h-0.7zM477.6 269.0h0.7v0.7h-0.7zM447.6 278.3h0.7v0.7h-0.7zM468.8 268.7h0.7v0.7h-0.7zM474.8 268.4h0.7v0.7h-0.7zM467.6 270.3h0.7v0.7h-0.7zM445.9 276.3h0.7v0.7h-0.7zM465.7 265.1h0.7v0.7h-0.7zM459.5 273.0h0.7v0.7h-0.7zM459.1 267.3h0.7v0.7h-0.7zM461.8 268.1h0.7v0.7h-0.7zM467.4 273.2h0.7v0.7h-0.7zM487.5 263.1h0.7v0.7h-0.7zM469.3 264.4h0.7v0.7h-0.7zM473.1 269.0h0.7v0.7h-0.7zM458.7 273.8h0.7v0.7h-0.7zM458.3 271.7h0.7v0.7h-0.7zM468.0 268.8h0.7v0.7h-0.7zM468.9 270.0h0.7v0.7h-0.7zM458.7 271.9h0.7v0.7h-0.7zM473.7 270.7h0.7v0.7h-0.7zM455.3 270.5h0.7v0.7h-0.7zM458.8 266.2h0.7v0.7h-0.7zM471.6 274.6h0.7v0.7h-0.7zM458.0 270.1h0.7v0.7h-0.7zM460.4 270.4h0.7v0.7h-0.7zM457.5 278.6h0.7v0.7h-0.7zM454.4 274.8h0.7v0.7h-0.7zM475.7 266.9h0.7v0.7h-0.7zM479.1 259.1h0.7v0.7h-0.7zM433.4 280.6h0.7v0.7h-0.7zM469.1 267.7h0.7v0.7h-0.7zM466.7 266.0h0.7v0.7h-0.7zM453.1 269.7h0.7v0.7h-0.7zM465.7 271.4h0.7v0.7h-0.7zM485.9 262.6h0.7v0.7h-0.7zM447.4 277.7h0.7v0.7h-0.7zM459.5 267.1h0.7v0.7h-0.7zM470.6 260.8h0.7v0.7h-0.7zM452.5 279.8h0.7v0.7h-0.7zM459.5 272.7h0.7v0.7h-0.7zM477.9 261.1h0.7v0.7h-0.7zM467.5 273.0h0.7v0.7h-0.7zM475.7 271.6h0.7v0.7h-0.7zM494.3 268.9h0.7v0.7h-0.7zM472.0 265.1h0.7v0.7h-0.7zM473.6 264.5h0.7v0.7h-0.7zM443.6 269.8h0.7v0.7h-0.7zM465.1 269.1h0.7v0.7h-0.7zM459.7 275.0h0.7v0.7h-0.7zM462.5 267.2h0.7v0.7h-0.7zM464.5 269.3h0.7v0.7h-0.7zM471.3 267.4h0.7v0.7h-0.7zM474.3 265.1h0.7v0.7h-0.7zM463.8 271.8h0.7v0.7h-0.7zM456.4 272.5h0.7v0.7h-0.7zM467.7 272.4h0.7v0.7h-0.7zM439.0 281.4h0.7v0.7h-0.7zM461.0 270.7h0.7v0.7h-0.7zM480.7 266.9h0.7v0.7h-0.7zM448.9 272.6h0.7v0.7h-0.7zM472.6 266.1h0.7v0.7h-0.7zM469.6 271.3h0.7v0.7h-0.7zM485.7 261.0h0.7v0.7h-0.7zM446.4 271.7h0.7v0.7h-0.7zM460.6 274.3h0.7v0.7h-0.7zM468.7 273.1h0.7v0.7h-0.7zM465.6 264.1h0.7v0.7h-0.7zM468.4 265.9h0.7v0.7h-0.7zM466.6 262.8h0.7v0.7h-0.7zM472.2 263.5h0.7v0.7h-0.7zM461.0 273.7h0.7v0.7h-0.7zM461.2 267.0h0.7v0.7h-0.7zM480.5 263.8h0.7v0.7h-0.7zM475.3 266.1h0.7v0.7h-0.7zM444.6 274.2h0.7v0.7h-0.7zM468.7 267.7h0.7v0.7h-0.7zM481.3 258.4h0.7v0.7h-0.7zM457.2 273.9h0.7v0.7h-0.7zM477.9 269.0h0.7v0.7h-0.7zM454.5 273.5h0.7v0.7h-0.7zM472.0 274.2h0.7v0.7h-0.7zM488.9 264.5h0.7v0.7h-0.7zM472.4 270.1h0.7v0.7h-0.7zM463.8 270.8h0.7v0.7h-0.7zM469.0 268.8h0.7v0.7h-0.7zM472.1 267.4h0.7v0.7h-0.7zM459.5 275.1h0.7v0.7h-0.7zM474.2 264.0h0.7v0.7h-0.7zM470.4 264.6h0.7v0.7h-0.7zM467.5 266.0h0.7v0.7h-0.7zM458.4 272.8h0.7v0.7h-0.7zM455.4 274.9h0.7v0.7h-0.7zM482.1 263.7h0.7v0.7h-0.7zM456.8 273.1h0.7v0.7h-0.7zM460.6 264.9h0.7v0.7h-0.7zM488.0 261.1h0.7v0.7h-0.7zM485.8 266.9h0.7v0.7h-0.7zM472.5 268.8h0.7v0.7h-0.7zM461.7 272.6h0.7v0.7h-0.7zM458.5 272.6h0.7v0.7h-0.7zM455.1 272.2h0.7v0.7h-0.7zM432.5 276.3h0.7v0.7h-0.7zM468.8 268.6h0.7v0.7h-0.7zM468.5 270.3h0.7v0.7h-0.7zM483.2 262.4h0.7v0.7h-0.7zM425.5 282.2h0.7v0.7h-0.7zM467.0 268.8h0.7v0.7h-0.7zM474.1 272.8h0.7v0.7h-0.7zM467.1 265.3h0.7v0.7h-0.7zM472.1 264.7h0.7v0.7h-0.7zM447.0 270.3h0.7v0.7h-0.7zM463.3 264.6h0.7v0.7h-0.7zM460.9 272.2h0.7v0.7h-0.7zM440.7 280.7h0.7v0.7h-0.7zM486.4 262.8h0.7v0.7h-0.7zM463.3 268.9h0.7v0.7h-0.7zM432.2 279.1h0.7v0.7h-0.7zM447.8 273.5h0.7v0.7h-0.7zM451.9 269.6h0.7v0.7h-0.7zM455.5 268.0h0.7v0.7h-0.7zM441.5 280.3h0.7v0.7h-0.7zM453.4 275.9h0.7v0.7h-0.7zM472.4 266.1h0.7v0.7h-0.7zM465.0 269.5h0.7v0.7h-0.7zM470.5 269.3h0.7v0.7h-0.7zM461.4 270.1h0.7v0.7h-0.7zM474.9 263.5h0.7v0.7h-0.7zM444.1 267.2h0.7v0.7h-0.7zM461.4 273.9h0.7v0.7h-0.7zM486.7 261.1h0.7v0.7h-0.7zM465.4 265.9h0.7v0.7h-0.7zM465.5 268.5h0.7v0.7h-0.7zM475.0 269.5h0.7v0.7h-0.7zM469.2 268.4h0.7v0.7h-0.7zM473.8 266.1h0.7v0.7h-0.7zM480.0 270.7h0.7v0.7h-0.7zM475.3 272.8h0.7v0.7h-0.7zM458.1 273.1h0.7v0.7h-0.7zM466.6 266.1h0.7v0.7h-0.7zM467.9 267.9h0.7v0.7h-0.7zM469.7 268.5h0.7v0.7h-0.7zM471.9 266.2h0.7v0.7h-0.7zM465.4 272.6h0.7v0.7h-0.7zM478.8 266.1h0.7v0.7h-0.7zM446.2 277.9h0.7v0.7h-0.7zM470.4 263.8h0.7v0.7h-0.7zM441.3 269.9h0.7v0.7h-0.7zM448.7 280.5h0.7v0.7h-0.7zM459.4 270.3h0.7v0.7h-0.7zM474.0 272.3h0.7v0.7h-0.7zM466.1 268.7h0.7v0.7h-0.7zM477.1 270.9h0.7v0.7h-0.7zM466.8 266.7h0.7v0.7h-0.7zM453.6 275.7h0.7v0.7h-0.7zM453.4 270.4h0.7v0.7h-0.7zM439.6 271.7h0.7v0.7h-0.7zM470.6 265.6h0.7v0.7h-0.7zM472.7 266.6h0.7v0.7h-0.7zM459.4 274.3h0.7v0.7h-0.7zM465.5 267.9h0.7v0.7h-0.7zM480.0 261.5h0.7v0.7h-0.7zM452.0 273.0h0.7v0.7h-0.7zM462.3 263.0h0.7v0.7h-0.7zM460.8 269.5h0.7v0.7h-0.7zM455.0 272.8h0.7v0.7h-0.7zM441.4 277.4h0.7v0.7h-0.7zM477.8 274.2h0.7v0.7h-0.7zM451.0 276.8h0.7v0.7h-0.7zM453.9 266.3h0.7v0.7h-0.7zM463.3 266.7h0.7v0.7h-0.7zM456.9 268.3h0.7v0.7h-0.7zM469.2 267.4h0.7v0.7h-0.7zM469.1 269.0h0.7v0.7h-0.7zM469.1 268.3h0.7v0.7h-0.7zM451.7 275.5h0.7v0.7h-0.7zM460.1 270.8h0.7v0.7h-0.7zM465.9 269.5h0.7v0.7h-0.7zM456.3 269.4h0.7v0.7h-0.7zM453.8 271.2h0.7v0.7h-0.7zM471.2 264.1h0.7v0.7h-0.7zM468.9 274.7h0.7v0.7h-0.7zM448.7 274.0h0.7v0.7h-0.7zM467.4 267.7h0.7v0.7h-0.7zM458.8 273.7h0.7v0.7h-0.7zM463.2 270.6h0.7v0.7h-0.7zM453.2 277.2h0.7v0.7h-0.7zM485.3 262.6h0.7v0.7h-0.7zM468.3 266.3h0.7v0.7h-0.7zM478.1 267.3h0.7v0.7h-0.7zM466.7 268.4h0.7v0.7h-0.7zM453.9 273.2h0.7v0.7h-0.7zM466.4 262.0h0.7v0.7h-0.7zM463.7 262.6h0.7v0.7h-0.7zM481.2 265.2h0.7v0.7h-0.7zM468.9 265.3h0.7v0.7h-0.7zM484.6 265.3h0.7v0.7h-0.7zM465.3 268.5h0.7v0.7h-0.7zM454.8 270.7h0.7v0.7h-0.7zM459.6 266.2h0.7v0.7h-0.7zM474.8 260.6h0.7v0.7h-0.7zM470.0 272.6h0.7v0.7h-0.7zM467.4 269.9h0.7v0.7h-0.7zM458.7 267.1h0.7v0.7h-0.7zM482.1 259.0h0.7v0.7h-0.7zM467.8 264.3h0.7v0.7h-0.7zM470.9 270.0h0.7v0.7h-0.7zM477.1 266.0h0.7v0.7h-0.7zM464.4 268.2h0.7v0.7h-0.7zM464.6 269.1h0.7v0.7h-0.7zM473.1 266.3h0.7v0.7h-0.7zM464.4 278.0h0.7v0.7h-0.7zM451.6 273.4h0.7v0.7h-0.7zM490.2 257.4h0.7v0.7h-0.7zM480.1 265.8h0.7v0.7h-0.7zM476.5 268.6h0.7v0.7h-0.7zM449.2 277.1h0.7v0.7h-0.7zM459.3 265.2h0.7v0.7h-0.7zM468.6 264.4h0.7v0.7h-0.7zM462.7 271.0h0.7v0.7h-0.7zM448.9 276.7h0.7v0.7h-0.7zM472.8 267.5h0.7v0.7h-0.7zM474.2 266.4h0.7v0.7h-0.7zM480.4 263.3h0.7v0.7h-0.7zM467.3 271.2h0.7v0.7h-0.7zM468.1 262.6h0.7v0.7h-0.7zM462.1 274.4h0.7v0.7h-0.7zM457.2 265.8h0.7v0.7h-0.7zM468.2 264.7h0.7v0.7h-0.7zM477.5 263.4h0.7v0.7h-0.7zM436.8 272.4h0.7v0.7h-0.7zM451.8 270.2h0.7v0.7h-0.7zM467.5 268.8h0.7v0.7h-0.7zM473.3 263.8h0.7v0.7h-0.7zM459.2 272.2h0.7v0.7h-0.7zM470.3 270.9h0.7v0.7h-0.7zM448.1 274.6h0.7v0.7h-0.7zM469.3 269.9h0.7v0.7h-0.7zM461.1 271.2h0.7v0.7h-0.7zM444.5 271.1h0.7v0.7h-0.7zM475.7 263.0h0.7v0.7h-0.7zM469.7 276.1h0.7v0.7h-0.7zM445.5 270.8h0.7v0.7h-0.7zM465.8 270.0h0.7v0.7h-0.7zM465.8 269.5h0.7v0.7h-0.7zM450.6 272.0h0.7v0.7h-0.7zM473.7 262.7h0.7v0.7h-0.7zM461.8 269.9h0.7v0.7h-0.7zM473.2 264.3h0.7v0.7h-0.7zM478.8 266.4h0.7v0.7h-0.7zM466.8 267.8h0.7v0.7h-0.7zM455.9 267.2h0.7v0.7h-0.7zM472.3 267.0h0.7v0.7h-0.7zM473.8 269.5h0.7v0.7h-0.7zM454.6 272.5h0.7v0.7h-0.7zM455.0 264.9h0.7v0.7h-0.7zM474.8 266.8h0.7v0.7h-0.7zM466.3 273.4h0.7v0.7h-0.7zM452.9 276.9h0.7v0.7h-0.7zM459.0 272.1h0.7v0.7h-0.7zM464.1 266.3h0.7v0.7h-0.7zM449.4 277.4h0.7v0.7h-0.7zM459.8 272.0h0.7v0.7h-0.7zM459.2 271.6h0.7v0.7h-0.7zM461.9 269.7h0.7v0.7h-0.7zM474.7 272.7h0.7v0.7h-0.7zM452.8 270.4h0.7v0.7h-0.7zM467.9 267.1h0.7v0.7h-0.7zM464.0 272.4h0.7v0.7h-0.7zM463.1 265.8h0.7v0.7h-0.7zM473.7 267.4h0.7v0.7h-0.7zM469.2 268.6h0.7v0.7h-0.7zM445.2 279.3h0.7v0.7h-0.7zM457.1 275.7h0.7v0.7h-0.7zM450.9 273.4h0.7v0.7h-0.7zM466.6 266.5h0.7v0.7h-0.7zM469.4 269.9h0.7v0.7h-0.7zM458.9 273.3h0.7v0.7h-0.7zM465.7 271.4h0.7v0.7h-0.7zM454.9 269.7h0.7v0.7h-0.7zM458.6 269.1h0.7v0.7h-0.7zM460.4 272.5h0.7v0.7h-0.7zM467.3 265.7h0.7v0.7h-0.7zM462.5 271.7h0.7v0.7h-0.7zM455.4 270.5h0.7v0.7h-0.7zM458.3 267.5h0.7v0.7h-0.7zM452.2 269.9h0.7v0.7h-0.7zM470.9 266.1h0.7v0.7h-0.7zM467.6 266.4h0.7v0.7h-0.7zM447.5 272.0h0.7v0.7h-0.7zM473.3 267.2h0.7v0.7h-0.7zM458.7 272.0h0.7v0.7h-0.7zM463.4 267.7h0.7v0.7h-0.7zM457.7 272.3h0.7v0.7h-0.7zM457.9 265.3h0.7v0.7h-0.7zM466.1 264.2h0.7v0.7h-0.7zM443.5 269.9h0.7v0.7h-0.7zM441.8 280.2h0.7v0.7h-0.7zM461.9 273.8h0.7v0.7h-0.7zM467.1 267.4h0.7v0.7h-0.7zM447.7 275.9h0.7v0.7h-0.7zM461.5 269.6h0.7v0.7h-0.7zM450.3 278.2h0.7v0.7h-0.7zM455.0 273.1h0.7v0.7h-0.7zM465.5 275.3h0.7v0.7h-0.7zM482.2 266.1h0.7v0.7h-0.7zM462.3 274.1h0.7v0.7h-0.7zM472.0 261.1h0.7v0.7h-0.7zM464.0 267.0h0.7v0.7h-0.7zM479.7 271.0h0.7v0.7h-0.7zM455.1 270.6h0.7v0.7h-0.7zM455.4 273.9h0.7v0.7h-0.7zM472.5 261.5h0.7v0.7h-0.7zM447.4 276.4h0.7v0.7h-0.7zM466.0 265.9h0.7v0.7h-0.7zM469.7 272.1h0.7v0.7h-0.7zM481.1 266.8h0.7v0.7h-0.7zM458.2 274.2h0.7v0.7h-0.7zM469.3 266.0h0.7v0.7h-0.7zM481.8 269.9h0.7v0.7h-0.7zM488.4 263.2h0.7v0.7h-0.7zM460.5 269.7h0.7v0.7h-0.7zM464.6 266.2h0.7v0.7h-0.7zM450.9 279.7h0.7v0.7h-0.7zM472.9 268.7h0.7v0.7h-0.7zM474.8 264.4h0.7v0.7h-0.7zM460.8 269.7h0.7v0.7h-0.7zM479.5 264.8h0.7v0.7h-0.7zM466.9 267.1h0.7v0.7h-0.7zM469.8 270.1h0.7v0.7h-0.7zM464.2 268.0h0.7v0.7h-0.7zM484.0 260.5h0.7v0.7h-0.7zM457.2 274.1h0.7v0.7h-0.7zM452.5 269.1h0.7v0.7h-0.7zM470.1 271.3h0.7v0.7h-0.7zM491.0 269.3h0.7v0.7h-0.7zM471.3 274.7h0.7v0.7h-0.7zM451.0 272.5h0.7v0.7h-0.7zM449.3 278.8h0.7v0.7h-0.7zM458.3 271.9h0.7v0.7h-0.7zM460.4 271.3h0.7v0.7h-0.7zM461.5 272.8h0.7v0.7h-0.7zM475.4 265.0h0.7v0.7h-0.7zM463.7 268.6h0.7v0.7h-0.7zM457.2 277.5h0.7v0.7h-0.7zM441.3 269.0h0.7v0.7h-0.7zM447.2 278.8h0.7v0.7h-0.7zM471.9 271.3h0.7v0.7h-0.7zM451.6 272.4h0.7v0.7h-0.7zM485.4 258.6h0.7v0.7h-0.7zM440.8 270.6h0.7v0.7h-0.7zM461.8 273.3h0.7v0.7h-0.7zM473.2 266.3h0.7v0.7h-0.7zM467.9 268.1h0.7v0.7h-0.7zM461.1 275.4h0.7v0.7h-0.7zM465.2 268.5h0.7v0.7h-0.7zM464.8 269.9h0.7v0.7h-0.7zM470.4 271.8h0.7v0.7h-0.7zM464.8 271.0h0.7v0.7h-0.7zM460.5 268.4h0.7v0.7h-0.7zM485.0 262.1h0.7v0.7h-0.7zM482.1 259.0h0.7v0.7h-0.7zM482.2 260.3h0.7v0.7h-0.7zM463.8 269.9h0.7v0.7h-0.7zM464.6 269.3h0.7v0.7h-0.7zM457.4 274.4h0.7v0.7h-0.7zM460.2 266.6h0.7v0.7h-0.7zM474.0 268.6h0.7v0.7h-0.7zM456.0 266.9h0.7v0.7h-0.7zM475.4 266.8h0.7v0.7h-0.7zM461.9 267.6h0.7v0.7h-0.7zM453.3 277.7h0.7v0.7h-0.7zM468.2 265.6h0.7v0.7h-0.7zM471.3 268.6h0.7v0.7h-0.7zM464.4 262.9h0.7v0.7h-0.7zM470.7 270.2h0.7v0.7h-0.7zM453.1 274.5h0.7v0.7h-0.7zM462.2 270.8h0.7v0.7h-0.7zM453.9 275.2h0.7v0.7h-0.7zM464.4 269.1h0.7v0.7h-0.7zM466.6 264.9h0.7v0.7h-0.7zM471.0 274.0h0.7v0.7h-0.7zM471.4 267.4h0.7v0.7h-0.7zM454.9 272.8h0.7v0.7h-0.7zM463.6 268.5h0.7v0.7h-0.7zM458.7 270.6h0.7v0.7h-0.7zM471.5 267.7h0.7v0.7h-0.7zM468.6 269.2h0.7v0.7h-0.7zM439.9 285.2h0.7v0.7h-0.7zM472.1 266.8h0.7v0.7h-0.7zM465.4 272.8h0.7v0.7h-0.7zM471.9 273.1h0.7v0.7h-0.7zM448.7 274.3h0.7v0.7h-0.7zM457.1 272.4h0.7v0.7h-0.7zM468.5 269.8h0.7v0.7h-0.7zM454.8 274.7h0.7v0.7h-0.7zM475.3 267.0h0.7v0.7h-0.7zM467.2 274.3h0.7v0.7h-0.7zM474.3 264.9h0.7v0.7h-0.7zM477.6 267.5h0.7v0.7h-0.7zM453.6 270.1h0.7v0.7h-0.7zM443.7 272.2h0.7v0.7h-0.7zM465.5 272.6h0.7v0.7h-0.7zM463.3 268.1h0.7v0.7h-0.7zM460.6 268.1h0.7v0.7h-0.7zM461.4 276.9h0.7v0.7h-0.7zM464.4 265.3h0.7v0.7h-0.7zM462.8 267.3h0.7v0.7h-0.7zM451.8 269.7h0.7v0.7h-0.7zM483.1 260.9h0.7v0.7h-0.7zM455.6 271.3h0.7v0.7h-0.7zM478.3 273.7h0.7v0.7h-0.7zM471.3 269.2h0.7v0.7h-0.7zM460.4 269.9h0.7v0.7h-0.7zM478.7 262.9h0.7v0.7h-0.7zM470.6 264.2h0.7v0.7h-0.7zM463.0 269.2h0.7v0.7h-0.7zM472.1 260.4h0.7v0.7h-0.7zM447.6 274.1h0.7v0.7h-0.7zM466.4 271.8h0.7v0.7h-0.7zM449.7 277.2h0.7v0.7h-0.7zM470.5 267.0h0.7v0.7h-0.7zM478.9 263.3h0.7v0.7h-0.7zM477.5 270.8h0.7v0.7h-0.7zM463.3 270.5h0.7v0.7h-0.7zM459.7 271.5h0.7v0.7h-0.7zM469.2 266.4h0.7v0.7h-0.7zM464.4 270.7h0.7v0.7h-0.7zM450.8 273.5h0.7v0.7h-0.7zM467.5 274.4h0.7v0.7h-0.7zM469.4 266.9h0.7v0.7h-0.7zM463.9 271.9h0.7v0.7h-0.7zM454.0 274.1h0.7v0.7h-0.7zM456.4 275.4h0.7v0.7h-0.7zM475.2 263.5h0.7v0.7h-0.7zM474.0 269.7h0.7v0.7h-0.7zM450.9 272.0h0.7v0.7h-0.7zM464.4 273.0h0.7v0.7h-0.7zM458.2 275.5h0.7v0.7h-0.7zM475.7 265.8h0.7v0.7h-0.7zM461.6 271.1h0.7v0.7h-0.7zM469.7 270.0h0.7v0.7h-0.7zM448.5 271.8h0.7v0.7h-0.7zM449.3 278.0h0.7v0.7h-0.7zM474.1 266.2h0.7v0.7h-0.7zM470.5 263.7h0.7v0.7h-0.7zM465.0 271.2h0.7v0.7h-0.7zM447.3 274.4h0.7v0.7h-0.7zM452.7 276.3h0.7v0.7h-0.7zM462.9 268.5h0.7v0.7h-0.7zM454.0 276.1h0.7v0.7h-0.7zM465.3 267.1h0.7v0.7h-0.7zM457.4 268.4h0.7v0.7h-0.7zM476.7 264.4h0.7v0.7h-0.7zM483.0 262.9h0.7v0.7h-0.7zM454.1 271.4h0.7v0.7h-0.7zM463.7 272.4h0.7v0.7h-0.7zM492.6 268.5h0.7v0.7h-0.7zM470.2 262.7h0.7v0.7h-0.7zM482.9 271.2h0.7v0.7h-0.7zM448.3 273.1h0.7v0.7h-0.7zM471.0 275.7h0.7v0.7h-0.7zM475.1 267.2h0.7v0.7h-0.7zM440.7 279.9h0.7v0.7h-0.7zM450.4 271.2h0.7v0.7h-0.7zM449.4 275.7h0.7v0.7h-0.7zM486.2 264.3h0.7v0.7h-0.7zM473.6 264.4h0.7v0.7h-0.7zM451.4 274.3h0.7v0.7h-0.7zM445.0 271.6h0.7v0.7h-0.7zM464.4 265.7h0.7v0.7h-0.7zM471.9 275.9h0.7v0.7h-0.7zM475.0 271.7h0.7v0.7h-0.7zM455.3 271.2h0.7v0.7h-0.7zM464.4 271.4h0.7v0.7h-0.7zM451.2 270.5h0.7v0.7h-0.7zM476.2 268.6h0.7v0.7h-0.7zM485.3 269.8h0.7v0.7h-0.7zM468.3 265.9h0.7v0.7h-0.7zM456.2 268.2h0.7v0.7h-0.7zM475.0 270.3h0.7v0.7h-0.7zM480.1 263.3h0.7v0.7h-0.7zM477.6 263.7h0.7v0.7h-0.7zM464.2 267.4h0.7v0.7h-0.7zM469.5 268.7h0.7v0.7h-0.7zM463.1 261.4h0.7v0.7h-0.7zM470.0 271.5h0.7v0.7h-0.7zM473.5 262.3h0.7v0.7h-0.7zM443.2 280.3h0.7v0.7h-0.7zM464.1 268.1h0.7v0.7h-0.7zM451.8 270.2h0.7v0.7h-0.7zM451.2 270.3h0.7v0.7h-0.7zM467.4 262.0h0.7v0.7h-0.7zM484.1 268.7h0.7v0.7h-0.7zM445.1 275.5h0.7v0.7h-0.7zM467.0 272.1h0.7v0.7h-0.7zM431.0 283.5h0.7v0.7h-0.7zM479.8 262.9h0.7v0.7h-0.7zM460.5 274.0h0.7v0.7h-0.7zM469.6 274.6h0.7v0.7h-0.7zM449.7 268.6h0.7v0.7h-0.7zM462.1 270.3h0.7v0.7h-0.7zM459.1 273.2h0.7v0.7h-0.7zM457.2 273.5h0.7v0.7h-0.7zM453.0 278.7h0.7v0.7h-0.7zM473.8 267.5h0.7v0.7h-0.7zM454.8 270.7h0.7v0.7h-0.7zM452.3 267.3h0.7v0.7h-0.7zM454.4 276.6h0.7v0.7h-0.7zM461.1 274.0h0.7v0.7h-0.7zM465.3 267.3h0.7v0.7h-0.7zM450.9 271.7h0.7v0.7h-0.7zM463.7 266.7h0.7v0.7h-0.7zM455.2 267.8h0.7v0.7h-0.7zM477.9 259.8h0.7v0.7h-0.7zM468.1 263.8h0.7v0.7h-0.7zM461.6 277.0h0.7v0.7h-0.7zM456.0 273.3h0.7v0.7h-0.7zM453.4 279.2h0.7v0.7h-0.7zM479.6 270.9h0.7v0.7h-0.7zM454.0 266.2h0.7v0.7h-0.7zM448.6 267.9h0.7v0.7h-0.7zM477.0 266.8h0.7v0.7h-0.7zM460.7 267.2h0.7v0.7h-0.7zM468.3 267.1h0.7v0.7h-0.7zM458.2 272.0h0.7v0.7h-0.7zM450.8 267.4h0.7v0.7h-0.7zM477.3 272.5h0.7v0.7h-0.7zM442.8 277.3h0.7v0.7h-0.7zM446.3 272.0h0.7v0.7h-0.7zM460.4 274.0h0.7v0.7h-0.7zM446.1 280.0h0.7v0.7h-0.7zM465.2 275.4h0.7v0.7h-0.7zM452.0 264.3h0.7v0.7h-0.7zM471.2 263.3h0.7v0.7h-0.7zM491.6 263.1h0.7v0.7h-0.7zM474.2 262.5h0.7v0.7h-0.7zM462.5 270.6h0.7v0.7h-0.7zM441.8 270.2h0.7v0.7h-0.7zM466.1 270.8h0.7v0.7h-0.7zM460.2 278.1h0.7v0.7h-0.7zM477.8 258.1h0.7v0.7h-0.7zM455.6 267.2h0.7v0.7h-0.7zM450.8 271.1h0.7v0.7h-0.7zM442.0 276.8h0.7v0.7h-0.7zM479.1 270.4h0.7v0.7h-0.7zM444.9 275.7h0.7v0.7h-0.7zM468.8 266.3h0.7v0.7h-0.7zM483.9 266.4h0.7v0.7h-0.7zM478.3 265.8h0.7v0.7h-0.7zM471.5 270.3h0.7v0.7h-0.7zM450.7 266.5h0.7v0.7h-0.7zM463.1 265.7h0.7v0.7h-0.7zM473.1 262.7h0.7v0.7h-0.7zM467.8 263.3h0.7v0.7h-0.7zM486.1 264.2h0.7v0.7h-0.7zM450.1 273.2h0.7v0.7h-0.7zM462.5 260.2h0.7v0.7h-0.7zM451.2 274.2h0.7v0.7h-0.7zM453.6 270.8h0.7v0.7h-0.7zM481.1 269.3h0.7v0.7h-0.7zM465.9 270.5h0.7v0.7h-0.7zM482.0 265.8h0.7v0.7h-0.7zM446.9 274.9h0.7v0.7h-0.7zM448.7 270.5h0.7v0.7h-0.7zM464.0 269.1h0.7v0.7h-0.7zM463.2 272.5h0.7v0.7h-0.7zM461.0 271.1h0.7v0.7h-0.7zM471.2 265.4h0.7v0.7h-0.7zM460.3 269.2h0.7v0.7h-0.7zM449.8 270.1h0.7v0.7h-0.7zM468.7 268.4h0.7v0.7h-0.7zM447.8 276.6h0.7v0.7h-0.7zM472.7 270.5h0.7v0.7h-0.7zM477.5 266.1h0.7v0.7h-0.7zM469.9 267.0h0.7v0.7h-0.7zM451.9 272.4h0.7v0.7h-0.7zM468.8 269.0h0.7v0.7h-0.7zM455.7 268.9h0.7v0.7h-0.7zM456.2 269.9h0.7v0.7h-0.7zM460.6 272.3h0.7v0.7h-0.7zM459.9 262.0h0.7v0.7h-0.7zM471.2 265.5h0.7v0.7h-0.7zM487.2 270.0h0.7v0.7h-0.7zM474.5 265.6h0.7v0.7h-0.7zM461.2 264.6h0.7v0.7h-0.7zM479.3 263.3h0.7v0.7h-0.7zM475.2 267.7h0.7v0.7h-0.7zM485.0 264.3h0.7v0.7h-0.7zM463.4 267.6h0.7v0.7h-0.7zM445.3 276.3h0.7v0.7h-0.7zM456.6 275.2h0.7v0.7h-0.7zM477.4 266.7h0.7v0.7h-0.7zM489.6 263.7h0.7v0.7h-0.7zM472.2 264.3h0.7v0.7h-0.7zM471.3 267.1h0.7v0.7h-0.7zM479.8 264.8h0.7v0.7h-0.7zM440.0 279.5h0.7v0.7h-0.7zM475.3 261.6h0.7v0.7h-0.7zM463.7 271.0h0.7v0.7h-0.7zM471.7 263.6h0.7v0.7h-0.7zM454.2 270.2h0.7v0.7h-0.7zM457.7 268.8h0.7v0.7h-0.7zM464.6 263.9h0.7v0.7h-0.7zM467.2 264.8h0.7v0.7h-0.7zM457.0 268.8h0.7v0.7h-0.7zM472.7 267.6h0.7v0.7h-0.7zM458.0 272.4h0.7v0.7h-0.7zM452.5 273.4h0.7v0.7h-0.7zM465.7 269.1h0.7v0.7h-0.7zM449.6 274.7h0.7v0.7h-0.7zM470.3 269.1h0.7v0.7h-0.7zM459.4 274.5h0.7v0.7h-0.7zM485.1 268.1h0.7v0.7h-0.7zM468.5 274.6h0.7v0.7h-0.7zM453.5 265.6h0.7v0.7h-0.7zM453.4 269.7h0.7v0.7h-0.7zM456.6 270.9h0.7v0.7h-0.7zM466.8 267.4h0.7v0.7h-0.7zM452.0 271.5h0.7v0.7h-0.7zM468.0 264.5h0.7v0.7h-0.7zM447.1 272.3h0.7v0.7h-0.7zM463.0 282.3h0.7v0.7h-0.7zM466.1 266.5h0.7v0.7h-0.7zM459.3 268.2h0.7v0.7h-0.7zM474.0 274.9h0.7v0.7h-0.7zM468.1 266.1h0.7v0.7h-0.7zM468.6 278.2h0.7v0.7h-0.7zM453.1 270.0h0.7v0.7h-0.7zM457.7 269.5h0.7v0.7h-0.7zM436.5 273.0h0.7v0.7h-0.7zM461.1 273.1h0.7v0.7h-0.7zM451.3 268.6h0.7v0.7h-0.7zM458.6 265.7h0.7v0.7h-0.7zM442.3 275.5h0.7v0.7h-0.7zM467.0 266.8h0.7v0.7h-0.7zM468.9 270.0h0.7v0.7h-0.7zM472.1 266.2h0.7v0.7h-0.7zM468.8 265.9h0.7v0.7h-0.7zM466.6 271.9h0.7v0.7h-0.7zM483.2 265.7h0.7v0.7h-0.7zM457.8 269.0h0.7v0.7h-0.7zM451.5 275.8h0.7v0.7h-0.7zM476.6 263.0h0.7v0.7h-0.7zM458.5 270.3h0.7v0.7h-0.7zM446.0 269.7h0.7v0.7h-0.7zM468.8 265.4h0.7v0.7h-0.7zM470.4 269.0h0.7v0.7h-0.7zM478.4 262.8h0.7v0.7h-0.7zM479.0 263.5h0.7v0.7h-0.7zM465.2 273.9h0.7v0.7h-0.7zM457.0 266.9h0.7v0.7h-0.7zM471.0 266.2h0.7v0.7h-0.7zM447.5 278.9h0.7v0.7h-0.7zM456.8 274.3h0.7v0.7h-0.7zM462.1 266.9h0.7v0.7h-0.7zM463.5 264.2h0.7v0.7h-0.7zM475.1 262.5h0.7v0.7h-0.7zM466.6 277.9h0.7v0.7h-0.7zM461.0 270.2h0.7v0.7h-0.7zM450.3 279.1h0.7v0.7h-0.7zM466.5 269.5h0.7v0.7h-0.7zM447.1 272.5h0.7v0.7h-0.7zM461.5 268.4h0.7v0.7h-0.7zM454.1 263.7h0.7v0.7h-0.7zM453.6 280.4h0.7v0.7h-0.7zM468.4 271.3h0.7v0.7h-0.7zM451.3 277.7h0.7v0.7h-0.7zM457.6 269.8h0.7v0.7h-0.7zM465.4 268.4h0.7v0.7h-0.7zM469.7 263.7h0.7v0.7h-0.7zM463.6 264.9h0.7v0.7h-0.7zM488.2 256.7h0.7v0.7h-0.7zM480.1 269.5h0.7v0.7h-0.7zM460.9 269.6h0.7v0.7h-0.7zM462.5 271.6h0.7v0.7h-0.7zM470.4 269.3h0.7v0.7h-0.7zM472.5 268.3h0.7v0.7h-0.7zM454.5 274.3h0.7v0.7h-0.7zM456.1 267.5h0.7v0.7h-0.7zM467.4 267.6h0.7v0.7h-0.7zM435.4 280.3h0.7v0.7h-0.7zM464.1 271.0h0.7v0.7h-0.7zM449.1 272.6h0.7v0.7h-0.7zM456.6 271.1h0.7v0.7h-0.7zM475.1 262.7h0.7v0.7h-0.7zM458.9 269.3h0.7v0.7h-0.7zM465.8 262.8h0.7v0.7h-0.7zM470.2 265.3h0.7v0.7h-0.7zM480.3 269.4h0.7v0.7h-0.7zM459.4 268.2h0.7v0.7h-0.7zM458.0 268.3h0.7v0.7h-0.7zM476.1 273.4h0.7v0.7h-0.7zM448.9 270.4h0.7v0.7h-0.7zM465.3 269.8h0.7v0.7h-0.7zM467.1 263.6h0.7v0.7h-0.7zM472.1 265.8h0.7v0.7h-0.7zM470.2 266.8h0.7v0.7h-0.7zM448.9 276.9h0.7v0.7h-0.7zM460.6 268.0h0.7v0.7h-0.7zM448.0 272.2h0.7v0.7h-0.7zM478.2 270.0h0.7v0.7h-0.7zM470.8 265.3h0.7v0.7h-0.7zM465.5 269.8h0.7v0.7h-0.7zM456.6 270.0h0.7v0.7h-0.7zM465.1 265.4h0.7v0.7h-0.7zM459.6 266.3h0.7v0.7h-0.7zM456.0 269.6h0.7v0.7h-0.7zM468.4 270.2h0.7v0.7h-0.7zM455.9 272.0h0.7v0.7h-0.7zM477.7 257.2h0.7v0.7h-0.7zM460.6 264.6h0.7v0.7h-0.7zM477.7 267.4h0.7v0.7h-0.7zM469.4 269.1h0.7v0.7h-0.7zM446.5 278.7h0.7v0.7h-0.7zM460.3 269.7h0.7v0.7h-0.7zM447.2 274.2h0.7v0.7h-0.7zM443.6 269.0h0.7v0.7h-0.7zM489.5 261.3h0.7v0.7h-0.7zM490.3 267.6h0.7v0.7h-0.7zM476.0 258.4h0.7v0.7h-0.7zM482.2 264.6h0.7v0.7h-0.7zM459.3 278.7h0.7v0.7h-0.7zM474.1 269.8h0.7v0.7h-0.7zM451.4 271.6h0.7v0.7h-0.7zM470.8 267.1h0.7v0.7h-0.7zM442.2 276.0h0.7v0.7h-0.7zM462.7 268.5h0.7v0.7h-0.7zM466.7 266.6h0.7v0.7h-0.7zM477.0 259.2h0.7v0.7h-0.7zM456.1 273.7h0.7v0.7h-0.7zM476.1 272.1h0.7v0.7h-0.7zM473.9 262.0h0.7v0.7h-0.7zM473.2 265.4h0.7v0.7h-0.7zM480.2 268.6h0.7v0.7h-0.7zM453.7 271.1h0.7v0.7h-0.7zM464.5 264.6h0.7v0.7h-0.7zM446.3 272.7h0.7v0.7h-0.7zM473.2 272.2h0.7v0.7h-0.7zM469.1 268.7h0.7v0.7h-0.7zM460.4 275.5h0.7v0.7h-0.7zM448.9 275.6h0.7v0.7h-0.7zM477.0 271.1h0.7v0.7h-0.7zM453.6 268.5h0.7v0.7h-0.7zM460.3 273.4h0.7v0.7h-0.7zM468.8 267.9h0.7v0.7h-0.7zM473.8 266.5h0.7v0.7h-0.7zM463.3 276.1h0.7v0.7h-0.7zM459.9 271.7h0.7v0.7h-0.7zM456.2 273.4h0.7v0.7h-0.7zM457.7 273.8h0.7v0.7h-0.7zM461.1 270.0h0.7v0.7h-0.7zM490.1 264.7h0.7v0.7h-0.7zM474.0 265.2h0.7v0.7h-0.7zM460.9 273.3h0.7v0.7h-0.7zM473.6 268.3h0.7v0.7h-0.7zM474.1 258.3h0.7v0.7h-0.7zM465.8 273.2h0.7v0.7h-0.7zM472.1 271.6h0.7v0.7h-0.7zM453.8 274.2h0.7v0.7h-0.7zM453.3 266.3h0.7v0.7h-0.7zM483.9 266.6h0.7v0.7h-0.7zM480.3 262.3h0.7v0.7h-0.7zM462.2 267.2h0.7v0.7h-0.7zM477.1 263.6h0.7v0.7h-0.7zM456.9 269.9h0.7v0.7h-0.7zM457.7 268.7h0.7v0.7h-0.7zM483.0 259.8h0.7v0.7h-0.7zM452.6 267.3h0.7v0.7h-0.7zM475.8 262.7h0.7v0.7h-0.7zM473.5 272.2h0.7v0.7h-0.7zM470.1 274.7h0.7v0.7h-0.7zM459.6 280.1h0.7v0.7h-0.7zM472.1 261.6h0.7v0.7h-0.7zM470.3 266.2h0.7v0.7h-0.7zM478.9 260.3h0.7v0.7h-0.7zM472.9 261.1h0.7v0.7h-0.7zM468.4 261.6h0.7v0.7h-0.7zM436.6 278.6h0.7v0.7h-0.7zM451.3 277.4h0.7v0.7h-0.7zM464.2 266.9h0.7v0.7h-0.7zM477.3 272.8h0.7v0.7h-0.7zM458.3 268.3h0.7v0.7h-0.7zM463.2 265.1h0.7v0.7h-0.7zM458.3 266.9h0.7v0.7h-0.7zM479.7 260.7h0.7v0.7h-0.7zM479.9 269.1h0.7v0.7h-0.7zM460.1 270.1h0.7v0.7h-0.7zM454.5 278.0h0.7v0.7h-0.7zM457.7 271.9h0.7v0.7h-0.7zM458.6 270.9h0.7v0.7h-0.7zM470.9 269.3h0.7v0.7h-0.7zM476.0 266.1h0.7v0.7h-0.7zM468.6 262.0h0.7v0.7h-0.7zM457.6 264.0h0.7v0.7h-0.7zM473.7 266.6h0.7v0.7h-0.7zM448.6 271.2h0.7v0.7h-0.7zM469.4 273.4h0.7v0.7h-0.7zM458.1 272.4h0.7v0.7h-0.7zM452.1 281.8h0.7v0.7h-0.7zM451.3 275.9h0.7v0.7h-0.7zM461.4 267.0h0.7v0.7h-0.7zM479.5 272.7h0.7v0.7h-0.7zM474.8 266.6h0.7v0.7h-0.7zM474.6 264.0h0.7v0.7h-0.7zM458.2 266.5h0.7v0.7h-0.7zM458.5 269.7h0.7v0.7h-0.7zM465.0 266.1h0.7v0.7h-0.7zM455.3 261.6h0.7v0.7h-0.7zM481.9 267.8h0.7v0.7h-0.7zM469.6 268.4h0.7v0.7h-0.7zM448.2 268.8h0.7v0.7h-0.7zM458.9 268.7h0.7v0.7h-0.7zM467.4 266.0h0.7v0.7h-0.7zM437.8 279.3h0.7v0.7h-0.7zM457.7 272.8h0.7v0.7h-0.7zM462.5 272.4h0.7v0.7h-0.7zM470.6 265.4h0.7v0.7h-0.7zM466.6 268.8h0.7v0.7h-0.7zM462.7 264.6h0.7v0.7h-0.7zM456.2 271.4h0.7v0.7h-0.7zM458.1 262.9h0.7v0.7h-0.7zM472.3 267.0h0.7v0.7h-0.7zM459.6 267.0h0.7v0.7h-0.7zM455.0 271.8h0.7v0.7h-0.7zM480.1 269.4h0.7v0.7h-0.7zM463.9 269.7h0.7v0.7h-0.7zM466.7 271.6h0.7v0.7h-0.7zM476.3 269.2h0.7v0.7h-0.7zM464.3 273.2h0.7v0.7h-0.7zM441.0 271.5h0.7v0.7h-0.7zM469.5 270.9h0.7v0.7h-0.7zM455.9 275.2h0.7v0.7h-0.7zM460.9 269.6h0.7v0.7h-0.7zM462.3 268.0h0.7v0.7h-0.7zM474.7 264.7h0.7v0.7h-0.7zM456.5 274.3h0.7v0.7h-0.7zM450.9 272.8h0.7v0.7h-0.7zM454.5 271.4h0.7v0.7h-0.7zM445.9 272.6h0.7v0.7h-0.7zM445.2 275.4h0.7v0.7h-0.7zM464.4 265.3h0.7v0.7h-0.7zM446.7 270.8h0.7v0.7h-0.7zM455.0 277.4h0.7v0.7h-0.7zM471.1 264.5h0.7v0.7h-0.7zM472.3 268.1h0.7v0.7h-0.7zM448.4 267.3h0.7v0.7h-0.7zM454.1 267.0h0.7v0.7h-0.7zM454.3 269.7h0.7v0.7h-0.7zM465.2 261.9h0.7v0.7h-0.7zM484.6 261.6h0.7v0.7h-0.7zM451.3 269.6h0.7v0.7h-0.7zM453.3 276.5h0.7v0.7h-0.7zM451.0 263.4h0.7v0.7h-0.7zM455.1 273.7h0.7v0.7h-0.7zM450.5 272.7h0.7v0.7h-0.7zM479.1 268.3h0.7v0.7h-0.7zM451.1 275.8h0.7v0.7h-0.7zM463.1 268.1h0.7v0.7h-0.7zM484.8 260.6h0.7v0.7h-0.7zM470.7 265.7h0.7v0.7h-0.7zM453.9 266.5h0.7v0.7h-0.7zM469.1 268.8h0.7v0.7h-0.7zM481.5 261.1h0.7v0.7h-0.7zM477.4 263.6h0.7v0.7h-0.7zM449.3 274.3h0.7v0.7h-0.7zM473.0 265.7h0.7v0.7h-0.7zM478.7 271.8h0.7v0.7h-0.7zM481.1 265.4h0.7v0.7h-0.7zM455.9 278.0h0.7v0.7h-0.7zM466.5 267.0h0.7v0.7h-0.7zM451.2 274.8h0.7v0.7h-0.7zM484.5 265.7h0.7v0.7h-0.7zM453.4 273.0h0.7v0.7h-0.7zM459.8 272.1h0.7v0.7h-0.7zM481.8 257.8h0.7v0.7h-0.7zM466.4 267.1h0.7v0.7h-0.7zM466.5 267.2h0.7v0.7h-0.7zM454.3 277.3h0.7v0.7h-0.7zM459.7 268.8h0.7v0.7h-0.7zM476.4 268.8h0.7v0.7h-0.7zM474.4 263.7h0.7v0.7h-0.7zM460.9 272.8h0.7v0.7h-0.7zM455.3 267.6h0.7v0.7h-0.7zM452.0 270.1h0.7v0.7h-0.7zM446.7 271.6h0.7v0.7h-0.7zM458.6 274.1h0.7v0.7h-0.7zM451.5 271.9h0.7v0.7h-0.7zM457.4 267.8h0.7v0.7h-0.7zM450.8 272.5h0.7v0.7h-0.7zM470.5 267.4h0.7v0.7h-0.7zM449.1 277.5h0.7v0.7h-0.7zM464.0 268.8h0.7v0.7h-0.7zM446.9 272.4h0.7v0.7h-0.7zM484.1 264.7h0.7v0.7h-0.7zM464.5 276.9h0.7v0.7h-0.7zM476.5 264.6h0.7v0.7h-0.7zM452.2 268.8h0.7v0.7h-0.7zM461.0 267.5h0.7v0.7h-0.7zM469.5 264.5h0.7v0.7h-0.7zM473.5 261.9h0.7v0.7h-0.7zM446.4 278.5h0.7v0.7h-0.7zM452.8 273.2h0.7v0.7h-0.7zM470.2 268.1h0.7v0.7h-0.7zM477.5 268.1h0.7v0.7h-0.7zM463.8 269.3h0.7v0.7h-0.7zM478.6 265.2h0.7v0.7h-0.7zM474.5 269.2h0.7v0.7h-0.7zM457.3 273.2h0.7v0.7h-0.7zM494.7 257.1h0.7v0.7h-0.7zM471.5 259.4h0.7v0.7h-0.7zM460.2 268.6h0.7v0.7h-0.7zM469.5 268.4h0.7v0.7h-0.7zM447.8 269.1h0.7v0.7h-0.7zM461.8 267.3h0.7v0.7h-0.7zM461.1 270.6h0.7v0.7h-0.7zM464.8 274.5h0.7v0.7h-0.7zM467.5 269.7h0.7v0.7h-0.7zM456.1 276.7h0.7v0.7h-0.7zM476.3 266.5h0.7v0.7h-0.7zM462.1 271.4h0.7v0.7h-0.7zM477.2 269.4h0.7v0.7h-0.7zM457.5 274.4h0.7v0.7h-0.7zM462.9 266.9h0.7v0.7h-0.7zM460.9 273.1h0.7v0.7h-0.7zM483.7 262.5h0.7v0.7h-0.7zM458.1 271.3h0.7v0.7h-0.7zM457.7 266.0h0.7v0.7h-0.7zM476.4 262.1h0.7v0.7h-0.7zM460.0 270.6h0.7v0.7h-0.7zM462.0 272.7h0.7v0.7h-0.7zM450.4 268.0h0.7v0.7h-0.7zM466.5 268.2h0.7v0.7h-0.7zM451.6 275.5h0.7v0.7h-0.7zM464.7 262.8h0.7v0.7h-0.7zM466.7 270.5h0.7v0.7h-0.7zM470.8 264.6h0.7v0.7h-0.7zM461.4 269.6h0.7v0.7h-0.7zM468.5 265.1h0.7v0.7h-0.7zM462.0 268.4h0.7v0.7h-0.7zM461.3 267.0h0.7v0.7h-0.7zM468.6 271.6h0.7v0.7h-0.7zM478.5 264.9h0.7v0.7h-0.7zM467.6 268.4h0.7v0.7h-0.7zM466.7 264.4h0.7v0.7h-0.7zM446.1 279.7h0.7v0.7h-0.7zM491.6 258.9h0.7v0.7h-0.7zM474.0 267.6h0.7v0.7h-0.7zM477.2 261.6h0.7v0.7h-0.7zM467.7 276.1h0.7v0.7h-0.7zM487.3 258.6h0.7v0.7h-0.7zM464.0 268.1h0.7v0.7h-0.7zM486.5 266.3h0.7v0.7h-0.7zM455.7 273.6h0.7v0.7h-0.7zM461.1 265.0h0.7v0.7h-0.7zM459.3 274.0h0.7v0.7h-0.7zM442.3 281.2h0.7v0.7h-0.7zM472.5 270.3h0.7v0.7h-0.7zM442.9 277.4h0.7v0.7h-0.7zM452.6 266.6h0.7v0.7h-0.7zM455.3 272.8h0.7v0.7h-0.7zM466.1 278.8h0.7v0.7h-0.7zM478.0 271.0h0.7v0.7h-0.7zM471.8 268.0h0.7v0.7h-0.7zM467.4 278.2h0.7v0.7h-0.7zM459.0 266.3h0.7v0.7h-0.7zM469.0 267.7h0.7v0.7h-0.7zM463.1 264.6h0.7v0.7h-0.7zM454.9 271.3h0.7v0.7h-0.7zM459.8 271.7h0.7v0.7h-0.7zM480.1 266.3h0.7v0.7h-0.7zM468.3 266.7h0.7v0.7h-0.7zM448.8 274.8h0.7v0.7h-0.7zM463.2 266.9h0.7v0.7h-0.7zM456.0 274.4h0.7v0.7h-0.7zM470.2 267.2h0.7v0.7h-0.7zM471.3 261.4h0.7v0.7h-0.7zM464.1 274.5h0.7v0.7h-0.7zM460.3 271.3h0.7v0.7h-0.7zM461.4 271.4h0.7v0.7h-0.7zM451.3 267.3h0.7v0.7h-0.7zM474.2 268.3h0.7v0.7h-0.7zM473.6 263.1h0.7v0.7h-0.7zM466.2 268.0h0.7v0.7h-0.7zM439.0 270.9h0.7v0.7h-0.7zM470.8 273.8h0.7v0.7h-0.7zM459.8 276.8h0.7v0.7h-0.7zM452.7 274.8h0.7v0.7h-0.7zM458.9 266.3h0.7v0.7h-0.7zM472.6 264.4h0.7v0.7h-0.7zM469.9 271.1h0.7v0.7h-0.7zM455.5 269.0h0.7v0.7h-0.7zM462.4 269.4h0.7v0.7h-0.7zM484.3 266.1h0.7v0.7h-0.7zM456.9 271.8h0.7v0.7h-0.7zM461.4 269.6h0.7v0.7h-0.7zM474.8 268.4h0.7v0.7h-0.7zM461.0 273.1h0.7v0.7h-0.7zM475.3 268.3h0.7v0.7h-0.7zM458.9 276.5h0.7v0.7h-0.7zM479.5 261.8h0.7v0.7h-0.7zM474.3 269.4h0.7v0.7h-0.7zM470.3 270.3h0.7v0.7h-0.7zM461.1 269.2h0.7v0.7h-0.7zM501.3 270.1h0.7v0.7h-0.7zM450.8 281.4h0.7v0.7h-0.7zM472.2 267.3h0.7v0.7h-0.7zM475.5 271.4h0.7v0.7h-0.7zM465.8 270.7h0.7v0.7h-0.7zM478.5 261.8h0.7v0.7h-0.7zM448.2 275.6h0.7v0.7h-0.7zM480.5 263.3h0.7v0.7h-0.7zM468.2 266.5h0.7v0.7h-0.7zM463.5 269.0h0.7v0.7h-0.7zM486.2 256.9h0.7v0.7h-0.7zM455.7 266.6h0.7v0.7h-0.7zM469.5 275.8h0.7v0.7h-0.7zM438.2 265.6h0.7v0.7h-0.7zM470.6 267.1h0.7v0.7h-0.7zM462.8 269.9h0.7v0.7h-0.7zM463.4 268.2h0.7v0.7h-0.7zM459.3 271.0h0.7v0.7h-0.7zM457.2 269.6h0.7v0.7h-0.7zM471.9 269.8h0.7v0.7h-0.7zM476.0 270.3h0.7v0.7h-0.7zM469.2 275.0h0.7v0.7h-0.7zM469.9 268.6h0.7v0.7h-0.7zM441.5 279.9h0.7v0.7h-0.7zM468.6 267.6h0.7v0.7h-0.7zM446.0 273.2h0.7v0.7h-0.7zM452.6 272.0h0.7v0.7h-0.7zM466.9 268.2h0.7v0.7h-0.7zM461.9 269.3h0.7v0.7h-0.7zM485.8 259.6h0.7v0.7h-0.7zM469.6 264.4h0.7v0.7h-0.7zM461.4 274.4h0.7v0.7h-0.7zM452.5 272.3h0.7v0.7h-0.7zM452.5 278.0h0.7v0.7h-0.7zM468.4 271.0h0.7v0.7h-0.7zM463.9 273.4h0.7v0.7h-0.7zM450.2 275.3h0.7v0.7h-0.7zM440.9 280.5h0.7v0.7h-0.7zM456.7 269.6h0.7v0.7h-0.7zM478.7 265.1h0.7v0.7h-0.7zM469.6 265.8h0.7v0.7h-0.7zM460.1 274.2h0.7v0.7h-0.7zM456.0 269.4h0.7v0.7h-0.7zM470.0 266.4h0.7v0.7h-0.7zM446.8 273.3h0.7v0.7h-0.7zM481.4 261.7h0.7v0.7h-0.7zM447.8 277.2h0.7v0.7h-0.7zM457.8 268.9h0.7v0.7h-0.7zM487.4 263.4h0.7v0.7h-0.7zM452.1 274.9h0.7v0.7h-0.7zM462.0 280.5h0.7v0.7h-0.7zM467.8 267.0h0.7v0.7h-0.7zM458.4 270.5h0.7v0.7h-0.7zM456.6 274.2h0.7v0.7h-0.7zM484.2 256.4h0.7v0.7h-0.7zM464.2 271.4h0.7v0.7h-0.7zM464.7 273.1h0.7v0.7h-0.7zM475.0 266.7h0.7v0.7h-0.7zM457.9 274.9h0.7v0.7h-0.7zM455.7 269.2h0.7v0.7h-0.7zM461.5 270.8h0.7v0.7h-0.7zM457.4 270.1h0.7v0.7h-0.7zM467.3 272.7h0.7v0.7h-0.7zM455.1 268.3h0.7v0.7h-0.7zM448.6 272.6h0.7v0.7h-0.7zM466.3 270.9h0.7v0.7h-0.7zM457.8 266.2h0.7v0.7h-0.7zM450.8 276.7h0.7v0.7h-0.7zM472.0 270.1h0.7v0.7h-0.7zM474.4 266.7h0.7v0.7h-0.7zM457.3 267.1h0.7v0.7h-0.7zM464.1 268.2h0.7v0.7h-0.7zM450.7 270.6h0.7v0.7h-0.7zM449.8 275.3h0.7v0.7h-0.7zM466.5 273.8h0.7v0.7h-0.7zM464.4 268.3h0.7v0.7h-0.7zM472.4 268.2h0.7v0.7h-0.7zM440.3 275.8h0.7v0.7h-0.7zM447.0 268.9h0.7v0.7h-0.7zM453.0 276.8h0.7v0.7h-0.7zM482.5 262.6h0.7v0.7h-0.7zM470.8 270.5h0.7v0.7h-0.7zM469.2 275.3h0.7v0.7h-0.7zM461.4 267.9h0.7v0.7h-0.7zM447.9 270.4h0.7v0.7h-0.7zM461.0 262.6h0.7v0.7h-0.7zM473.7 260.0h0.7v0.7h-0.7zM448.0 271.5h0.7v0.7h-0.7zM458.2 269.3h0.7v0.7h-0.7zM461.8 276.7h0.7v0.7h-0.7zM459.5 273.2h0.7v0.7h-0.7zM454.2 278.1h0.7v0.7h-0.7zM461.9 270.8h0.7v0.7h-0.7zM449.6 269.9h0.7v0.7h-0.7zM462.2 264.5h0.7v0.7h-0.7zM468.8 268.9h0.7v0.7h-0.7zM430.3 279.4h0.7v0.7h-0.7zM473.0 263.3h0.7v0.7h-0.7zM469.3 274.2h0.7v0.7h-0.7zM462.7 269.2h0.7v0.7h-0.7zM481.7 265.8h0.7v0.7h-0.7zM478.4 261.7h0.7v0.7h-0.7zM462.7 271.7h0.7v0.7h-0.7zM471.0 271.0h0.7v0.7h-0.7zM473.4 265.6h0.7v0.7h-0.7zM459.8 269.2h0.7v0.7h-0.7zM472.7 270.1h0.7v0.7h-0.7zM456.2 273.2h0.7v0.7h-0.7zM459.6 268.3h0.7v0.7h-0.7zM465.8 272.5h0.7v0.7h-0.7zM459.0 267.3h0.7v0.7h-0.7zM486.9 272.2h0.7v0.7h-0.7zM454.1 270.6h0.7v0.7h-0.7zM463.4 269.7h0.7v0.7h-0.7zM460.4 269.6h0.7v0.7h-0.7zM466.2 263.2h0.7v0.7h-0.7zM457.4 276.8h0.7v0.7h-0.7zM461.3 274.3h0.7v0.7h-0.7zM459.8 268.4h0.7v0.7h-0.7zM450.6 274.6h0.7v0.7h-0.7zM463.9 258.3h0.7v0.7h-0.7zM458.7 276.4h0.7v0.7h-0.7zM474.5 268.8h0.7v0.7h-0.7zM454.3 273.2h0.7v0.7h-0.7zM454.4 271.6h0.7v0.7h-0.7zM473.3 271.2h0.7v0.7h-0.7zM446.6 278.3h0.7v0.7h-0.7zM483.0 260.7h0.7v0.7h-0.7zM465.1 272.7h0.7v0.7h-0.7zM464.1 272.7h0.7v0.7h-0.7zM465.5 271.8h0.7v0.7h-0.7zM496.9 265.0h0.7v0.7h-0.7zM461.2 267.3h0.7v0.7h-0.7zM467.3 264.5h0.7v0.7h-0.7zM448.3 271.4h0.7v0.7h-0.7zM465.2 267.4h0.7v0.7h-0.7zM464.9 265.3h0.7v0.7h-0.7zM475.6 267.0h0.7v0.7h-0.7zM461.1 266.7h0.7v0.7h-0.7zM461.7 268.4h0.7v0.7h-0.7zM459.8 265.1h0.7v0.7h-0.7zM471.0 267.7h0.7v0.7h-0.7zM483.3 267.9h0.7v0.7h-0.7zM448.0 270.9h0.7v0.7h-0.7zM469.4 269.1h0.7v0.7h-0.7zM465.4 268.5h0.7v0.7h-0.7zM471.8 271.9h0.7v0.7h-0.7zM449.9 273.1h0.7v0.7h-0.7zM449.5 268.1h0.7v0.7h-0.7zM454.5 275.5h0.7v0.7h-0.7zM481.2 270.6h0.7v0.7h-0.7zM466.4 267.7h0.7v0.7h-0.7zM463.6 271.2h0.7v0.7h-0.7zM458.4 270.6h0.7v0.7h-0.7zM453.8 270.4h0.7v0.7h-0.7zM464.9 269.4h0.7v0.7h-0.7zM470.4 272.4h0.7v0.7h-0.7zM472.4 269.4h0.7v0.7h-0.7zM456.7 275.0h0.7v0.7h-0.7zM487.2 261.6h0.7v0.7h-0.7zM438.1 269.4h0.7v0.7h-0.7zM477.5 268.8h0.7v0.7h-0.7zM464.4 268.6h0.7v0.7h-0.7zM479.2 263.3h0.7v0.7h-0.7zM471.3 266.4h0.7v0.7h-0.7zM473.8 271.5h0.7v0.7h-0.7zM472.8 271.2h0.7v0.7h-0.7zM461.6 272.0h0.7v0.7h-0.7zM473.4 274.2h0.7v0.7h-0.7zM466.9 269.9h0.7v0.7h-0.7zM457.9 272.6h0.7v0.7h-0.7zM445.7 273.4h0.7v0.7h-0.7zM478.3 263.0h0.7v0.7h-0.7zM461.4 272.9h0.7v0.7h-0.7zM455.7 272.9h0.7v0.7h-0.7zM452.2 271.2h0.7v0.7h-0.7zM475.8 261.2h0.7v0.7h-0.7zM441.2 269.4h0.7v0.7h-0.7zM470.3 265.7h0.7v0.7h-0.7zM477.6 259.2h0.7v0.7h-0.7zM465.1 260.6h0.7v0.7h-0.7zM489.4 265.1h0.7v0.7h-0.7zM459.3 268.6h0.7v0.7h-0.7zM461.2 262.1h0.7v0.7h-0.7zM439.6 271.2h0.7v0.7h-0.7zM456.4 266.8h0.7v0.7h-0.7zM476.9 257.2h0.7v0.7h-0.7zM469.2 263.6h0.7v0.7h-0.7zM460.0 267.8h0.7v0.7h-0.7zM466.3 270.4h0.7v0.7h-0.7zM451.6 277.6h0.7v0.7h-0.7zM451.9 266.8h0.7v0.7h-0.7zM462.5 273.0h0.7v0.7h-0.7zM467.5 267.0h0.7v0.7h-0.7zM479.0 260.8h0.7v0.7h-0.7zM456.1 277.9h0.7v0.7h-0.7zM477.0 264.0h0.7v0.7h-0.7zM464.2 267.2h0.7v0.7h-0.7zM466.8 268.2h0.7v0.7h-0.7zM450.5 268.2h0.7v0.7h-0.7zM461.8 267.1h0.7v0.7h-0.7zM457.5 269.5h0.7v0.7h-0.7zM463.8 275.8h0.7v0.7h-0.7zM466.6 266.2h0.7v0.7h-0.7zM467.1 263.7h0.7v0.7h-0.7zM453.4 273.0h0.7v0.7h-0.7zM452.9 268.7h0.7v0.7h-0.7zM482.4 270.8h0.7v0.7h-0.7zM472.9 262.6h0.7v0.7h-0.7zM443.7 271.6h0.7v0.7h-0.7zM448.8 270.3h0.7v0.7h-0.7zM459.1 272.0h0.7v0.7h-0.7zM487.1 259.2h0.7v0.7h-0.7zM459.1 264.6h0.7v0.7h-0.7zM480.8 268.2h0.7v0.7h-0.7zM466.6 265.5h0.7v0.7h-0.7zM462.2 270.9h0.7v0.7h-0.7zM438.6 276.4h0.7v0.7h-0.7zM468.6 264.2h0.7v0.7h-0.7zM476.6 263.7h0.7v0.7h-0.7zM470.4 270.8h0.7v0.7h-0.7zM469.6 263.1h0.7v0.7h-0.7zM467.9 270.6h0.7v0.7h-0.7zM456.9 267.0h0.7v0.7h-0.7zM465.4 271.6h0.7v0.7h-0.7zM480.9 270.1h0.7v0.7h-0.7zM466.8 261.8h0.7v0.7h-0.7zM462.7 268.3h0.7v0.7h-0.7zM480.0 267.7h0.7v0.7h-0.7zM448.4 268.4h0.7v0.7h-0.7zM464.4 265.2h0.7v0.7h-0.7zM442.4 268.8h0.7v0.7h-0.7zM479.0 266.7h0.7v0.7h-0.7zM450.8 272.2h0.7v0.7h-0.7zM456.7 268.1h0.7v0.7h-0.7zM476.6 270.7h0.7v0.7h-0.7zM475.3 264.7h0.7v0.7h-0.7zM476.3 260.3h0.7v0.7h-0.7zM442.2 272.6h0.7v0.7h-0.7zM458.7 273.9h0.7v0.7h-0.7zM451.6 273.1h0.7v0.7h-0.7zM467.3 269.8h0.7v0.7h-0.7zM457.4 269.5h0.7v0.7h-0.7zM453.6 271.7h0.7v0.7h-0.7zM455.4 273.6h0.7v0.7h-0.7zM466.4 268.2h0.7v0.7h-0.7zM465.2 269.4h0.7v0.7h-0.7zM473.9 270.8h0.7v0.7h-0.7zM444.0 279.7h0.7v0.7h-0.7zM468.7 271.4h0.7v0.7h-0.7zM475.4 264.5h0.7v0.7h-0.7zM455.0 275.5h0.7v0.7h-0.7zM483.2 262.0h0.7v0.7h-0.7zM446.1 277.8h0.7v0.7h-0.7zM473.7 266.1h0.7v0.7h-0.7zM452.8 279.4h0.7v0.7h-0.7zM460.4 271.2h0.7v0.7h-0.7zM458.3 276.6h0.7v0.7h-0.7zM468.7 272.8h0.7v0.7h-0.7zM473.9 269.1h0.7v0.7h-0.7zM461.2 268.8h0.7v0.7h-0.7zM456.3 270.2h0.7v0.7h-0.7zM448.9 275.7h0.7v0.7h-0.7zM475.9 266.4h0.7v0.7h-0.7zM432.6 274.9h0.7v0.7h-0.7zM440.9 274.4h0.7v0.7h-0.7zM479.0 260.0h0.7v0.7h-0.7zM457.5 270.9h0.7v0.7h-0.7zM463.3 271.2h0.7v0.7h-0.7zM475.0 268.0h0.7v0.7h-0.7zM458.4 265.0h0.7v0.7h-0.7zM464.1 266.8h0.7v0.7h-0.7zM465.8 269.6h0.7v0.7h-0.7zM454.6 271.9h0.7v0.7h-0.7zM461.5 263.6h0.7v0.7h-0.7zM460.5 273.0h0.7v0.7h-0.7zM441.8 275.3h0.7v0.7h-0.7zM476.6 261.8h0.7v0.7h-0.7zM458.4 265.4h0.7v0.7h-0.7zM481.0 265.6h0.7v0.7h-0.7zM466.0 268.9h0.7v0.7h-0.7zM465.6 272.1h0.7v0.7h-0.7zM464.0 263.4h0.7v0.7h-0.7zM472.2 277.3h0.7v0.7h-0.7zM477.4 266.3h0.7v0.7h-0.7zM465.8 267.2h0.7v0.7h-0.7zM457.5 268.8h0.7v0.7h-0.7zM461.3 269.8h0.7v0.7h-0.7zM461.8 264.9h0.7v0.7h-0.7zM458.1 271.9h0.7v0.7h-0.7zM472.0 269.8h0.7v0.7h-0.7zM457.0 273.7h0.7v0.7h-0.7zM465.2 273.3h0.7v0.7h-0.7zM459.1 276.0h0.7v0.7h-0.7zM462.2 270.4h0.7v0.7h-0.7zM464.7 269.5h0.7v0.7h-0.7zM454.2 274.5h0.7v0.7h-0.7zM460.2 275.0h0.7v0.7h-0.7zM461.3 265.9h0.7v0.7h-0.7zM441.6 271.2h0.7v0.7h-0.7zM472.4 267.1h0.7v0.7h-0.7zM475.7 269.1h0.7v0.7h-0.7zM469.4 263.2h0.7v0.7h-0.7zM464.1 265.4h0.7v0.7h-0.7zM479.0 263.1h0.7v0.7h-0.7zM466.9 266.8h0.7v0.7h-0.7zM469.4 273.7h0.7v0.7h-0.7zM468.9 274.0h0.7v0.7h-0.7zM434.5 274.3h0.7v0.7h-0.7zM450.7 273.8h0.7v0.7h-0.7zM452.8 279.1h0.7v0.7h-0.7zM466.0 270.4h0.7v0.7h-0.7zM490.1 259.1h0.7v0.7h-0.7zM461.4 272.1h0.7v0.7h-0.7zM457.8 272.7h0.7v0.7h-0.7zM448.8 275.0h0.7v0.7h-0.7zM451.0 274.8h0.7v0.7h-0.7zM453.2 276.7h0.7v0.7h-0.7zM456.9 273.1h0.7v0.7h-0.7zM452.6 274.6h0.7v0.7h-0.7zM437.3 264.2h0.7v0.7h-0.7zM455.8 275.4h0.7v0.7h-0.7zM474.1 272.4h0.7v0.7h-0.7zM464.8 264.7h0.7v0.7h-0.7zM464.7 271.2h0.7v0.7h-0.7zM457.4 272.8h0.7v0.7h-0.7zM470.5 264.4h0.7v0.7h-0.7zM481.4 261.0h0.7v0.7h-0.7zM458.9 270.4h0.7v0.7h-0.7zM461.4 266.5h0.7v0.7h-0.7zM479.5 265.0h0.7v0.7h-0.7zM457.2 267.5h0.7v0.7h-0.7zM469.2 268.7h0.7v0.7h-0.7zM457.3 272.4h0.7v0.7h-0.7zM485.0 263.6h0.7v0.7h-0.7zM448.6 275.8h0.7v0.7h-0.7zM481.3 264.0h0.7v0.7h-0.7zM456.5 273.6h0.7v0.7h-0.7zM461.6 273.6h0.7v0.7h-0.7zM468.3 269.0h0.7v0.7h-0.7zM460.2 273.6h0.7v0.7h-0.7zM465.4 266.8h0.7v0.7h-0.7zM467.9 266.1h0.7v0.7h-0.7zM478.4 265.8h0.7v0.7h-0.7zM463.5 272.2h0.7v0.7h-0.7zM456.7 269.8h0.7v0.7h-0.7zM474.2 272.4h0.7v0.7h-0.7zM469.2 260.5h0.7v0.7h-0.7zM463.9 273.2h0.7v0.7h-0.7zM455.2 272.6h0.7v0.7h-0.7zM462.1 274.3h0.7v0.7h-0.7zM474.5 269.5h0.7v0.7h-0.7zM440.2 283.0h0.7v0.7h-0.7zM462.3 270.4h0.7v0.7h-0.7zM449.4 270.9h0.7v0.7h-0.7zM475.1 262.7h0.7v0.7h-0.7zM466.8 271.8h0.7v0.7h-0.7zM462.3 275.8h0.7v0.7h-0.7zM452.4 271.3h0.7v0.7h-0.7zM468.0 262.1h0.7v0.7h-0.7zM458.6 272.1h0.7v0.7h-0.7zM468.8 271.4h0.7v0.7h-0.7zM460.7 272.6h0.7v0.7h-0.7zM478.1 266.7h0.7v0.7h-0.7zM450.7 274.4h0.7v0.7h-0.7zM488.7 260.1h0.7v0.7h-0.7zM456.8 273.7h0.7v0.7h-0.7zM460.8 267.0h0.7v0.7h-0.7zM467.3 273.6h0.7v0.7h-0.7zM468.1 272.7h0.7v0.7h-0.7zM462.9 266.6h0.7v0.7h-0.7zM475.3 266.3h0.7v0.7h-0.7zM477.9 269.1h0.7v0.7h-0.7zM468.5 268.8h0.7v0.7h-0.7zM458.1 261.6h0.7v0.7h-0.7zM461.1 269.0h0.7v0.7h-0.7zM461.0 273.2h0.7v0.7h-0.7zM459.1 267.4h0.7v0.7h-0.7zM471.0 263.3h0.7v0.7h-0.7zM474.1 267.9h0.7v0.7h-0.7zM474.9 272.3h0.7v0.7h-0.7zM480.2 267.1h0.7v0.7h-0.7zM465.8 276.9h0.7v0.7h-0.7zM466.5 269.5h0.7v0.7h-0.7zM460.0 268.5h0.7v0.7h-0.7zM479.2 270.4h0.7v0.7h-0.7zM474.8 260.9h0.7v0.7h-0.7zM470.7 261.9h0.7v0.7h-0.7zM448.5 279.3h0.7v0.7h-0.7zM468.7 275.7h0.7v0.7h-0.7zM481.0 258.9h0.7v0.7h-0.7zM447.3 280.7h0.7v0.7h-0.7zM453.4 271.2h0.7v0.7h-0.7zM471.1 272.0h0.7v0.7h-0.7zM470.8 262.7h0.7v0.7h-0.7zM464.7 269.4h0.7v0.7h-0.7zM479.3 263.1h0.7v0.7h-0.7zM479.1 269.8h0.7v0.7h-0.7zM463.6 268.5h0.7v0.7h-0.7zM480.1 271.6h0.7v0.7h-0.7zM449.3 266.4h0.7v0.7h-0.7zM463.7 271.7h0.7v0.7h-0.7zM458.7 264.8h0.7v0.7h-0.7zM456.3 274.1h0.7v0.7h-0.7zM453.4 276.4h0.7v0.7h-0.7zM466.6 268.2h0.7v0.7h-0.7zM439.3 268.6h0.7v0.7h-0.7zM464.4 271.0h0.7v0.7h-0.7zM473.5 272.7h0.7v0.7h-0.7zM464.2 268.9h0.7v0.7h-0.7zM470.1 273.2h0.7v0.7h-0.7zM462.3 275.4h0.7v0.7h-0.7zM473.1 254.6h0.7v0.7h-0.7zM472.1 274.1h0.7v0.7h-0.7zM466.1 273.7h0.7v0.7h-0.7zM464.9 271.0h0.7v0.7h-0.7zM461.7 270.5h0.7v0.7h-0.7zM447.2 269.6h0.7v0.7h-0.7zM454.5 276.4h0.7v0.7h-0.7zM475.9 267.4h0.7v0.7h-0.7zM471.4 263.2h0.7v0.7h-0.7zM459.0 273.2h0.7v0.7h-0.7zM450.8 266.4h0.7v0.7h-0.7zM442.6 281.1h0.7v0.7h-0.7zM463.2 269.8h0.7v0.7h-0.7zM468.8 273.8h0.7v0.7h-0.7zM448.2 270.1h0.7v0.7h-0.7zM461.2 278.4h0.7v0.7h-0.7zM446.8 268.9h0.7v0.7h-0.7zM463.0 267.4h0.7v0.7h-0.7zM477.0 266.6h0.7v0.7h-0.7zM464.6 275.0h0.7v0.7h-0.7zM441.9 270.0h0.7v0.7h-0.7zM474.7 260.8h0.7v0.7h-0.7zM457.9 269.4h0.7v0.7h-0.7zM484.9 264.7h0.7v0.7h-0.7zM469.0 271.9h0.7v0.7h-0.7zM454.8 276.1h0.7v0.7h-0.7zM465.9 259.7h0.7v0.7h-0.7zM451.0 268.5h0.7v0.7h-0.7zM471.8 268.9h0.7v0.7h-0.7zM479.9 267.8h0.7v0.7h-0.7zM443.6 268.1h0.7v0.7h-0.7zM452.8 272.5h0.7v0.7h-0.7zM441.7 270.5h0.7v0.7h-0.7zM464.1 264.7h0.7v0.7h-0.7zM464.1 269.7h0.7v0.7h-0.7zM445.3 277.1h0.7v0.7h-0.7zM474.7 265.5h0.7v0.7h-0.7zM466.6 269.2h0.7v0.7h-0.7zM467.1 261.8h0.7v0.7h-0.7zM462.2 266.3h0.7v0.7h-0.7zM456.1 265.9h0.7v0.7h-0.7zM458.4 265.9h0.7v0.7h-0.7zM480.2 262.0h0.7v0.7h-0.7zM452.9 275.1h0.7v0.7h-0.7zM476.9 264.4h0.7v0.7h-0.7zM468.9 267.8h0.7v0.7h-0.7zM461.3 270.7h0.7v0.7h-0.7zM471.9 268.0h0.7v0.7h-0.7zM463.4 267.9h0.7v0.7h-0.7zM479.3 270.0h0.7v0.7h-0.7zM453.6 272.8h0.7v0.7h-0.7zM473.5 266.1h0.7v0.7h-0.7zM466.0 275.8h0.7v0.7h-0.7zM466.0 264.4h0.7v0.7h-0.7zM457.5 267.9h0.7v0.7h-0.7zM461.4 270.8h0.7v0.7h-0.7zM466.5 267.5h0.7v0.7h-0.7zM447.8 270.6h0.7v0.7h-0.7zM471.4 267.3h0.7v0.7h-0.7zM462.7 269.0h0.7v0.7h-0.7zM482.2 263.8h0.7v0.7h-0.7zM468.6 266.4h0.7v0.7h-0.7zM471.2 263.4h0.7v0.7h-0.7zM469.2 270.2h0.7v0.7h-0.7zM460.1 269.3h0.7v0.7h-0.7zM472.4 275.6h0.7v0.7h-0.7zM480.0 264.6h0.7v0.7h-0.7zM480.0 260.6h0.7v0.7h-0.7zM467.4 273.3h0.7v0.7h-0.7zM461.3 272.2h0.7v0.7h-0.7zM474.9 265.2h0.7v0.7h-0.7zM472.1 258.1h0.7v0.7h-0.7zM463.3 270.8h0.7v0.7h-0.7zM455.0 268.0h0.7v0.7h-0.7zM461.5 270.5h0.7v0.7h-0.7zM464.0 269.6h0.7v0.7h-0.7zM429.0 277.5h0.7v0.7h-0.7zM470.3 269.2h0.7v0.7h-0.7zM474.1 270.4h0.7v0.7h-0.7zM486.8 262.6h0.7v0.7h-0.7zM507.6 259.8h0.7v0.7h-0.7zM462.6 265.1h0.7v0.7h-0.7zM464.7 273.9h0.7v0.7h-0.7zM484.6 265.7h0.7v0.7h-0.7zM456.0 274.5h0.7v0.7h-0.7zM450.7 267.8h0.7v0.7h-0.7zM481.7 262.1h0.7v0.7h-0.7zM479.7 262.0h0.7v0.7h-0.7zM465.8 264.5h0.7v0.7h-0.7zM475.9 271.8h0.7v0.7h-0.7zM464.1 268.0h0.7v0.7h-0.7zM450.3 267.6h0.7v0.7h-0.7zM477.8 263.4h0.7v0.7h-0.7zM453.3 275.5h0.7v0.7h-0.7zM461.8 271.2h0.7v0.7h-0.7zM451.8 274.3h0.7v0.7h-0.7zM444.9 275.1h0.7v0.7h-0.7zM463.8 271.9h0.7v0.7h-0.7zM452.1 273.0h0.7v0.7h-0.7zM508.4 261.2h0.7v0.7h-0.7zM442.3 269.8h0.7v0.7h-0.7zM476.4 264.5h0.7v0.7h-0.7zM463.0 270.9h0.7v0.7h-0.7zM464.3 272.1h0.7v0.7h-0.7zM452.9 275.0h0.7v0.7h-0.7zM479.2 261.0h0.7v0.7h-0.7zM453.1 269.4h0.7v0.7h-0.7zM482.4 258.5h0.7v0.7h-0.7zM458.5 265.7h0.7v0.7h-0.7zM467.3 271.1h0.7v0.7h-0.7zM475.6 262.3h0.7v0.7h-0.7zM455.2 277.1h0.7v0.7h-0.7zM466.4 269.5h0.7v0.7h-0.7zM440.5 274.4h0.7v0.7h-0.7zM433.1 277.6h0.7v0.7h-0.7zM467.7 270.4h0.7v0.7h-0.7zM463.7 273.3h0.7v0.7h-0.7zM477.0 265.2h0.7v0.7h-0.7zM473.6 272.6h0.7v0.7h-0.7zM485.5 257.6h0.7v0.7h-0.7zM474.2 272.0h0.7v0.7h-0.7zM473.1 262.8h0.7v0.7h-0.7zM467.2 268.5h0.7v0.7h-0.7zM465.7 268.8h0.7v0.7h-0.7zM449.9 272.6h0.7v0.7h-0.7zM468.0 271.4h0.7v0.7h-0.7zM476.9 266.3h0.7v0.7h-0.7zM467.2 266.1h0.7v0.7h-0.7zM463.7 269.7h0.7v0.7h-0.7zM450.0 277.3h0.7v0.7h-0.7zM456.2 278.5h0.7v0.7h-0.7zM480.2 265.0h0.7v0.7h-0.7zM469.4 268.3h0.7v0.7h-0.7zM464.5 261.6h0.7v0.7h-0.7zM461.2 265.6h0.7v0.7h-0.7zM471.1 267.3h0.7v0.7h-0.7zM453.7 274.3h0.7v0.7h-0.7zM477.4 265.5h0.7v0.7h-0.7zM447.8 276.4h0.7v0.7h-0.7zM477.9 267.6h0.7v0.7h-0.7zM488.6 259.6h0.7v0.7h-0.7zM452.8 274.3h0.7v0.7h-0.7zM452.4 273.8h0.7v0.7h-0.7zM464.4 272.4h0.7v0.7h-0.7zM470.4 267.7h0.7v0.7h-0.7zM455.1 269.1h0.7v0.7h-0.7zM471.6 268.2h0.7v0.7h-0.7zM463.2 269.3h0.7v0.7h-0.7zM458.3 274.7h0.7v0.7h-0.7zM459.0 274.2h0.7v0.7h-0.7zM481.9 265.0h0.7v0.7h-0.7zM462.2 271.3h0.7v0.7h-0.7zM449.9 267.7h0.7v0.7h-0.7zM479.6 266.2h0.7v0.7h-0.7zM464.5 274.3h0.7v0.7h-0.7zM467.2 263.2h0.7v0.7h-0.7zM462.5 268.0h0.7v0.7h-0.7zM474.5 263.9h0.7v0.7h-0.7zM463.7 272.8h0.7v0.7h-0.7zM456.5 270.5h0.7v0.7h-0.7zM475.8 267.7h0.7v0.7h-0.7zM469.6 267.0h0.7v0.7h-0.7zM450.7 273.5h0.7v0.7h-0.7zM476.8 260.7h0.7v0.7h-0.7zM463.7 271.6h0.7v0.7h-0.7zM467.0 268.9h0.7v0.7h-0.7zM473.1 272.5h0.7v0.7h-0.7zM455.8 269.7h0.7v0.7h-0.7zM473.2 263.6h0.7v0.7h-0.7zM458.7 279.6h0.7v0.7h-0.7zM475.9 261.6h0.7v0.7h-0.7zM466.1 271.9h0.7v0.7h-0.7zM479.3 268.4h0.7v0.7h-0.7zM453.8 270.0h0.7v0.7h-0.7zM475.0 266.7h0.7v0.7h-0.7zM455.9 273.7h0.7v0.7h-0.7zM467.2 264.9h0.7v0.7h-0.7zM457.5 272.1h0.7v0.7h-0.7zM473.0 267.7h0.7v0.7h-0.7zM454.2 264.4h0.7v0.7h-0.7zM453.6 267.3h0.7v0.7h-0.7zM461.7 265.9h0.7v0.7h-0.7zM466.5 263.2h0.7v0.7h-0.7zM468.1 273.4h0.7v0.7h-0.7zM460.8 266.4h0.7v0.7h-0.7zM468.5 275.6h0.7v0.7h-0.7zM458.0 266.3h0.7v0.7h-0.7zM477.8 265.5h0.7v0.7h-0.7zM447.4 271.3h0.7v0.7h-0.7zM475.1 261.0h0.7v0.7h-0.7zM456.2 276.3h0.7v0.7h-0.7zM457.1 266.1h0.7v0.7h-0.7zM463.8 273.6h0.7v0.7h-0.7zM445.9 278.6h0.7v0.7h-0.7zM467.0 270.2h0.7v0.7h-0.7zM471.0 267.0h0.7v0.7h-0.7zM442.4 275.1h0.7v0.7h-0.7zM473.2 275.1h0.7v0.7h-0.7zM456.5 267.2h0.7v0.7h-0.7zM472.2 262.6h0.7v0.7h-0.7zM459.0 268.0h0.7v0.7h-0.7zM455.9 270.2h0.7v0.7h-0.7zM460.8 264.1h0.7v0.7h-0.7zM455.3 274.0h0.7v0.7h-0.7zM462.4 265.9h0.7v0.7h-0.7zM458.2 274.0h0.7v0.7h-0.7zM466.1 259.9h0.7v0.7h-0.7zM475.8 269.4h0.7v0.7h-0.7zM459.8 272.5h0.7v0.7h-0.7zM471.0 276.7h0.7v0.7h-0.7zM456.8 259.8h0.7v0.7h-0.7zM465.6 269.3h0.7v0.7h-0.7zM433.3 277.1h0.7v0.7h-0.7zM471.4 268.2h0.7v0.7h-0.7zM460.6 268.1h0.7v0.7h-0.7zM459.8 273.0h0.7v0.7h-0.7zM475.3 266.3h0.7v0.7h-0.7zM455.4 271.1h0.7v0.7h-0.7zM451.0 272.5h0.7v0.7h-0.7zM474.2 265.7h0.7v0.7h-0.7zM470.7 260.5h0.7v0.7h-0.7zM490.4 263.5h0.7v0.7h-0.7zM455.1 271.2h0.7v0.7h-0.7zM450.3 273.2h0.7v0.7h-0.7zM455.6 277.0h0.7v0.7h-0.7zM473.2 268.6h0.7v0.7h-0.7zM457.7 267.7h0.7v0.7h-0.7zM456.0 276.8h0.7v0.7h-0.7zM449.5 274.1h0.7v0.7h-0.7zM459.2 270.8h0.7v0.7h-0.7zM470.6 270.7h0.7v0.7h-0.7zM473.0 267.5h0.7v0.7h-0.7zM454.4 268.4h0.7v0.7h-0.7zM458.2 272.5h0.7v0.7h-0.7zM473.5 267.7h0.7v0.7h-0.7zM473.8 266.9h0.7v0.7h-0.7zM453.3 269.1h0.7v0.7h-0.7zM479.2 266.6h0.7v0.7h-0.7zM465.9 267.8h0.7v0.7h-0.7zM469.1 268.9h0.7v0.7h-0.7zM457.9 271.1h0.7v0.7h-0.7zM457.1 268.8h0.7v0.7h-0.7zM464.0 265.3h0.7v0.7h-0.7zM471.6 265.8h0.7v0.7h-0.7zM473.1 262.9h0.7v0.7h-0.7zM455.9 278.9h0.7v0.7h-0.7zM480.5 265.9h0.7v0.7h-0.7zM481.1 266.7h0.7v0.7h-0.7zM469.3 269.2h0.7v0.7h-0.7zM482.2 268.2h0.7v0.7h-0.7zM450.9 273.6h0.7v0.7h-0.7zM444.7 273.3h0.7v0.7h-0.7zM462.1 272.7h0.7v0.7h-0.7zM473.2 265.5h0.7v0.7h-0.7zM465.4 273.5h0.7v0.7h-0.7zM463.9 267.3h0.7v0.7h-0.7zM462.9 275.3h0.7v0.7h-0.7zM465.3 269.8h0.7v0.7h-0.7zM464.5 271.2h0.7v0.7h-0.7zM464.3 273.9h0.7v0.7h-0.7zM480.0 266.2h0.7v0.7h-0.7zM448.1 278.5h0.7v0.7h-0.7zM466.5 269.0h0.7v0.7h-0.7zM440.5 278.3h0.7v0.7h-0.7zM465.6 257.3h0.7v0.7h-0.7zM473.2 276.9h0.7v0.7h-0.7zM481.7 266.0h0.7v0.7h-0.7zM461.2 267.8h0.7v0.7h-0.7zM482.8 266.9h0.7v0.7h-0.7zM455.8 266.7h0.7v0.7h-0.7zM470.6 266.1h0.7v0.7h-0.7zM486.8 266.9h0.7v0.7h-0.7zM466.7 271.0h0.7v0.7h-0.7zM467.5 264.8h0.7v0.7h-0.7zM471.1 271.8h0.7v0.7h-0.7zM457.8 269.6h0.7v0.7h-0.7zM468.5 267.5h0.7v0.7h-0.7zM478.9 268.5h0.7v0.7h-0.7zM476.2 267.1h0.7v0.7h-0.7zM464.5 274.6h0.7v0.7h-0.7zM470.2 269.6h0.7v0.7h-0.7zM478.9 262.5h0.7v0.7h-0.7zM446.5 273.1h0.7v0.7h-0.7zM469.1 271.9h0.7v0.7h-0.7zM461.4 268.5h0.7v0.7h-0.7zM457.4 270.9h0.7v0.7h-0.7zM460.8 275.4h0.7v0.7h-0.7zM492.4 261.1h0.7v0.7h-0.7zM464.7 268.1h0.7v0.7h-0.7zM466.6 266.0h0.7v0.7h-0.7zM462.2 267.5h0.7v0.7h-0.7zM462.1 267.5h0.7v0.7h-0.7zM471.4 263.2h0.7v0.7h-0.7zM480.1 265.5h0.7v0.7h-0.7zM449.4 268.3h0.7v0.7h-0.7zM454.1 266.3h0.7v0.7h-0.7zM465.7 276.9h0.7v0.7h-0.7zM463.2 272.3h0.7v0.7h-0.7zM465.9 268.2h0.7v0.7h-0.7zM484.8 265.4h0.7v0.7h-0.7zM450.0 273.6h0.7v0.7h-0.7zM450.1 272.5h0.7v0.7h-0.7zM467.1 273.5h0.7v0.7h-0.7zM465.7 266.3h0.7v0.7h-0.7zM466.7 270.3h0.7v0.7h-0.7zM456.3 271.1h0.7v0.7h-0.7zM479.4 274.9h0.7v0.7h-0.7zM468.7 265.3h0.7v0.7h-0.7zM473.4 264.2h0.7v0.7h-0.7zM456.0 271.0h0.7v0.7h-0.7zM467.9 268.5h0.7v0.7h-0.7zM470.5 263.1h0.7v0.7h-0.7zM435.0 279.4h0.7v0.7h-0.7zM471.9 266.9h0.7v0.7h-0.7zM456.2 272.9h0.7v0.7h-0.7zM458.6 275.6h0.7v0.7h-0.7zM464.1 272.2h0.7v0.7h-0.7zM443.7 271.9h0.7v0.7h-0.7zM456.0 273.2h0.7v0.7h-0.7zM453.0 269.9h0.7v0.7h-0.7zM449.5 272.1h0.7v0.7h-0.7zM444.2 270.4h0.7v0.7h-0.7zM470.2 270.2h0.7v0.7h-0.7zM483.6 268.4h0.7v0.7h-0.7zM479.5 267.3h0.7v0.7h-0.7zM455.2 268.5h0.7v0.7h-0.7zM473.7 270.6h0.7v0.7h-0.7zM454.8 275.9h0.7v0.7h-0.7zM465.8 270.6h0.7v0.7h-0.7zM451.6 264.9h0.7v0.7h-0.7zM448.9 272.4h0.7v0.7h-0.7zM472.1 266.2h0.7v0.7h-0.7zM476.6 261.3h0.7v0.7h-0.7zM482.7 265.3h0.7v0.7h-0.7zM457.2 269.5h0.7v0.7h-0.7zM473.5 262.9h0.7v0.7h-0.7zM450.3 273.2h0.7v0.7h-0.7zM470.7 266.8h0.7v0.7h-0.7zM462.1 274.2h0.7v0.7h-0.7zM463.8 269.5h0.7v0.7h-0.7zM485.0 270.0h0.7v0.7h-0.7zM452.8 268.7h0.7v0.7h-0.7zM451.8 275.0h0.7v0.7h-0.7zM470.4 266.5h0.7v0.7h-0.7zM461.4 267.3h0.7v0.7h-0.7zM467.7 272.1h0.7v0.7h-0.7zM448.0 271.4h0.7v0.7h-0.7zM472.8 268.0h0.7v0.7h-0.7zM460.9 269.6h0.7v0.7h-0.7zM433.4 273.2h0.7v0.7h-0.7zM459.9 269.5h0.7v0.7h-0.7zM454.7 270.9h0.7v0.7h-0.7zM462.2 265.3h0.7v0.7h-0.7zM463.7 269.5h0.7v0.7h-0.7zM463.9 270.6h0.7v0.7h-0.7zM473.9 274.4h0.7v0.7h-0.7zM440.2 283.8h0.7v0.7h-0.7zM465.8 271.6h0.7v0.7h-0.7zM461.0 271.4h0.7v0.7h-0.7zM459.4 270.5h0.7v0.7h-0.7zM487.1 264.7h0.7v0.7h-0.7zM454.0 276.7h0.7v0.7h-0.7zM460.4 266.3h0.7v0.7h-0.7zM449.8 276.4h0.7v0.7h-0.7zM464.7 271.7h0.7v0.7h-0.7zM445.4 269.4h0.7v0.7h-0.7zM462.4 272.1h0.7v0.7h-0.7zM460.2 275.3h0.7v0.7h-0.7zM461.2 266.2h0.7v0.7h-0.7zM470.6 270.1h0.7v0.7h-0.7zM468.9 269.1h0.7v0.7h-0.7zM448.4 275.5h0.7v0.7h-0.7zM458.8 265.0h0.7v0.7h-0.7zM463.6 269.1h0.7v0.7h-0.7zM456.8 273.7h0.7v0.7h-0.7zM455.2 267.9h0.7v0.7h-0.7zM478.7 266.6h0.7v0.7h-0.7zM476.9 270.1h0.7v0.7h-0.7zM468.7 273.4h0.7v0.7h-0.7zM441.9 274.6h0.7v0.7h-0.7zM483.7 259.0h0.7v0.7h-0.7zM443.0 273.3h0.7v0.7h-0.7zM456.9 268.8h0.7v0.7h-0.7zM460.3 268.2h0.7v0.7h-0.7zM466.4 268.1h0.7v0.7h-0.7zM470.8 266.6h0.7v0.7h-0.7zM459.9 271.6h0.7v0.7h-0.7zM451.5 271.8h0.7v0.7h-0.7zM468.6 266.3h0.7v0.7h-0.7zM473.5 265.6h0.7v0.7h-0.7zM463.4 270.6h0.7v0.7h-0.7zM465.6 269.0h0.7v0.7h-0.7zM443.3 275.1h0.7v0.7h-0.7zM489.0 255.6h0.7v0.7h-0.7zM456.9 269.2h0.7v0.7h-0.7zM467.3 264.9h0.7v0.7h-0.7zM460.0 269.0h0.7v0.7h-0.7zM447.2 274.0h0.7v0.7h-0.7zM478.0 266.0h0.7v0.7h-0.7zM462.6 268.9h0.7v0.7h-0.7zM456.6 265.4h0.7v0.7h-0.7zM464.4 271.9h0.7v0.7h-0.7zM441.1 268.5h0.7v0.7h-0.7zM467.7 274.8h0.7v0.7h-0.7zM479.6 266.4h0.7v0.7h-0.7zM454.1 279.2h0.7v0.7h-0.7zM463.0 266.5h0.7v0.7h-0.7zM453.3 277.2h0.7v0.7h-0.7zM464.3 272.8h0.7v0.7h-0.7zM452.5 274.3h0.7v0.7h-0.7zM456.3 275.3h0.7v0.7h-0.7zM446.8 278.0h0.7v0.7h-0.7zM453.7 271.0h0.7v0.7h-0.7zM451.9 278.4h0.7v0.7h-0.7zM462.9 269.7h0.7v0.7h-0.7zM455.1 270.2h0.7v0.7h-0.7zM463.0 269.1h0.7v0.7h-0.7zM461.4 271.1h0.7v0.7h-0.7zM476.0 268.5h0.7v0.7h-0.7zM465.8 269.2h0.7v0.7h-0.7zM454.7 275.1h0.7v0.7h-0.7zM449.3 271.2h0.7v0.7h-0.7zM476.5 258.5h0.7v0.7h-0.7zM460.1 270.7h0.7v0.7h-0.7zM468.7 271.7h0.7v0.7h-0.7zM469.7 279.5h0.7v0.7h-0.7zM455.2 269.2h0.7v0.7h-0.7zM454.7 273.5h0.7v0.7h-0.7zM478.9 267.0h0.7v0.7h-0.7zM462.9 272.2h0.7v0.7h-0.7zM473.4 272.2h0.7v0.7h-0.7zM445.8 275.1h0.7v0.7h-0.7zM476.9 266.8h0.7v0.7h-0.7zM451.5 275.5h0.7v0.7h-0.7zM458.7 271.9h0.7v0.7h-0.7zM488.6 260.9h0.7v0.7h-0.7zM459.9 272.9h0.7v0.7h-0.7zM455.8 273.4h0.7v0.7h-0.7zM453.7 273.9h0.7v0.7h-0.7zM443.2 282.8h0.7v0.7h-0.7zM475.9 266.7h0.7v0.7h-0.7zM484.5 265.0h0.7v0.7h-0.7zM463.3 266.5h0.7v0.7h-0.7zM465.7 266.9h0.7v0.7h-0.7zM452.6 261.9h0.7v0.7h-0.7zM467.9 270.1h0.7v0.7h-0.7zM470.3 263.1h0.7v0.7h-0.7zM461.9 263.3h0.7v0.7h-0.7zM472.3 265.2h0.7v0.7h-0.7zM453.2 268.9h0.7v0.7h-0.7zM455.4 274.5h0.7v0.7h-0.7zM452.3 268.1h0.7v0.7h-0.7zM474.4 260.3h0.7v0.7h-0.7zM460.2 270.5h0.7v0.7h-0.7zM460.8 273.3h0.7v0.7h-0.7zM458.9 271.6h0.7v0.7h-0.7zM463.0 276.2h0.7v0.7h-0.7zM470.1 272.7h0.7v0.7h-0.7zM469.2 265.0h0.7v0.7h-0.7zM462.4 270.8h0.7v0.7h-0.7zM458.6 264.6h0.7v0.7h-0.7zM464.0 267.5h0.7v0.7h-0.7zM467.5 267.1h0.7v0.7h-0.7zM467.7 264.3h0.7v0.7h-0.7zM451.4 272.1h0.7v0.7h-0.7zM470.2 265.0h0.7v0.7h-0.7zM455.3 268.0h0.7v0.7h-0.7zM436.6 279.6h0.7v0.7h-0.7zM456.1 265.1h0.7v0.7h-0.7zM468.4 268.7h0.7v0.7h-0.7zM486.8 265.6h0.7v0.7h-0.7zM475.2 267.8h0.7v0.7h-0.7zM484.0 264.8h0.7v0.7h-0.7zM472.4 268.0h0.7v0.7h-0.7zM455.8 266.3h0.7v0.7h-0.7zM478.0 268.1h0.7v0.7h-0.7zM481.7 261.2h0.7v0.7h-0.7zM436.1 280.0h0.7v0.7h-0.7zM436.7 275.6h0.7v0.7h-0.7zM451.1 269.9h0.7v0.7h-0.7zM441.3 272.4h0.7v0.7h-0.7zM446.9 274.1h0.7v0.7h-0.7zM454.8 272.6h0.7v0.7h-0.7zM446.2 282.9h0.7v0.7h-0.7zM481.6 266.0h0.7v0.7h-0.7zM472.2 272.6h0.7v0.7h-0.7zM452.4 272.7h0.7v0.7h-0.7zM482.0 255.1h0.7v0.7h-0.7zM470.7 269.1h0.7v0.7h-0.7zM460.5 272.8h0.7v0.7h-0.7zM467.8 266.4h0.7v0.7h-0.7zM469.2 267.0h0.7v0.7h-0.7zM475.2 268.1h0.7v0.7h-0.7zM458.4 278.6h0.7v0.7h-0.7zM460.3 271.8h0.7v0.7h-0.7zM462.1 274.4h0.7v0.7h-0.7zM454.7 269.0h0.7v0.7h-0.7zM468.0 262.3h0.7v0.7h-0.7zM463.1 272.3h0.7v0.7h-0.7zM481.2 258.9h0.7v0.7h-0.7zM446.3 271.6h0.7v0.7h-0.7zM470.4 270.9h0.7v0.7h-0.7zM459.4 275.5h0.7v0.7h-0.7zM457.1 273.1h0.7v0.7h-0.7zM462.5 276.6h0.7v0.7h-0.7zM480.5 269.3h0.7v0.7h-0.7zM456.2 265.4h0.7v0.7h-0.7zM458.5 268.9h0.7v0.7h-0.7zM455.1 269.1h0.7v0.7h-0.7zM459.7 272.5h0.7v0.7h-0.7zM478.6 269.4h0.7v0.7h-0.7zM479.2 257.1h0.7v0.7h-0.7zM473.8 276.2h0.7v0.7h-0.7zM476.8 269.1h0.7v0.7h-0.7zM474.3 266.2h0.7v0.7h-0.7zM460.4 268.5h0.7v0.7h-0.7zM458.2 270.1h0.7v0.7h-0.7zM457.9 277.1h0.7v0.7h-0.7zM472.1 270.9h0.7v0.7h-0.7zM483.5 265.2h0.7v0.7h-0.7zM474.6 263.9h0.7v0.7h-0.7zM469.1 270.8h0.7v0.7h-0.7zM451.4 275.9h0.7v0.7h-0.7zM464.3 267.5h0.7v0.7h-0.7zM479.9 265.6h0.7v0.7h-0.7zM464.4 272.8h0.7v0.7h-0.7zM456.3 266.2h0.7v0.7h-0.7zM474.9 270.7h0.7v0.7h-0.7zM458.3 272.2h0.7v0.7h-0.7zM464.9 270.4h0.7v0.7h-0.7zM476.3 266.7h0.7v0.7h-0.7zM473.3 270.3h0.7v0.7h-0.7zM461.2 271.8h0.7v0.7h-0.7zM459.9 270.2h0.7v0.7h-0.7zM478.1 262.6h0.7v0.7h-0.7zM472.7 266.6h0.7v0.7h-0.7zM459.2 271.5h0.7v0.7h-0.7zM456.3 265.5h0.7v0.7h-0.7zM477.2 268.9h0.7v0.7h-0.7zM457.9 266.4h0.7v0.7h-0.7zM455.1 278.8h0.7v0.7h-0.7zM453.1 270.0h0.7v0.7h-0.7zM484.4 256.0h0.7v0.7h-0.7zM450.5 269.5h0.7v0.7h-0.7zM455.6 263.7h0.7v0.7h-0.7zM464.7 264.2h0.7v0.7h-0.7zM449.2 274.9h0.7v0.7h-0.7zM454.0 273.9h0.7v0.7h-0.7zM456.9 277.9h0.7v0.7h-0.7zM451.2 274.2h0.7v0.7h-0.7zM453.0 278.0h0.7v0.7h-0.7zM443.0 274.1h0.7v0.7h-0.7zM465.4 267.6h0.7v0.7h-0.7zM461.8 268.2h0.7v0.7h-0.7zM458.6 272.2h0.7v0.7h-0.7zM486.2 265.3h0.7v0.7h-0.7zM468.8 265.8h0.7v0.7h-0.7zM454.5 272.5h0.7v0.7h-0.7zM458.2 277.6h0.7v0.7h-0.7zM465.7 275.3h0.7v0.7h-0.7zM463.0 274.4h0.7v0.7h-0.7zM449.3 280.5h0.7v0.7h-0.7zM450.6 274.2h0.7v0.7h-0.7zM462.4 269.5h0.7v0.7h-0.7zM472.5 263.7h0.7v0.7h-0.7zM468.4 262.3h0.7v0.7h-0.7zM448.6 276.9h0.7v0.7h-0.7zM478.5 261.6h0.7v0.7h-0.7zM470.4 266.5h0.7v0.7h-0.7zM483.0 265.8h0.7v0.7h-0.7zM484.5 262.4h0.7v0.7h-0.7zM485.2 261.4h0.7v0.7h-0.7zM484.8 266.6h0.7v0.7h-0.7zM448.9 278.0h0.7v0.7h-0.7zM467.8 272.0h0.7v0.7h-0.7zM454.1 270.8h0.7v0.7h-0.7zM451.7 279.3h0.7v0.7h-0.7zM461.7 260.9h0.7v0.7h-0.7zM473.6 267.6h0.7v0.7h-0.7zM494.5 260.1h0.7v0.7h-0.7zM469.8 266.5h0.7v0.7h-0.7zM430.5 282.8h0.7v0.7h-0.7zM459.3 273.8h0.7v0.7h-0.7zM462.8 261.0h0.7v0.7h-0.7zM464.0 273.1h0.7v0.7h-0.7zM476.7 269.9h0.7v0.7h-0.7zM457.3 266.6h0.7v0.7h-0.7zM467.9 264.3h0.7v0.7h-0.7zM479.5 264.6h0.7v0.7h-0.7zM473.6 268.3h0.7v0.7h-0.7zM474.8 268.3h0.7v0.7h-0.7zM469.7 268.8h0.7v0.7h-0.7zM453.8 266.1h0.7v0.7h-0.7zM446.7 279.1h0.7v0.7h-0.7zM456.9 273.2h0.7v0.7h-0.7zM442.4 274.1h0.7v0.7h-0.7zM491.9 269.8h0.7v0.7h-0.7zM472.6 268.2h0.7v0.7h-0.7zM474.7 275.0h0.7v0.7h-0.7zM451.0 273.4h0.7v0.7h-0.7zM456.0 260.3h0.7v0.7h-0.7zM466.9 272.9h0.7v0.7h-0.7zM456.8 267.3h0.7v0.7h-0.7zM479.7 263.0h0.7v0.7h-0.7zM461.2 268.5h0.7v0.7h-0.7zM461.8 271.0h0.7v0.7h-0.7zM475.1 268.2h0.7v0.7h-0.7zM488.1 258.5h0.7v0.7h-0.7zM467.5 267.9h0.7v0.7h-0.7zM489.8 256.0h0.7v0.7h-0.7zM464.7 273.2h0.7v0.7h-0.7zM455.6 272.1h0.7v0.7h-0.7zM466.7 270.7h0.7v0.7h-0.7zM465.7 264.6h0.7v0.7h-0.7zM471.6 258.0h0.7v0.7h-0.7zM452.6 269.4h0.7v0.7h-0.7zM462.7 270.6h0.7v0.7h-0.7zM505.8 264.0h0.7v0.7h-0.7zM464.2 270.7h0.7v0.7h-0.7zM481.5 267.1h0.7v0.7h-0.7zM460.7 262.8h0.7v0.7h-0.7zM440.7 278.1h0.7v0.7h-0.7zM477.3 265.6h0.7v0.7h-0.7zM494.1 262.5h0.7v0.7h-0.7zM451.4 275.0h0.7v0.7h-0.7zM453.3 277.5h0.7v0.7h-0.7zM459.8 269.2h0.7v0.7h-0.7zM465.3 275.1h0.7v0.7h-0.7zM449.2 278.8h0.7v0.7h-0.7zM484.0 267.6h0.7v0.7h-0.7zM465.4 273.2h0.7v0.7h-0.7zM457.8 268.2h0.7v0.7h-0.7zM476.7 260.2h0.7v0.7h-0.7zM468.5 266.3h0.7v0.7h-0.7zM460.4 270.6h0.7v0.7h-0.7zM459.7 276.0h0.7v0.7h-0.7zM454.6 267.8h0.7v0.7h-0.7zM448.8 274.0h0.7v0.7h-0.7zM466.3 268.8h0.7v0.7h-0.7zM464.9 264.9h0.7v0.7h-0.7zM469.3 271.5h0.7v0.7h-0.7zM447.0 273.2h0.7v0.7h-0.7zM463.8 268.3h0.7v0.7h-0.7zM454.3 269.8h0.7v0.7h-0.7zM453.8 278.9h0.7v0.7h-0.7zM448.6 269.7h0.7v0.7h-0.7zM446.8 275.1h0.7v0.7h-0.7zM453.3 275.0h0.7v0.7h-0.7zM465.7 270.6h0.7v0.7h-0.7zM472.9 267.0h0.7v0.7h-0.7zM459.6 271.1h0.7v0.7h-0.7zM474.5 263.2h0.7v0.7h-0.7zM462.9 276.4h0.7v0.7h-0.7zM469.7 273.1h0.7v0.7h-0.7zM470.3 261.1h0.7v0.7h-0.7zM458.4 266.0h0.7v0.7h-0.7zM467.0 268.3h0.7v0.7h-0.7zM472.9 268.1h0.7v0.7h-0.7zM461.1 274.9h0.7v0.7h-0.7zM447.2 267.5h0.7v0.7h-0.7zM475.2 268.2h0.7v0.7h-0.7zM470.9 264.0h0.7v0.7h-0.7zM472.7 269.8h0.7v0.7h-0.7zM464.7 269.5h0.7v0.7h-0.7zM462.6 271.8h0.7v0.7h-0.7zM449.5 279.0h0.7v0.7h-0.7zM452.4 268.7h0.7v0.7h-0.7zM478.3 265.3h0.7v0.7h-0.7zM446.0 275.3h0.7v0.7h-0.7zM458.2 272.8h0.7v0.7h-0.7zM450.1 273.1h0.7v0.7h-0.7zM461.1 276.9h0.7v0.7h-0.7zM453.6 276.6h0.7v0.7h-0.7zM475.2 268.0h0.7v0.7h-0.7zM461.4 272.4h0.7v0.7h-0.7zM455.9 276.0h0.7v0.7h-0.7zM445.7 280.2h0.7v0.7h-0.7zM458.9 268.7h0.7v0.7h-0.7zM469.0 274.9h0.7v0.7h-0.7zM465.5 277.3h0.7v0.7h-0.7zM463.3 271.3h0.7v0.7h-0.7zM448.6 273.8h0.7v0.7h-0.7zM462.4 267.6h0.7v0.7h-0.7zM447.7 271.9h0.7v0.7h-0.7zM468.8 271.0h0.7v0.7h-0.7zM482.5 256.3h0.7v0.7h-0.7zM485.6 267.2h0.7v0.7h-0.7zM465.0 274.4h0.7v0.7h-0.7zM466.1 262.6h0.7v0.7h-0.7zM470.8 262.1h0.7v0.7h-0.7zM471.2 262.5h0.7v0.7h-0.7zM445.6 278.4h0.7v0.7h-0.7zM457.7 268.7h0.7v0.7h-0.7zM484.9 263.9h0.7v0.7h-0.7zM482.0 263.6h0.7v0.7h-0.7zM460.7 262.3h0.7v0.7h-0.7zM478.1 263.8h0.7v0.7h-0.7zM474.8 263.9h0.7v0.7h-0.7zM442.7 276.7h0.7v0.7h-0.7zM474.0 257.7h0.7v0.7h-0.7zM451.6 277.9h0.7v0.7h-0.7zM482.0 263.0h0.7v0.7h-0.7zM467.6 270.9h0.7v0.7h-0.7zM467.7 264.0h0.7v0.7h-0.7zM478.2 272.4h0.7v0.7h-0.7zM465.9 269.6h0.7v0.7h-0.7zM457.6 273.4h0.7v0.7h-0.7zM471.2 265.3h0.7v0.7h-0.7zM443.2 269.6h0.7v0.7h-0.7zM470.3 268.4h0.7v0.7h-0.7zM457.6 262.8h0.7v0.7h-0.7zM448.5 280.4h0.7v0.7h-0.7zM451.6 269.0h0.7v0.7h-0.7zM476.7 271.0h0.7v0.7h-0.7zM458.1 271.8h0.7v0.7h-0.7zM469.6 269.9h0.7v0.7h-0.7zM458.6 271.0h0.7v0.7h-0.7zM472.1 273.3h0.7v0.7h-0.7zM466.9 261.5h0.7v0.7h-0.7zM451.7 269.1h0.7v0.7h-0.7zM474.2 272.6h0.7v0.7h-0.7zM468.4 263.4h0.7v0.7h-0.7zM459.8 270.2h0.7v0.7h-0.7zM474.0 267.4h0.7v0.7h-0.7zM472.2 265.3h0.7v0.7h-0.7zM484.6 258.7h0.7v0.7h-0.7zM463.6 273.7h0.7v0.7h-0.7zM472.0 262.7h0.7v0.7h-0.7zM455.9 270.2h0.7v0.7h-0.7zM474.5 270.0h0.7v0.7h-0.7zM446.1 273.3h0.7v0.7h-0.7zM467.2 272.6h0.7v0.7h-0.7zM472.2 272.3h0.7v0.7h-0.7zM458.2 268.3h0.7v0.7h-0.7zM466.1 269.9h0.7v0.7h-0.7zM491.4 261.9h0.7v0.7h-0.7zM461.0 266.1h0.7v0.7h-0.7zM466.0 267.0h0.7v0.7h-0.7zM471.0 266.9h0.7v0.7h-0.7zM453.3 268.6h0.7v0.7h-0.7zM456.4 271.3h0.7v0.7h-0.7zM431.6 275.4h0.7v0.7h-0.7zM461.1 264.8h0.7v0.7h-0.7zM470.5 266.2h0.7v0.7h-0.7zM471.4 268.2h0.7v0.7h-0.7zM460.5 275.3h0.7v0.7h-0.7zM472.2 262.1h0.7v0.7h-0.7zM459.8 265.1h0.7v0.7h-0.7zM456.5 270.9h0.7v0.7h-0.7zM457.3 270.3h0.7v0.7h-0.7zM470.5 271.9h0.7v0.7h-0.7zM471.1 271.1h0.7v0.7h-0.7zM456.3 270.0h0.7v0.7h-0.7zM474.3 264.3h0.7v0.7h-0.7zM469.4 268.3h0.7v0.7h-0.7zM471.6 271.8h0.7v0.7h-0.7zM464.8 267.0h0.7v0.7h-0.7zM456.7 278.4h0.7v0.7h-0.7zM472.8 261.8h0.7v0.7h-0.7zM444.8 265.3h0.7v0.7h-0.7zM463.4 267.0h0.7v0.7h-0.7zM435.4 278.1h0.7v0.7h-0.7zM466.0 276.3h0.7v0.7h-0.7zM463.4 263.9h0.7v0.7h-0.7zM464.6 269.4h0.7v0.7h-0.7zM449.6 268.0h0.7v0.7h-0.7zM456.3 271.2h0.7v0.7h-0.7zM474.7 263.4h0.7v0.7h-0.7zM469.5 274.4h0.7v0.7h-0.7zM451.6 268.4h0.7v0.7h-0.7zM457.0 273.3h0.7v0.7h-0.7zM453.4 276.4h0.7v0.7h-0.7zM455.7 269.0h0.7v0.7h-0.7zM468.9 271.2h0.7v0.7h-0.7zM458.6 270.3h0.7v0.7h-0.7zM475.4 273.1h0.7v0.7h-0.7zM458.4 274.2h0.7v0.7h-0.7zM476.0 268.5h0.7v0.7h-0.7zM465.9 269.8h0.7v0.7h-0.7zM451.1 272.2h0.7v0.7h-0.7zM454.0 270.0h0.7v0.7h-0.7zM468.1 276.0h0.7v0.7h-0.7zM466.7 267.0h0.7v0.7h-0.7zM476.4 262.1h0.7v0.7h-0.7zM473.1 263.7h0.7v0.7h-0.7zM469.5 275.5h0.7v0.7h-0.7zM461.7 267.3h0.7v0.7h-0.7zM462.5 272.0h0.7v0.7h-0.7zM440.9 283.7h0.7v0.7h-0.7zM452.0 274.4h0.7v0.7h-0.7zM469.9 264.5h0.7v0.7h-0.7zM461.6 274.3h0.7v0.7h-0.7zM459.6 273.2h0.7v0.7h-0.7zM463.0 269.4h0.7v0.7h-0.7zM465.7 270.1h0.7v0.7h-0.7zM461.7 274.2h0.7v0.7h-0.7zM464.4 269.7h0.7v0.7h-0.7zM436.4 270.5h0.7v0.7h-0.7zM473.1 269.5h0.7v0.7h-0.7zM468.3 272.8h0.7v0.7h-0.7zM442.8 274.5h0.7v0.7h-0.7zM472.5 270.2h0.7v0.7h-0.7zM476.7 268.8h0.7v0.7h-0.7zM463.8 274.8h0.7v0.7h-0.7zM455.6 270.2h0.7v0.7h-0.7zM482.6 263.0h0.7v0.7h-0.7zM478.7 262.2h0.7v0.7h-0.7zM464.5 273.0h0.7v0.7h-0.7zM445.1 274.2h0.7v0.7h-0.7zM437.9 273.6h0.7v0.7h-0.7zM462.3 269.7h0.7v0.7h-0.7zM473.7 262.7h0.7v0.7h-0.7zM482.1 262.9h0.7v0.7h-0.7zM452.1 273.9h0.7v0.7h-0.7zM472.3 270.4h0.7v0.7h-0.7zM469.1 264.6h0.7v0.7h-0.7zM444.4 281.2h0.7v0.7h-0.7zM466.1 270.3h0.7v0.7h-0.7zM477.3 269.3h0.7v0.7h-0.7zM449.1 267.0h0.7v0.7h-0.7zM441.3 269.7h0.7v0.7h-0.7zM470.5 267.8h0.7v0.7h-0.7zM462.8 266.1h0.7v0.7h-0.7zM464.2 267.7h0.7v0.7h-0.7zM463.5 271.8h0.7v0.7h-0.7zM464.6 271.6h0.7v0.7h-0.7zM462.8 274.9h0.7v0.7h-0.7zM483.6 262.9h0.7v0.7h-0.7zM465.0 268.5h0.7v0.7h-0.7zM459.9 274.9h0.7v0.7h-0.7zM463.8 259.9h0.7v0.7h-0.7zM478.2 268.0h0.7v0.7h-0.7zM447.3 274.5h0.7v0.7h-0.7zM460.3 271.3h0.7v0.7h-0.7zM466.4 278.9h0.7v0.7h-0.7zM477.7 274.0h0.7v0.7h-0.7zM475.9 265.0h0.7v0.7h-0.7zM480.1 271.5h0.7v0.7h-0.7zM459.4 272.7h0.7v0.7h-0.7zM472.2 269.6h0.7v0.7h-0.7zM471.6 260.1h0.7v0.7h-0.7zM476.9 270.1h0.7v0.7h-0.7zM462.6 276.3h0.7v0.7h-0.7zM467.9 276.4h0.7v0.7h-0.7zM468.2 270.5h0.7v0.7h-0.7zM472.3 269.1h0.7v0.7h-0.7zM478.6 262.9h0.7v0.7h-0.7zM455.2 269.0h0.7v0.7h-0.7zM474.3 265.0h0.7v0.7h-0.7zM468.0 266.7h0.7v0.7h-0.7zM453.7 270.4h0.7v0.7h-0.7zM462.5 267.6h0.7v0.7h-0.7zM479.9 267.5h0.7v0.7h-0.7zM472.4 267.9h0.7v0.7h-0.7zM461.9 263.1h0.7v0.7h-0.7zM463.0 266.8h0.7v0.7h-0.7zM472.6 266.6h0.7v0.7h-0.7zM464.6 262.9h0.7v0.7h-0.7zM472.5 268.3h0.7v0.7h-0.7zM437.3 275.0h0.7v0.7h-0.7zM455.8 273.0h0.7v0.7h-0.7zM492.7 259.2h0.7v0.7h-0.7zM483.7 267.8h0.7v0.7h-0.7zM458.2 266.6h0.7v0.7h-0.7zM455.3 273.1h0.7v0.7h-0.7zM463.1 272.3h0.7v0.7h-0.7zM467.7 268.4h0.7v0.7h-0.7zM464.0 271.4h0.7v0.7h-0.7zM457.2 271.2h0.7v0.7h-0.7zM455.9 273.1h0.7v0.7h-0.7zM472.0 270.6h0.7v0.7h-0.7zM462.3 266.8h0.7v0.7h-0.7zM458.7 273.4h0.7v0.7h-0.7zM457.6 272.2h0.7v0.7h-0.7zM468.6 271.5h0.7v0.7h-0.7zM455.6 277.2h0.7v0.7h-0.7zM448.8 278.0h0.7v0.7h-0.7zM469.6 272.9h0.7v0.7h-0.7zM460.6 272.0h0.7v0.7h-0.7zM454.8 270.3h0.7v0.7h-0.7zM446.4 275.3h0.7v0.7h-0.7zM460.4 275.2h0.7v0.7h-0.7zM483.4 260.1h0.7v0.7h-0.7zM480.0 266.8h0.7v0.7h-0.7zM450.6 266.8h0.7v0.7h-0.7zM464.2 267.9h0.7v0.7h-0.7zM476.0 264.1h0.7v0.7h-0.7zM481.0 259.1h0.7v0.7h-0.7zM465.4 270.5h0.7v0.7h-0.7zM483.9 267.3h0.7v0.7h-0.7zM459.8 273.0h0.7v0.7h-0.7zM469.4 269.7h0.7v0.7h-0.7zM457.9 269.0h0.7v0.7h-0.7zM450.2 268.8h0.7v0.7h-0.7zM468.3 270.9h0.7v0.7h-0.7zM458.2 274.5h0.7v0.7h-0.7zM450.3 271.2h0.7v0.7h-0.7zM457.3 267.2h0.7v0.7h-0.7zM452.0 273.9h0.7v0.7h-0.7zM459.9 270.5h0.7v0.7h-0.7zM462.3 266.5h0.7v0.7h-0.7zM477.8 264.5h0.7v0.7h-0.7zM485.2 272.9h0.7v0.7h-0.7zM477.1 263.9h0.7v0.7h-0.7zM510.3 256.6h0.7v0.7h-0.7zM471.6 264.3h0.7v0.7h-0.7zM441.0 274.9h0.7v0.7h-0.7zM469.6 268.1h0.7v0.7h-0.7zM480.6 268.0h0.7v0.7h-0.7zM475.6 274.5h0.7v0.7h-0.7zM462.2 272.7h0.7v0.7h-0.7zM475.4 265.3h0.7v0.7h-0.7zM470.7 272.8h0.7v0.7h-0.7zM448.3 275.0h0.7v0.7h-0.7zM469.7 271.8h0.7v0.7h-0.7zM467.8 270.3h0.7v0.7h-0.7zM473.7 273.4h0.7v0.7h-0.7zM464.1 271.0h0.7v0.7h-0.7zM461.1 273.8h0.7v0.7h-0.7zM456.2 265.7h0.7v0.7h-0.7zM450.6 271.3h0.7v0.7h-0.7zM452.0 271.3h0.7v0.7h-0.7zM464.7 270.0h0.7v0.7h-0.7zM457.8 276.2h0.7v0.7h-0.7zM473.7 267.7h0.7v0.7h-0.7zM475.3 266.0h0.7v0.7h-0.7zM467.8 273.1h0.7v0.7h-0.7zM470.3 268.2h0.7v0.7h-0.7zM447.5 272.8h0.7v0.7h-0.7zM456.9 274.2h0.7v0.7h-0.7zM466.3 270.1h0.7v0.7h-0.7zM447.0 276.1h0.7v0.7h-0.7zM471.5 273.1h0.7v0.7h-0.7zM474.0 258.6h0.7v0.7h-0.7zM486.7 271.3h0.7v0.7h-0.7zM477.2 267.2h0.7v0.7h-0.7zM459.5 266.6h0.7v0.7h-0.7zM464.7 274.6h0.7v0.7h-0.7zM470.6 268.5h0.7v0.7h-0.7zM465.9 265.5h0.7v0.7h-0.7zM443.4 276.8h0.7v0.7h-0.7zM451.2 273.1h0.7v0.7h-0.7zM475.8 264.2h0.7v0.7h-0.7zM452.5 273.0h0.7v0.7h-0.7zM458.0 270.5h0.7v0.7h-0.7zM467.8 268.2h0.7v0.7h-0.7zM474.7 273.1h0.7v0.7h-0.7zM445.2 263.8h0.7v0.7h-0.7zM456.2 264.5h0.7v0.7h-0.7zM452.5 277.6h0.7v0.7h-0.7zM462.4 269.8h0.7v0.7h-0.7zM461.4 274.0h0.7v0.7h-0.7zM480.1 258.9h0.7v0.7h-0.7zM476.5 265.7h0.7v0.7h-0.7zM445.0 270.3h0.7v0.7h-0.7zM465.7 270.2h0.7v0.7h-0.7zM454.5 275.7h0.7v0.7h-0.7zM462.0 271.7h0.7v0.7h-0.7zM450.1 272.9h0.7v0.7h-0.7zM483.1 258.3h0.7v0.7h-0.7zM467.2 268.2h0.7v0.7h-0.7zM473.0 269.5h0.7v0.7h-0.7zM475.5 267.3h0.7v0.7h-0.7zM445.5 279.6h0.7v0.7h-0.7zM487.1 259.8h0.7v0.7h-0.7zM459.8 272.6h0.7v0.7h-0.7zM448.3 274.4h0.7v0.7h-0.7zM467.8 268.5h0.7v0.7h-0.7zM463.5 273.3h0.7v0.7h-0.7zM463.4 274.9h0.7v0.7h-0.7zM459.6 268.0h0.7v0.7h-0.7zM475.4 269.3h0.7v0.7h-0.7zM446.9 269.8h0.7v0.7h-0.7zM463.7 272.8h0.7v0.7h-0.7zM461.0 268.9h0.7v0.7h-0.7zM463.5 274.8h0.7v0.7h-0.7zM442.3 273.7h0.7v0.7h-0.7zM455.0 273.8h0.7v0.7h-0.7zM483.1 269.2h0.7v0.7h-0.7zM466.7 267.8h0.7v0.7h-0.7zM477.4 264.7h0.7v0.7h-0.7zM457.2 274.0h0.7v0.7h-0.7zM473.8 270.5h0.7v0.7h-0.7zM446.9 272.9h0.7v0.7h-0.7zM460.9 271.3h0.7v0.7h-0.7zM464.7 264.7h0.7v0.7h-0.7zM447.8 269.8h0.7v0.7h-0.7zM449.1 280.4h0.7v0.7h-0.7zM463.3 262.1h0.7v0.7h-0.7zM453.4 272.9h0.7v0.7h-0.7zM475.8 272.1h0.7v0.7h-0.7zM472.7 263.1h0.7v0.7h-0.7zM468.9 264.1h0.7v0.7h-0.7zM468.3 267.8h0.7v0.7h-0.7zM480.2 262.3h0.7v0.7h-0.7zM479.4 268.4h0.7v0.7h-0.7zM449.2 268.2h0.7v0.7h-0.7zM467.6 270.2h0.7v0.7h-0.7zM450.3 274.9h0.7v0.7h-0.7zM445.4 280.4h0.7v0.7h-0.7zM454.7 273.6h0.7v0.7h-0.7zM459.9 273.5h0.7v0.7h-0.7zM471.3 261.3h0.7v0.7h-0.7zM469.7 268.5h0.7v0.7h-0.7zM457.2 274.3h0.7v0.7h-0.7zM471.1 271.3h0.7v0.7h-0.7zM443.1 276.7h0.7v0.7h-0.7zM460.4 270.5h0.7v0.7h-0.7zM485.2 265.8h0.7v0.7h-0.7zM477.8 263.1h0.7v0.7h-0.7zM459.9 267.6h0.7v0.7h-0.7zM461.3 269.6h0.7v0.7h-0.7zM476.7 263.4h0.7v0.7h-0.7zM478.7 263.3h0.7v0.7h-0.7zM485.9 261.7h0.7v0.7h-0.7zM458.1 272.2h0.7v0.7h-0.7zM463.1 267.4h0.7v0.7h-0.7zM475.3 269.0h0.7v0.7h-0.7zM476.0 261.2h0.7v0.7h-0.7zM475.2 259.2h0.7v0.7h-0.7zM467.9 266.9h0.7v0.7h-0.7zM457.1 273.3h0.7v0.7h-0.7zM453.2 270.4h0.7v0.7h-0.7zM455.8 275.9h0.7v0.7h-0.7zM477.3 266.0h0.7v0.7h-0.7zM465.7 267.1h0.7v0.7h-0.7zM478.4 269.0h0.7v0.7h-0.7zM457.4 267.6h0.7v0.7h-0.7zM478.7 261.2h0.7v0.7h-0.7zM473.3 271.5h0.7v0.7h-0.7zM448.2 275.5h0.7v0.7h-0.7zM473.1 271.2h0.7v0.7h-0.7zM481.3 262.0h0.7v0.7h-0.7zM471.4 269.5h0.7v0.7h-0.7zM480.8 266.5h0.7v0.7h-0.7zM470.4 263.4h0.7v0.7h-0.7zM469.9 268.3h0.7v0.7h-0.7zM468.8 263.5h0.7v0.7h-0.7zM457.6 272.1h0.7v0.7h-0.7zM458.3 275.6h0.7v0.7h-0.7zM474.1 265.9h0.7v0.7h-0.7zM481.4 266.7h0.7v0.7h-0.7zM471.8 269.1h0.7v0.7h-0.7zM485.7 260.8h0.7v0.7h-0.7zM478.0 268.3h0.7v0.7h-0.7zM457.0 274.5h0.7v0.7h-0.7zM463.1 267.3h0.7v0.7h-0.7zM462.2 271.0h0.7v0.7h-0.7zM458.5 268.1h0.7v0.7h-0.7zM465.9 269.1h0.7v0.7h-0.7zM455.5 268.8h0.7v0.7h-0.7zM452.8 270.5h0.7v0.7h-0.7zM476.8 268.0h0.7v0.7h-0.7zM455.2 272.2h0.7v0.7h-0.7zM463.0 271.3h0.7v0.7h-0.7zM467.8 261.8h0.7v0.7h-0.7zM451.5 274.2h0.7v0.7h-0.7zM462.5 273.3h0.7v0.7h-0.7zM454.0 264.9h0.7v0.7h-0.7zM495.8 267.6h0.7v0.7h-0.7zM461.6 276.0h0.7v0.7h-0.7zM458.3 268.1h0.7v0.7h-0.7zM471.8 259.2h0.7v0.7h-0.7zM450.5 268.0h0.7v0.7h-0.7zM481.1 260.3h0.7v0.7h-0.7zM466.3 269.4h0.7v0.7h-0.7zM468.3 269.8h0.7v0.7h-0.7zM477.0 267.5h0.7v0.7h-0.7zM459.6 271.4h0.7v0.7h-0.7zM469.4 270.3h0.7v0.7h-0.7zM479.2 264.6h0.7v0.7h-0.7zM456.7 263.1h0.7v0.7h-0.7zM471.5 266.8h0.7v0.7h-0.7zM473.9 263.0h0.7v0.7h-0.7zM462.6 267.3h0.7v0.7h-0.7zM453.4 268.0h0.7v0.7h-0.7zM462.1 267.6h0.7v0.7h-0.7zM475.0 268.5h0.7v0.7h-0.7zM472.3 265.8h0.7v0.7h-0.7zM471.5 266.9h0.7v0.7h-0.7zM448.7 270.4h0.7v0.7h-0.7zM464.4 272.1h0.7v0.7h-0.7zM452.3 280.3h0.7v0.7h-0.7zM463.8 266.9h0.7v0.7h-0.7zM466.4 267.3h0.7v0.7h-0.7zM465.4 263.1h0.7v0.7h-0.7zM471.7 269.0h0.7v0.7h-0.7zM491.6 261.4h0.7v0.7h-0.7zM471.2 273.5h0.7v0.7h-0.7zM457.9 274.8h0.7v0.7h-0.7zM467.8 266.4h0.7v0.7h-0.7zM457.4 280.6h0.7v0.7h-0.7zM466.8 271.8h0.7v0.7h-0.7zM468.4 260.8h0.7v0.7h-0.7zM464.2 268.4h0.7v0.7h-0.7zM482.5 268.1h0.7v0.7h-0.7zM451.6 273.0h0.7v0.7h-0.7zM438.4 277.4h0.7v0.7h-0.7zM463.4 274.3h0.7v0.7h-0.7zM475.7 262.4h0.7v0.7h-0.7zM469.6 267.4h0.7v0.7h-0.7zM464.0 269.5h0.7v0.7h-0.7zM464.5 274.2h0.7v0.7h-0.7zM464.6 279.3h0.7v0.7h-0.7zM440.9 274.1h0.7v0.7h-0.7zM461.6 267.4h0.7v0.7h-0.7zM437.2 271.0h0.7v0.7h-0.7zM464.5 265.8h0.7v0.7h-0.7zM488.6 261.3h0.7v0.7h-0.7zM467.2 264.6h0.7v0.7h-0.7zM453.8 278.5h0.7v0.7h-0.7zM452.0 272.9h0.7v0.7h-0.7zM469.9 267.7h0.7v0.7h-0.7zM475.9 270.8h0.7v0.7h-0.7zM464.1 272.9h0.7v0.7h-0.7zM479.4 266.6h0.7v0.7h-0.7zM483.1 261.1h0.7v0.7h-0.7zM482.4 261.7h0.7v0.7h-0.7zM469.5 270.6h0.7v0.7h-0.7zM478.8 277.4h0.7v0.7h-0.7zM465.3 273.9h0.7v0.7h-0.7zM444.1 276.7h0.7v0.7h-0.7zM443.7 266.0h0.7v0.7h-0.7zM454.0 276.4h0.7v0.7h-0.7zM464.7 268.8h0.7v0.7h-0.7zM460.5 266.5h0.7v0.7h-0.7zM454.4 272.8h0.7v0.7h-0.7zM435.1 280.6h0.7v0.7h-0.7zM461.8 269.5h0.7v0.7h-0.7zM459.0 275.5h0.7v0.7h-0.7zM461.4 274.4h0.7v0.7h-0.7zM451.2 274.2h0.7v0.7h-0.7zM472.5 268.6h0.7v0.7h-0.7zM460.9 265.8h0.7v0.7h-0.7zM479.8 259.5h0.7v0.7h-0.7zM485.0 271.9h0.7v0.7h-0.7zM455.4 274.6h0.7v0.7h-0.7zM478.4 260.5h0.7v0.7h-0.7zM458.0 277.8h0.7v0.7h-0.7zM478.3 270.6h0.7v0.7h-0.7zM459.8 269.7h0.7v0.7h-0.7zM454.2 264.1h0.7v0.7h-0.7zM466.1 276.4h0.7v0.7h-0.7zM470.2 272.5h0.7v0.7h-0.7zM460.6 266.1h0.7v0.7h-0.7zM454.6 264.5h0.7v0.7h-0.7zM453.0 264.8h0.7v0.7h-0.7zM467.0 275.0h0.7v0.7h-0.7zM460.1 271.2h0.7v0.7h-0.7zM464.0 269.2h0.7v0.7h-0.7zM461.1 271.7h0.7v0.7h-0.7zM441.3 276.5h0.7v0.7h-0.7zM443.8 276.3h0.7v0.7h-0.7zM448.8 274.9h0.7v0.7h-0.7zM466.0 270.7h0.7v0.7h-0.7zM455.9 270.8h0.7v0.7h-0.7zM463.8 267.2h0.7v0.7h-0.7zM455.2 275.8h0.7v0.7h-0.7zM460.2 271.6h0.7v0.7h-0.7zM458.9 267.9h0.7v0.7h-0.7zM482.9 261.7h0.7v0.7h-0.7zM466.3 269.7h0.7v0.7h-0.7zM471.3 269.8h0.7v0.7h-0.7zM448.4 275.2h0.7v0.7h-0.7zM451.5 272.4h0.7v0.7h-0.7zM470.5 259.7h0.7v0.7h-0.7zM473.8 269.3h0.7v0.7h-0.7zM450.8 278.7h0.7v0.7h-0.7zM475.9 264.0h0.7v0.7h-0.7zM452.9 275.5h0.7v0.7h-0.7zM454.6 264.0h0.7v0.7h-0.7zM457.1 272.8h0.7v0.7h-0.7zM477.6 263.1h0.7v0.7h-0.7zM462.3 269.6h0.7v0.7h-0.7zM462.5 269.2h0.7v0.7h-0.7zM474.7 268.0h0.7v0.7h-0.7zM476.2 259.4h0.7v0.7h-0.7zM475.9 262.9h0.7v0.7h-0.7zM453.7 273.0h0.7v0.7h-0.7zM471.3 271.6h0.7v0.7h-0.7zM453.1 273.7h0.7v0.7h-0.7zM475.6 261.4h0.7v0.7h-0.7zM484.4 263.2h0.7v0.7h-0.7zM442.7 273.1h0.7v0.7h-0.7zM473.3 266.1h0.7v0.7h-0.7zM473.5 268.9h0.7v0.7h-0.7zM460.1 264.6h0.7v0.7h-0.7zM467.1 263.8h0.7v0.7h-0.7zM471.4 269.3h0.7v0.7h-0.7zM464.5 271.2h0.7v0.7h-0.7zM467.9 266.1h0.7v0.7h-0.7zM443.4 267.3h0.7v0.7h-0.7zM465.3 276.5h0.7v0.7h-0.7zM457.0 268.8h0.7v0.7h-0.7zM453.5 272.6h0.7v0.7h-0.7zM463.1 269.9h0.7v0.7h-0.7zM463.0 261.2h0.7v0.7h-0.7zM439.5 277.9h0.7v0.7h-0.7zM467.1 265.5h0.7v0.7h-0.7zM466.3 271.6h0.7v0.7h-0.7zM445.7 274.6h0.7v0.7h-0.7zM459.9 268.9h0.7v0.7h-0.7zM456.1 262.2h0.7v0.7h-0.7zM467.3 270.0h0.7v0.7h-0.7zM455.7 271.7h0.7v0.7h-0.7zM457.9 269.7h0.7v0.7h-0.7zM469.6 266.1h0.7v0.7h-0.7zM492.5 263.6h0.7v0.7h-0.7zM449.5 275.3h0.7v0.7h-0.7zM472.0 258.2h0.7v0.7h-0.7zM471.8 264.5h0.7v0.7h-0.7zM460.8 268.7h0.7v0.7h-0.7zM445.7 272.9h0.7v0.7h-0.7zM463.1 268.8h0.7v0.7h-0.7zM449.7 272.7h0.7v0.7h-0.7zM462.9 265.5h0.7v0.7h-0.7zM475.6 266.9h0.7v0.7h-0.7zM474.8 265.4h0.7v0.7h-0.7zM468.9 273.5h0.7v0.7h-0.7zM469.3 267.2h0.7v0.7h-0.7zM461.6 273.1h0.7v0.7h-0.7zM465.0 266.6h0.7v0.7h-0.7zM458.5 273.7h0.7v0.7h-0.7zM454.7 271.9h0.7v0.7h-0.7zM466.6 261.1h0.7v0.7h-0.7zM475.6 265.1h0.7v0.7h-0.7zM457.7 274.5h0.7v0.7h-0.7zM463.5 269.9h0.7v0.7h-0.7zM473.3 269.9h0.7v0.7h-0.7zM467.5 270.6h0.7v0.7h-0.7zM451.7 270.1h0.7v0.7h-0.7zM474.5 265.8h0.7v0.7h-0.7zM457.4 276.1h0.7v0.7h-0.7zM479.3 267.1h0.7v0.7h-0.7zM465.4 274.6h0.7v0.7h-0.7zM459.7 267.0h0.7v0.7h-0.7zM465.2 267.7h0.7v0.7h-0.7zM467.8 265.5h0.7v0.7h-0.7zM482.8 264.0h0.7v0.7h-0.7zM472.8 270.3h0.7v0.7h-0.7zM496.1 258.9h0.7v0.7h-0.7zM461.4 272.1h0.7v0.7h-0.7zM472.4 268.7h0.7v0.7h-0.7zM470.6 272.7h0.7v0.7h-0.7zM479.6 268.9h0.7v0.7h-0.7zM438.6 275.0h0.7v0.7h-0.7zM454.3 269.8h0.7v0.7h-0.7zM461.1 278.0h0.7v0.7h-0.7zM467.9 263.8h0.7v0.7h-0.7zM468.2 271.7h0.7v0.7h-0.7zM481.5 264.5h0.7v0.7h-0.7zM460.8 266.7h0.7v0.7h-0.7zM463.2 268.8h0.7v0.7h-0.7zM448.2 270.2h0.7v0.7h-0.7zM487.5 267.1h0.7v0.7h-0.7zM449.1 279.2h0.7v0.7h-0.7zM473.3 260.9h0.7v0.7h-0.7zM463.5 270.9h0.7v0.7h-0.7zM436.1 274.7h0.7v0.7h-0.7zM459.8 274.5h0.7v0.7h-0.7zM458.3 272.1h0.7v0.7h-0.7zM468.4 263.5h0.7v0.7h-0.7zM448.9 276.0h0.7v0.7h-0.7zM472.3 270.6h0.7v0.7h-0.7zM462.4 266.8h0.7v0.7h-0.7zM445.1 282.3h0.7v0.7h-0.7zM443.1 275.4h0.7v0.7h-0.7zM463.8 262.6h0.7v0.7h-0.7zM463.0 271.6h0.7v0.7h-0.7zM468.7 265.2h0.7v0.7h-0.7zM456.0 270.5h0.7v0.7h-0.7zM466.3 268.6h0.7v0.7h-0.7zM422.6 276.0h0.7v0.7h-0.7zM455.7 270.1h0.7v0.7h-0.7zM467.9 264.5h0.7v0.7h-0.7zM442.8 275.1h0.7v0.7h-0.7zM469.2 270.6h0.7v0.7h-0.7zM477.9 267.9h0.7v0.7h-0.7zM465.8 273.2h0.7v0.7h-0.7zM470.0 260.3h0.7v0.7h-0.7zM488.9 263.5h0.7v0.7h-0.7zM462.2 267.9h0.7v0.7h-0.7zM458.2 266.6h0.7v0.7h-0.7zM469.4 265.8h0.7v0.7h-0.7zM466.7 262.8h0.7v0.7h-0.7zM475.4 269.0h0.7v0.7h-0.7zM476.3 268.2h0.7v0.7h-0.7zM472.9 267.4h0.7v0.7h-0.7zM470.8 271.5h0.7v0.7h-0.7zM465.2 264.1h0.7v0.7h-0.7zM466.5 269.6h0.7v0.7h-0.7zM488.0 264.1h0.7v0.7h-0.7zM450.1 271.1h0.7v0.7h-0.7zM465.1 277.3h0.7v0.7h-0.7zM472.9 265.8h0.7v0.7h-0.7zM456.9 275.4h0.7v0.7h-0.7zM465.9 270.5h0.7v0.7h-0.7zM458.2 271.3h0.7v0.7h-0.7zM484.4 269.4h0.7v0.7h-0.7zM466.7 266.5h0.7v0.7h-0.7zM459.8 265.0h0.7v0.7h-0.7zM468.8 263.7h0.7v0.7h-0.7zM467.0 267.3h0.7v0.7h-0.7zM472.2 271.4h0.7v0.7h-0.7zM469.3 270.1h0.7v0.7h-0.7zM462.3 263.6h0.7v0.7h-0.7zM467.7 272.9h0.7v0.7h-0.7zM475.7 266.3h0.7v0.7h-0.7zM480.7 260.2h0.7v0.7h-0.7zM477.9 266.8h0.7v0.7h-0.7zM467.4 270.2h0.7v0.7h-0.7zM483.4 260.5h0.7v0.7h-0.7zM478.3 267.0h0.7v0.7h-0.7zM463.4 269.4h0.7v0.7h-0.7zM453.3 272.0h0.7v0.7h-0.7zM473.7 269.2h0.7v0.7h-0.7zM462.9 274.6h0.7v0.7h-0.7zM459.6 270.9h0.7v0.7h-0.7zM477.9 262.8h0.7v0.7h-0.7zM466.9 271.9h0.7v0.7h-0.7zM479.8 268.3h0.7v0.7h-0.7zM449.0 279.2h0.7v0.7h-0.7zM458.1 274.8h0.7v0.7h-0.7zM461.1 271.6h0.7v0.7h-0.7zM451.1 280.3h0.7v0.7h-0.7zM463.4 276.5h0.7v0.7h-0.7zM472.7 269.8h0.7v0.7h-0.7zM445.5 272.1h0.7v0.7h-0.7zM474.7 267.4h0.7v0.7h-0.7zM467.2 275.2h0.7v0.7h-0.7zM466.6 267.1h0.7v0.7h-0.7zM460.9 267.0h0.7v0.7h-0.7zM467.6 270.1h0.7v0.7h-0.7zM461.3 269.5h0.7v0.7h-0.7zM463.7 270.4h0.7v0.7h-0.7zM473.4 266.6h0.7v0.7h-0.7zM457.1 268.5h0.7v0.7h-0.7zM460.6 268.6h0.7v0.7h-0.7zM467.3 266.0h0.7v0.7h-0.7zM462.0 275.9h0.7v0.7h-0.7zM456.5 266.3h0.7v0.7h-0.7zM456.9 270.7h0.7v0.7h-0.7zM464.2 271.7h0.7v0.7h-0.7zM470.6 269.2h0.7v0.7h-0.7zM452.2 278.1h0.7v0.7h-0.7zM457.0 270.0h0.7v0.7h-0.7zM464.3 271.2h0.7v0.7h-0.7zM463.1 264.6h0.7v0.7h-0.7zM475.1 262.3h0.7v0.7h-0.7zM452.4 272.4h0.7v0.7h-0.7zM464.4 269.5h0.7v0.7h-0.7zM455.1 269.5h0.7v0.7h-0.7zM455.4 270.3h0.7v0.7h-0.7zM469.6 270.6h0.7v0.7h-0.7zM476.1 269.4h0.7v0.7h-0.7zM438.5 273.9h0.7v0.7h-0.7zM452.8 273.8h0.7v0.7h-0.7zM451.7 274.0h0.7v0.7h-0.7zM478.5 263.1h0.7v0.7h-0.7zM464.4 273.1h0.7v0.7h-0.7zM454.3 270.4h0.7v0.7h-0.7zM473.8 265.4h0.7v0.7h-0.7zM473.3 262.3h0.7v0.7h-0.7zM469.8 269.3h0.7v0.7h-0.7zM447.7 271.8h0.7v0.7h-0.7zM458.2 273.1h0.7v0.7h-0.7zM457.8 271.4h0.7v0.7h-0.7zM452.1 279.4h0.7v0.7h-0.7zM474.9 267.9h0.7v0.7h-0.7zM460.1 271.2h0.7v0.7h-0.7zM446.8 274.3h0.7v0.7h-0.7zM438.0 273.6h0.7v0.7h-0.7zM466.4 275.5h0.7v0.7h-0.7zM475.8 269.9h0.7v0.7h-0.7zM485.1 264.0h0.7v0.7h-0.7zM472.5 265.8h0.7v0.7h-0.7zM470.7 268.0h0.7v0.7h-0.7zM438.0 276.1h0.7v0.7h-0.7zM481.8 260.6h0.7v0.7h-0.7zM472.2 272.8h0.7v0.7h-0.7zM462.2 271.1h0.7v0.7h-0.7zM457.4 267.8h0.7v0.7h-0.7zM474.9 266.0h0.7v0.7h-0.7zM459.4 274.0h0.7v0.7h-0.7zM472.9 269.9h0.7v0.7h-0.7zM488.7 261.5h0.7v0.7h-0.7zM465.4 266.8h0.7v0.7h-0.7zM460.7 273.5h0.7v0.7h-0.7zM471.1 268.2h0.7v0.7h-0.7zM473.9 264.3h0.7v0.7h-0.7zM458.8 272.0h0.7v0.7h-0.7zM457.9 260.2h0.7v0.7h-0.7zM468.7 271.6h0.7v0.7h-0.7zM456.7 264.8h0.7v0.7h-0.7zM479.2 266.2h0.7v0.7h-0.7zM466.8 269.7h0.7v0.7h-0.7zM465.2 266.3h0.7v0.7h-0.7zM460.7 272.2h0.7v0.7h-0.7zM456.6 270.0h0.7v0.7h-0.7zM470.4 267.1h0.7v0.7h-0.7zM463.2 267.3h0.7v0.7h-0.7zM476.4 263.7h0.7v0.7h-0.7zM445.5 269.1h0.7v0.7h-0.7zM464.9 268.5h0.7v0.7h-0.7zM466.1 269.9h0.7v0.7h-0.7zM474.0 272.6h0.7v0.7h-0.7zM461.2 268.3h0.7v0.7h-0.7zM454.4 276.7h0.7v0.7h-0.7zM434.2 277.2h0.7v0.7h-0.7zM481.3 258.8h0.7v0.7h-0.7zM455.8 272.1h0.7v0.7h-0.7zM473.5 270.3h0.7v0.7h-0.7zM459.3 272.1h0.7v0.7h-0.7zM468.2 267.5h0.7v0.7h-0.7zM466.7 266.9h0.7v0.7h-0.7zM463.6 270.2h0.7v0.7h-0.7zM472.6 265.1h0.7v0.7h-0.7zM464.3 270.1h0.7v0.7h-0.7zM458.9 271.8h0.7v0.7h-0.7zM461.0 272.3h0.7v0.7h-0.7zM463.3 271.2h0.7v0.7h-0.7zM458.8 270.0h0.7v0.7h-0.7zM446.9 267.7h0.7v0.7h-0.7zM483.2 270.0h0.7v0.7h-0.7zM460.7 273.1h0.7v0.7h-0.7zM438.6 278.2h0.7v0.7h-0.7zM460.1 266.2h0.7v0.7h-0.7zM473.7 270.7h0.7v0.7h-0.7zM460.3 271.3h0.7v0.7h-0.7zM463.3 264.7h0.7v0.7h-0.7zM450.7 265.7h0.7v0.7h-0.7zM454.1 270.3h0.7v0.7h-0.7zM454.7 268.5h0.7v0.7h-0.7zM465.1 269.5h0.7v0.7h-0.7zM463.0 268.9h0.7v0.7h-0.7zM459.2 267.7h0.7v0.7h-0.7zM482.6 263.7h0.7v0.7h-0.7zM468.6 271.7h0.7v0.7h-0.7zM448.9 272.4h0.7v0.7h-0.7zM472.2 265.9h0.7v0.7h-0.7zM472.5 270.1h0.7v0.7h-0.7zM465.9 273.6h0.7v0.7h-0.7zM477.4 265.4h0.7v0.7h-0.7zM477.3 269.7h0.7v0.7h-0.7zM460.9 265.5h0.7v0.7h-0.7zM467.7 271.1h0.7v0.7h-0.7zM450.6 268.2h0.7v0.7h-0.7zM469.8 270.7h0.7v0.7h-0.7zM465.1 269.3h0.7v0.7h-0.7zM457.7 269.7h0.7v0.7h-0.7zM479.7 258.3h0.7v0.7h-0.7zM454.3 275.3h0.7v0.7h-0.7zM471.5 267.3h0.7v0.7h-0.7zM460.5 271.6h0.7v0.7h-0.7zM466.7 268.3h0.7v0.7h-0.7zM454.1 270.6h0.7v0.7h-0.7zM497.7 258.6h0.7v0.7h-0.7zM495.1 259.9h0.7v0.7h-0.7zM467.7 270.4h0.7v0.7h-0.7zM455.8 272.8h0.7v0.7h-0.7zM471.2 263.5h0.7v0.7h-0.7zM457.2 267.7h0.7v0.7h-0.7zM473.0 265.4h0.7v0.7h-0.7zM474.6 269.1h0.7v0.7h-0.7zM456.0 270.2h0.7v0.7h-0.7zM446.6 279.2h0.7v0.7h-0.7zM465.7 266.1h0.7v0.7h-0.7zM468.8 269.9h0.7v0.7h-0.7zM468.5 263.9h0.7v0.7h-0.7zM472.3 267.5h0.7v0.7h-0.7zM478.4 267.3h0.7v0.7h-0.7zM445.2 273.0h0.7v0.7h-0.7zM449.1 274.7h0.7v0.7h-0.7zM462.4 271.2h0.7v0.7h-0.7zM480.0 259.0h0.7v0.7h-0.7zM471.6 272.5h0.7v0.7h-0.7zM463.1 268.5h0.7v0.7h-0.7zM465.8 265.0h0.7v0.7h-0.7zM471.7 271.6h0.7v0.7h-0.7zM470.8 264.1h0.7v0.7h-0.7zM470.4 266.7h0.7v0.7h-0.7zM465.0 266.9h0.7v0.7h-0.7zM484.9 259.9h0.7v0.7h-0.7zM463.7 275.7h0.7v0.7h-0.7zM464.9 270.2h0.7v0.7h-0.7zM480.9 265.9h0.7v0.7h-0.7zM477.6 266.6h0.7v0.7h-0.7zM457.9 271.4h0.7v0.7h-0.7zM455.1 270.7h0.7v0.7h-0.7zM467.4 266.3h0.7v0.7h-0.7zM440.4 275.2h0.7v0.7h-0.7zM465.8 266.3h0.7v0.7h-0.7zM461.1 267.8h0.7v0.7h-0.7zM469.4 267.0h0.7v0.7h-0.7zM475.7 267.9h0.7v0.7h-0.7zM452.0 273.0h0.7v0.7h-0.7zM462.1 270.3h0.7v0.7h-0.7zM462.0 264.4h0.7v0.7h-0.7zM460.1 277.5h0.7v0.7h-0.7zM462.1 271.8h0.7v0.7h-0.7zM466.0 269.5h0.7v0.7h-0.7zM462.5 269.0h0.7v0.7h-0.7zM479.7 268.9h0.7v0.7h-0.7zM462.0 268.3h0.7v0.7h-0.7zM447.1 282.0h0.7v0.7h-0.7zM472.0 264.1h0.7v0.7h-0.7zM448.7 266.4h0.7v0.7h-0.7zM450.9 274.0h0.7v0.7h-0.7zM461.9 266.4h0.7v0.7h-0.7zM477.4 264.8h0.7v0.7h-0.7zM448.6 273.3h0.7v0.7h-0.7zM459.7 281.9h0.7v0.7h-0.7zM478.1 271.3h0.7v0.7h-0.7zM471.5 271.1h0.7v0.7h-0.7zM475.4 262.1h0.7v0.7h-0.7zM455.9 270.4h0.7v0.7h-0.7zM458.2 272.6h0.7v0.7h-0.7zM449.3 275.0h0.7v0.7h-0.7zM471.4 268.0h0.7v0.7h-0.7zM486.7 260.4h0.7v0.7h-0.7zM464.6 275.1h0.7v0.7h-0.7zM470.5 261.2h0.7v0.7h-0.7zM459.8 270.7h0.7v0.7h-0.7zM454.6 268.9h0.7v0.7h-0.7zM448.3 276.3h0.7v0.7h-0.7zM460.1 274.1h0.7v0.7h-0.7zM478.0 262.2h0.7v0.7h-0.7zM466.0 266.2h0.7v0.7h-0.7zM453.6 274.1h0.7v0.7h-0.7zM473.3 264.4h0.7v0.7h-0.7zM467.6 276.5h0.7v0.7h-0.7zM465.3 271.1h0.7v0.7h-0.7zM467.0 272.0h0.7v0.7h-0.7zM456.8 272.9h0.7v0.7h-0.7zM463.5 263.6h0.7v0.7h-0.7zM475.3 272.5h0.7v0.7h-0.7zM466.6 267.9h0.7v0.7h-0.7zM468.1 263.9h0.7v0.7h-0.7zM450.8 279.6h0.7v0.7h-0.7zM468.8 267.6h0.7v0.7h-0.7zM464.9 268.6h0.7v0.7h-0.7zM457.9 271.6h0.7v0.7h-0.7zM478.5 267.5h0.7v0.7h-0.7zM469.0 269.1h0.7v0.7h-0.7zM452.9 273.5h0.7v0.7h-0.7zM462.8 268.4h0.7v0.7h-0.7zM449.3 267.0h0.7v0.7h-0.7zM471.1 263.5h0.7v0.7h-0.7zM468.8 276.5h0.7v0.7h-0.7zM466.3 264.6h0.7v0.7h-0.7zM458.7 272.2h0.7v0.7h-0.7zM468.6 261.4h0.7v0.7h-0.7zM466.3 269.0h0.7v0.7h-0.7zM459.4 273.5h0.7v0.7h-0.7zM465.1 266.8h0.7v0.7h-0.7zM462.8 262.8h0.7v0.7h-0.7zM454.1 276.0h0.7v0.7h-0.7zM476.8 271.6h0.7v0.7h-0.7zM475.2 261.8h0.7v0.7h-0.7zM480.4 268.2h0.7v0.7h-0.7zM445.9 267.7h0.7v0.7h-0.7zM463.1 261.8h0.7v0.7h-0.7zM474.3 267.3h0.7v0.7h-0.7zM459.9 274.7h0.7v0.7h-0.7zM460.0 272.8h0.7v0.7h-0.7zM440.2 273.4h0.7v0.7h-0.7zM443.8 270.4h0.7v0.7h-0.7zM461.1 271.6h0.7v0.7h-0.7zM447.4 271.6h0.7v0.7h-0.7zM465.7 265.0h0.7v0.7h-0.7zM440.8 275.5h0.7v0.7h-0.7zM464.9 271.2h0.7v0.7h-0.7zM469.5 272.0h0.7v0.7h-0.7zM465.5 261.5h0.7v0.7h-0.7zM468.0 271.5h0.7v0.7h-0.7zM468.2 273.3h0.7v0.7h-0.7zM467.2 267.2h0.7v0.7h-0.7zM450.6 268.1h0.7v0.7h-0.7zM473.3 271.5h0.7v0.7h-0.7zM465.3 267.4h0.7v0.7h-0.7zM460.0 269.5h0.7v0.7h-0.7zM462.8 266.8h0.7v0.7h-0.7zM465.6 270.1h0.7v0.7h-0.7zM486.7 264.5h0.7v0.7h-0.7zM462.9 268.2h0.7v0.7h-0.7zM453.9 272.5h0.7v0.7h-0.7zM456.7 276.0h0.7v0.7h-0.7zM453.3 274.7h0.7v0.7h-0.7zM480.7 260.5h0.7v0.7h-0.7zM450.9 277.9h0.7v0.7h-0.7zM465.2 277.1h0.7v0.7h-0.7zM463.4 265.5h0.7v0.7h-0.7zM477.8 263.1h0.7v0.7h-0.7zM475.9 270.2h0.7v0.7h-0.7zM482.7 265.0h0.7v0.7h-0.7zM459.0 265.2h0.7v0.7h-0.7zM453.7 273.9h0.7v0.7h-0.7zM475.7 260.8h0.7v0.7h-0.7zM463.1 269.4h0.7v0.7h-0.7zM454.1 263.2h0.7v0.7h-0.7zM453.6 274.3h0.7v0.7h-0.7zM470.4 269.0h0.7v0.7h-0.7zM470.2 263.1h0.7v0.7h-0.7zM444.3 270.9h0.7v0.7h-0.7zM480.8 259.6h0.7v0.7h-0.7zM461.1 266.9h0.7v0.7h-0.7zM472.7 262.0h0.7v0.7h-0.7zM457.3 265.4h0.7v0.7h-0.7zM468.4 268.4h0.7v0.7h-0.7zM460.2 269.1h0.7v0.7h-0.7zM460.9 267.7h0.7v0.7h-0.7zM489.2 266.5h0.7v0.7h-0.7zM472.6 267.5h0.7v0.7h-0.7zM450.2 276.5h0.7v0.7h-0.7zM469.2 269.0h0.7v0.7h-0.7zM468.5 273.1h0.7v0.7h-0.7zM486.9 260.0h0.7v0.7h-0.7zM469.3 267.9h0.7v0.7h-0.7zM461.4 269.4h0.7v0.7h-0.7zM456.6 273.6h0.7v0.7h-0.7zM473.3 275.0h0.7v0.7h-0.7zM444.4 274.9h0.7v0.7h-0.7zM462.7 281.1h0.7v0.7h-0.7zM465.4 268.4h0.7v0.7h-0.7zM452.2 267.7h0.7v0.7h-0.7zM444.7 269.9h0.7v0.7h-0.7zM475.7 272.5h0.7v0.7h-0.7zM434.7 276.8h0.7v0.7h-0.7zM459.6 272.8h0.7v0.7h-0.7zM441.8 271.5h0.7v0.7h-0.7zM469.9 272.0h0.7v0.7h-0.7zM455.1 264.0h0.7v0.7h-0.7zM461.4 273.3h0.7v0.7h-0.7zM458.5 268.6h0.7v0.7h-0.7zM468.9 268.3h0.7v0.7h-0.7zM448.9 278.0h0.7v0.7h-0.7zM468.9 264.9h0.7v0.7h-0.7zM479.5 269.4h0.7v0.7h-0.7zM496.8 266.7h0.7v0.7h-0.7zM464.3 266.4h0.7v0.7h-0.7zM467.7 270.0h0.7v0.7h-0.7zM469.3 265.6h0.7v0.7h-0.7zM447.6 269.8h0.7v0.7h-0.7zM467.5 271.6h0.7v0.7h-0.7zM463.1 273.6h0.7v0.7h-0.7zM467.1 266.6h0.7v0.7h-0.7zM466.6 266.7h0.7v0.7h-0.7zM454.1 271.0h0.7v0.7h-0.7zM464.7 271.6h0.7v0.7h-0.7zM458.0 261.5h0.7v0.7h-0.7zM468.1 270.5h0.7v0.7h-0.7zM459.1 270.4h0.7v0.7h-0.7zM449.0 268.0h0.7v0.7h-0.7zM474.6 267.4h0.7v0.7h-0.7zM470.5 265.6h0.7v0.7h-0.7zM475.0 267.1h0.7v0.7h-0.7zM446.2 272.6h0.7v0.7h-0.7zM460.3 270.6h0.7v0.7h-0.7zM452.8 268.5h0.7v0.7h-0.7zM452.0 272.5h0.7v0.7h-0.7zM472.8 269.6h0.7v0.7h-0.7zM480.8 270.3h0.7v0.7h-0.7zM463.2 266.5h0.7v0.7h-0.7zM459.4 267.5h0.7v0.7h-0.7zM456.6 268.6h0.7v0.7h-0.7zM461.3 264.7h0.7v0.7h-0.7zM458.5 279.0h0.7v0.7h-0.7zM432.0 285.8h0.7v0.7h-0.7zM460.1 270.7h0.7v0.7h-0.7zM459.5 269.3h0.7v0.7h-0.7zM470.8 265.7h0.7v0.7h-0.7zM456.2 271.4h0.7v0.7h-0.7zM457.5 270.8h0.7v0.7h-0.7zM470.1 269.2h0.7v0.7h-0.7zM463.6 263.5h0.7v0.7h-0.7zM470.1 272.2h0.7v0.7h-0.7zM458.5 272.6h0.7v0.7h-0.7zM472.4 271.2h0.7v0.7h-0.7zM472.5 268.0h0.7v0.7h-0.7zM471.8 263.7h0.7v0.7h-0.7zM471.8 266.0h0.7v0.7h-0.7zM452.5 266.5h0.7v0.7h-0.7zM451.2 273.4h0.7v0.7h-0.7zM443.3 273.3h0.7v0.7h-0.7zM455.9 271.3h0.7v0.7h-0.7zM450.8 273.8h0.7v0.7h-0.7zM454.2 272.7h0.7v0.7h-0.7zM470.8 263.2h0.7v0.7h-0.7zM468.6 268.6h0.7v0.7h-0.7zM473.6 255.7h0.7v0.7h-0.7zM470.4 265.0h0.7v0.7h-0.7zM471.6 267.1h0.7v0.7h-0.7zM465.8 267.3h0.7v0.7h-0.7zM470.3 276.2h0.7v0.7h-0.7zM456.5 272.0h0.7v0.7h-0.7zM469.9 274.4h0.7v0.7h-0.7zM462.0 272.3h0.7v0.7h-0.7zM451.1 275.5h0.7v0.7h-0.7zM457.4 265.2h0.7v0.7h-0.7zM462.9 271.7h0.7v0.7h-0.7zM453.6 269.7h0.7v0.7h-0.7zM460.0 268.1h0.7v0.7h-0.7zM467.6 264.7h0.7v0.7h-0.7zM470.1 265.2h0.7v0.7h-0.7zM487.1 258.6h0.7v0.7h-0.7zM473.2 263.7h0.7v0.7h-0.7zM465.2 267.8h0.7v0.7h-0.7zM459.2 266.9h0.7v0.7h-0.7zM468.8 271.8h0.7v0.7h-0.7zM450.1 267.4h0.7v0.7h-0.7zM481.0 260.5h0.7v0.7h-0.7zM452.8 273.7h0.7v0.7h-0.7zM467.4 274.4h0.7v0.7h-0.7zM466.4 274.6h0.7v0.7h-0.7zM469.6 268.6h0.7v0.7h-0.7zM449.5 275.6h0.7v0.7h-0.7zM443.3 278.2h0.7v0.7h-0.7zM485.6 265.5h0.7v0.7h-0.7zM475.0 267.3h0.7v0.7h-0.7zM453.3 273.2h0.7v0.7h-0.7zM447.2 277.3h0.7v0.7h-0.7zM454.3 270.9h0.7v0.7h-0.7zM454.4 278.7h0.7v0.7h-0.7zM464.2 271.4h0.7v0.7h-0.7zM460.2 270.8h0.7v0.7h-0.7zM456.3 268.1h0.7v0.7h-0.7zM458.6 275.7h0.7v0.7h-0.7zM458.7 270.9h0.7v0.7h-0.7zM485.6 265.1h0.7v0.7h-0.7zM474.2 265.9h0.7v0.7h-0.7zM471.2 271.2h0.7v0.7h-0.7zM461.7 274.6h0.7v0.7h-0.7zM474.6 258.0h0.7v0.7h-0.7zM487.6 266.2h0.7v0.7h-0.7zM482.6 272.5h0.7v0.7h-0.7zM474.2 267.5h0.7v0.7h-0.7zM476.1 263.0h0.7v0.7h-0.7zM445.8 273.6h0.7v0.7h-0.7zM469.9 265.0h0.7v0.7h-0.7zM474.2 261.7h0.7v0.7h-0.7zM460.4 277.7h0.7v0.7h-0.7zM460.6 273.9h0.7v0.7h-0.7zM449.4 271.7h0.7v0.7h-0.7zM476.8 259.5h0.7v0.7h-0.7zM458.8 265.2h0.7v0.7h-0.7zM462.5 264.0h0.7v0.7h-0.7zM456.7 269.4h0.7v0.7h-0.7zM451.6 273.3h0.7v0.7h-0.7zM473.6 266.1h0.7v0.7h-0.7zM457.9 277.9h0.7v0.7h-0.7zM478.2 263.9h0.7v0.7h-0.7zM463.9 267.4h0.7v0.7h-0.7zM460.2 269.5h0.7v0.7h-0.7zM460.5 263.3h0.7v0.7h-0.7zM447.0 274.7h0.7v0.7h-0.7zM457.1 272.7h0.7v0.7h-0.7zM450.0 277.5h0.7v0.7h-0.7zM465.7 266.3h0.7v0.7h-0.7zM461.9 272.4h0.7v0.7h-0.7zM459.1 271.0h0.7v0.7h-0.7zM474.8 266.7h0.7v0.7h-0.7zM469.3 264.5h0.7v0.7h-0.7zM468.3 268.1h0.7v0.7h-0.7zM470.9 277.6h0.7v0.7h-0.7zM467.9 267.6h0.7v0.7h-0.7zM457.7 275.7h0.7v0.7h-0.7zM449.5 271.5h0.7v0.7h-0.7zM474.0 261.3h0.7v0.7h-0.7zM452.5 271.4h0.7v0.7h-0.7zM475.3 270.0h0.7v0.7h-0.7zM467.3 265.8h0.7v0.7h-0.7zM479.8 268.3h0.7v0.7h-0.7zM483.5 267.0h0.7v0.7h-0.7zM458.1 272.8h0.7v0.7h-0.7zM455.5 279.0h0.7v0.7h-0.7zM460.3 263.4h0.7v0.7h-0.7zM456.7 273.3h0.7v0.7h-0.7zM463.7 272.5h0.7v0.7h-0.7zM456.8 270.1h0.7v0.7h-0.7zM470.2 266.5h0.7v0.7h-0.7zM465.5 265.4h0.7v0.7h-0.7zM468.4 273.3h0.7v0.7h-0.7zM468.3 277.5h0.7v0.7h-0.7zM449.1 268.5h0.7v0.7h-0.7zM462.7 263.1h0.7v0.7h-0.7zM457.0 271.8h0.7v0.7h-0.7zM453.8 271.7h0.7v0.7h-0.7zM449.9 276.3h0.7v0.7h-0.7zM465.3 262.6h0.7v0.7h-0.7zM474.5 264.4h0.7v0.7h-0.7zM467.6 260.8h0.7v0.7h-0.7zM450.3 277.0h0.7v0.7h-0.7zM475.3 269.0h0.7v0.7h-0.7zM454.5 273.3h0.7v0.7h-0.7zM485.3 262.4h0.7v0.7h-0.7zM470.2 266.2h0.7v0.7h-0.7zM461.2 272.3h0.7v0.7h-0.7zM454.4 275.9h0.7v0.7h-0.7zM475.1 265.7h0.7v0.7h-0.7zM460.3 264.6h0.7v0.7h-0.7zM468.6 270.5h0.7v0.7h-0.7zM461.8 267.8h0.7v0.7h-0.7zM459.0 269.4h0.7v0.7h-0.7zM496.0 261.6h0.7v0.7h-0.7zM451.2 277.0h0.7v0.7h-0.7zM460.4 264.1h0.7v0.7h-0.7zM488.4 258.7h0.7v0.7h-0.7zM460.3 271.4h0.7v0.7h-0.7zM479.1 264.3h0.7v0.7h-0.7zM480.6 263.1h0.7v0.7h-0.7zM458.8 268.5h0.7v0.7h-0.7zM455.8 270.3h0.7v0.7h-0.7zM482.6 262.7h0.7v0.7h-0.7zM468.3 269.1h0.7v0.7h-0.7zM462.6 268.4h0.7v0.7h-0.7zM468.3 267.9h0.7v0.7h-0.7zM439.1 274.1h0.7v0.7h-0.7zM442.8 279.4h0.7v0.7h-0.7zM459.4 269.0h0.7v0.7h-0.7zM476.0 262.1h0.7v0.7h-0.7zM452.6 268.7h0.7v0.7h-0.7zM470.0 268.5h0.7v0.7h-0.7zM462.2 272.5h0.7v0.7h-0.7zM480.2 260.3h0.7v0.7h-0.7zM464.9 266.4h0.7v0.7h-0.7zM462.3 270.8h0.7v0.7h-0.7zM448.1 266.2h0.7v0.7h-0.7zM474.5 265.0h0.7v0.7h-0.7zM472.2 263.8h0.7v0.7h-0.7zM473.6 266.7h0.7v0.7h-0.7zM475.7 264.4h0.7v0.7h-0.7zM451.3 268.3h0.7v0.7h-0.7zM464.0 271.5h0.7v0.7h-0.7zM453.7 274.1h0.7v0.7h-0.7zM468.9 263.4h0.7v0.7h-0.7zM459.4 271.1h0.7v0.7h-0.7zM470.9 269.2h0.7v0.7h-0.7zM459.4 269.7h0.7v0.7h-0.7zM472.4 270.3h0.7v0.7h-0.7zM465.3 273.9h0.7v0.7h-0.7zM469.3 265.3h0.7v0.7h-0.7zM473.8 267.2h0.7v0.7h-0.7zM473.3 270.6h0.7v0.7h-0.7zM475.7 269.4h0.7v0.7h-0.7zM483.3 264.6h0.7v0.7h-0.7zM450.5 268.9h0.7v0.7h-0.7zM437.6 269.6h0.7v0.7h-0.7zM458.2 269.3h0.7v0.7h-0.7zM463.9 273.5h0.7v0.7h-0.7zM471.0 272.7h0.7v0.7h-0.7zM466.9 266.0h0.7v0.7h-0.7zM472.0 270.2h0.7v0.7h-0.7zM450.6 272.7h0.7v0.7h-0.7zM468.2 266.3h0.7v0.7h-0.7zM483.6 265.8h0.7v0.7h-0.7zM473.6 266.0h0.7v0.7h-0.7zM460.5 263.3h0.7v0.7h-0.7zM459.6 273.2h0.7v0.7h-0.7zM458.2 270.2h0.7v0.7h-0.7zM441.0 273.0h0.7v0.7h-0.7zM463.7 269.1h0.7v0.7h-0.7zM456.4 270.2h0.7v0.7h-0.7zM473.5 270.2h0.7v0.7h-0.7zM472.2 271.7h0.7v0.7h-0.7zM453.1 275.3h0.7v0.7h-0.7zM468.9 267.6h0.7v0.7h-0.7zM467.1 271.2h0.7v0.7h-0.7zM456.1 279.0h0.7v0.7h-0.7zM465.9 274.5h0.7v0.7h-0.7zM454.2 272.2h0.7v0.7h-0.7zM460.2 265.0h0.7v0.7h-0.7zM473.3 260.3h0.7v0.7h-0.7zM471.9 266.8h0.7v0.7h-0.7zM468.8 265.0h0.7v0.7h-0.7zM464.2 271.2h0.7v0.7h-0.7zM455.6 272.2h0.7v0.7h-0.7zM465.6 265.8h0.7v0.7h-0.7zM465.9 271.2h0.7v0.7h-0.7zM460.6 265.1h0.7v0.7h-0.7zM456.7 269.0h0.7v0.7h-0.7zM465.9 264.4h0.7v0.7h-0.7zM470.8 263.4h0.7v0.7h-0.7zM467.3 263.5h0.7v0.7h-0.7zM463.0 271.2h0.7v0.7h-0.7zM462.3 277.2h0.7v0.7h-0.7zM458.9 264.4h0.7v0.7h-0.7zM465.0 274.4h0.7v0.7h-0.7zM455.6 272.5h0.7v0.7h-0.7zM467.0 271.3h0.7v0.7h-0.7zM464.9 273.3h0.7v0.7h-0.7zM452.1 272.8h0.7v0.7h-0.7zM451.2 271.9h0.7v0.7h-0.7zM446.6 272.3h0.7v0.7h-0.7zM457.0 278.0h0.7v0.7h-0.7zM467.8 276.6h0.7v0.7h-0.7zM463.8 270.8h0.7v0.7h-0.7zM471.6 271.1h0.7v0.7h-0.7zM455.3 270.3h0.7v0.7h-0.7zM477.0 263.9h0.7v0.7h-0.7zM462.5 264.3h0.7v0.7h-0.7zM448.9 271.9h0.7v0.7h-0.7zM458.1 270.7h0.7v0.7h-0.7zM475.8 260.8h0.7v0.7h-0.7zM462.3 267.6h0.7v0.7h-0.7zM463.5 269.7h0.7v0.7h-0.7zM452.5 269.9h0.7v0.7h-0.7zM441.6 282.5h0.7v0.7h-0.7zM456.6 277.2h0.7v0.7h-0.7zM450.6 270.3h0.7v0.7h-0.7zM449.5 276.5h0.7v0.7h-0.7zM462.1 270.4h0.7v0.7h-0.7zM435.5 277.2h0.7v0.7h-0.7zM466.2 266.8h0.7v0.7h-0.7zM468.1 267.4h0.7v0.7h-0.7zM478.5 268.0h0.7v0.7h-0.7zM450.0 271.2h0.7v0.7h-0.7zM466.4 265.2h0.7v0.7h-0.7zM466.9 270.9h0.7v0.7h-0.7zM458.4 271.6h0.7v0.7h-0.7zM460.2 272.6h0.7v0.7h-0.7zM432.6 277.6h0.7v0.7h-0.7zM462.1 267.6h0.7v0.7h-0.7zM477.1 259.7h0.7v0.7h-0.7zM465.7 264.7h0.7v0.7h-0.7zM447.7 272.7h0.7v0.7h-0.7zM444.1 273.8h0.7v0.7h-0.7zM490.8 264.5h0.7v0.7h-0.7zM466.0 262.9h0.7v0.7h-0.7zM439.1 273.9h0.7v0.7h-0.7zM450.9 274.1h0.7v0.7h-0.7zM449.1 271.4h0.7v0.7h-0.7zM487.4 258.7h0.7v0.7h-0.7zM472.9 268.8h0.7v0.7h-0.7zM489.1 257.2h0.7v0.7h-0.7zM456.5 270.2h0.7v0.7h-0.7zM468.9 267.6h0.7v0.7h-0.7zM479.1 266.5h0.7v0.7h-0.7zM453.0 273.6h0.7v0.7h-0.7zM481.9 265.3h0.7v0.7h-0.7zM463.3 273.5h0.7v0.7h-0.7zM456.8 272.9h0.7v0.7h-0.7zM478.7 266.4h0.7v0.7h-0.7zM466.1 272.9h0.7v0.7h-0.7zM482.5 265.8h0.7v0.7h-0.7zM489.3 260.4h0.7v0.7h-0.7zM448.8 274.5h0.7v0.7h-0.7zM465.4 272.2h0.7v0.7h-0.7zM488.7 265.0h0.7v0.7h-0.7zM467.0 272.0h0.7v0.7h-0.7zM447.2 273.6h0.7v0.7h-0.7zM463.9 274.2h0.7v0.7h-0.7zM472.1 268.5h0.7v0.7h-0.7zM466.8 266.1h0.7v0.7h-0.7zM452.4 271.9h0.7v0.7h-0.7zM463.8 271.4h0.7v0.7h-0.7zM472.8 266.2h0.7v0.7h-0.7zM464.3 264.5h0.7v0.7h-0.7zM474.6 259.0h0.7v0.7h-0.7zM460.4 268.7h0.7v0.7h-0.7zM458.2 274.3h0.7v0.7h-0.7zM469.2 275.5h0.7v0.7h-0.7zM463.0 264.7h0.7v0.7h-0.7zM478.5 264.3h0.7v0.7h-0.7zM471.4 273.3h0.7v0.7h-0.7zM482.7 267.4h0.7v0.7h-0.7zM457.4 273.5h0.7v0.7h-0.7zM467.5 262.2h0.7v0.7h-0.7zM456.2 272.1h0.7v0.7h-0.7zM473.3 265.2h0.7v0.7h-0.7zM459.8 260.5h0.7v0.7h-0.7zM486.0 258.0h0.7v0.7h-0.7zM468.7 274.6h0.7v0.7h-0.7zM451.7 276.9h0.7v0.7h-0.7zM454.2 270.9h0.7v0.7h-0.7zM449.0 273.0h0.7v0.7h-0.7zM466.1 270.4h0.7v0.7h-0.7zM474.2 266.8h0.7v0.7h-0.7zM450.4 272.2h0.7v0.7h-0.7zM443.3 269.3h0.7v0.7h-0.7zM460.6 272.9h0.7v0.7h-0.7zM456.2 271.3h0.7v0.7h-0.7zM470.2 266.7h0.7v0.7h-0.7zM458.5 273.5h0.7v0.7h-0.7zM467.4 271.1h0.7v0.7h-0.7zM452.3 272.4h0.7v0.7h-0.7zM468.2 265.5h0.7v0.7h-0.7zM470.6 270.8h0.7v0.7h-0.7zM454.0 274.5h0.7v0.7h-0.7zM467.0 273.8h0.7v0.7h-0.7zM445.0 273.7h0.7v0.7h-0.7zM473.4 271.0h0.7v0.7h-0.7zM466.0 269.0h0.7v0.7h-0.7zM460.8 276.5h0.7v0.7h-0.7zM471.6 270.3h0.7v0.7h-0.7zM468.5 265.1h0.7v0.7h-0.7zM481.2 266.3h0.7v0.7h-0.7zM470.6 263.6h0.7v0.7h-0.7zM478.9 268.6h0.7v0.7h-0.7zM476.8 263.2h0.7v0.7h-0.7zM439.4 274.9h0.7v0.7h-0.7zM464.5 265.5h0.7v0.7h-0.7zM458.3 265.2h0.7v0.7h-0.7zM463.3 267.0h0.7v0.7h-0.7zM453.9 273.5h0.7v0.7h-0.7zM455.0 275.9h0.7v0.7h-0.7zM459.0 269.7h0.7v0.7h-0.7zM462.3 276.7h0.7v0.7h-0.7zM467.1 269.8h0.7v0.7h-0.7zM461.1 268.5h0.7v0.7h-0.7zM442.8 275.2h0.7v0.7h-0.7zM480.3 265.7h0.7v0.7h-0.7zM469.6 270.0h0.7v0.7h-0.7zM467.8 263.5h0.7v0.7h-0.7zM470.7 267.1h0.7v0.7h-0.7zM467.3 270.7h0.7v0.7h-0.7zM466.4 266.9h0.7v0.7h-0.7zM451.7 268.3h0.7v0.7h-0.7zM488.3 267.4h0.7v0.7h-0.7zM481.6 257.0h0.7v0.7h-0.7zM459.0 270.2h0.7v0.7h-0.7zM457.6 273.4h0.7v0.7h-0.7zM451.2 269.9h0.7v0.7h-0.7zM471.3 262.7h0.7v0.7h-0.7zM453.6 271.2h0.7v0.7h-0.7zM471.8 267.6h0.7v0.7h-0.7zM462.4 268.2h0.7v0.7h-0.7zM463.5 271.1h0.7v0.7h-0.7zM482.8 258.4h0.7v0.7h-0.7zM464.3 263.3h0.7v0.7h-0.7zM480.8 256.9h0.7v0.7h-0.7zM464.4 272.2h0.7v0.7h-0.7zM468.5 268.3h0.7v0.7h-0.7zM461.8 269.1h0.7v0.7h-0.7zM447.0 274.6h0.7v0.7h-0.7zM458.8 276.7h0.7v0.7h-0.7zM467.0 270.6h0.7v0.7h-0.7zM464.2 272.4h0.7v0.7h-0.7zM460.1 267.4h0.7v0.7h-0.7zM461.5 268.3h0.7v0.7h-0.7zM467.9 271.0h0.7v0.7h-0.7zM467.6 265.5h0.7v0.7h-0.7zM467.8 269.2h0.7v0.7h-0.7zM458.1 269.8h0.7v0.7h-0.7zM461.2 268.3h0.7v0.7h-0.7zM455.4 277.8h0.7v0.7h-0.7zM461.0 269.4h0.7v0.7h-0.7zM447.6 269.1h0.7v0.7h-0.7zM452.9 275.9h0.7v0.7h-0.7zM463.2 273.9h0.7v0.7h-0.7zM457.7 269.8h0.7v0.7h-0.7zM460.8 277.4h0.7v0.7h-0.7zM457.9 273.2h0.7v0.7h-0.7zM452.8 278.4h0.7v0.7h-0.7zM463.4 270.7h0.7v0.7h-0.7zM476.3 262.0h0.7v0.7h-0.7zM466.6 273.4h0.7v0.7h-0.7zM470.5 267.5h0.7v0.7h-0.7zM457.4 276.9h0.7v0.7h-0.7zM473.0 261.9h0.7v0.7h-0.7zM466.7 270.0h0.7v0.7h-0.7zM470.1 271.4h0.7v0.7h-0.7zM468.2 263.4h0.7v0.7h-0.7zM457.3 266.7h0.7v0.7h-0.7zM456.6 265.2h0.7v0.7h-0.7zM468.9 262.9h0.7v0.7h-0.7zM450.3 274.3h0.7v0.7h-0.7zM470.0 269.4h0.7v0.7h-0.7zM463.5 263.6h0.7v0.7h-0.7zM475.9 268.3h0.7v0.7h-0.7zM475.3 264.0h0.7v0.7h-0.7zM459.1 267.1h0.7v0.7h-0.7zM474.3 262.9h0.7v0.7h-0.7zM469.6 273.2h0.7v0.7h-0.7zM437.4 278.8h0.7v0.7h-0.7zM464.8 272.5h0.7v0.7h-0.7zM460.2 270.9h0.7v0.7h-0.7zM449.4 269.8h0.7v0.7h-0.7zM496.4 262.6h0.7v0.7h-0.7zM458.2 269.1h0.7v0.7h-0.7zM471.7 267.5h0.7v0.7h-0.7zM457.4 267.6h0.7v0.7h-0.7zM463.1 276.5h0.7v0.7h-0.7zM474.4 261.8h0.7v0.7h-0.7zM473.9 259.9h0.7v0.7h-0.7zM449.9 269.5h0.7v0.7h-0.7zM466.3 271.2h0.7v0.7h-0.7zM443.6 274.7h0.7v0.7h-0.7zM464.6 271.8h0.7v0.7h-0.7zM454.0 272.5h0.7v0.7h-0.7zM476.3 268.4h0.7v0.7h-0.7zM460.5 269.4h0.7v0.7h-0.7zM483.7 259.1h0.7v0.7h-0.7zM458.9 271.9h0.7v0.7h-0.7zM476.2 267.8h0.7v0.7h-0.7zM468.8 269.5h0.7v0.7h-0.7zM454.0 275.0h0.7v0.7h-0.7zM447.5 270.0h0.7v0.7h-0.7zM456.9 272.1h0.7v0.7h-0.7zM443.1 270.9h0.7v0.7h-0.7zM453.3 272.1h0.7v0.7h-0.7zM449.5 267.5h0.7v0.7h-0.7zM477.2 267.5h0.7v0.7h-0.7zM461.1 268.1h0.7v0.7h-0.7zM472.2 266.3h0.7v0.7h-0.7zM449.3 271.2h0.7v0.7h-0.7zM467.8 270.9h0.7v0.7h-0.7zM478.0 266.4h0.7v0.7h-0.7zM482.3 260.9h0.7v0.7h-0.7zM457.6 277.0h0.7v0.7h-0.7zM462.3 274.6h0.7v0.7h-0.7zM440.6 279.0h0.7v0.7h-0.7zM470.4 275.7h0.7v0.7h-0.7zM478.9 261.4h0.7v0.7h-0.7zM453.4 267.8h0.7v0.7h-0.7zM491.1 265.5h0.7v0.7h-0.7zM466.7 273.5h0.7v0.7h-0.7zM473.6 259.2h0.7v0.7h-0.7zM473.4 262.1h0.7v0.7h-0.7zM475.7 266.7h0.7v0.7h-0.7zM460.0 267.9h0.7v0.7h-0.7zM466.5 272.9h0.7v0.7h-0.7zM466.6 267.2h0.7v0.7h-0.7zM479.8 264.4h0.7v0.7h-0.7zM457.8 265.4h0.7v0.7h-0.7zM453.5 269.7h0.7v0.7h-0.7zM454.0 277.8h0.7v0.7h-0.7zM456.2 279.0h0.7v0.7h-0.7zM467.7 274.1h0.7v0.7h-0.7zM467.3 263.4h0.7v0.7h-0.7zM465.8 264.5h0.7v0.7h-0.7zM454.0 279.5h0.7v0.7h-0.7zM481.3 272.6h0.7v0.7h-0.7zM462.8 267.2h0.7v0.7h-0.7zM462.0 269.2h0.7v0.7h-0.7zM479.4 268.9h0.7v0.7h-0.7zM466.1 269.9h0.7v0.7h-0.7zM431.5 274.0h0.7v0.7h-0.7zM446.9 276.4h0.7v0.7h-0.7zM468.4 269.8h0.7v0.7h-0.7zM467.2 268.5h0.7v0.7h-0.7zM469.0 268.9h0.7v0.7h-0.7zM470.0 266.5h0.7v0.7h-0.7zM465.3 269.0h0.7v0.7h-0.7zM444.9 275.9h0.7v0.7h-0.7zM447.5 271.0h0.7v0.7h-0.7zM466.0 274.6h0.7v0.7h-0.7zM458.1 272.0h0.7v0.7h-0.7zM476.5 265.6h0.7v0.7h-0.7zM485.2 260.3h0.7v0.7h-0.7zM468.7 266.9h0.7v0.7h-0.7zM478.1 270.4h0.7v0.7h-0.7zM467.8 267.9h0.7v0.7h-0.7zM470.0 265.9h0.7v0.7h-0.7zM443.9 272.4h0.7v0.7h-0.7zM452.8 271.1h0.7v0.7h-0.7zM483.2 265.1h0.7v0.7h-0.7zM455.8 270.2h0.7v0.7h-0.7zM475.9 266.5h0.7v0.7h-0.7zM488.5 268.9h0.7v0.7h-0.7zM467.3 268.7h0.7v0.7h-0.7zM455.9 262.6h0.7v0.7h-0.7zM459.0 271.9h0.7v0.7h-0.7zM460.5 276.2h0.7v0.7h-0.7zM462.6 272.5h0.7v0.7h-0.7zM470.8 266.0h0.7v0.7h-0.7zM457.2 271.8h0.7v0.7h-0.7zM466.1 270.7h0.7v0.7h-0.7zM444.5 272.3h0.7v0.7h-0.7zM483.8 264.7h0.7v0.7h-0.7zM439.0 272.0h0.7v0.7h-0.7zM470.1 266.2h0.7v0.7h-0.7zM471.9 270.1h0.7v0.7h-0.7zM441.0 270.8h0.7v0.7h-0.7zM466.6 263.5h0.7v0.7h-0.7zM467.1 267.0h0.7v0.7h-0.7zM466.6 265.0h0.7v0.7h-0.7zM438.0 279.2h0.7v0.7h-0.7zM463.8 269.5h0.7v0.7h-0.7zM464.3 271.2h0.7v0.7h-0.7zM451.9 271.4h0.7v0.7h-0.7zM454.7 272.2h0.7v0.7h-0.7zM469.2 260.4h0.7v0.7h-0.7zM478.8 266.7h0.7v0.7h-0.7zM470.5 267.9h0.7v0.7h-0.7zM453.6 270.7h0.7v0.7h-0.7zM451.3 273.7h0.7v0.7h-0.7zM483.5 260.5h0.7v0.7h-0.7zM460.3 270.7h0.7v0.7h-0.7zM462.6 271.1h0.7v0.7h-0.7zM477.8 270.9h0.7v0.7h-0.7zM464.2 265.8h0.7v0.7h-0.7zM465.8 265.2h0.7v0.7h-0.7zM483.8 264.5h0.7v0.7h-0.7zM443.9 269.4h0.7v0.7h-0.7zM463.1 270.6h0.7v0.7h-0.7zM470.2 264.4h0.7v0.7h-0.7zM449.3 268.8h0.7v0.7h-0.7zM471.7 266.4h0.7v0.7h-0.7zM470.5 271.8h0.7v0.7h-0.7zM455.9 277.7h0.7v0.7h-0.7zM470.0 264.0h0.7v0.7h-0.7zM467.2 264.8h0.7v0.7h-0.7zM468.3 265.7h0.7v0.7h-0.7zM490.9 261.1h0.7v0.7h-0.7zM448.9 277.7h0.7v0.7h-0.7zM484.7 270.0h0.7v0.7h-0.7zM463.3 263.1h0.7v0.7h-0.7zM455.3 273.0h0.7v0.7h-0.7zM471.4 266.8h0.7v0.7h-0.7zM467.2 263.4h0.7v0.7h-0.7zM470.6 264.2h0.7v0.7h-0.7zM471.8 270.9h0.7v0.7h-0.7zM468.3 278.3h0.7v0.7h-0.7zM465.7 265.8h0.7v0.7h-0.7zM458.3 272.2h0.7v0.7h-0.7zM476.4 267.3h0.7v0.7h-0.7zM458.6 270.0h0.7v0.7h-0.7zM461.8 273.3h0.7v0.7h-0.7zM462.0 268.0h0.7v0.7h-0.7zM470.6 260.9h0.7v0.7h-0.7zM452.3 273.3h0.7v0.7h-0.7zM463.6 272.1h0.7v0.7h-0.7zM461.6 277.4h0.7v0.7h-0.7zM460.7 263.4h0.7v0.7h-0.7zM465.9 263.3h0.7v0.7h-0.7zM459.9 271.9h0.7v0.7h-0.7zM456.2 265.6h0.7v0.7h-0.7zM474.3 270.2h0.7v0.7h-0.7zM463.4 269.2h0.7v0.7h-0.7zM464.9 265.2h0.7v0.7h-0.7zM468.0 269.2h0.7v0.7h-0.7zM480.7 264.6h0.7v0.7h-0.7zM486.7 259.1h0.7v0.7h-0.7zM467.2 267.2h0.7v0.7h-0.7zM439.6 274.9h0.7v0.7h-0.7zM463.3 263.4h0.7v0.7h-0.7zM464.8 270.3h0.7v0.7h-0.7zM463.4 268.9h0.7v0.7h-0.7zM450.6 271.1h0.7v0.7h-0.7zM448.6 271.7h0.7v0.7h-0.7zM474.9 264.1h0.7v0.7h-0.7zM478.5 261.8h0.7v0.7h-0.7zM452.4 270.5h0.7v0.7h-0.7zM477.3 270.7h0.7v0.7h-0.7zM466.2 269.0h0.7v0.7h-0.7zM465.9 267.4h0.7v0.7h-0.7zM465.4 276.6h0.7v0.7h-0.7zM462.7 265.7h0.7v0.7h-0.7zM452.1 270.4h0.7v0.7h-0.7zM472.7 262.6h0.7v0.7h-0.7zM479.6 266.3h0.7v0.7h-0.7zM460.8 268.3h0.7v0.7h-0.7zM458.2 272.8h0.7v0.7h-0.7zM461.9 272.9h0.7v0.7h-0.7zM467.8 274.2h0.7v0.7h-0.7zM463.6 266.7h0.7v0.7h-0.7zM466.8 270.7h0.7v0.7h-0.7zM472.1 274.3h0.7v0.7h-0.7zM478.3 264.4h0.7v0.7h-0.7zM453.5 266.2h0.7v0.7h-0.7zM448.1 265.9h0.7v0.7h-0.7zM467.8 269.7h0.7v0.7h-0.7zM446.4 276.9h0.7v0.7h-0.7zM451.5 270.4h0.7v0.7h-0.7zM461.4 273.9h0.7v0.7h-0.7zM459.6 265.9h0.7v0.7h-0.7zM474.2 265.0h0.7v0.7h-0.7zM446.1 282.8h0.7v0.7h-0.7zM473.2 258.7h0.7v0.7h-0.7zM445.4 276.1h0.7v0.7h-0.7zM458.7 271.2h0.7v0.7h-0.7zM459.8 271.5h0.7v0.7h-0.7zM443.7 271.2h0.7v0.7h-0.7zM455.3 268.7h0.7v0.7h-0.7zM449.9 270.7h0.7v0.7h-0.7zM453.4 277.3h0.7v0.7h-0.7zM472.3 268.7h0.7v0.7h-0.7zM436.3 275.6h0.7v0.7h-0.7zM450.2 273.0h0.7v0.7h-0.7zM462.6 267.0h0.7v0.7h-0.7zM454.9 273.8h0.7v0.7h-0.7zM483.3 268.0h0.7v0.7h-0.7zM451.8 272.3h0.7v0.7h-0.7zM450.4 276.0h0.7v0.7h-0.7zM446.3 272.8h0.7v0.7h-0.7zM450.3 273.5h0.7v0.7h-0.7zM453.8 274.3h0.7v0.7h-0.7zM486.5 258.3h0.7v0.7h-0.7zM472.2 263.1h0.7v0.7h-0.7zM464.5 263.3h0.7v0.7h-0.7zM466.4 262.6h0.7v0.7h-0.7zM484.2 274.1h0.7v0.7h-0.7zM448.8 274.1h0.7v0.7h-0.7zM451.5 269.3h0.7v0.7h-0.7zM451.6 270.8h0.7v0.7h-0.7zM457.2 278.6h0.7v0.7h-0.7zM465.2 271.3h0.7v0.7h-0.7zM467.4 262.9h0.7v0.7h-0.7zM454.5 270.2h0.7v0.7h-0.7zM480.1 262.0h0.7v0.7h-0.7zM458.8 265.7h0.7v0.7h-0.7zM467.7 270.8h0.7v0.7h-0.7zM448.1 271.3h0.7v0.7h-0.7zM468.4 272.6h0.7v0.7h-0.7zM451.4 269.1h0.7v0.7h-0.7zM470.4 271.4h0.7v0.7h-0.7zM469.5 264.2h0.7v0.7h-0.7zM459.5 273.8h0.7v0.7h-0.7zM476.6 264.4h0.7v0.7h-0.7zM477.4 263.9h0.7v0.7h-0.7zM462.7 267.9h0.7v0.7h-0.7zM443.6 268.5h0.7v0.7h-0.7zM463.6 267.5h0.7v0.7h-0.7zM459.3 270.0h0.7v0.7h-0.7zM474.6 271.6h0.7v0.7h-0.7zM453.5 269.9h0.7v0.7h-0.7zM466.6 261.8h0.7v0.7h-0.7zM462.9 276.0h0.7v0.7h-0.7zM463.0 269.3h0.7v0.7h-0.7zM448.5 276.1h0.7v0.7h-0.7zM474.9 262.0h0.7v0.7h-0.7zM469.1 264.7h0.7v0.7h-0.7zM449.0 279.6h0.7v0.7h-0.7zM469.7 264.1h0.7v0.7h-0.7zM445.1 272.0h0.7v0.7h-0.7zM445.5 272.6h0.7v0.7h-0.7zM460.7 267.0h0.7v0.7h-0.7zM484.4 261.4h0.7v0.7h-0.7zM471.5 272.4h0.7v0.7h-0.7zM467.9 265.4h0.7v0.7h-0.7zM470.2 265.7h0.7v0.7h-0.7zM452.4 275.2h0.7v0.7h-0.7zM472.8 276.9h0.7v0.7h-0.7zM469.7 271.7h0.7v0.7h-0.7zM453.9 274.3h0.7v0.7h-0.7zM468.3 272.1h0.7v0.7h-0.7zM471.7 260.1h0.7v0.7h-0.7zM446.7 274.9h0.7v0.7h-0.7zM453.6 274.8h0.7v0.7h-0.7zM470.3 266.4h0.7v0.7h-0.7zM461.0 272.6h0.7v0.7h-0.7zM464.0 261.1h0.7v0.7h-0.7zM487.3 263.2h0.7v0.7h-0.7zM459.5 266.8h0.7v0.7h-0.7zM466.4 269.3h0.7v0.7h-0.7zM476.1 265.4h0.7v0.7h-0.7zM468.5 268.6h0.7v0.7h-0.7zM467.0 269.9h0.7v0.7h-0.7zM472.7 271.7h0.7v0.7h-0.7zM485.3 267.5h0.7v0.7h-0.7zM438.9 277.5h0.7v0.7h-0.7zM475.0 271.1h0.7v0.7h-0.7zM450.8 270.1h0.7v0.7h-0.7zM451.8 273.0h0.7v0.7h-0.7zM481.1 265.1h0.7v0.7h-0.7zM468.1 271.9h0.7v0.7h-0.7zM455.7 271.8h0.7v0.7h-0.7zM456.1 270.0h0.7v0.7h-0.7zM472.7 266.1h0.7v0.7h-0.7zM464.9 268.0h0.7v0.7h-0.7zM460.0 270.3h0.7v0.7h-0.7zM462.6 263.5h0.7v0.7h-0.7zM465.4 264.5h0.7v0.7h-0.7zM477.9 266.4h0.7v0.7h-0.7zM476.8 257.5h0.7v0.7h-0.7zM457.9 267.3h0.7v0.7h-0.7zM472.3 269.5h0.7v0.7h-0.7zM465.3 272.3h0.7v0.7h-0.7zM475.2 267.7h0.7v0.7h-0.7zM458.4 272.5h0.7v0.7h-0.7zM467.3 262.0h0.7v0.7h-0.7zM479.9 264.4h0.7v0.7h-0.7zM461.6 268.6h0.7v0.7h-0.7zM451.0 267.6h0.7v0.7h-0.7zM473.0 262.9h0.7v0.7h-0.7zM465.1 269.5h0.7v0.7h-0.7zM466.5 260.0h0.7v0.7h-0.7zM472.1 267.9h0.7v0.7h-0.7zM468.1 265.1h0.7v0.7h-0.7zM454.3 271.2h0.7v0.7h-0.7zM445.3 277.2h0.7v0.7h-0.7zM471.7 267.4h0.7v0.7h-0.7zM446.3 275.1h0.7v0.7h-0.7zM459.3 270.1h0.7v0.7h-0.7zM459.6 272.5h0.7v0.7h-0.7zM457.3 269.4h0.7v0.7h-0.7zM471.4 276.2h0.7v0.7h-0.7zM472.6 275.8h0.7v0.7h-0.7zM465.2 270.1h0.7v0.7h-0.7zM462.0 270.6h0.7v0.7h-0.7zM471.2 266.7h0.7v0.7h-0.7zM452.3 273.6h0.7v0.7h-0.7zM484.6 259.6h0.7v0.7h-0.7zM449.9 278.1h0.7v0.7h-0.7zM472.8 261.5h0.7v0.7h-0.7zM449.7 278.2h0.7v0.7h-0.7zM473.1 270.0h0.7v0.7h-0.7zM456.8 274.1h0.7v0.7h-0.7zM464.5 260.9h0.7v0.7h-0.7zM474.7 274.0h0.7v0.7h-0.7zM468.9 269.5h0.7v0.7h-0.7zM456.4 279.9h0.7v0.7h-0.7zM479.0 260.7h0.7v0.7h-0.7zM470.7 268.1h0.7v0.7h-0.7zM488.5 268.5h0.7v0.7h-0.7zM462.2 272.1h0.7v0.7h-0.7zM460.0 270.4h0.7v0.7h-0.7zM439.9 274.1h0.7v0.7h-0.7zM462.1 266.7h0.7v0.7h-0.7zM448.9 272.2h0.7v0.7h-0.7zM462.7 266.6h0.7v0.7h-0.7zM464.2 269.2h0.7v0.7h-0.7zM457.3 269.0h0.7v0.7h-0.7zM473.2 269.4h0.7v0.7h-0.7zM461.6 271.0h0.7v0.7h-0.7zM454.7 266.2h0.7v0.7h-0.7zM477.3 261.5h0.7v0.7h-0.7zM470.0 275.0h0.7v0.7h-0.7zM472.0 270.3h0.7v0.7h-0.7zM466.0 267.1h0.7v0.7h-0.7zM467.4 271.2h0.7v0.7h-0.7zM457.1 275.3h0.7v0.7h-0.7zM441.8 272.4h0.7v0.7h-0.7zM471.8 268.8h0.7v0.7h-0.7zM466.9 268.0h0.7v0.7h-0.7zM452.4 273.0h0.7v0.7h-0.7zM456.3 274.6h0.7v0.7h-0.7zM457.3 273.7h0.7v0.7h-0.7zM495.4 261.6h0.7v0.7h-0.7zM469.1 260.9h0.7v0.7h-0.7zM457.1 267.2h0.7v0.7h-0.7zM445.0 271.8h0.7v0.7h-0.7zM449.7 278.4h0.7v0.7h-0.7zM455.0 274.1h0.7v0.7h-0.7zM460.6 273.1h0.7v0.7h-0.7zM472.1 269.8h0.7v0.7h-0.7zM453.2 276.0h0.7v0.7h-0.7zM476.0 274.1h0.7v0.7h-0.7zM486.9 262.6h0.7v0.7h-0.7zM454.1 272.6h0.7v0.7h-0.7zM452.3 272.5h0.7v0.7h-0.7zM466.6 263.6h0.7v0.7h-0.7zM471.8 264.0h0.7v0.7h-0.7zM476.3 267.8h0.7v0.7h-0.7zM467.7 261.6h0.7v0.7h-0.7zM465.8 266.6h0.7v0.7h-0.7zM452.0 269.5h0.7v0.7h-0.7zM463.3 268.2h0.7v0.7h-0.7zM470.6 271.5h0.7v0.7h-0.7zM457.2 279.0h0.7v0.7h-0.7zM460.8 263.5h0.7v0.7h-0.7zM454.5 276.1h0.7v0.7h-0.7zM458.2 268.1h0.7v0.7h-0.7zM459.8 273.5h0.7v0.7h-0.7zM466.8 263.3h0.7v0.7h-0.7zM456.5 269.4h0.7v0.7h-0.7zM458.6 276.5h0.7v0.7h-0.7zM464.6 271.1h0.7v0.7h-0.7zM440.4 271.6h0.7v0.7h-0.7zM471.0 266.8h0.7v0.7h-0.7zM465.3 269.9h0.7v0.7h-0.7zM455.8 274.5h0.7v0.7h-0.7zM470.2 267.5h0.7v0.7h-0.7zM472.5 260.6h0.7v0.7h-0.7zM476.8 256.9h0.7v0.7h-0.7zM453.6 277.1h0.7v0.7h-0.7zM473.6 266.4h0.7v0.7h-0.7zM481.2 264.2h0.7v0.7h-0.7zM457.8 274.0h0.7v0.7h-0.7zM453.1 273.3h0.7v0.7h-0.7zM456.5 267.9h0.7v0.7h-0.7zM472.5 269.5h0.7v0.7h-0.7zM472.9 269.1h0.7v0.7h-0.7zM462.8 269.6h0.7v0.7h-0.7zM457.8 262.0h0.7v0.7h-0.7zM471.1 271.9h0.7v0.7h-0.7zM469.7 268.0h0.7v0.7h-0.7zM463.3 270.1h0.7v0.7h-0.7zM474.0 266.7h0.7v0.7h-0.7zM451.5 276.5h0.7v0.7h-0.7zM458.3 267.4h0.7v0.7h-0.7zM452.7 273.0h0.7v0.7h-0.7zM470.3 270.3h0.7v0.7h-0.7zM449.1 279.6h0.7v0.7h-0.7zM482.9 263.1h0.7v0.7h-0.7zM440.2 278.5h0.7v0.7h-0.7zM469.1 268.2h0.7v0.7h-0.7zM463.1 272.9h0.7v0.7h-0.7zM470.5 256.6h0.7v0.7h-0.7zM446.6 278.2h0.7v0.7h-0.7zM454.6 277.9h0.7v0.7h-0.7zM451.8 273.4h0.7v0.7h-0.7zM458.2 270.1h0.7v0.7h-0.7zM444.8 270.5h0.7v0.7h-0.7zM456.8 269.1h0.7v0.7h-0.7zM461.1 271.4h0.7v0.7h-0.7zM481.0 266.6h0.7v0.7h-0.7zM463.2 267.9h0.7v0.7h-0.7zM459.2 277.1h0.7v0.7h-0.7zM459.7 265.0h0.7v0.7h-0.7zM457.0 268.2h0.7v0.7h-0.7zM466.6 272.6h0.7v0.7h-0.7zM470.2 266.2h0.7v0.7h-0.7zM456.7 273.0h0.7v0.7h-0.7zM448.9 270.6h0.7v0.7h-0.7zM478.7 263.9h0.7v0.7h-0.7zM459.9 270.7h0.7v0.7h-0.7zM444.1 270.2h0.7v0.7h-0.7zM476.9 258.3h0.7v0.7h-0.7zM470.2 268.2h0.7v0.7h-0.7zM464.1 261.9h0.7v0.7h-0.7zM459.1 268.2h0.7v0.7h-0.7zM464.2 266.1h0.7v0.7h-0.7zM478.5 262.8h0.7v0.7h-0.7zM448.7 277.2h0.7v0.7h-0.7zM468.2 270.2h0.7v0.7h-0.7zM469.8 267.7h0.7v0.7h-0.7zM486.7 267.8h0.7v0.7h-0.7zM453.1 273.6h0.7v0.7h-0.7zM469.6 268.3h0.7v0.7h-0.7zM461.9 274.4h0.7v0.7h-0.7zM464.3 265.2h0.7v0.7h-0.7zM465.1 269.0h0.7v0.7h-0.7zM462.1 272.0h0.7v0.7h-0.7zM455.4 267.3h0.7v0.7h-0.7zM473.4 273.1h0.7v0.7h-0.7zM461.0 269.9h0.7v0.7h-0.7zM459.6 271.9h0.7v0.7h-0.7zM471.1 263.1h0.7v0.7h-0.7zM461.6 268.0h0.7v0.7h-0.7zM466.1 269.9h0.7v0.7h-0.7zM447.7 272.0h0.7v0.7h-0.7zM456.0 267.5h0.7v0.7h-0.7zM460.1 271.2h0.7v0.7h-0.7zM474.9 263.0h0.7v0.7h-0.7zM461.0 267.3h0.7v0.7h-0.7zM439.1 269.3h0.7v0.7h-0.7zM446.4 271.3h0.7v0.7h-0.7zM462.2 269.8h0.7v0.7h-0.7zM474.8 267.5h0.7v0.7h-0.7zM463.6 263.2h0.7v0.7h-0.7zM477.1 271.0h0.7v0.7h-0.7zM480.0 269.3h0.7v0.7h-0.7zM455.4 269.1h0.7v0.7h-0.7zM468.7 270.5h0.7v0.7h-0.7zM465.7 267.6h0.7v0.7h-0.7zM468.1 263.3h0.7v0.7h-0.7zM463.5 265.4h0.7v0.7h-0.7zM460.8 268.7h0.7v0.7h-0.7zM458.1 270.2h0.7v0.7h-0.7zM495.8 262.4h0.7v0.7h-0.7zM455.0 269.2h0.7v0.7h-0.7zM478.2 266.1h0.7v0.7h-0.7zM471.8 270.0h0.7v0.7h-0.7zM478.3 261.8h0.7v0.7h-0.7zM450.4 268.9h0.7v0.7h-0.7zM463.6 269.3h0.7v0.7h-0.7zM451.2 268.3h0.7v0.7h-0.7zM460.8 270.5h0.7v0.7h-0.7zM473.6 265.6h0.7v0.7h-0.7zM464.1 271.6h0.7v0.7h-0.7zM459.0 272.9h0.7v0.7h-0.7zM453.7 273.1h0.7v0.7h-0.7zM471.1 273.2h0.7v0.7h-0.7zM465.7 267.6h0.7v0.7h-0.7zM474.3 265.3h0.7v0.7h-0.7zM471.0 271.9h0.7v0.7h-0.7zM460.9 267.9h0.7v0.7h-0.7zM464.4 274.5h0.7v0.7h-0.7zM468.5 271.0h0.7v0.7h-0.7zM464.7 267.8h0.7v0.7h-0.7zM474.2 255.4h0.7v0.7h-0.7zM466.1 274.3h0.7v0.7h-0.7zM450.4 274.4h0.7v0.7h-0.7zM434.7 282.6h0.7v0.7h-0.7zM466.0 265.8h0.7v0.7h-0.7zM474.9 263.2h0.7v0.7h-0.7zM459.2 267.9h0.7v0.7h-0.7zM466.4 265.7h0.7v0.7h-0.7zM476.0 267.2h0.7v0.7h-0.7zM466.0 262.2h0.7v0.7h-0.7zM467.8 272.8h0.7v0.7h-0.7zM461.0 269.5h0.7v0.7h-0.7zM467.3 271.0h0.7v0.7h-0.7zM482.1 263.7h0.7v0.7h-0.7zM458.0 271.1h0.7v0.7h-0.7zM443.6 276.1h0.7v0.7h-0.7zM451.8 261.3h0.7v0.7h-0.7zM452.0 274.9h0.7v0.7h-0.7zM451.9 275.6h0.7v0.7h-0.7zM447.4 275.8h0.7v0.7h-0.7zM479.7 264.3h0.7v0.7h-0.7zM466.5 269.0h0.7v0.7h-0.7zM434.8 280.7h0.7v0.7h-0.7zM447.1 271.3h0.7v0.7h-0.7zM476.2 264.3h0.7v0.7h-0.7zM451.0 269.8h0.7v0.7h-0.7zM474.2 267.8h0.7v0.7h-0.7zM441.6 275.9h0.7v0.7h-0.7zM473.8 267.4h0.7v0.7h-0.7zM451.8 271.2h0.7v0.7h-0.7zM452.7 271.8h0.7v0.7h-0.7zM468.5 273.2h0.7v0.7h-0.7zM460.0 270.0h0.7v0.7h-0.7zM447.3 274.3h0.7v0.7h-0.7zM481.2 259.8h0.7v0.7h-0.7zM457.7 264.8h0.7v0.7h-0.7zM447.9 273.7h0.7v0.7h-0.7zM456.8 264.8h0.7v0.7h-0.7zM466.3 267.9h0.7v0.7h-0.7zM468.9 266.9h0.7v0.7h-0.7zM458.1 269.8h0.7v0.7h-0.7zM456.9 272.0h0.7v0.7h-0.7zM468.6 267.9h0.7v0.7h-0.7zM473.9 258.1h0.7v0.7h-0.7zM450.9 272.5h0.7v0.7h-0.7zM471.9 273.4h0.7v0.7h-0.7zM458.4 263.3h0.7v0.7h-0.7zM470.0 275.9h0.7v0.7h-0.7zM461.6 274.6h0.7v0.7h-0.7zM470.4 262.9h0.7v0.7h-0.7zM488.0 258.6h0.7v0.7h-0.7zM464.6 267.0h0.7v0.7h-0.7zM458.4 272.2h0.7v0.7h-0.7zM462.6 269.4h0.7v0.7h-0.7zM457.7 269.2h0.7v0.7h-0.7zM455.8 270.3h0.7v0.7h-0.7zM446.5 276.3h0.7v0.7h-0.7zM464.1 270.3h0.7v0.7h-0.7zM485.9 258.8h0.7v0.7h-0.7zM465.1 266.9h0.7v0.7h-0.7zM461.8 262.4h0.7v0.7h-0.7zM483.9 265.1h0.7v0.7h-0.7zM462.5 273.5h0.7v0.7h-0.7zM464.5 272.4h0.7v0.7h-0.7zM482.8 258.0h0.7v0.7h-0.7zM457.9 266.8h0.7v0.7h-0.7zM467.8 268.9h0.7v0.7h-0.7zM471.8 271.9h0.7v0.7h-0.7zM456.0 269.2h0.7v0.7h-0.7zM477.5 269.3h0.7v0.7h-0.7zM453.4 272.8h0.7v0.7h-0.7zM451.2 273.9h0.7v0.7h-0.7zM466.3 271.9h0.7v0.7h-0.7zM459.0 268.7h0.7v0.7h-0.7zM445.8 282.6h0.7v0.7h-0.7zM475.8 262.1h0.7v0.7h-0.7zM459.1 268.4h0.7v0.7h-0.7zM450.4 275.0h0.7v0.7h-0.7zM467.7 263.4h0.7v0.7h-0.7zM485.1 267.8h0.7v0.7h-0.7zM459.3 271.2h0.7v0.7h-0.7zM449.6 269.9h0.7v0.7h-0.7zM472.2 265.9h0.7v0.7h-0.7zM453.1 276.5h0.7v0.7h-0.7zM455.4 270.4h0.7v0.7h-0.7zM475.7 263.4h0.7v0.7h-0.7zM468.5 267.8h0.7v0.7h-0.7zM461.1 272.0h0.7v0.7h-0.7zM492.9 258.7h0.7v0.7h-0.7zM441.8 281.7h0.7v0.7h-0.7zM461.7 261.6h0.7v0.7h-0.7zM464.4 268.6h0.7v0.7h-0.7zM467.6 272.9h0.7v0.7h-0.7zM439.8 278.8h0.7v0.7h-0.7zM474.9 265.3h0.7v0.7h-0.7zM454.6 270.2h0.7v0.7h-0.7zM469.2 265.7h0.7v0.7h-0.7zM442.5 281.3h0.7v0.7h-0.7zM463.3 271.7h0.7v0.7h-0.7zM446.6 272.4h0.7v0.7h-0.7zM468.0 265.5h0.7v0.7h-0.7zM460.9 273.4h0.7v0.7h-0.7zM483.4 262.0h0.7v0.7h-0.7zM437.3 277.6h0.7v0.7h-0.7zM462.6 274.3h0.7v0.7h-0.7zM463.8 265.5h0.7v0.7h-0.7zM467.6 268.0h0.7v0.7h-0.7zM466.2 270.6h0.7v0.7h-0.7zM460.2 269.3h0.7v0.7h-0.7zM468.0 269.0h0.7v0.7h-0.7zM474.2 258.5h0.7v0.7h-0.7zM476.1 263.5h0.7v0.7h-0.7zM461.3 277.4h0.7v0.7h-0.7zM464.3 266.2h0.7v0.7h-0.7zM461.2 271.8h0.7v0.7h-0.7zM445.6 271.6h0.7v0.7h-0.7zM461.9 273.0h0.7v0.7h-0.7zM458.1 274.6h0.7v0.7h-0.7zM482.3 264.1h0.7v0.7h-0.7zM468.1 269.4h0.7v0.7h-0.7zM454.5 272.0h0.7v0.7h-0.7zM469.8 269.6h0.7v0.7h-0.7zM452.0 275.9h0.7v0.7h-0.7zM449.3 271.5h0.7v0.7h-0.7zM446.5 273.5h0.7v0.7h-0.7zM466.9 269.3h0.7v0.7h-0.7zM466.3 268.8h0.7v0.7h-0.7zM471.8 269.2h0.7v0.7h-0.7zM473.7 266.2h0.7v0.7h-0.7zM465.6 266.0h0.7v0.7h-0.7zM488.5 271.9h0.7v0.7h-0.7zM474.2 263.2h0.7v0.7h-0.7zM442.6 276.0h0.7v0.7h-0.7zM440.5 279.7h0.7v0.7h-0.7zM469.3 273.5h0.7v0.7h-0.7zM489.1 264.6h0.7v0.7h-0.7zM442.5 278.0h0.7v0.7h-0.7zM471.7 271.0h0.7v0.7h-0.7zM451.7 275.1h0.7v0.7h-0.7zM447.0 272.3h0.7v0.7h-0.7zM466.2 262.8h0.7v0.7h-0.7zM462.3 272.2h0.7v0.7h-0.7zM460.9 270.5h0.7v0.7h-0.7zM463.7 269.0h0.7v0.7h-0.7zM458.5 269.0h0.7v0.7h-0.7zM455.9 268.0h0.7v0.7h-0.7zM476.3 269.7h0.7v0.7h-0.7zM459.4 273.8h0.7v0.7h-0.7zM473.4 264.7h0.7v0.7h-0.7zM451.3 278.4h0.7v0.7h-0.7zM451.8 274.5h0.7v0.7h-0.7zM462.5 269.2h0.7v0.7h-0.7zM451.8 275.2h0.7v0.7h-0.7zM473.7 273.3h0.7v0.7h-0.7zM465.2 264.2h0.7v0.7h-0.7zM475.6 257.5h0.7v0.7h-0.7zM454.8 263.0h0.7v0.7h-0.7zM474.7 265.4h0.7v0.7h-0.7zM464.1 263.1h0.7v0.7h-0.7zM463.8 254.6h0.7v0.7h-0.7zM468.9 262.9h0.7v0.7h-0.7zM477.1 264.3h0.7v0.7h-0.7zM468.2 258.6h0.7v0.7h-0.7zM465.5 268.8h0.7v0.7h-0.7zM475.1 261.2h0.7v0.7h-0.7zM472.2 260.5h0.7v0.7h-0.7zM460.2 268.4h0.7v0.7h-0.7zM477.9 259.0h0.7v0.7h-0.7zM474.3 261.9h0.7v0.7h-0.7zM469.7 262.0h0.7v0.7h-0.7zM467.5 258.2h0.7v0.7h-0.7zM461.6 259.2h0.7v0.7h-0.7zM472.2 263.4h0.7v0.7h-0.7zM469.4 261.1h0.7v0.7h-0.7zM472.1 264.4h0.7v0.7h-0.7zM463.3 269.5h0.7v0.7h-0.7zM462.1 264.0h0.7v0.7h-0.7zM472.2 260.1h0.7v0.7h-0.7zM471.1 260.3h0.7v0.7h-0.7zM483.2 257.7h0.7v0.7h-0.7zM471.0 264.1h0.7v0.7h-0.7zM472.9 260.2h0.7v0.7h-0.7zM474.6 261.6h0.7v0.7h-0.7zM476.2 263.1h0.7v0.7h-0.7zM471.0 260.2h0.7v0.7h-0.7zM461.7 258.1h0.7v0.7h-0.7zM469.2 263.7h0.7v0.7h-0.7zM471.0 267.9h0.7v0.7h-0.7zM467.1 265.9h0.7v0.7h-0.7zM464.9 261.5h0.7v0.7h-0.7zM474.8 260.5h0.7v0.7h-0.7zM472.7 259.6h0.7v0.7h-0.7zM469.4 264.7h0.7v0.7h-0.7zM468.4 261.8h0.7v0.7h-0.7zM470.5 265.3h0.7v0.7h-0.7zM466.8 262.4h0.7v0.7h-0.7zM474.3 259.8h0.7v0.7h-0.7zM467.2 262.0h0.7v0.7h-0.7zM478.2 264.2h0.7v0.7h-0.7zM473.3 265.7h0.7v0.7h-0.7zM472.0 264.1h0.7v0.7h-0.7zM469.6 259.1h0.7v0.7h-0.7zM474.5 257.2h0.7v0.7h-0.7zM471.6 258.6h0.7v0.7h-0.7zM468.3 266.4h0.7v0.7h-0.7zM467.6 263.9h0.7v0.7h-0.7zM475.1 261.5h0.7v0.7h-0.7zM466.4 263.9h0.7v0.7h-0.7zM469.8 258.2h0.7v0.7h-0.7zM474.1 262.0h0.7v0.7h-0.7zM475.9 261.6h0.7v0.7h-0.7zM472.4 257.2h0.7v0.7h-0.7zM467.6 259.5h0.7v0.7h-0.7zM478.4 266.4h0.7v0.7h-0.7zM473.9 259.4h0.7v0.7h-0.7zM468.5 261.9h0.7v0.7h-0.7zM469.4 262.7h0.7v0.7h-0.7zM473.2 262.5h0.7v0.7h-0.7zM463.2 261.7h0.7v0.7h-0.7zM458.3 267.8h0.7v0.7h-0.7zM482.4 263.4h0.7v0.7h-0.7zM474.5 259.4h0.7v0.7h-0.7zM473.9 260.8h0.7v0.7h-0.7zM474.2 262.1h0.7v0.7h-0.7zM467.0 260.3h0.7v0.7h-0.7zM474.5 258.3h0.7v0.7h-0.7zM476.6 259.9h0.7v0.7h-0.7zM472.4 265.0h0.7v0.7h-0.7zM470.0 265.2h0.7v0.7h-0.7zM473.9 255.6h0.7v0.7h-0.7zM480.2 256.6h0.7v0.7h-0.7zM470.2 261.0h0.7v0.7h-0.7zM472.5 263.9h0.7v0.7h-0.7zM473.8 259.4h0.7v0.7h-0.7zM459.3 259.7h0.7v0.7h-0.7zM470.4 267.3h0.7v0.7h-0.7zM466.2 262.3h0.7v0.7h-0.7zM462.7 267.8h0.7v0.7h-0.7zM466.8 265.7h0.7v0.7h-0.7zM476.2 261.3h0.7v0.7h-0.7zM467.5 262.0h0.7v0.7h-0.7zM470.7 260.4h0.7v0.7h-0.7zM466.0 273.5h0.7v0.7h-0.7zM473.1 258.8h0.7v0.7h-0.7zM482.8 258.5h0.7v0.7h-0.7zM472.0 262.0h0.7v0.7h-0.7zM483.0 261.2h0.7v0.7h-0.7zM471.8 261.9h0.7v0.7h-0.7zM461.8 261.4h0.7v0.7h-0.7zM477.1 252.6h0.7v0.7h-0.7zM464.4 263.3h0.7v0.7h-0.7zM467.7 267.9h0.7v0.7h-0.7zM473.7 262.3h0.7v0.7h-0.7zM476.4 265.4h0.7v0.7h-0.7zM472.2 258.8h0.7v0.7h-0.7zM471.7 265.4h0.7v0.7h-0.7zM475.2 262.1h0.7v0.7h-0.7zM481.2 265.9h0.7v0.7h-0.7zM458.6 267.8h0.7v0.7h-0.7zM474.3 264.0h0.7v0.7h-0.7zM453.7 264.4h0.7v0.7h-0.7zM482.5 267.4h0.7v0.7h-0.7zM479.3 255.4h0.7v0.7h-0.7zM470.1 266.1h0.7v0.7h-0.7zM475.3 257.0h0.7v0.7h-0.7zM466.9 260.2h0.7v0.7h-0.7zM470.8 266.7h0.7v0.7h-0.7zM468.1 262.9h0.7v0.7h-0.7zM472.7 260.9h0.7v0.7h-0.7zM462.3 265.0h0.7v0.7h-0.7zM479.7 260.3h0.7v0.7h-0.7zM479.6 265.3h0.7v0.7h-0.7zM464.1 266.4h0.7v0.7h-0.7zM478.0 258.7h0.7v0.7h-0.7zM471.7 263.4h0.7v0.7h-0.7zM477.8 261.8h0.7v0.7h-0.7zM474.0 267.3h0.7v0.7h-0.7zM472.1 260.8h0.7v0.7h-0.7zM469.3 261.9h0.7v0.7h-0.7zM474.7 264.8h0.7v0.7h-0.7zM468.2 264.2h0.7v0.7h-0.7zM469.2 264.6h0.7v0.7h-0.7zM467.0 265.4h0.7v0.7h-0.7zM482.7 259.8h0.7v0.7h-0.7zM472.2 261.1h0.7v0.7h-0.7zM475.6 256.0h0.7v0.7h-0.7zM482.7 258.0h0.7v0.7h-0.7zM471.2 262.5h0.7v0.7h-0.7zM472.8 260.9h0.7v0.7h-0.7zM468.4 260.6h0.7v0.7h-0.7zM472.5 258.7h0.7v0.7h-0.7zM472.9 263.7h0.7v0.7h-0.7zM474.6 264.0h0.7v0.7h-0.7zM471.6 262.4h0.7v0.7h-0.7zM477.2 259.6h0.7v0.7h-0.7zM470.1 259.5h0.7v0.7h-0.7zM478.1 265.9h0.7v0.7h-0.7zM462.8 265.5h0.7v0.7h-0.7zM473.6 264.3h0.7v0.7h-0.7zM474.8 263.4h0.7v0.7h-0.7zM482.8 252.8h0.7v0.7h-0.7zM468.8 266.8h0.7v0.7h-0.7zM473.1 264.4h0.7v0.7h-0.7zM475.4 265.4h0.7v0.7h-0.7zM469.2 266.0h0.7v0.7h-0.7zM472.7 266.7h0.7v0.7h-0.7zM471.9 264.4h0.7v0.7h-0.7zM467.3 266.7h0.7v0.7h-0.7zM467.0 268.5h0.7v0.7h-0.7zM483.1 264.7h0.7v0.7h-0.7zM470.1 255.9h0.7v0.7h-0.7zM458.3 264.4h0.7v0.7h-0.7zM480.8 256.7h0.7v0.7h-0.7zM474.3 259.2h0.7v0.7h-0.7zM465.1 258.7h0.7v0.7h-0.7zM468.3 262.2h0.7v0.7h-0.7zM462.6 255.1h0.7v0.7h-0.7zM467.2 262.9h0.7v0.7h-0.7zM467.1 264.3h0.7v0.7h-0.7zM465.7 261.1h0.7v0.7h-0.7zM463.2 266.3h0.7v0.7h-0.7zM469.7 260.9h0.7v0.7h-0.7zM477.7 267.1h0.7v0.7h-0.7zM468.7 261.3h0.7v0.7h-0.7zM479.6 257.5h0.7v0.7h-0.7zM464.7 261.5h0.7v0.7h-0.7zM466.9 266.2h0.7v0.7h-0.7zM456.1 265.5h0.7v0.7h-0.7zM473.9 259.0h0.7v0.7h-0.7zM472.6 264.5h0.7v0.7h-0.7zM468.7 258.4h0.7v0.7h-0.7zM473.0 264.8h0.7v0.7h-0.7zM465.1 262.2h0.7v0.7h-0.7zM474.9 262.7h0.7v0.7h-0.7zM459.9 266.8h0.7v0.7h-0.7zM467.9 259.5h0.7v0.7h-0.7zM479.6 258.0h0.7v0.7h-0.7zM468.6 263.2h0.7v0.7h-0.7zM478.3 264.0h0.7v0.7h-0.7zM466.6 265.5h0.7v0.7h-0.7zM465.7 267.7h0.7v0.7h-0.7zM462.2 257.4h0.7v0.7h-0.7zM471.5 257.4h0.7v0.7h-0.7zM481.6 259.0h0.7v0.7h-0.7zM481.9 255.9h0.7v0.7h-0.7zM476.8 260.5h0.7v0.7h-0.7zM471.5 259.0h0.7v0.7h-0.7zM473.5 262.4h0.7v0.7h-0.7zM488.3 259.0h0.7v0.7h-0.7zM474.3 260.4h0.7v0.7h-0.7zM477.1 259.9h0.7v0.7h-0.7zM472.1 261.7h0.7v0.7h-0.7zM471.9 262.9h0.7v0.7h-0.7zM470.4 258.2h0.7v0.7h-0.7zM476.2 259.8h0.7v0.7h-0.7zM464.8 260.3h0.7v0.7h-0.7zM471.7 262.6h0.7v0.7h-0.7zM476.4 259.5h0.7v0.7h-0.7zM467.1 264.7h0.7v0.7h-0.7zM478.4 264.2h0.7v0.7h-0.7zM458.8 266.1h0.7v0.7h-0.7zM471.5 261.8h0.7v0.7h-0.7zM470.9 268.1h0.7v0.7h-0.7zM473.4 264.7h0.7v0.7h-0.7zM462.4 262.5h0.7v0.7h-0.7zM475.8 264.3h0.7v0.7h-0.7zM477.8 260.9h0.7v0.7h-0.7zM480.6 259.4h0.7v0.7h-0.7zM466.8 262.1h0.7v0.7h-0.7zM479.8 259.6h0.7v0.7h-0.7zM463.3 263.9h0.7v0.7h-0.7zM467.4 266.3h0.7v0.7h-0.7zM471.9 262.9h0.7v0.7h-0.7zM471.9 256.6h0.7v0.7h-0.7zM463.4 263.0h0.7v0.7h-0.7zM466.0 264.7h0.7v0.7h-0.7zM472.5 260.8h0.7v0.7h-0.7zM472.8 261.8h0.7v0.7h-0.7zM461.6 264.4h0.7v0.7h-0.7zM475.7 259.2h0.7v0.7h-0.7zM466.8 262.4h0.7v0.7h-0.7zM475.5 262.1h0.7v0.7h-0.7zM466.8 262.7h0.7v0.7h-0.7zM467.1 258.2h0.7v0.7h-0.7zM460.9 262.0h0.7v0.7h-0.7zM479.2 264.4h0.7v0.7h-0.7zM466.1 269.8h0.7v0.7h-0.7zM466.5 259.2h0.7v0.7h-0.7zM459.4 259.6h0.7v0.7h-0.7zM477.3 261.8h0.7v0.7h-0.7zM471.2 258.7h0.7v0.7h-0.7zM475.9 258.2h0.7v0.7h-0.7zM457.4 263.5h0.7v0.7h-0.7zM472.4 265.8h0.7v0.7h-0.7zM465.6 268.3h0.7v0.7h-0.7zM482.0 258.6h0.7v0.7h-0.7zM473.6 258.4h0.7v0.7h-0.7zM471.0 259.9h0.7v0.7h-0.7zM454.3 265.4h0.7v0.7h-0.7zM474.4 263.1h0.7v0.7h-0.7zM480.3 263.0h0.7v0.7h-0.7zM460.5 265.3h0.7v0.7h-0.7zM471.7 261.8h0.7v0.7h-0.7zM471.9 259.3h0.7v0.7h-0.7zM467.2 258.9h0.7v0.7h-0.7zM474.9 257.5h0.7v0.7h-0.7zM473.2 263.6h0.7v0.7h-0.7zM469.1 264.6h0.7v0.7h-0.7zM470.3 264.9h0.7v0.7h-0.7zM473.7 264.8h0.7v0.7h-0.7zM471.1 262.4h0.7v0.7h-0.7zM466.4 264.6h0.7v0.7h-0.7zM478.4 261.7h0.7v0.7h-0.7zM476.2 259.4h0.7v0.7h-0.7zM463.7 260.1h0.7v0.7h-0.7zM464.6 262.9h0.7v0.7h-0.7zM464.5 261.8h0.7v0.7h-0.7zM472.0 261.2h0.7v0.7h-0.7zM465.3 263.9h0.7v0.7h-0.7zM472.0 258.1h0.7v0.7h-0.7zM484.8 263.4h0.7v0.7h-0.7zM473.7 258.2h0.7v0.7h-0.7zM467.5 265.5h0.7v0.7h-0.7zM482.9 258.4h0.7v0.7h-0.7zM462.4 267.4h0.7v0.7h-0.7zM469.0 265.3h0.7v0.7h-0.7zM466.1 262.3h0.7v0.7h-0.7zM467.7 259.1h0.7v0.7h-0.7zM475.7 257.0h0.7v0.7h-0.7zM470.6 263.8h0.7v0.7h-0.7zM467.9 261.6h0.7v0.7h-0.7zM471.5 264.8h0.7v0.7h-0.7zM466.7 263.4h0.7v0.7h-0.7zM478.3 260.5h0.7v0.7h-0.7zM463.4 264.0h0.7v0.7h-0.7zM454.8 264.6h0.7v0.7h-0.7zM473.4 263.7h0.7v0.7h-0.7zM472.9 258.7h0.7v0.7h-0.7zM476.5 263.8h0.7v0.7h-0.7zM472.2 262.0h0.7v0.7h-0.7zM468.6 259.3h0.7v0.7h-0.7zM471.0 260.2h0.7v0.7h-0.7zM477.2 264.3h0.7v0.7h-0.7zM471.1 267.8h0.7v0.7h-0.7zM474.9 268.4h0.7v0.7h-0.7zM478.1 265.6h0.7v0.7h-0.7zM461.1 263.4h0.7v0.7h-0.7zM481.3 258.8h0.7v0.7h-0.7zM461.3 260.6h0.7v0.7h-0.7zM469.3 260.1h0.7v0.7h-0.7zM465.9 257.4h0.7v0.7h-0.7zM468.0 260.1h0.7v0.7h-0.7zM474.7 266.6h0.7v0.7h-0.7zM472.2 264.4h0.7v0.7h-0.7z" fill="#646464" fill-opacity="1"/>
<path d="M463.0 270.9h0.7v0.7h-0.7zM449.9 273.3h0.7v0.7h-0.7zM473.6 263.7h0.7v0.7h-0.7zM470.7 260.0h0.7v0.7h-0.7zM471.7 267.7h0.7v0.7h-0.7zM469.1 265.2h0.7v0.7h-0.7zM462.0 272.6h0.7v0.7h-0.7zM491.5 258.9h0.7v0.7h-0.7zM475.4 279.7h0.7v0.7h-0.7zM467.8 270.0h0.7v0.7h-0.7zM481.6 258.0h0.7v0.7h-0.7zM446.3 270.6h0.7v0.7h-0.7zM491.4 256.9h0.7v0.7h-0.7zM461.3 266.5h0.7v0.7h-0.7zM469.9 269.0h0.7v0.7h-0.7zM453.6 271.4h0.7v0.7h-0.7zM474.2 266.5h0.7v0.7h-0.7zM454.1 266.9h0.7v0.7h-0.7zM491.9 249.6h0.7v0.7h-0.7zM461.3 270.6h0.7v0.7h-0.7zM458.4 274.6h0.7v0.7h-0.7zM435.5 276.7h0.7v0.7h-0.7zM447.7 274.7h0.7v0.7h-0.7zM460.0 272.8h0.7v0.7h-0.7zM439.6 276.6h0.7v0.7h-0.7zM461.0 268.9h0.7v0.7h-0.7zM455.3 269.4h0.7v0.7h-0.7zM487.1 268.2h0.7v0.7h-0.7zM463.7 272.1h0.7v0.7h-0.7zM475.8 264.1h0.7v0.7h-0.7zM447.6 277.5h0.7v0.7h-0.7zM459.4 274.8h0.7v0.7h-0.7zM465.2 261.4h0.7v0.7h-0.7zM478.5 263.9h0.7v0.7h-0.7zM479.8 265.6h0.7v0.7h-0.7zM480.3 264.0h0.7v0.7h-0.7zM448.2 270.6h0.7v0.7h-0.7zM472.5 280.4h0.7v0.7h-0.7zM460.4 262.1h0.7v0.7h-0.7zM470.5 270.8h0.7v0.7h-0.7zM466.9 271.5h0.7v0.7h-0.7zM455.1 271.9h0.7v0.7h-0.7zM454.6 266.9h0.7v0.7h-0.7zM458.9 266.9h0.7v0.7h-0.7zM446.7 279.3h0.7v0.7h-0.7zM434.3 272.0h0.7v0.7h-0.7zM479.1 268.9h0.7v0.7h-0.7zM464.1 275.7h0.7v0.7h-0.7zM477.9 257.5h0.7v0.7h-0.7zM458.8 271.1h0.7v0.7h-0.7zM450.5 266.0h0.7v0.7h-0.7zM461.2 260.4h0.7v0.7h-0.7zM453.5 270.4h0.7v0.7h-0.7zM462.5 274.2h0.7v0.7h-0.7zM461.9 274.6h0.7v0.7h-0.7zM477.2 270.8h0.7v0.7h-0.7zM446.3 268.9h0.7v0.7h-0.7zM461.3 278.4h0.7v0.7h-0.7zM480.8 268.9h0.7v0.7h-0.7zM449.5 273.7h0.7v0.7h-0.7zM459.5 274.4h0.7v0.7h-0.7zM476.5 257.4h0.7v0.7h-0.7zM447.5 273.9h0.7v0.7h-0.7zM426.5 277.5h0.7v0.7h-0.7zM460.3 269.8h0.7v0.7h-0.7zM469.7 263.6h0.7v0.7h-0.7zM485.7 267.0h0.7v0.7h-0.7zM456.3 273.4h0.7v0.7h-0.7zM467.3 269.6h0.7v0.7h-0.7zM454.0 279.5h0.7v0.7h-0.7zM466.4 266.3h0.7v0.7h-0.7zM466.6 273.3h0.7v0.7h-0.7zM459.5 263.1h0.7v0.7h-0.7zM446.5 277.1h0.7v0.7h-0.7zM465.6 272.2h0.7v0.7h-0.7zM455.7 267.0h0.7v0.7h-0.7zM485.3 265.5h0.7v0.7h-0.7zM462.2 278.0h0.7v0.7h-0.7zM451.7 280.3h0.7v0.7h-0.7zM436.0 281.6h0.7v0.7h-0.7zM457.4 269.4h0.7v0.7h-0.7zM481.6 265.7h0.7v0.7h-0.7zM477.0 269.3h0.7v0.7h-0.7zM479.9 277.1h0.7v0.7h-0.7zM463.1 275.9h0.7v0.7h-0.7zM470.3 265.9h0.7v0.7h-0.7zM459.5 271.5h0.7v0.7h-0.7zM465.4 281.1h0.7v0.7h-0.7zM458.7 275.5h0.7v0.7h-0.7zM469.0 264.8h0.7v0.7h-0.7zM449.8 274.4h0.7v0.7h-0.7zM459.4 274.6h0.7v0.7h-0.7zM463.2 275.9h0.7v0.7h-0.7zM445.2 279.1h0.7v0.7h-0.7zM462.1 274.7h0.7v0.7h-0.7zM461.4 274.7h0.7v0.7h-0.7zM465.1 268.9h0.7v0.7h-0.7zM468.9 264.9h0.7v0.7h-0.7zM467.0 268.6h0.7v0.7h-0.7zM456.1 265.9h0.7v0.7h-0.7zM429.4 277.5h0.7v0.7h-0.7zM491.7 258.6h0.7v0.7h-0.7zM467.1 273.4h0.7v0.7h-0.7zM474.4 263.5h0.7v0.7h-0.7zM456.1 266.1h0.7v0.7h-0.7zM445.0 270.9h0.7v0.7h-0.7zM468.8 263.1h0.7v0.7h-0.7zM472.9 268.3h0.7v0.7h-0.7zM476.0 254.0h0.7v0.7h-0.7zM449.5 271.1h0.7v0.7h-0.7zM458.0 278.2h0.7v0.7h-0.7zM449.5 274.0h0.7v0.7h-0.7zM473.6 269.6h0.7v0.7h-0.7zM456.4 267.4h0.7v0.7h-0.7zM460.7 266.2h0.7v0.7h-0.7zM472.4 261.3h0.7v0.7h-0.7zM483.7 274.8h0.7v0.7h-0.7zM442.5 284.6h0.7v0.7h-0.7zM475.2 262.5h0.7v0.7h-0.7zM471.1 260.1h0.7v0.7h-0.7zM456.8 267.2h0.7v0.7h-0.7zM484.4 260.7h0.7v0.7h-0.7zM452.9 264.7h0.7v0.7h-0.7zM463.7 272.4h0.7v0.7h-0.7zM474.7 265.8h0.7v0.7h-0.7zM471.6 278.9h0.7v0.7h-0.7zM459.8 269.2h0.7v0.7h-0.7zM459.8 272.3h0.7v0.7h-0.7zM468.9 267.6h0.7v0.7h-0.7zM461.8 278.3h0.7v0.7h-0.7zM455.5 270.4h0.7v0.7h-0.7zM453.9 276.0h0.7v0.7h-0.7zM462.0 269.9h0.7v0.7h-0.7zM445.1 276.1h0.7v0.7h-0.7zM456.1 264.9h0.7v0.7h-0.7zM454.2 269.1h0.7v0.7h-0.7zM453.7 280.8h0.7v0.7h-0.7zM458.1 278.8h0.7v0.7h-0.7zM435.7 270.5h0.7v0.7h-0.7zM478.9 270.3h0.7v0.7h-0.7zM472.4 274.7h0.7v0.7h-0.7zM473.3 273.4h0.7v0.7h-0.7zM459.8 274.0h0.7v0.7h-0.7zM458.1 266.6h0.7v0.7h-0.7zM445.7 270.9h0.7v0.7h-0.7zM484.9 271.4h0.7v0.7h-0.7zM449.8 271.9h0.7v0.7h-0.7zM468.4 268.9h0.7v0.7h-0.7zM450.3 278.1h0.7v0.7h-0.7zM456.4 267.2h0.7v0.7h-0.7zM444.9 278.6h0.7v0.7h-0.7zM460.5 259.8h0.7v0.7h-0.7zM468.5 264.6h0.7v0.7h-0.7zM450.6 269.2h0.7v0.7h-0.7zM432.1 281.5h0.7v0.7h-0.7zM478.4 263.2h0.7v0.7h-0.7zM463.9 269.2h0.7v0.7h-0.7zM471.6 277.8h0.7v0.7h-0.7zM484.8 260.2h0.7v0.7h-0.7zM490.2 259.3h0.7v0.7h-0.7zM468.3 269.0h0.7v0.7h-0.7zM477.7 253.1h0.7v0.7h-0.7zM456.7 276.2h0.7v0.7h-0.7zM453.9 268.3h0.7v0.7h-0.7zM458.6 268.0h0.7v0.7h-0.7zM467.2 258.3h0.7v0.7h-0.7zM485.0 271.3h0.7v0.7h-0.7zM482.8 261.0h0.7v0.7h-0.7zM469.8 264.4h0.7v0.7h-0.7zM479.4 263.2h0.7v0.7h-0.7zM473.2 282.5h0.7v0.7h-0.7zM461.9 273.8h0.7v0.7h-0.7zM473.0 266.3h0.7v0.7h-0.7zM456.6 274.3h0.7v0.7h-0.7zM456.9 269.8h0.7v0.7h-0.7zM450.0 274.8h0.7v0.7h-0.7zM472.2 269.3h0.7v0.7h-0.7zM442.5 267.7h0.7v0.7h-0.7zM464.6 268.6h0.7v0.7h-0.7zM470.5 273.0h0.7v0.7h-0.7zM471.4 264.0h0.7v0.7h-0.7zM452.4 274.8h0.7v0.7h-0.7zM469.4 273.0h0.7v0.7h-0.7zM471.4 271.4h0.7v0.7h-0.7zM430.0 280.3h0.7v0.7h-0.7zM426.3 275.1h0.7v0.7h-0.7zM443.1 267.9h0.7v0.7h-0.7zM464.6 261.5h0.7v0.7h-0.7zM488.1 261.2h0.7v0.7h-0.7zM463.3 270.1h0.7v0.7h-0.7zM470.4 264.9h0.7v0.7h-0.7zM488.6 258.3h0.7v0.7h-0.7zM480.7 260.7h0.7v0.7h-0.7zM450.9 276.9h0.7v0.7h-0.7zM493.2 254.0h0.7v0.7h-0.7zM468.9 258.9h0.7v0.7h-0.7zM431.9 281.0h0.7v0.7h-0.7zM465.9 266.6h0.7v0.7h-0.7zM467.5 268.7h0.7v0.7h-0.7zM460.1 271.5h0.7v0.7h-0.7zM456.2 271.6h0.7v0.7h-0.7zM471.3 255.8h0.7v0.7h-0.7zM467.4 278.4h0.7v0.7h-0.7zM482.8 271.4h0.7v0.7h-0.7zM485.5 268.1h0.7v0.7h-0.7zM447.8 261.1h0.7v0.7h-0.7zM452.5 272.0h0.7v0.7h-0.7zM469.6 272.4h0.7v0.7h-0.7zM450.3 273.7h0.7v0.7h-0.7zM426.5 285.9h0.7v0.7h-0.7zM469.1 268.3h0.7v0.7h-0.7zM463.1 275.2h0.7v0.7h-0.7zM453.5 273.8h0.7v0.7h-0.7zM456.2 275.4h0.7v0.7h-0.7zM476.6 258.8h0.7v0.7h-0.7zM445.3 273.1h0.7v0.7h-0.7zM455.6 273.7h0.7v0.7h-0.7zM464.6 266.4h0.7v0.7h-0.7zM480.5 268.9h0.7v0.7h-0.7zM454.8 271.4h0.7v0.7h-0.7zM472.6 275.0h0.7v0.7h-0.7zM470.1 263.6h0.7v0.7h-0.7zM460.0 276.9h0.7v0.7h-0.7zM470.5 273.5h0.7v0.7h-0.7zM454.3 268.6h0.7v0.7h-0.7zM464.9 271.2h0.7v0.7h-0.7zM470.2 265.3h0.7v0.7h-0.7zM482.2 264.6h0.7v0.7h-0.7zM446.8 273.7h0.7v0.7h-0.7zM460.8 281.2h0.7v0.7h-0.7zM452.2 267.3h0.7v0.7h-0.7zM468.7 270.8h0.7v0.7h-0.7zM459.2 268.7h0.7v0.7h-0.7zM459.7 275.1h0.7v0.7h-0.7zM467.3 268.0h0.7v0.7h-0.7zM431.1 274.8h0.7v0.7h-0.7zM437.4 276.1h0.7v0.7h-0.7zM449.1 269.8h0.7v0.7h-0.7zM456.4 275.1h0.7v0.7h-0.7zM478.8 263.4h0.7v0.7h-0.7zM450.1 276.7h0.7v0.7h-0.7zM465.1 261.2h0.7v0.7h-0.7zM446.6 280.9h0.7v0.7h-0.7zM465.0 262.8h0.7v0.7h-0.7zM475.9 266.2h0.7v0.7h-0.7zM480.3 269.4h0.7v0.7h-0.7zM441.0 264.5h0.7v0.7h-0.7zM457.7 264.2h0.7v0.7h-0.7zM470.3 274.0h0.7v0.7h-0.7zM470.2 272.7h0.7v0.7h-0.7zM467.3 277.8h0.7v0.7h-0.7zM494.5 255.8h0.7v0.7h-0.7zM460.8 279.7h0.7v0.7h-0.7zM451.6 266.0h0.7v0.7h-0.7zM470.2 276.6h0.7v0.7h-0.7zM470.0 275.5h0.7v0.7h-0.7zM442.4 277.2h0.7v0.7h-0.7zM450.1 282.2h0.7v0.7h-0.7zM464.3 277.5h0.7v0.7h-0.7zM462.0 276.1h0.7v0.7h-0.7zM470.1 264.2h0.7v0.7h-0.7zM467.5 265.9h0.7v0.7h-0.7zM466.3 271.4h0.7v0.7h-0.7zM468.2 275.0h0.7v0.7h-0.7zM475.2 266.8h0.7v0.7h-0.7zM452.6 280.5h0.7v0.7h-0.7zM444.1 278.2h0.7v0.7h-0.7zM460.6 264.5h0.7v0.7h-0.7zM447.4 271.0h0.7v0.7h-0.7zM478.2 267.8h0.7v0.7h-0.7zM479.6 263.5h0.7v0.7h-0.7zM457.3 271.7h0.7v0.7h-0.7zM475.8 273.0h0.7v0.7h-0.7zM461.3 277.3h0.7v0.7h-0.7zM479.6 275.9h0.7v0.7h-0.7zM466.3 266.5h0.7v0.7h-0.7zM467.0 273.7h0.7v0.7h-0.7zM472.0 266.5h0.7v0.7h-0.7zM442.1 267.5h0.7v0.7h-0.7zM470.6 266.0h0.7v0.7h-0.7zM478.7 260.7h0.7v0.7h-0.7zM465.9 277.6h0.7v0.7h-0.7zM469.6 267.1h0.7v0.7h-0.7zM482.0 277.6h0.7v0.7h-0.7zM470.8 266.4h0.7v0.7h-0.7zM466.5 261.8h0.7v0.7h-0.7zM475.4 251.7h0.7v0.7h-0.7zM451.5 276.8h0.7v0.7h-0.7zM469.0 268.1h0.7v0.7h-0.7zM442.0 272.0h0.7v0.7h-0.7zM463.1 274.2h0.7v0.7h-0.7zM459.0 261.6h0.7v0.7h-0.7zM482.6 270.8h0.7v0.7h-0.7zM470.1 259.4h0.7v0.7h-0.7zM463.0 269.9h0.7v0.7h-0.7zM455.2 266.7h0.7v0.7h-0.7zM464.4 271.4h0.7v0.7h-0.7zM470.6 272.8h0.7v0.7h-0.7zM470.4 263.9h0.7v0.7h-0.7zM444.1 269.2h0.7v0.7h-0.7zM459.7 270.8h0.7v0.7h-0.7zM462.2 276.9h0.7v0.7h-0.7zM463.3 266.6h0.7v0.7h-0.7zM464.9 259.2h0.7v0.7h-0.7zM450.5 270.4h0.7v0.7h-0.7zM461.7 265.2h0.7v0.7h-0.7zM478.0 267.7h0.7v0.7h-0.7zM462.5 275.3h0.7v0.7h-0.7zM491.6 262.7h0.7v0.7h-0.7zM461.7 270.2h0.7v0.7h-0.7zM438.9 272.6h0.7v0.7h-0.7zM465.5 271.6h0.7v0.7h-0.7zM474.5 268.3h0.7v0.7h-0.7zM467.6 265.9h0.7v0.7h-0.7zM459.8 270.6h0.7v0.7h-0.7zM477.2 261.9h0.7v0.7h-0.7zM453.8 273.3h0.7v0.7h-0.7zM454.7 271.0h0.7v0.7h-0.7zM461.8 273.8h0.7v0.7h-0.7zM450.6 268.4h0.7v0.7h-0.7zM465.3 265.1h0.7v0.7h-0.7zM466.6 262.4h0.7v0.7h-0.7zM488.8 265.5h0.7v0.7h-0.7zM460.6 276.1h0.7v0.7h-0.7zM480.7 263.8h0.7v0.7h-0.7zM428.3 275.4h0.7v0.7h-0.7zM468.8 269.0h0.7v0.7h-0.7zM458.4 273.8h0.7v0.7h-0.7zM443.9 283.4h0.7v0.7h-0.7zM469.5 266.4h0.7v0.7h-0.7zM485.4 253.3h0.7v0.7h-0.7zM478.6 270.6h0.7v0.7h-0.7zM483.0 264.2h0.7v0.7h-0.7zM472.3 265.0h0.7v0.7h-0.7zM468.6 268.0h0.7v0.7h-0.7zM469.0 270.4h0.7v0.7h-0.7zM474.1 273.3h0.7v0.7h-0.7zM452.7 265.9h0.7v0.7h-0.7zM461.1 264.7h0.7v0.7h-0.7zM475.4 265.9h0.7v0.7h-0.7zM457.9 278.0h0.7v0.7h-0.7zM475.9 274.5h0.7v0.7h-0.7zM463.8 269.0h0.7v0.7h-0.7zM460.4 278.2h0.7v0.7h-0.7zM474.1 267.9h0.7v0.7h-0.7zM474.2 272.8h0.7v0.7h-0.7zM486.8 261.3h0.7v0.7h-0.7zM471.9 267.8h0.7v0.7h-0.7zM457.9 267.2h0.7v0.7h-0.7zM476.4 260.9h0.7v0.7h-0.7zM462.8 273.0h0.7v0.7h-0.7zM462.4 267.7h0.7v0.7h-0.7zM472.0 266.0h0.7v0.7h-0.7zM492.8 266.6h0.7v0.7h-0.7zM467.7 271.4h0.7v0.7h-0.7zM479.3 253.5h0.7v0.7h-0.7zM452.0 274.9h0.7v0.7h-0.7zM467.3 273.8h0.7v0.7h-0.7zM473.7 267.9h0.7v0.7h-0.7zM475.6 262.3h0.7v0.7h-0.7zM469.5 270.8h0.7v0.7h-0.7zM473.6 266.2h0.7v0.7h-0.7zM466.7 278.8h0.7v0.7h-0.7zM483.0 265.6h0.7v0.7h-0.7zM455.6 275.2h0.7v0.7h-0.7zM462.9 279.2h0.7v0.7h-0.7zM472.5 263.3h0.7v0.7h-0.7zM484.2 266.7h0.7v0.7h-0.7zM477.8 270.6h0.7v0.7h-0.7zM474.0 266.5h0.7v0.7h-0.7zM447.6 263.5h0.7v0.7h-0.7zM484.9 261.0h0.7v0.7h-0.7zM472.5 273.2h0.7v0.7h-0.7zM473.0 272.0h0.7v0.7h-0.7zM474.4 272.2h0.7v0.7h-0.7zM465.6 264.6h0.7v0.7h-0.7zM436.5 271.4h0.7v0.7h-0.7zM476.0 262.0h0.7v0.7h-0.7zM457.3 267.4h0.7v0.7h-0.7zM444.8 280.1h0.7v0.7h-0.7zM471.8 264.3h0.7v0.7h-0.7zM455.3 277.5h0.7v0.7h-0.7zM465.3 269.6h0.7v0.7h-0.7zM463.7 274.0h0.7v0.7h-0.7zM456.4 266.7h0.7v0.7h-0.7zM455.2 272.8h0.7v0.7h-0.7zM454.5 267.4h0.7v0.7h-0.7zM450.9 272.2h0.7v0.7h-0.7zM473.0 270.8h0.7v0.7h-0.7zM472.6 275.4h0.7v0.7h-0.7zM447.8 273.3h0.7v0.7h-0.7zM440.9 277.2h0.7v0.7h-0.7zM461.5 258.7h0.7v0.7h-0.7zM468.9 262.2h0.7v0.7h-0.7zM461.8 268.2h0.7v0.7h-0.7zM472.6 277.9h0.7v0.7h-0.7zM461.8 281.0h0.7v0.7h-0.7zM448.8 268.6h0.7v0.7h-0.7zM480.8 260.5h0.7v0.7h-0.7zM479.6 257.6h0.7v0.7h-0.7zM473.1 271.4h0.7v0.7h-0.7zM438.2 279.0h0.7v0.7h-0.7zM458.2 271.0h0.7v0.7h-0.7zM464.5 274.5h0.7v0.7h-0.7zM479.7 267.4h0.7v0.7h-0.7zM463.4 272.4h0.7v0.7h-0.7zM432.9 282.6h0.7v0.7h-0.7zM451.9 274.4h0.7v0.7h-0.7zM467.3 273.2h0.7v0.7h-0.7zM450.5 278.9h0.7v0.7h-0.7zM492.7 267.4h0.7v0.7h-0.7zM442.2 277.4h0.7v0.7h-0.7zM439.0 280.8h0.7v0.7h-0.7zM465.9 263.7h0.7v0.7h-0.7zM461.8 272.6h0.7v0.7h-0.7zM448.1 274.1h0.7v0.7h-0.7zM456.8 264.7h0.7v0.7h-0.7zM463.5 270.8h0.7v0.7h-0.7zM469.4 274.0h0.7v0.7h-0.7zM478.0 266.3h0.7v0.7h-0.7zM440.6 273.3h0.7v0.7h-0.7zM475.2 278.8h0.7v0.7h-0.7zM455.3 277.3h0.7v0.7h-0.7zM458.1 264.6h0.7v0.7h-0.7zM485.6 267.2h0.7v0.7h-0.7zM454.4 268.4h0.7v0.7h-0.7zM469.1 283.8h0.7v0.7h-0.7zM458.8 273.2h0.7v0.7h-0.7zM444.8 270.1h0.7v0.7h-0.7zM468.3 272.4h0.7v0.7h-0.7zM470.6 271.3h0.7v0.7h-0.7zM465.3 269.4h0.7v0.7h-0.7zM457.9 275.2h0.7v0.7h-0.7zM473.4 266.0h0.7v0.7h-0.7zM477.6 268.6h0.7v0.7h-0.7zM462.0 264.2h0.7v0.7h-0.7zM451.9 269.1h0.7v0.7h-0.7zM474.6 262.7h0.7v0.7h-0.7zM472.5 268.0h0.7v0.7h-0.7zM461.8 270.0h0.7v0.7h-0.7zM479.6 267.8h0.7v0.7h-0.7zM479.7 260.6h0.7v0.7h-0.7zM431.5 275.9h0.7v0.7h-0.7zM459.2 263.8h0.7v0.7h-0.7zM449.8 271.6h0.7v0.7h-0.7zM455.5 275.4h0.7v0.7h-0.7zM451.6 267.6h0.7v0.7h-0.7zM453.0 265.1h0.7v0.7h-0.7z" fill="#858585" fill-opacity="1"/>
<path d="M470.7 247.1h0.6v0.6h-0.6zM468.3 253.4h0.6v0.6h-0.6zM468.5 241.8h0.6v0.6h-0.6zM466.5 250.1h0.6v0.6h-0.6zM478.6 242.1h0.6v0.6h-0.6zM466.2 260.5h0.6v0.6h-0.6zM477.3 254.4h0.6v0.6h-0.6zM459.5 237.2h0.6v0.6h-0.6zM483.2 236.6h0.6v0.6h-0.6zM456.3 244.8h0.6v0.6h-0.6zM478.5 251.3h0.6v0.6h-0.6zM468.2 237.0h0.6v0.6h-0.6zM470.1 240.6h0.6v0.6h-0.6zM478.2 242.4h0.6v0.6h-0.6zM474.0 239.4h0.6v0.6h-0.6zM476.3 238.4h0.6v0.6h-0.6zM466.5 239.5h0.6v0.6h-0.6zM467.2 240.5h0.6v0.6h-0.6zM485.1 237.2h0.6v0.6h-0.6zM474.5 243.2h0.6v0.6h-0.6zM467.6 234.8h0.6v0.6h-0.6zM483.8 238.6h0.6v0.6h-0.6zM470.7 244.6h0.6v0.6h-0.6zM472.2 234.9h0.6v0.6h-0.6zM489.3 238.7h0.6v0.6h-0.6zM476.5 237.7h0.6v0.6h-0.6zM469.3 240.7h0.6v0.6h-0.6zM472.3 233.9h0.6v0.6h-0.6zM474.5 240.2h0.6v0.6h-0.6zM483.5 261.0h0.6v0.6h-0.6zM467.1 237.7h0.6v0.6h-0.6zM479.8 243.8h0.6v0.6h-0.6zM470.3 253.8h0.6v0.6h-0.6zM471.3 238.7h0.6v0.6h-0.6zM474.1 242.0h0.6v0.6h-0.6zM480.6 236.6h0.6v0.6h-0.6zM471.2 228.4h0.6v0.6h-0.6zM466.5 256.2h0.6v0.6h-0.6zM486.4 229.4h0.6v0.6h-0.6zM475.4 234.2h0.6v0.6h-0.6zM473.7 231.8h0.6v0.6h-0.6zM473.6 239.6h0.6v0.6h-0.6zM468.7 238.2h0.6v0.6h-0.6zM461.1 239.3h0.6v0.6h-0.6zM475.3 251.1h0.6v0.6h-0.6zM473.9 233.1h0.6v0.6h-0.6zM469.0 236.6h0.6v0.6h-0.6zM470.4 229.5h0.6v0.6h-0.6zM466.6 242.6h0.6v0.6h-0.6zM465.4 256.0h0.6v0.6h-0.6zM475.7 234.6h0.6v0.6h-0.6zM470.1 250.7h0.6v0.6h-0.6zM483.7 255.5h0.6v0.6h-0.6zM477.9 259.7h0.6v0.6h-0.6zM469.2 233.6h0.6v0.6h-0.6zM478.5 237.8h0.6v0.6h-0.6zM469.2 242.0h0.6v0.6h-0.6zM466.8 249.1h0.6v0.6h-0.6zM467.1 230.5h0.6v0.6h-0.6zM476.2 245.5h0.6v0.6h-0.6zM470.7 249.0h0.6v0.6h-0.6zM472.7 257.1h0.6v0.6h-0.6zM472.4 228.3h0.6v0.6h-0.6zM474.5 231.4h0.6v0.6h-0.6zM470.6 242.3h0.6v0.6h-0.6zM476.4 233.7h0.6v0.6h-0.6zM475.6 246.3h0.6v0.6h-0.6zM478.9 249.2h0.6v0.6h-0.6zM493.4 233.0h0.6v0.6h-0.6zM480.6 240.3h0.6v0.6h-0.6zM475.2 248.4h0.6v0.6h-0.6zM476.2 255.9h0.6v0.6h-0.6zM467.7 243.2h0.6v0.6h-0.6zM478.2 232.3h0.6v0.6h-0.6zM485.1 228.0h0.6v0.6h-0.6zM466.3 240.2h0.6v0.6h-0.6zM482.1 239.9h0.6v0.6h-0.6zM469.9 248.9h0.6v0.6h-0.6zM463.3 243.6h0.6v0.6h-0.6zM470.0 234.4h0.6v0.6h-0.6zM486.6 251.5h0.6v0.6h-0.6zM472.7 242.9h0.6v0.6h-0.6zM470.2 226.8h0.6v0.6h-0.6zM467.5 243.5h0.6v0.6h-0.6zM459.9 258.2h0.6v0.6h-0.6zM464.6 241.5h0.6v0.6h-0.6zM480.9 240.8h0.6v0.6h-0.6zM478.5 257.9h0.6v0.6h-0.6zM468.2 241.0h0.6v0.6h-0.6z" fill="#9c9c9c" fill-opacity="1"/>
<rect x="309.00" y="189.20" width="97.30" height="98.00" fill="none" stroke="#2a2a2a" stroke-width="1.1"/>
<line x1="309.00" y1="256.40" x2="406.30" y2="256.40" stroke="#6b6b6b" stroke-width="0.9"/>
<line x1="306.00" y1="287.20" x2="309.00" y2="287.20" stroke="#2a2a2a" stroke-width="0.8"/>
<line x1="307.40" y1="279.82" x2="309.00" y2="279.82" stroke="#2a2a2a" stroke-width="0.6"/>
<line x1="307.40" y1="275.51" x2="309.00" y2="275.51" stroke="#2a2a2a" stroke-width="0.6"/>
<line x1="307.40" y1="272.45" x2="309.00" y2="272.45" stroke="#2a2a2a" stroke-width="0.6"/>
<line x1="307.40" y1="270.08" x2="309.00" y2="270.08" stroke="#2a2a2a" stroke-width="0.6"/>
<line x1="307.40" y1="268.14" x2="309.00" y2="268.14" stroke="#2a2a2a" stroke-width="0.6"/>
<line x1="307.40" y1="266.50" x2="309.00" y2="266.50" stroke="#2a2a2a" stroke-width="0.6"/>
<line x1="307.40" y1="265.07" x2="309.00" y2="265.07" stroke="#2a2a2a" stroke-width="0.6"/>
<line x1="307.40" y1="263.82" x2="309.00" y2="263.82" stroke="#2a2a2a" stroke-width="0.6"/>
<line x1="306.00" y1="262.70" x2="309.00" y2="262.70" stroke="#2a2a2a" stroke-width="0.8"/>
<line x1="307.40" y1="255.32" x2="309.00" y2="255.32" stroke="#2a2a2a" stroke-width="0.6"/>
<line x1="307.40" y1="251.01" x2="309.00" y2="251.01" stroke="#2a2a2a" stroke-width="0.6"/>
<line x1="307.40" y1="247.95" x2="309.00" y2="247.95" stroke="#2a2a2a" stroke-width="0.6"/>
<line x1="307.40" y1="245.58" x2="309.00" y2="245.58" stroke="#2a2a2a" stroke-width="0.6"/>
<line x1="307.40" y1="243.64" x2="309.00" y2="243.64" stroke="#2a2a2a" stroke-width="0.6"/>
<line x1="307.40" y1="242.00" x2="309.00" y2="242.00" stroke="#2a2a2a" stroke-width="0.6"/>
<line x1="307.40" y1="240.57" x2="309.00" y2="240.57" stroke="#2a2a2a" stroke-width="0.6"/>
<line x1="307.40" y1="239.32" x2="309.00" y2="239.32" stroke="#2a2a2a" stroke-width="0.6"/>
<line x1="306.00" y1="238.20" x2="309.00" y2="238.20" stroke="#2a2a2a" stroke-width="0.8"/>
<line x1="307.40" y1="230.82" x2="309.00" y2="230.82" stroke="#2a2a2a" stroke-width="0.6"/>
<line x1="307.40" y1="226.51" x2="309.00" y2="226.51" stroke="#2a2a2a" stroke-width="0.6"/>
<line x1="307.40" y1="223.45" x2="309.00" y2="223.45" stroke="#2a2a2a" stroke-width="0.6"/>
<line x1="307.40" y1="221.08" x2="309.00" y2="221.08" stroke="#2a2a2a" stroke-width="0.6"/>
<line x1="307.40" y1="219.14" x2="309.00" y2="219.14" stroke="#2a2a2a" stroke-width="0.6"/>
<line x1="307.40" y1="217.50" x2="309.00" y2="217.50" stroke="#2a2a2a" stroke-width="0.6"/>
<line x1="307.40" y1="216.07" x2="309.00" y2="216.07" stroke="#2a2a2a" stroke-width="0.6"/>
<line x1="307.40" y1="214.82" x2="309.00" y2="214.82" stroke="#2a2a2a" stroke-width="0.6"/>
<line x1="306.00" y1="213.70" x2="309.00" y2="213.70" stroke="#2a2a2a" stroke-width="0.8"/>
<line x1="307.40" y1="206.32" x2="309.00" y2="206.32" stroke="#2a2a2a" stroke-width="0.6"/>
<line x1="307.40" y1="202.01" x2="309.00" y2="202.01" stroke="#2a2a2a" stroke-width="0.6"/>
<line x1="307.40" y1="198.95" x2="309.00" y2="198.95" stroke="#2a2a2a" stroke-width="0.6"/>
<line x1="307.40" y1="196.58" x2="309.00" y2="196.58" stroke="#2a2a2a" stroke-width="0.6"/>
<line x1="307.40" y1="194.64" x2="309.00" y2="194.64" stroke="#2a2a2a" stroke-width="0.6"/>
<line x1="307.40" y1="193.00" x2="309.00" y2="193.00" stroke="#2a2a2a" stroke-width="0.6"/>
<line x1="307.40" y1="191.57" x2="309.00" y2="191.57" stroke="#2a2a2a" stroke-width="0.6"/>
<line x1="307.40" y1="190.32" x2="309.00" y2="190.32" stroke="#2a2a2a" stroke-width="0.6"/>
<line x1="306.00" y1="189.20" x2="309.00" y2="189.20" stroke="#2a2a2a" stroke-width="0.8"/>
<line x1="309.00" y1="287.20" x2="309.00" y2="290.20" stroke="#2a2a2a" stroke-width="0.8"/>
<line x1="316.32" y1="287.20" x2="316.32" y2="288.80" stroke="#2a2a2a" stroke-width="0.6"/>
<line x1="320.61" y1="287.20" x2="320.61" y2="288.80" stroke="#2a2a2a" stroke-width="0.6"/>
<line x1="323.65" y1="287.20" x2="323.65" y2="288.80" stroke="#2a2a2a" stroke-width="0.6"/>
<line x1="326.00" y1="287.20" x2="326.00" y2="288.80" stroke="#2a2a2a" stroke-width="0.6"/>
<line x1="327.93" y1="287.20" x2="327.93" y2="288.80" stroke="#2a2a2a" stroke-width="0.6"/>
<line x1="329.56" y1="287.20" x2="329.56" y2="288.80" stroke="#2a2a2a" stroke-width="0.6"/>
<line x1="330.97" y1="287.20" x2="330.97" y2="288.80" stroke="#2a2a2a" stroke-width="0.6"/>
<line x1="332.21" y1="287.20" x2="332.21" y2="288.80" stroke="#2a2a2a" stroke-width="0.6"/>
<line x1="333.32" y1="287.20" x2="333.32" y2="290.20" stroke="#2a2a2a" stroke-width="0.8"/>
<line x1="340.65" y1="287.20" x2="340.65" y2="288.80" stroke="#2a2a2a" stroke-width="0.6"/>
<line x1="344.93" y1="287.20" x2="344.93" y2="288.80" stroke="#2a2a2a" stroke-width="0.6"/>
<line x1="347.97" y1="287.20" x2="347.97" y2="288.80" stroke="#2a2a2a" stroke-width="0.6"/>
<line x1="350.33" y1="287.20" x2="350.33" y2="288.80" stroke="#2a2a2a" stroke-width="0.6"/>
<line x1="352.25" y1="287.20" x2="352.25" y2="288.80" stroke="#2a2a2a" stroke-width="0.6"/>
<line x1="353.88" y1="287.20" x2="353.88" y2="288.80" stroke="#2a2a2a" stroke-width="0.6"/>
<line x1="355.29" y1="287.20" x2="355.29" y2="288.80" stroke="#2a2a2a" stroke-width="0.6"/>
<line x1="356.54" y1="287.20" x2="356.54" y2="288.80" stroke="#2a2a2a" stroke-width="0.6"/>
<line x1="357.65" y1="287.20" x2="357.65" y2="290.20" stroke="#2a2a2a" stroke-width="0.8"/>
<line x1="364.97" y1="287.20" x2="364.97" y2="288.80" stroke="#2a2a2a" stroke-width="0.6"/>
<line x1="369.26" y1="287.20" x2="369.26" y2="288.80" stroke="#2a2a2a" stroke-width="0.6"/>
<line x1="372.30" y1="287.20" x2="372.30" y2="288.80" stroke="#2a2a2a" stroke-width="0.6"/>
<line x1="374.65" y1="287.20" x2="374.65" y2="288.80" stroke="#2a2a2a" stroke-width="0.6"/>
<line x1="376.58" y1="287.20" x2="376.58" y2="288.80" stroke="#2a2a2a" stroke-width="0.6"/>
<line x1="378.21" y1="287.20" x2="378.21" y2="288.80" stroke="#2a2a2a" stroke-width="0.6"/>
<line x1="379.62" y1="287.20" x2="379.62" y2="288.80" stroke="#2a2a2a" stroke-width="0.6"/>
<line x1="380.86" y1="287.20" x2="380.86" y2="288.80" stroke="#2a2a2a" stroke-width="0.6"/>
<line x1="381.98" y1="287.20" x2="381.98" y2="290.20" stroke="#2a2a2a" stroke-width="0.8"/>
<line x1="389.30" y1="287.20" x2="389.30" y2="288.80" stroke="#2a2a2a" stroke-width="0.6"/>
<line x1="393.58" y1="287.20" x2="393.58" y2="288.80" stroke="#2a2a2a" stroke-width="0.6"/>
<line x1="396.62" y1="287.20" x2="396.62" y2="288.80" stroke="#2a2a2a" stroke-width="0.6"/>
<line x1="398.98" y1="287.20" x2="398.98" y2="288.80" stroke="#2a2a2a" stroke-width="0.6"/>
<line x1="400.90" y1="287.20" x2="400.90" y2="288.80" stroke="#2a2a2a" stroke-width="0.6"/>
<line x1="402.53" y1="287.20" x2="402.53" y2="288.80" stroke="#2a2a2a" stroke-width="0.6"/>
<line x1="403.94" y1="287.20" x2="403.94" y2="288.80" stroke="#2a2a2a" stroke-width="0.6"/>
<line x1="405.19" y1="287.20" x2="405.19" y2="288.80" stroke="#2a2a2a" stroke-width="0.6"/>
<line x1="406.30" y1="287.20" x2="406.30" y2="290.20" stroke="#2a2a2a" stroke-width="0.8"/>
<rect x="415.60" y="189.40" width="97.30" height="97.80" fill="none" stroke="#2a2a2a" stroke-width="1.1"/>
<line x1="415.60" y1="255.50" x2="512.90" y2="255.50" stroke="#6b6b6b" stroke-width="0.9"/>
<line x1="412.60" y1="287.20" x2="415.60" y2="287.20" stroke="#2a2a2a" stroke-width="0.8"/>
<line x1="414.00" y1="279.84" x2="415.60" y2="279.84" stroke="#2a2a2a" stroke-width="0.6"/>
<line x1="414.00" y1="275.53" x2="415.60" y2="275.53" stroke="#2a2a2a" stroke-width="0.6"/>
<line x1="414.00" y1="272.48" x2="415.60" y2="272.48" stroke="#2a2a2a" stroke-width="0.6"/>
<line x1="414.00" y1="270.11" x2="415.60" y2="270.11" stroke="#2a2a2a" stroke-width="0.6"/>
<line x1="414.00" y1="268.17" x2="415.60" y2="268.17" stroke="#2a2a2a" stroke-width="0.6"/>
<line x1="414.00" y1="266.54" x2="415.60" y2="266.54" stroke="#2a2a2a" stroke-width="0.6"/>
<line x1="414.00" y1="265.12" x2="415.60" y2="265.12" stroke="#2a2a2a" stroke-width="0.6"/>
<line x1="414.00" y1="263.87" x2="415.60" y2="263.87" stroke="#2a2a2a" stroke-width="0.6"/>
<line x1="412.60" y1="262.75" x2="415.60" y2="262.75" stroke="#2a2a2a" stroke-width="0.8"/>
<line x1="414.00" y1="255.39" x2="415.60" y2="255.39" stroke="#2a2a2a" stroke-width="0.6"/>
<line x1="414.00" y1="251.08" x2="415.60" y2="251.08" stroke="#2a2a2a" stroke-width="0.6"/>
<line x1="414.00" y1="248.03" x2="415.60" y2="248.03" stroke="#2a2a2a" stroke-width="0.6"/>
<line x1="414.00" y1="245.66" x2="415.60" y2="245.66" stroke="#2a2a2a" stroke-width="0.6"/>
<line x1="414.00" y1="243.72" x2="415.60" y2="243.72" stroke="#2a2a2a" stroke-width="0.6"/>
<line x1="414.00" y1="242.09" x2="415.60" y2="242.09" stroke="#2a2a2a" stroke-width="0.6"/>
<line x1="414.00" y1="240.67" x2="415.60" y2="240.67" stroke="#2a2a2a" stroke-width="0.6"/>
<line x1="414.00" y1="239.42" x2="415.60" y2="239.42" stroke="#2a2a2a" stroke-width="0.6"/>
<line x1="412.60" y1="238.30" x2="415.60" y2="238.30" stroke="#2a2a2a" stroke-width="0.8"/>
<line x1="414.00" y1="230.94" x2="415.60" y2="230.94" stroke="#2a2a2a" stroke-width="0.6"/>
<line x1="414.00" y1="226.63" x2="415.60" y2="226.63" stroke="#2a2a2a" stroke-width="0.6"/>
<line x1="414.00" y1="223.58" x2="415.60" y2="223.58" stroke="#2a2a2a" stroke-width="0.6"/>
<line x1="414.00" y1="221.21" x2="415.60" y2="221.21" stroke="#2a2a2a" stroke-width="0.6"/>
<line x1="414.00" y1="219.27" x2="415.60" y2="219.27" stroke="#2a2a2a" stroke-width="0.6"/>
<line x1="414.00" y1="217.64" x2="415.60" y2="217.64" stroke="#2a2a2a" stroke-width="0.6"/>
<line x1="414.00" y1="216.22" x2="415.60" y2="216.22" stroke="#2a2a2a" stroke-width="0.6"/>
<line x1="414.00" y1="214.97" x2="415.60" y2="214.97" stroke="#2a2a2a" stroke-width="0.6"/>
<line x1="412.60" y1="213.85" x2="415.60" y2="213.85" stroke="#2a2a2a" stroke-width="0.8"/>
<line x1="414.00" y1="206.49" x2="415.60" y2="206.49" stroke="#2a2a2a" stroke-width="0.6"/>
<line x1="414.00" y1="202.18" x2="415.60" y2="202.18" stroke="#2a2a2a" stroke-width="0.6"/>
<line x1="414.00" y1="199.13" x2="415.60" y2="199.13" stroke="#2a2a2a" stroke-width="0.6"/>
<line x1="414.00" y1="196.76" x2="415.60" y2="196.76" stroke="#2a2a2a" stroke-width="0.6"/>
<line x1="414.00" y1="194.82" x2="415.60" y2="194.82" stroke="#2a2a2a" stroke-width="0.6"/>
<line x1="414.00" y1="193.19" x2="415.60" y2="193.19" stroke="#2a2a2a" stroke-width="0.6"/>
<line x1="414.00" y1="191.77" x2="415.60" y2="191.77" stroke="#2a2a2a" stroke-width="0.6"/>
<line x1="414.00" y1="190.52" x2="415.60" y2="190.52" stroke="#2a2a2a" stroke-width="0.6"/>
<line x1="412.60" y1="189.40" x2="415.60" y2="189.40" stroke="#2a2a2a" stroke-width="0.8"/>
<line x1="415.60" y1="287.20" x2="415.60" y2="290.20" stroke="#2a2a2a" stroke-width="0.8"/>
<line x1="422.92" y1="287.20" x2="422.92" y2="288.80" stroke="#2a2a2a" stroke-width="0.6"/>
<line x1="427.21" y1="287.20" x2="427.21" y2="288.80" stroke="#2a2a2a" stroke-width="0.6"/>
<line x1="430.25" y1="287.20" x2="430.25" y2="288.80" stroke="#2a2a2a" stroke-width="0.6"/>
<line x1="432.60" y1="287.20" x2="432.60" y2="288.80" stroke="#2a2a2a" stroke-width="0.6"/>
<line x1="434.53" y1="287.20" x2="434.53" y2="288.80" stroke="#2a2a2a" stroke-width="0.6"/>
<line x1="436.16" y1="287.20" x2="436.16" y2="288.80" stroke="#2a2a2a" stroke-width="0.6"/>
<line x1="437.57" y1="287.20" x2="437.57" y2="288.80" stroke="#2a2a2a" stroke-width="0.6"/>
<line x1="438.81" y1="287.20" x2="438.81" y2="288.80" stroke="#2a2a2a" stroke-width="0.6"/>
<line x1="439.93" y1="287.20" x2="439.93" y2="290.20" stroke="#2a2a2a" stroke-width="0.8"/>
<line x1="447.25" y1="287.20" x2="447.25" y2="288.80" stroke="#2a2a2a" stroke-width="0.6"/>
<line x1="451.53" y1="287.20" x2="451.53" y2="288.80" stroke="#2a2a2a" stroke-width="0.6"/>
<line x1="454.57" y1="287.20" x2="454.57" y2="288.80" stroke="#2a2a2a" stroke-width="0.6"/>
<line x1="456.93" y1="287.20" x2="456.93" y2="288.80" stroke="#2a2a2a" stroke-width="0.6"/>
<line x1="458.85" y1="287.20" x2="458.85" y2="288.80" stroke="#2a2a2a" stroke-width="0.6"/>
<line x1="460.48" y1="287.20" x2="460.48" y2="288.80" stroke="#2a2a2a" stroke-width="0.6"/>
<line x1="461.89" y1="287.20" x2="461.89" y2="288.80" stroke="#2a2a2a" stroke-width="0.6"/>
<line x1="463.14" y1="287.20" x2="463.14" y2="288.80" stroke="#2a2a2a" stroke-width="0.6"/>
<line x1="464.25" y1="287.20" x2="464.25" y2="290.20" stroke="#2a2a2a" stroke-width="0.8"/>
<line x1="471.57" y1="287.20" x2="471.57" y2="288.80" stroke="#2a2a2a" stroke-width="0.6"/>
<line x1="475.86" y1="287.20" x2="475.86" y2="288.80" stroke="#2a2a2a" stroke-width="0.6"/>
<line x1="478.90" y1="287.20" x2="478.90" y2="288.80" stroke="#2a2a2a" stroke-width="0.6"/>
<line x1="481.25" y1="287.20" x2="481.25" y2="288.80" stroke="#2a2a2a" stroke-width="0.6"/>
<line x1="483.18" y1="287.20" x2="483.18" y2="288.80" stroke="#2a2a2a" stroke-width="0.6"/>
<line x1="484.81" y1="287.20" x2="484.81" y2="288.80" stroke="#2a2a2a" stroke-width="0.6"/>
<line x1="486.22" y1="287.20" x2="486.22" y2="288.80" stroke="#2a2a2a" stroke-width="0.6"/>
<line x1="487.46" y1="287.20" x2="487.46" y2="288.80" stroke="#2a2a2a" stroke-width="0.6"/>
<line x1="488.57" y1="287.20" x2="488.57" y2="290.20" stroke="#2a2a2a" stroke-width="0.8"/>
<line x1="495.90" y1="287.20" x2="495.90" y2="288.80" stroke="#2a2a2a" stroke-width="0.6"/>
<line x1="500.18" y1="287.20" x2="500.18" y2="288.80" stroke="#2a2a2a" stroke-width="0.6"/>
<line x1="503.22" y1="287.20" x2="503.22" y2="288.80" stroke="#2a2a2a" stroke-width="0.6"/>
<line x1="505.58" y1="287.20" x2="505.58" y2="288.80" stroke="#2a2a2a" stroke-width="0.6"/>
<line x1="507.50" y1="287.20" x2="507.50" y2="288.80" stroke="#2a2a2a" stroke-width="0.6"/>
<line x1="509.13" y1="287.20" x2="509.13" y2="288.80" stroke="#2a2a2a" stroke-width="0.6"/>
<line x1="510.54" y1="287.20" x2="510.54" y2="288.80" stroke="#2a2a2a" stroke-width="0.6"/>
<line x1="511.79" y1="287.20" x2="511.79" y2="288.80" stroke="#2a2a2a" stroke-width="0.6"/>
<line x1="512.90" y1="287.20" x2="512.90" y2="290.20" stroke="#2a2a2a" stroke-width="0.8"/>
<text x="358.00" y="183.60" font-size="10.2" text-anchor="middle" fill="#1a1a1a" textLength="19.40" lengthAdjust="spacingAndGlyphs" >CD8</text>
<text x="464.20" y="183.50" font-size="10.2" text-anchor="middle" fill="#1a1a1a" textLength="19.00" lengthAdjust="spacingAndGlyphs" >CD4</text>
<text x="373.20" y="213.60" font-size="8.5" text-anchor="middle" fill="#333" textLength="21.20" lengthAdjust="spacingAndGlyphs" >15.3%</text>
<text x="481.40" y="213.70" font-size="8.5" text-anchor="middle" fill="#333" textLength="16.20" lengthAdjust="spacingAndGlyphs" >1.5%</text>
<line x1="297.40" y1="261.80" x2="297.40" y2="193.00" stroke="#3a3a3a" stroke-width="1"/>
<path d="M297.4 188.8 L294.9 194.4 L299.9 194.4 Z" fill="#111"/>
<line x1="333.70" y1="298.75" x2="507.50" y2="298.75" stroke="#3a3a3a" stroke-width="1"/>
<path d="M512.5 298.75 L506.6 296.35 L506.6 301.15 Z" fill="#111"/>
<text x="321.10" y="301.80" font-size="9.8" text-anchor="middle" fill="#1a1a1a" textLength="11.80" lengthAdjust="spacingAndGlyphs" stroke="#1a1a1a" stroke-width="0.25" >CD3</text>
<text x="299.6" y="282.4" font-size="9.8" text-anchor="start" fill="#1a1a1a" stroke="#1a1a1a" stroke-width="0.25" textLength="14.2" lengthAdjust="spacingAndGlyphs" transform="rotate(-90 299.6 282.4)">IFN<tspan font-size="6.8" dy="1.0">γ</tspan></text>
<text x="7.60" y="329.40" font-size="11" text-anchor="start" fill="#000" font-weight="bold" >E</text>
<rect x="99.00" y="332.10" width="4.90" height="4.90" fill="#d6917f" />
<text x="106.70" y="336.90" font-size="8.0" text-anchor="start" fill="#2a2a2a" textLength="30.80" lengthAdjust="spacingAndGlyphs" stroke="#2a2a2a" stroke-width="0.05" >Unpulsed</text>
<rect x="147.20" y="332.10" width="4.90" height="4.90" fill="#a8002c" />
<text x="155.10" y="336.90" font-size="8.0" text-anchor="start" fill="#2a2a2a" textLength="69.60" lengthAdjust="spacingAndGlyphs" stroke="#2a2a2a" stroke-width="0.05" >Pulsed (Peptide #48)</text>
<line x1="55.10" y1="341.70" x2="55.10" y2="412.90" stroke="#444" stroke-width="1.2"/>
<line x1="52.10" y1="412.30" x2="55.10" y2="412.30" stroke="#444" stroke-width="1"/>
<text x="48.40" y="414.90" font-size="8.5" text-anchor="end" fill="#231f20" textLength="11.85" lengthAdjust="spacingAndGlyphs" stroke="#231f20" stroke-width="0.1" >0%</text>
<line x1="52.10" y1="395.35" x2="55.10" y2="395.35" stroke="#444" stroke-width="1"/>
<text x="48.40" y="397.95" font-size="8.5" text-anchor="end" fill="#231f20" textLength="16.30" lengthAdjust="spacingAndGlyphs" stroke="#231f20" stroke-width="0.1" >20%</text>
<line x1="52.10" y1="378.40" x2="55.10" y2="378.40" stroke="#444" stroke-width="1"/>
<text x="48.40" y="381.00" font-size="8.5" text-anchor="end" fill="#231f20" textLength="16.30" lengthAdjust="spacingAndGlyphs" stroke="#231f20" stroke-width="0.1" >40%</text>
<line x1="52.10" y1="361.45" x2="55.10" y2="361.45" stroke="#444" stroke-width="1"/>
<text x="48.40" y="364.05" font-size="8.5" text-anchor="end" fill="#231f20" textLength="16.30" lengthAdjust="spacingAndGlyphs" stroke="#231f20" stroke-width="0.1" >60%</text>
<line x1="52.10" y1="344.50" x2="55.10" y2="344.50" stroke="#444" stroke-width="1"/>
<text x="48.40" y="347.10" font-size="8.5" text-anchor="end" fill="#231f20" textLength="16.30" lengthAdjust="spacingAndGlyphs" stroke="#231f20" stroke-width="0.1" >80%</text>
<rect x="65.96" y="400.86" width="10.20" height="11.44" fill="#d6917f" />
<rect x="76.16" y="352.98" width="10.20" height="59.33" fill="#a8002c" />
<line x1="71.06" y1="400.86" x2="71.06" y2="397.89" stroke="#231f20" stroke-width="1"/>
<line x1="69.26" y1="397.89" x2="72.86" y2="397.89" stroke="#231f20" stroke-width="1"/>
<line x1="81.26" y1="352.98" x2="81.26" y2="347.89" stroke="#231f20" stroke-width="1"/>
<line x1="79.46" y1="347.89" x2="83.06" y2="347.89" stroke="#231f20" stroke-width="1"/>
<rect x="108.08" y="402.55" width="10.20" height="9.75" fill="#d6917f" />
<rect x="118.28" y="395.77" width="10.20" height="16.53" fill="#a8002c" />
<line x1="113.18" y1="402.55" x2="113.18" y2="400.86" stroke="#231f20" stroke-width="1"/>
<line x1="111.38" y1="400.86" x2="114.98" y2="400.86" stroke="#231f20" stroke-width="1"/>
<line x1="123.38" y1="395.77" x2="123.38" y2="388.15" stroke="#231f20" stroke-width="1"/>
<line x1="121.58" y1="388.15" x2="125.18" y2="388.15" stroke="#231f20" stroke-width="1"/>
<rect x="150.20" y="402.55" width="10.20" height="9.75" fill="#d6917f" />
<rect x="160.40" y="393.23" width="10.20" height="19.07" fill="#a8002c" />
<line x1="155.30" y1="402.55" x2="155.30" y2="400.44" stroke="#231f20" stroke-width="1"/>
<line x1="153.50" y1="400.44" x2="157.10" y2="400.44" stroke="#231f20" stroke-width="1"/>
<line x1="165.50" y1="393.23" x2="165.50" y2="386.03" stroke="#231f20" stroke-width="1"/>
<line x1="163.70" y1="386.03" x2="167.30" y2="386.03" stroke="#231f20" stroke-width="1"/>
<rect x="192.32" y="404.25" width="10.20" height="8.05" fill="#d6917f" />
<rect x="202.52" y="402.55" width="10.20" height="9.75" fill="#a8002c" />
<line x1="197.42" y1="404.25" x2="197.42" y2="400.44" stroke="#231f20" stroke-width="1"/>
<line x1="195.62" y1="400.44" x2="199.22" y2="400.44" stroke="#231f20" stroke-width="1"/>
<line x1="207.62" y1="402.55" x2="207.62" y2="400.44" stroke="#231f20" stroke-width="1"/>
<line x1="205.82" y1="400.44" x2="209.42" y2="400.44" stroke="#231f20" stroke-width="1"/>
<rect x="234.44" y="400.86" width="10.20" height="11.44" fill="#d6917f" />
<rect x="244.64" y="350.86" width="10.20" height="61.44" fill="#a8002c" />
<line x1="239.54" y1="400.86" x2="239.54" y2="397.05" stroke="#231f20" stroke-width="1"/>
<line x1="237.74" y1="397.05" x2="241.34" y2="397.05" stroke="#231f20" stroke-width="1"/>
<line x1="249.74" y1="350.86" x2="249.74" y2="347.89" stroke="#231f20" stroke-width="1"/>
<line x1="247.94" y1="347.89" x2="251.54" y2="347.89" stroke="#231f20" stroke-width="1"/>
<line x1="55.10" y1="412.30" x2="268.30" y2="412.30" stroke="#444" stroke-width="1.2"/>
<line x1="55.10" y1="412.30" x2="55.10" y2="415.30" stroke="#444" stroke-width="1"/>
<line x1="97.22" y1="412.30" x2="97.22" y2="415.30" stroke="#444" stroke-width="1"/>
<line x1="139.34" y1="412.30" x2="139.34" y2="415.30" stroke="#444" stroke-width="1"/>
<line x1="181.46" y1="412.30" x2="181.46" y2="415.30" stroke="#444" stroke-width="1"/>
<line x1="223.58" y1="412.30" x2="223.58" y2="415.30" stroke="#444" stroke-width="1"/>
<line x1="265.70" y1="412.30" x2="265.70" y2="415.30" stroke="#444" stroke-width="1"/>
<text x="76.20" y="425.60" font-size="8.2" text-anchor="middle" fill="#222" textLength="39.50" lengthAdjust="spacingAndGlyphs" stroke="#222" stroke-width="0.05" >Autologous</text>
<text x="76.10" y="435.10" font-size="8.2" text-anchor="middle" fill="#222" textLength="37.50" lengthAdjust="spacingAndGlyphs" stroke="#222" stroke-width="0.05" >PHA blasts</text>
<text x="118.28" y="425.60" font-size="8.2" text-anchor="middle" fill="#222" textLength="14.10" lengthAdjust="spacingAndGlyphs" stroke="#222" stroke-width="0.05" >A24</text>
<text x="160.40" y="425.60" font-size="8.2" text-anchor="middle" fill="#222" textLength="14.10" lengthAdjust="spacingAndGlyphs" stroke="#222" stroke-width="0.05" >A29</text>
<text x="202.52" y="425.60" font-size="8.2" text-anchor="middle" fill="#222" textLength="14.10" lengthAdjust="spacingAndGlyphs" stroke="#222" stroke-width="0.05" >B35</text>
<text x="244.64" y="425.60" font-size="8.2" text-anchor="middle" fill="#222" textLength="9.60" lengthAdjust="spacingAndGlyphs" stroke="#222" stroke-width="0.05" >B7</text>
<line x1="111.80" y1="431.20" x2="252.30" y2="431.20" stroke="#444" stroke-width="1"/>
<text x="182.50" y="440.80" font-size="8.2" text-anchor="middle" fill="#222" textLength="112.60" lengthAdjust="spacingAndGlyphs" stroke="#222" stroke-width="0.05" >Partial HLA-matched PHA blasts</text>
<text x="25.8" y="376.5" font-size="8.8" text-anchor="middle" fill="#231f20" stroke="#231f20" stroke-width="0.25" textLength="46.2" lengthAdjust="spacingAndGlyphs" transform="rotate(-90 25.8 376.5)">% specific lysis</text>
<path d="M0 0H520V1.1H0Z M0 0H1.1V450H0Z M518.9 0H520V450H518.9Z M0 448.9H520V450H0Z" fill="#000"/>
</svg>
</body></html>
